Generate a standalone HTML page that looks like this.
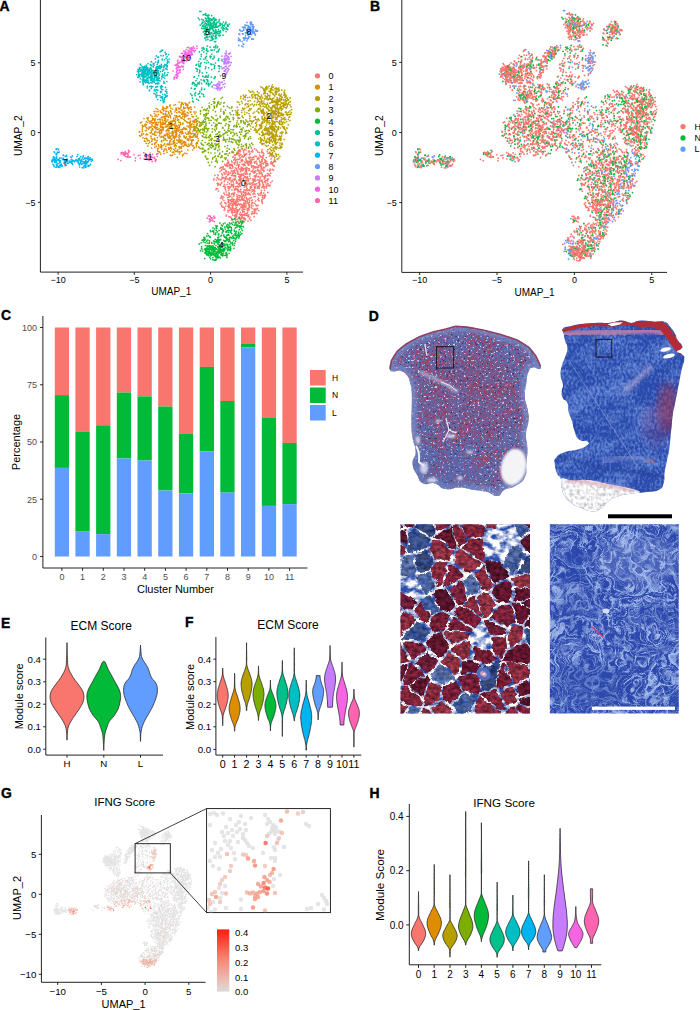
<!DOCTYPE html>
<html><head><meta charset="utf-8"><title>Figure</title>
<style>
html,body{margin:0;padding:0;background:#fff;}
body{width:700px;height:1010px;overflow:hidden;}
svg{display:block;font-family:"Liberation Sans",sans-serif;}
</style></head><body>
<svg width="700" height="1010" viewBox="0 0 700 1010">
<rect width="700" height="1010" fill="#fff"/>
<text transform="translate(-0.5 10.7) scale(0.93 1)" font-size="15" font-weight="bold" fill="#000" stroke="#000" stroke-width="0.4">A</text>
<path d="M40.4 0V272.1H303" fill="none" stroke="#222" stroke-width="1"/>
<line x1="37.8" y1="202.3" x2="40.4" y2="202.3" stroke="#222" stroke-width="1"/>
<text x="35.4" y="205.6" font-size="9" text-anchor="end" fill="#000" >−5</text>
<line x1="37.8" y1="132.6" x2="40.4" y2="132.6" stroke="#222" stroke-width="1"/>
<text x="35.4" y="135.8" font-size="9" text-anchor="end" fill="#000" >0</text>
<line x1="37.8" y1="62.8" x2="40.4" y2="62.8" stroke="#222" stroke-width="1"/>
<text x="35.4" y="66.1" font-size="9" text-anchor="end" fill="#000" >5</text>
<line x1="58.1" y1="272.1" x2="58.1" y2="274.7" stroke="#222" stroke-width="1"/>
<text x="58.1" y="282.9" font-size="9" text-anchor="middle" fill="#000" >−10</text>
<line x1="134.3" y1="272.1" x2="134.3" y2="274.7" stroke="#222" stroke-width="1"/>
<text x="134.3" y="282.9" font-size="9" text-anchor="middle" fill="#000" >−5</text>
<line x1="210.6" y1="272.1" x2="210.6" y2="274.7" stroke="#222" stroke-width="1"/>
<text x="210.6" y="282.9" font-size="9" text-anchor="middle" fill="#000" >0</text>
<line x1="286.9" y1="272.1" x2="286.9" y2="274.7" stroke="#222" stroke-width="1"/>
<text x="286.9" y="282.9" font-size="9" text-anchor="middle" fill="#000" >5</text>
<text x="171.2" y="295" font-size="10" text-anchor="middle" fill="#000" >UMAP_1</text>
<text transform="translate(21.5 135.7) rotate(-90)" font-size="10.2" text-anchor="middle" fill="#000" >UMAP_2</text>
<path d="M252.2 185.0h0M252.8 194.0h0M241.7 197.4h0M261.0 170.8h0M244.3 189.9h0M248.0 221.1h0M254.3 186.6h0M234.7 175.7h0M237.1 209.7h0M263.1 158.6h0M247.9 163.7h0M218.1 175.6h0M235.1 157.7h0M229.0 199.9h0M232.9 201.8h0M237.1 189.4h0M250.1 184.4h0M240.3 171.6h0M240.0 162.4h0M272.0 163.3h0M243.1 207.2h0M264.1 188.2h0M263.2 198.6h0M246.0 159.7h0M264.1 187.7h0M239.2 176.8h0M262.7 195.3h0M240.7 177.7h0M260.1 173.7h0M257.3 186.0h0M228.1 162.7h0M215.9 189.4h0M256.0 176.2h0M249.0 158.5h0M266.8 180.4h0M267.6 180.9h0M253.7 157.2h0M239.9 208.7h0M249.7 176.0h0M249.2 151.7h0M233.2 201.8h0M264.7 196.9h0M245.4 162.7h0M218.0 175.1h0M243.8 165.6h0M270.7 163.0h0M262.3 203.3h0M240.8 189.6h0M242.8 160.7h0M234.7 215.4h0M238.8 150.2h0M249.5 218.9h0M254.2 172.9h0M229.6 177.8h0M235.6 220.0h0M254.7 187.9h0M224.9 209.8h0M225.1 202.9h0M244.2 214.4h0M249.6 207.0h0M229.4 188.8h0M250.0 153.5h0M243.6 152.1h0M242.1 167.9h0M265.6 182.3h0M254.0 209.4h0M257.5 208.3h0M222.6 198.8h0M247.0 214.6h0M233.3 204.9h0M249.2 206.2h0M234.8 192.8h0M237.4 182.9h0M243.6 192.5h0M250.8 163.9h0M240.4 180.2h0M245.3 154.9h0M265.1 194.7h0M242.3 205.1h0M248.6 164.2h0M251.6 187.4h0M252.8 179.1h0M249.9 190.2h0M240.4 178.4h0M258.5 176.4h0M252.1 208.6h0M236.3 181.0h0M252.3 159.0h0M232.9 166.5h0M229.0 202.7h0M237.5 162.0h0M247.4 212.8h0M267.3 151.1h0M237.2 162.2h0M241.2 218.2h0M230.7 177.8h0M227.8 160.2h0M238.6 190.7h0M235.2 189.6h0M239.3 218.5h0M232.6 206.0h0M236.4 214.7h0M236.2 159.8h0M235.1 216.7h0M222.8 178.4h0M249.8 162.5h0M231.4 175.5h0M243.8 218.4h0M272.3 169.3h0M244.8 195.5h0M234.9 202.0h0M246.7 180.3h0M251.1 205.2h0M224.0 210.0h0M251.0 187.3h0M238.4 165.6h0M254.3 176.5h0M235.4 173.5h0M248.5 163.9h0M230.1 204.0h0M232.5 165.2h0M263.7 193.0h0M250.9 220.3h0M248.3 216.7h0M243.7 200.3h0M248.3 168.5h0M249.0 170.5h0M223.3 186.3h0M238.8 199.1h0M230.3 167.4h0M214.9 175.3h0M238.9 155.1h0M243.6 191.4h0M234.6 189.1h0M250.3 157.4h0M249.5 158.4h0M252.4 150.2h0M235.3 189.2h0M224.4 180.9h0M254.3 209.7h0M238.7 203.9h0M223.2 166.9h0M236.0 202.8h0M237.2 219.5h0M240.5 176.5h0M259.4 187.8h0M233.7 208.4h0M263.8 153.8h0M234.0 212.3h0M226.8 165.7h0M241.1 214.3h0M218.8 184.0h0M244.5 149.3h0M256.6 183.5h0M236.8 210.3h0M236.2 183.0h0M240.3 212.3h0M261.1 166.9h0M269.1 153.5h0M223.5 177.6h0M238.8 217.3h0M235.1 162.6h0M246.6 213.8h0M221.5 179.0h0M244.3 211.8h0M257.4 158.7h0M231.5 218.5h0M232.7 185.2h0M231.6 161.1h0M256.9 205.8h0M274.0 165.9h0M217.3 183.6h0M256.2 161.1h0M220.2 171.3h0M257.6 187.8h0M252.1 182.8h0M242.8 211.5h0M232.0 197.1h0M251.9 183.4h0M238.2 186.9h0M263.0 152.7h0M241.8 175.7h0M221.5 202.4h0M255.3 196.5h0M249.1 183.5h0M262.1 159.2h0M232.2 207.1h0M259.5 155.0h0M244.5 176.7h0M240.3 219.4h0M250.3 194.8h0M243.4 194.9h0M226.1 203.7h0M221.9 167.7h0M233.4 170.9h0M272.2 181.1h0M243.7 168.5h0M261.5 167.1h0M255.7 180.6h0M268.7 174.1h0M243.3 205.4h0M244.7 155.5h0M247.6 212.0h0M231.4 212.1h0M239.4 164.9h0M248.4 165.2h0M242.2 170.7h0M261.8 161.4h0M262.1 176.2h0M248.9 207.5h0M258.6 198.2h0M234.5 179.9h0M265.9 162.0h0M263.9 171.6h0M241.9 214.3h0M267.4 173.7h0M225.7 179.5h0M245.7 170.2h0M260.2 155.9h0M235.9 215.1h0M251.6 203.3h0M263.5 167.3h0M235.2 218.9h0M254.7 181.1h0M223.8 207.1h0M246.8 193.9h0M234.9 219.0h0M258.0 199.8h0M217.7 183.0h0M236.4 204.8h0M244.6 214.9h0M249.9 183.2h0M236.7 199.3h0M242.4 159.5h0M252.8 213.5h0M270.7 182.5h0M256.3 167.0h0M245.8 195.6h0M242.2 175.1h0M237.1 183.1h0M243.7 206.5h0M238.2 150.9h0M248.3 192.8h0M236.6 223.8h0M246.2 162.8h0M230.3 187.1h0M259.3 182.3h0M233.9 159.9h0M262.3 160.9h0M235.7 186.5h0M254.3 176.2h0M231.2 203.1h0M262.2 180.6h0M268.1 184.8h0M228.0 206.2h0M233.0 219.6h0M254.7 163.1h0M238.9 195.3h0M255.6 166.9h0M247.0 201.2h0M239.3 183.3h0M262.8 156.9h0M245.4 201.8h0M273.8 155.9h0M232.5 201.1h0M243.8 150.4h0M240.2 186.3h0M246.4 197.9h0M244.8 162.1h0M266.4 187.9h0M236.5 209.5h0M249.4 168.8h0M233.7 186.1h0M232.4 212.9h0M247.5 176.9h0M254.1 216.7h0M254.0 184.8h0M258.5 165.5h0M238.2 210.6h0M243.7 195.7h0M232.8 203.9h0M244.9 209.4h0M259.0 171.8h0M237.9 159.6h0M256.9 163.0h0M266.2 157.5h0M246.4 171.4h0M240.7 200.1h0M255.4 210.6h0M235.5 216.5h0M239.5 214.2h0M257.0 173.8h0M237.4 200.2h0M249.3 189.6h0M260.0 165.8h0M234.4 210.2h0M251.1 160.9h0M248.1 161.7h0M238.5 222.4h0M261.7 187.5h0M242.7 155.9h0M229.9 179.4h0M228.7 162.0h0M252.9 202.7h0M245.9 150.0h0M235.9 212.4h0M251.7 162.7h0M220.9 167.4h0M219.1 179.4h0M241.3 214.7h0M274.4 166.1h0M238.1 172.8h0M253.0 194.1h0M265.2 177.7h0M245.5 174.2h0M240.5 215.1h0M226.1 191.9h0M247.4 163.0h0M265.1 160.3h0M254.0 159.0h0M261.3 192.3h0M265.8 166.1h0M246.5 185.7h0M235.6 155.1h0M237.3 201.6h0M245.6 168.1h0M228.4 190.5h0M246.1 205.2h0M255.2 170.9h0M246.7 153.9h0M235.2 204.2h0M242.3 199.8h0M262.1 149.6h0M247.1 188.5h0M221.9 196.1h0M240.8 180.8h0M223.0 166.8h0M238.4 189.6h0M242.8 198.5h0M235.9 154.7h0M221.5 205.2h0M243.4 179.2h0M236.7 204.2h0M240.3 215.1h0M244.0 219.1h0M236.9 188.9h0M237.0 199.9h0M269.8 186.0h0M249.5 202.2h0M236.6 207.5h0M239.7 177.3h0M255.5 177.5h0M237.0 214.0h0M255.1 186.8h0M240.8 189.4h0M239.3 191.5h0M241.9 218.3h0M217.7 188.8h0M225.8 178.7h0M230.3 208.1h0M240.1 174.9h0M225.8 171.1h0M231.3 164.7h0M257.6 167.0h0M254.4 213.6h0M241.1 178.6h0M263.7 185.2h0M235.5 208.5h0M238.4 218.4h0M238.6 187.1h0M241.3 168.3h0M247.8 203.1h0M251.3 171.4h0M223.5 196.9h0M221.2 183.3h0M238.5 184.3h0M235.4 157.5h0M240.6 155.0h0M249.2 204.8h0M239.7 217.0h0M243.1 208.8h0M261.4 165.9h0M242.1 209.9h0M267.3 175.8h0M232.2 211.7h0M245.2 218.8h0M258.7 210.5h0M242.5 206.1h0M265.1 195.6h0M256.7 209.4h0M267.8 192.4h0M220.5 184.9h0M228.9 192.8h0M241.6 169.5h0M225.4 165.7h0M248.5 161.5h0M250.4 160.1h0M228.8 195.5h0M229.7 165.6h0M241.0 178.9h0M224.4 174.1h0M254.7 203.3h0M233.9 202.9h0M253.0 205.8h0M244.4 209.4h0M240.3 204.0h0M253.9 184.3h0M249.0 210.0h0M228.4 188.5h0M236.6 170.1h0M222.4 207.1h0M239.2 218.5h0M272.0 156.8h0M232.6 210.5h0M237.0 198.4h0M260.4 162.4h0M271.1 154.3h0M258.5 167.4h0M255.7 201.0h0M225.8 170.5h0M242.2 164.4h0M258.9 180.0h0M240.3 175.4h0M258.7 159.0h0M238.6 153.2h0M261.6 172.8h0M228.1 212.1h0M232.6 167.9h0M261.8 159.7h0M225.9 206.1h0M236.9 183.0h0M238.0 199.6h0M259.1 195.1h0M231.0 217.4h0M225.1 187.4h0M251.4 207.2h0M265.3 182.2h0M251.6 166.4h0M266.7 185.9h0M259.0 170.3h0M228.3 171.9h0M231.0 210.0h0M234.7 202.9h0M261.7 163.3h0M233.3 156.9h0M235.5 219.6h0M254.9 179.1h0M228.7 186.6h0M232.3 207.9h0M264.0 170.6h0M239.0 153.4h0M233.8 194.8h0M244.6 203.8h0M254.2 190.3h0M252.0 189.7h0M231.9 210.3h0M229.4 193.4h0M260.9 195.1h0M241.9 220.4h0M235.5 160.9h0M238.2 167.6h0M257.3 188.1h0M228.0 210.4h0M235.9 201.6h0M244.6 197.4h0M261.4 190.4h0M227.9 162.0h0M255.0 186.8h0M241.9 157.0h0M243.9 175.3h0M234.1 163.2h0M249.5 161.5h0M229.7 216.8h0M240.2 221.8h0M260.0 178.8h0M226.4 215.0h0M231.7 194.4h0M248.4 180.3h0M249.5 169.6h0M269.5 171.2h0M248.1 199.0h0M237.2 163.1h0M240.0 169.1h0M229.0 216.7h0M227.7 197.5h0M261.3 193.4h0M227.4 166.4h0M254.7 166.8h0M240.4 171.7h0M223.9 200.4h0M275.6 161.6h0M234.5 190.4h0M255.1 156.1h0M243.5 204.2h0M257.0 164.3h0M221.5 196.2h0M234.0 212.5h0M252.5 159.5h0M249.4 158.6h0M241.4 184.3h0M241.6 194.5h0M263.5 155.5h0M216.3 180.0h0M267.9 165.0h0M266.1 184.0h0M245.9 203.3h0M241.9 185.3h0M217.9 178.3h0M236.6 168.7h0M265.5 196.1h0M270.0 169.0h0M257.5 151.3h0M240.9 182.7h0M265.8 163.4h0M243.0 174.3h0M251.6 165.5h0M247.2 210.2h0M218.9 184.2h0M242.8 215.2h0M248.8 209.9h0M233.9 196.0h0M231.8 212.7h0M239.2 169.2h0M273.2 162.5h0M245.9 189.9h0M271.0 158.9h0M246.3 153.6h0M245.9 206.8h0M238.5 180.2h0M232.1 208.4h0M243.4 214.8h0M247.2 173.9h0M244.1 217.6h0M238.7 166.7h0M232.0 199.0h0M239.3 159.1h0M229.5 210.1h0M249.0 157.3h0M243.3 200.3h0M221.7 197.6h0M244.5 164.6h0M261.0 165.0h0M259.3 184.8h0M270.9 163.8h0M233.1 199.2h0M224.8 169.2h0M267.7 178.9h0M234.8 158.6h0M227.0 195.0h0M242.1 197.6h0M262.4 197.2h0M232.6 174.9h0M245.9 182.2h0M228.4 201.6h0M219.9 171.5h0M227.4 165.2h0M240.9 154.4h0M262.8 168.6h0M228.7 174.6h0M246.4 160.8h0M224.9 202.6h0M264.4 198.1h0M239.7 183.3h0M259.4 173.6h0M252.3 200.0h0M254.6 148.9h0M261.0 173.2h0M261.9 152.7h0M246.4 215.3h0M243.3 150.6h0M259.7 152.5h0M263.7 176.6h0M260.0 161.8h0M274.5 159.8h0M227.7 186.8h0M242.9 168.4h0M237.3 205.4h0M237.1 186.1h0M242.2 207.7h0M236.6 182.4h0M224.5 184.4h0M250.5 178.3h0M229.0 203.0h0M258.5 186.3h0M221.7 182.4h0M260.2 177.2h0M245.3 165.4h0M242.4 220.8h0M226.8 194.4h0M233.4 208.9h0M240.0 149.7h0M229.1 197.1h0M223.8 186.2h0M247.5 200.7h0M229.0 194.5h0M236.0 217.4h0M237.4 189.4h0M259.0 200.8h0M269.8 153.4h0M245.7 169.0h0M245.8 206.5h0M223.1 169.1h0M235.7 176.6h0M243.4 156.8h0M227.8 182.3h0M262.0 181.5h0M246.7 189.1h0M257.8 199.6h0M249.4 193.8h0M246.3 168.1h0M261.8 156.9h0M245.8 192.2h0M273.5 166.0h0M230.4 187.3h0M246.7 172.7h0M225.4 177.6h0M269.1 186.0h0M232.7 157.1h0M264.3 179.1h0M242.3 148.6h0M221.8 173.8h0M267.9 175.6h0M252.1 157.3h0M241.4 178.9h0M239.4 195.5h0M233.4 181.9h0M237.6 199.6h0M237.3 170.6h0M255.0 209.9h0M231.0 209.4h0M231.5 199.7h0M257.5 159.0h0M237.2 152.3h0M220.7 179.8h0M264.6 176.3h0M255.3 168.0h0M250.6 188.2h0M260.5 156.9h0M247.6 184.4h0M227.8 202.1h0M262.9 155.6h0M257.0 170.8h0M271.4 161.6h0M228.8 163.5h0M233.6 184.0h0M237.9 197.0h0M231.0 168.4h0M246.9 199.1h0M254.8 184.1h0M228.6 204.8h0M248.7 203.9h0M252.7 170.5h0M246.4 148.0h0M230.5 200.2h0M240.7 192.1h0M240.0 158.1h0M274.7 160.3h0M252.7 159.7h0M267.5 169.8h0M231.9 189.8h0M220.4 203.6h0M262.8 186.7h0M246.0 183.9h0M238.3 164.5h0M245.5 173.5h0M261.8 151.4h0M237.8 171.0h0M254.2 213.1h0M259.6 171.9h0M252.8 151.8h0M249.0 208.8h0M267.1 163.5h0M250.2 198.2h0M235.5 204.1h0M236.0 200.1h0M256.4 149.9h0M243.9 221.9h0M224.4 186.5h0M238.1 164.8h0M245.6 180.2h0M249.1 165.1h0M239.6 185.2h0M253.9 196.6h0M224.8 164.3h0M248.9 214.9h0M240.3 157.8h0M266.8 165.7h0M237.5 204.0h0M246.9 170.1h0M236.5 215.4h0M255.1 208.9h0M249.3 174.1h0M248.8 179.1h0M264.6 167.7h0M267.8 183.4h0M231.1 180.6h0M266.7 161.5h0M244.9 215.3h0M239.2 209.7h0M233.5 185.3h0M240.8 215.3h0M248.2 194.1h0M249.5 200.8h0M232.0 205.4h0M232.3 173.4h0M270.5 170.1h0M250.0 217.0h0M245.0 192.6h0M244.8 183.3h0M227.1 184.5h0M262.6 182.9h0M232.8 215.1h0M247.0 190.3h0M238.0 201.7h0M251.7 159.4h0M252.3 211.8h0M252.9 191.2h0M230.1 172.7h0M241.9 216.7h0M224.2 181.5h0M217.9 185.4h0M248.7 161.4h0M245.2 200.6h0M248.8 204.7h0M247.7 178.8h0M241.1 204.2h0M239.4 204.8h0M260.0 164.3h0M244.6 193.1h0M273.4 170.1h0M249.4 190.3h0M239.6 191.5h0M231.1 201.4h0M233.8 176.0h0M246.8 201.7h0M241.0 207.1h0M263.3 163.8h0M233.6 173.1h0M253.0 180.9h0M246.0 171.8h0M247.2 208.4h0M245.5 194.4h0M261.7 163.7h0M246.7 198.7h0M273.8 161.7h0M249.4 154.7h0M236.9 194.3h0M245.9 158.1h0M228.8 206.3h0M231.2 186.1h0M253.4 180.6h0M235.7 175.9h0M254.8 191.2h0M241.8 156.8h0M246.9 167.7h0M222.1 177.1h0M233.1 204.2h0M263.4 185.5h0M241.5 174.2h0M238.5 165.2h0M251.6 167.2h0M257.9 152.3h0M255.5 161.7h0M244.3 206.9h0M250.2 173.9h0M232.0 193.5h0M240.3 151.6h0M229.1 165.7h0M246.4 146.9h0M236.7 216.2h0M267.8 163.9h0M239.6 178.8h0M248.0 162.2h0M253.3 168.9h0M247.5 161.2h0M234.9 178.4h0M234.5 155.2h0M252.8 166.0h0M264.0 198.1h0M265.6 160.5h0M239.0 174.4h0M264.1 186.6h0M246.2 162.6h0M241.3 170.5h0M225.6 189.8h0M233.9 199.9h0M241.2 167.1h0M229.7 183.8h0M261.1 180.7h0M255.1 180.6h0M231.0 201.4h0M266.1 165.1h0M231.7 164.3h0M223.9 200.3h0M257.1 167.8h0M220.5 198.1h0M244.0 154.2h0M246.8 183.4h0M227.1 195.2h0M257.8 193.6h0M230.5 165.2h0M251.6 200.6h0M260.9 169.0h0M243.3 178.1h0M226.2 171.5h0M255.5 187.9h0M255.1 172.4h0M231.4 170.8h0M251.6 214.1h0M258.3 167.3h0M236.5 165.3h0M237.3 159.3h0M244.2 205.4h0M250.3 186.9h0M237.0 211.9h0M222.4 174.6h0M224.7 208.2h0M235.4 188.4h0M264.8 181.4h0M221.8 206.2h0M232.5 180.7h0M234.7 163.9h0M237.3 213.0h0M248.4 164.7h0M254.5 171.7h0M247.6 178.1h0M243.8 199.4h0M227.5 178.5h0M261.7 200.8h0M269.6 175.1h0M262.0 180.3h0M230.1 196.1h0M259.6 185.9h0M237.5 171.2h0M269.6 156.1h0M262.1 174.4h0M232.4 205.3h0M231.5 185.8h0M226.5 164.7h0M230.1 204.0h0M253.1 172.4h0M235.6 214.8h0M218.4 191.0h0M264.7 159.7h0M253.5 166.8h0M238.7 176.5h0M250.2 163.2h0M235.2 211.6h0M266.4 187.0h0M237.6 172.5h0M244.2 206.9h0M241.4 193.1h0M228.5 207.8h0M254.5 167.5h0M224.9 178.7h0M229.8 187.3h0M242.3 205.9h0M242.3 217.4h0M234.9 210.5h0M227.9 199.5h0M270.0 185.1h0M256.4 156.3h0M231.5 165.6h0M237.9 211.5h0M270.6 173.2h0M243.9 177.8h0M221.7 170.2h0M237.6 174.0h0M239.6 200.1h0M247.7 215.8h0M242.9 191.9h0M229.4 206.9h0M263.1 170.1h0M241.5 199.1h0M248.4 151.9h0M253.3 165.8h0M255.8 184.7h0M253.7 179.1h0M262.3 175.3h0M235.6 216.7h0M243.7 211.0h0M232.2 171.6h0M248.6 204.8h0M265.5 176.3h0M234.6 170.2h0M251.1 192.0h0M247.5 161.8h0M242.4 196.3h0M238.6 151.7h0M263.6 195.5h0M256.1 175.4h0M234.6 203.9h0M226.1 176.5h0M251.5 213.6h0M235.9 160.1h0M234.0 194.7h0M229.5 183.8h0M237.0 196.2h0M229.6 164.4h0M256.9 173.8h0M251.5 186.3h0M248.1 181.6h0M262.6 156.7h0M217.1 177.6h0M233.2 179.2h0M237.6 153.7h0M232.1 162.1h0M225.1 186.7h0M233.4 201.4h0M228.1 173.0h0M246.1 177.9h0M226.3 176.7h0M251.4 147.9h0M254.2 211.5h0M259.7 183.5h0M264.8 162.1h0M233.4 176.0h0M234.3 203.7h0M240.3 180.9h0M214.1 178.8h0M213.6 180.0h0M228.5 206.6h0M234.9 172.2h0M244.1 173.0h0M274.3 160.9h0M263.4 198.6h0M259.6 181.4h0M226.2 215.9h0M249.0 199.1h0M240.5 178.5h0M230.1 173.5h0M260.3 193.3h0M241.2 160.2h0M240.8 196.1h0M261.9 199.6h0M254.1 189.3h0M265.8 180.5h0M233.3 187.5h0M244.3 187.2h0M263.0 184.7h0M251.1 162.2h0M228.3 179.4h0M264.3 178.5h0M263.0 182.6h0M240.0 150.8h0M262.1 201.4h0M258.2 177.0h0M226.0 171.8h0M252.0 203.4h0M265.9 186.3h0M244.0 202.8h0M256.6 213.4h0M235.6 205.7h0M258.8 194.8h0M268.5 179.0h0M255.0 212.7h0M220.0 168.4h0M266.4 165.4h0M245.8 176.9h0M242.1 185.4h0M229.3 179.8h0M235.2 167.8h0M258.1 205.3h0M222.4 174.9h0M233.3 186.4h0M271.1 155.1h0M243.5 181.1h0M259.1 188.6h0M231.1 181.9h0M220.1 184.8h0M272.4 163.2h0M245.1 168.3h0M240.1 200.7h0M245.6 213.5h0M245.1 154.3h0M238.2 192.0h0M233.5 200.4h0M239.5 197.3h0M237.0 204.9h0M234.3 193.0h0M239.3 180.4h0M241.6 193.5h0M258.4 157.7h0M259.5 160.9h0M254.0 192.8h0M234.2 199.5h0M248.4 203.0h0M247.6 208.5h0M261.6 168.0h0M223.9 193.2h0M255.0 194.0h0M228.7 200.5h0M246.6 187.1h0M242.0 156.9h0M229.8 204.9h0M245.5 220.0h0M233.0 193.3h0M241.7 161.4h0M259.8 181.2h0M226.0 173.7h0M227.0 163.3h0M248.0 190.6h0M270.2 175.8h0M239.5 156.1h0M244.8 207.1h0M272.8 164.7h0M253.4 182.5h0M231.5 184.3h0M265.5 175.4h0M242.6 212.3h0M224.0 172.4h0M257.7 169.9h0M234.0 170.8h0M223.5 169.1h0M235.5 179.2h0M257.5 179.9h0M235.8 214.5h0M251.5 197.6h0M254.2 162.2h0M267.8 153.0h0M258.0 176.7h0M240.8 191.3h0M249.0 150.9h0M225.2 188.5h0M264.1 162.5h0M224.8 194.5h0M252.7 190.3h0M262.2 202.5h0M229.6 167.8h0M255.8 204.8h0M258.5 182.6h0M259.9 184.8h0M243.6 164.1h0M255.3 175.7h0M243.5 169.9h0M262.6 169.9h0M244.5 155.8h0M231.7 219.9h0M237.6 190.5h0M251.3 151.7h0M257.9 186.6h0M245.7 186.1h0M257.2 159.0h0M216.6 188.7h0M241.2 206.3h0M245.5 171.0h0M264.4 190.3h0M259.0 158.4h0M253.1 171.8h0M227.7 174.9h0" stroke="#F8766D" stroke-width="1.7" stroke-linecap="round" fill="none"/>
<path d="M178.9 135.6h0M197.8 130.4h0M167.6 107.1h0M196.5 136.8h0M184.2 136.6h0M180.7 123.8h0M165.3 138.8h0M194.4 135.1h0M155.4 128.4h0M176.8 112.6h0M172.5 124.3h0M196.4 132.3h0M159.9 133.9h0M193.9 120.7h0M153.6 118.9h0M170.2 115.4h0M175.0 132.6h0M156.4 129.2h0M178.2 131.0h0M178.8 147.1h0M161.4 133.1h0M173.7 152.1h0M186.5 105.0h0M172.3 121.0h0M198.6 146.9h0M174.6 137.2h0M165.4 118.1h0M153.0 129.4h0M172.8 133.9h0M172.5 125.5h0M173.0 144.0h0M155.1 139.8h0M177.0 128.2h0M166.8 130.7h0M162.3 122.6h0M149.4 121.3h0M144.8 138.6h0M154.8 138.7h0M195.4 130.4h0M147.2 140.8h0M165.3 122.8h0M180.1 132.2h0M179.7 115.7h0M185.9 105.2h0M166.6 106.7h0M183.6 107.2h0M156.0 135.1h0M183.3 142.0h0M167.1 144.6h0M140.6 136.1h0M174.5 142.5h0M176.5 131.8h0M166.9 115.2h0M176.3 136.0h0M189.8 131.2h0M176.8 133.7h0M155.9 127.6h0M179.8 151.6h0M193.1 126.7h0M187.4 107.3h0M174.3 128.7h0M165.2 120.2h0M194.1 121.2h0M172.7 124.7h0M157.2 125.5h0M151.0 136.8h0M157.8 124.6h0M165.2 108.5h0M193.2 145.8h0M161.6 131.8h0M151.4 132.1h0M162.5 127.5h0M166.9 114.9h0M191.3 124.5h0M180.0 148.1h0M191.0 107.1h0M156.1 108.6h0M173.1 143.6h0M174.5 138.8h0M147.6 140.2h0M171.7 113.7h0M150.6 115.0h0M156.1 124.4h0M189.2 145.3h0M185.6 142.4h0M163.7 110.4h0M185.4 128.4h0M194.8 107.1h0M190.8 124.7h0M177.2 126.2h0M175.3 144.1h0M199.9 124.9h0M174.7 142.6h0M154.1 111.3h0M191.3 133.9h0M166.2 130.9h0M186.4 136.9h0M151.5 138.7h0M178.8 141.4h0M170.1 104.9h0M147.6 122.5h0M182.8 124.1h0M161.8 112.7h0M162.2 117.2h0M144.9 141.2h0M170.4 121.4h0M170.5 136.7h0M168.2 144.3h0M197.2 136.9h0M157.5 148.7h0M164.4 135.0h0M154.8 122.1h0M167.9 126.0h0M189.4 136.5h0M155.9 115.2h0M153.9 126.7h0M161.5 130.4h0M161.9 149.1h0M185.0 103.0h0M179.5 127.5h0M177.5 128.6h0M188.2 113.0h0M181.0 117.7h0M148.1 117.7h0M165.9 110.9h0M170.9 111.3h0M167.9 136.6h0M173.9 105.3h0M174.1 120.6h0M180.4 122.3h0M175.4 137.1h0M157.3 132.5h0M183.4 143.0h0M190.8 111.9h0M174.6 125.5h0M166.7 108.3h0M168.7 147.6h0M139.6 135.7h0M176.6 131.0h0M197.0 135.8h0M165.0 119.2h0M172.5 152.4h0M196.0 112.1h0M190.5 112.5h0M194.0 124.6h0M171.8 132.0h0M163.1 122.0h0M155.8 142.7h0M200.7 132.8h0M163.7 145.0h0M184.9 128.7h0M155.0 120.4h0M155.2 124.8h0M190.3 107.3h0M158.8 145.9h0M168.5 130.1h0M187.8 122.8h0M177.5 120.0h0M183.7 146.2h0M162.2 127.2h0M184.0 129.0h0M159.9 152.3h0M196.2 143.7h0M194.8 129.6h0M190.2 132.9h0M173.5 120.4h0M191.1 136.9h0M164.3 123.6h0M189.3 136.6h0M154.9 126.7h0M164.6 120.3h0M157.3 137.6h0M188.4 118.9h0M140.5 122.9h0M182.7 103.2h0M151.9 124.5h0M185.6 143.6h0M154.1 122.6h0M168.9 124.6h0M190.9 143.9h0M155.0 116.2h0M146.3 138.2h0M184.6 144.8h0M170.9 122.6h0M181.8 140.7h0M145.9 124.4h0M174.9 145.1h0M165.3 135.8h0M193.4 140.2h0M183.9 136.1h0M170.3 148.1h0M174.5 120.7h0M167.4 125.9h0M170.1 140.8h0M157.2 116.5h0M186.7 104.9h0M168.1 111.6h0M182.1 118.4h0M183.0 123.0h0M139.2 131.8h0M168.3 117.3h0M172.6 155.0h0M166.1 111.4h0M160.8 137.0h0M146.6 134.0h0M165.8 126.3h0M187.3 146.5h0M162.4 122.3h0M168.8 122.4h0M175.8 126.2h0M189.4 108.2h0M187.6 106.0h0M190.9 140.2h0M192.5 121.4h0M161.2 146.2h0M169.6 135.4h0M172.8 131.6h0M159.5 135.8h0M151.7 141.2h0M196.2 146.9h0M176.1 129.0h0M151.5 130.5h0M179.7 116.3h0M166.8 121.3h0M199.7 125.7h0M191.9 133.3h0M190.0 135.9h0M167.6 143.9h0M178.9 122.2h0M193.3 133.5h0M170.5 150.9h0M176.9 151.1h0M166.0 121.4h0M181.4 143.6h0M173.7 142.3h0M175.3 119.1h0M183.5 128.3h0M168.6 131.8h0M172.7 128.1h0M159.6 133.0h0M163.2 128.7h0M167.2 129.7h0M144.0 118.5h0M168.8 112.5h0M165.7 124.0h0M172.4 121.7h0M184.7 120.3h0M161.6 140.7h0M163.3 113.6h0M169.3 143.7h0M165.7 116.0h0M188.6 140.3h0M178.8 137.5h0M160.1 147.3h0M175.5 148.0h0M184.4 136.0h0M181.1 110.1h0M186.9 153.6h0M169.9 138.2h0M178.6 119.9h0M187.5 139.7h0M181.0 146.8h0M161.0 144.5h0M168.9 149.2h0M187.1 107.7h0M144.9 126.0h0M160.7 129.6h0M175.9 133.0h0M162.5 120.2h0M189.0 146.3h0M189.1 102.8h0M169.7 126.7h0M169.5 143.0h0M148.3 120.3h0M151.6 148.0h0M194.6 126.9h0M152.4 122.9h0M191.6 144.4h0M179.1 146.6h0M159.7 132.1h0M175.5 104.5h0M179.4 139.0h0M193.6 136.7h0M149.2 127.2h0M164.4 149.1h0M187.8 150.0h0M182.8 143.0h0M146.0 134.8h0M176.5 115.7h0M147.6 134.6h0M155.0 147.5h0M173.3 141.4h0M185.9 104.7h0M165.5 134.7h0M164.8 143.8h0M149.9 123.3h0M189.0 133.2h0M174.7 150.5h0M184.4 143.0h0M147.0 118.1h0M155.1 143.0h0M182.5 155.1h0M188.6 127.0h0M169.3 122.3h0M175.3 127.9h0M189.8 123.8h0M174.1 136.2h0M167.5 124.8h0M178.3 116.5h0M159.1 151.7h0M172.8 134.9h0M152.3 120.2h0M182.8 116.3h0M169.0 130.3h0M161.8 136.4h0M177.2 116.6h0M199.9 122.5h0M154.7 132.9h0M145.4 130.5h0M184.2 136.9h0M175.6 109.9h0M191.0 124.3h0M186.0 103.5h0M153.3 123.1h0M180.8 142.1h0M176.0 108.1h0M188.4 108.2h0M159.8 119.1h0M168.8 113.2h0M169.8 106.2h0M182.1 110.0h0M194.1 111.9h0M169.0 148.8h0M192.6 145.8h0M171.9 135.7h0M194.4 122.3h0M152.2 116.7h0M156.5 141.9h0M160.7 123.7h0M177.8 149.8h0M162.7 108.9h0M189.2 122.8h0M158.2 148.4h0M187.2 112.4h0M181.8 114.1h0M188.4 134.2h0M163.7 124.1h0M185.4 132.9h0M162.5 126.8h0M165.4 139.7h0M168.0 128.8h0M183.0 129.0h0M166.5 150.1h0M160.6 127.1h0M174.9 123.9h0M190.1 127.2h0M144.7 126.0h0M169.9 142.0h0M196.8 131.2h0M169.1 123.3h0M143.5 133.8h0M158.5 114.6h0M142.5 128.0h0M180.2 140.1h0M189.0 139.0h0M186.1 115.9h0M161.5 147.4h0M156.5 124.2h0M174.0 124.4h0M194.6 128.0h0M170.0 133.2h0M158.1 111.7h0M171.6 148.9h0M158.4 144.5h0M167.2 135.2h0M180.8 117.7h0M196.6 145.2h0M163.6 108.0h0M177.3 157.4h0M191.2 109.3h0M179.1 102.1h0M186.6 145.4h0M191.8 143.0h0M179.1 129.9h0M175.5 121.4h0M195.3 135.0h0M185.8 144.8h0M162.3 124.4h0M176.9 143.3h0M196.2 126.4h0M141.8 134.9h0M178.9 128.0h0M173.2 137.5h0M184.4 141.6h0M152.5 129.4h0M191.7 127.1h0M176.3 125.9h0M161.6 127.3h0M174.8 115.6h0M186.0 129.5h0M159.0 128.5h0M174.6 154.0h0M167.0 140.6h0M184.5 117.4h0M160.2 121.3h0M165.2 123.4h0M181.3 104.4h0M154.4 119.8h0M182.4 112.9h0M170.5 117.7h0M180.7 131.7h0M194.9 113.8h0M188.1 139.9h0M193.4 135.6h0M188.7 134.0h0M192.2 123.8h0M160.3 126.6h0M176.7 116.3h0M197.6 120.8h0M192.2 116.6h0M185.4 121.0h0M178.9 125.2h0M170.7 140.8h0M193.2 136.7h0M182.2 112.1h0M183.9 127.7h0M190.3 121.0h0M146.4 124.7h0M187.9 115.3h0M184.4 108.0h0M156.1 115.2h0M147.6 118.9h0M157.6 150.3h0M175.7 148.4h0M162.3 109.4h0M146.1 127.3h0M160.6 126.1h0M166.1 130.9h0M172.1 133.7h0M171.3 139.2h0M187.1 126.1h0M164.2 150.1h0M154.9 147.4h0M180.0 136.4h0M167.1 152.2h0M178.2 127.8h0M192.5 137.2h0M168.3 138.1h0M180.1 152.4h0M179.8 108.6h0M186.7 134.3h0M168.9 124.2h0M157.3 127.5h0M176.2 135.0h0M187.2 104.5h0M163.5 123.4h0M176.8 129.8h0M155.3 118.8h0M187.7 105.8h0M183.2 146.3h0M163.6 123.8h0M142.3 125.4h0M146.4 130.4h0M177.2 129.1h0M183.1 114.4h0M180.6 140.9h0M176.8 139.9h0M179.4 154.0h0M156.7 122.3h0M169.5 144.9h0M178.8 140.2h0M165.5 122.1h0M163.5 136.3h0M173.4 142.4h0M181.8 132.5h0M159.0 128.5h0M193.7 121.9h0M141.7 134.1h0M164.8 116.6h0M175.7 134.8h0M179.9 136.4h0M175.2 126.6h0M159.1 132.3h0M189.2 125.5h0M157.9 129.6h0M159.2 119.5h0M142.3 129.7h0M162.3 119.4h0M147.9 146.1h0M188.7 122.7h0M152.6 139.4h0M172.6 135.7h0M148.6 129.1h0M185.7 138.3h0M195.6 119.9h0M176.7 110.2h0M173.3 133.0h0M168.2 116.6h0M175.9 151.6h0M192.6 150.0h0M198.1 138.6h0M152.7 118.7h0M174.1 140.7h0M173.1 152.0h0M179.2 141.6h0M157.9 151.5h0M179.4 126.6h0M190.2 129.4h0M161.8 127.1h0M183.9 128.4h0M181.1 105.9h0M164.9 108.6h0M183.8 119.3h0M172.6 152.4h0M160.1 130.5h0M186.8 121.9h0M168.7 123.4h0M153.8 134.2h0M150.4 133.1h0M154.5 143.6h0M196.9 124.6h0M154.7 140.0h0M181.0 129.7h0M198.0 132.9h0M191.8 141.5h0M162.1 145.9h0M156.4 146.2h0M190.2 137.1h0M179.1 127.3h0M181.2 133.8h0M144.4 141.0h0M152.3 133.9h0M193.9 148.5h0M192.3 140.2h0M184.6 111.2h0M187.3 139.5h0M165.7 146.3h0M161.6 137.1h0M171.9 139.0h0M177.5 119.0h0M155.8 131.3h0M170.8 108.0h0M152.2 120.2h0M152.3 130.0h0M147.0 138.8h0M164.4 116.6h0M179.8 132.5h0M165.3 124.0h0M177.3 129.6h0M154.8 135.0h0M187.9 138.8h0M142.5 127.1h0M157.2 140.5h0M183.0 133.2h0M162.9 108.7h0M143.2 126.2h0M151.1 121.2h0M165.5 113.3h0M151.0 122.2h0M194.0 121.5h0M159.3 131.1h0M168.6 113.5h0M178.5 142.2h0M184.1 113.2h0M191.1 144.2h0M160.3 122.2h0M165.9 149.1h0M183.3 113.3h0M183.8 111.3h0M199.1 121.9h0M163.2 129.9h0M176.3 145.9h0M167.0 133.1h0M181.9 140.3h0M160.9 154.2h0M169.3 124.3h0M179.7 148.4h0M171.2 144.2h0M170.3 116.7h0M154.5 138.4h0M181.3 146.9h0M147.0 128.2h0M154.8 144.4h0M187.4 115.7h0M154.4 113.5h0M191.0 144.8h0M150.9 127.0h0M188.1 131.8h0M157.6 119.6h0M175.9 117.2h0M183.2 104.4h0M183.2 129.0h0M192.4 140.1h0M182.7 124.1h0M182.4 129.3h0M169.8 141.8h0M146.2 143.3h0M179.5 108.9h0M165.5 119.1h0M190.1 122.4h0M161.3 117.6h0M141.7 122.0h0M163.6 151.3h0M174.4 146.2h0M158.5 122.6h0M164.0 153.6h0M196.9 142.4h0M181.5 148.0h0M189.6 102.3h0M161.0 124.8h0M180.3 142.7h0M165.2 114.6h0M163.4 127.4h0M139.7 132.1h0M157.8 109.3h0M173.7 118.1h0M194.2 147.4h0M154.5 127.2h0M193.4 116.8h0M166.8 126.8h0M192.9 131.0h0M164.2 138.4h0M179.3 134.9h0M187.6 104.4h0M173.5 118.5h0M151.0 127.2h0M146.3 121.6h0M160.4 129.8h0M148.0 118.6h0M191.7 114.5h0M183.8 108.7h0M152.3 128.5h0M181.2 147.0h0M194.8 134.0h0M161.3 145.2h0M161.1 124.1h0M196.1 122.1h0M175.1 144.1h0M176.4 125.3h0M170.8 147.2h0M173.2 152.5h0M145.3 124.2h0M182.4 131.4h0M163.6 140.3h0M182.0 144.7h0M150.9 115.3h0M183.5 154.4h0M190.1 118.7h0M173.0 133.4h0M191.3 109.4h0M180.9 107.5h0M160.2 119.6h0M182.9 133.4h0M150.9 136.1h0M178.2 151.9h0M170.8 112.0h0M201.3 125.1h0M178.3 108.1h0M175.0 130.5h0M174.6 138.6h0M155.9 123.2h0M197.4 128.1h0M145.0 125.0h0M188.5 109.8h0M183.4 141.6h0M142.9 137.8h0M181.6 102.6h0M172.8 125.1h0M177.0 116.9h0M182.4 155.8h0M186.7 104.6h0M176.6 136.6h0M184.7 114.9h0M163.3 116.7h0M174.1 121.1h0M164.5 118.0h0M170.7 122.9h0M178.6 111.8h0M190.3 111.7h0M176.4 108.9h0M166.9 115.8h0M172.3 128.8h0M142.4 131.7h0M194.2 120.2h0M173.0 131.2h0M197.4 123.5h0M165.6 139.0h0M188.3 133.5h0M186.5 129.2h0M162.8 129.4h0M160.1 110.8h0M161.0 129.4h0M150.2 132.8h0M184.6 116.6h0M160.7 112.2h0M180.5 124.7h0M185.3 137.8h0M188.4 144.2h0M167.9 119.8h0M174.1 140.8h0M185.3 113.9h0M196.4 122.3h0M168.5 128.3h0M157.9 111.6h0M156.1 111.6h0M149.8 142.3h0M165.3 127.0h0M168.1 125.6h0M163.5 137.4h0M149.7 128.0h0M188.8 132.9h0M190.1 127.9h0M152.2 125.9h0M185.1 108.2h0M177.5 120.2h0M191.4 124.6h0M166.7 115.6h0M175.1 131.5h0M173.8 149.3h0M162.6 109.5h0M181.7 151.2h0M198.3 140.7h0M179.2 111.5h0M169.5 127.1h0M154.9 131.9h0M170.5 110.5h0M154.6 120.4h0M180.2 112.6h0M175.5 123.0h0M148.4 143.6h0M163.3 114.1h0M169.4 115.1h0M185.0 153.2h0M178.2 140.4h0M195.1 128.8h0M172.1 155.3h0M167.1 133.4h0M175.0 111.8h0M152.6 139.6h0M162.8 106.8h0M172.6 109.0h0M171.7 121.4h0M149.0 140.5h0M185.7 114.3h0M190.1 137.7h0M166.2 116.1h0M179.3 108.9h0M169.5 124.5h0M152.1 144.2h0M160.7 126.8h0M161.5 141.7h0M190.8 125.5h0M163.5 110.9h0M170.9 155.4h0M155.4 125.3h0M169.4 137.3h0M170.3 155.3h0M168.5 134.4h0M157.0 140.3h0M171.6 123.6h0" stroke="#DE8C00" stroke-width="1.7" stroke-linecap="round" fill="none"/>
<path d="M252.0 91.7h0M281.8 108.5h0M268.3 142.0h0M272.3 126.0h0M283.4 106.8h0M286.6 121.5h0M265.9 141.1h0M236.0 114.5h0M262.9 113.1h0M289.9 120.6h0M278.6 127.3h0M282.9 132.1h0M266.5 133.7h0M271.4 88.3h0M247.7 104.3h0M264.0 112.2h0M276.2 132.7h0M241.7 112.5h0M291.3 112.5h0M287.6 98.0h0M278.2 148.0h0M282.6 108.5h0M272.2 132.8h0M274.1 141.1h0M279.7 98.2h0M277.8 89.6h0M266.5 98.8h0M248.7 106.6h0M276.2 114.7h0M281.8 132.0h0M272.0 101.5h0M266.0 87.2h0M244.2 96.6h0M251.5 123.7h0M259.8 98.7h0M291.0 106.9h0M264.0 143.7h0M273.2 117.2h0M281.0 102.5h0M268.3 135.0h0M273.1 126.5h0M265.2 95.9h0M279.3 138.9h0M271.8 120.3h0M261.5 95.1h0M260.2 105.7h0M285.7 107.6h0M273.7 134.5h0M264.6 138.6h0M259.1 108.3h0M271.7 109.2h0M279.8 145.3h0M242.3 103.0h0M277.0 104.4h0M266.5 129.1h0M264.8 113.2h0M260.1 128.4h0M266.6 96.5h0M259.6 96.6h0M276.4 156.2h0M282.3 144.6h0M269.1 140.1h0M268.4 99.1h0M279.4 136.2h0M253.8 120.5h0M274.8 157.7h0M273.2 136.5h0M243.4 95.2h0M265.1 130.5h0M275.0 101.0h0M283.9 92.2h0M269.9 134.0h0M272.5 154.9h0M275.4 110.6h0M274.4 130.6h0M283.6 114.7h0M267.5 133.1h0M261.5 143.6h0M261.2 102.3h0M290.2 97.9h0M257.1 119.8h0M267.8 132.1h0M282.1 122.6h0M256.6 125.3h0M273.9 105.5h0M272.4 141.9h0M268.2 133.8h0M257.3 98.2h0M275.1 111.9h0M250.5 104.9h0M274.4 112.5h0M280.1 139.8h0M264.7 89.1h0M264.3 113.2h0M247.7 97.5h0M241.9 110.5h0M271.2 124.0h0M271.1 129.1h0M261.8 103.8h0M274.6 112.3h0M278.6 158.5h0M256.8 111.0h0M282.1 113.9h0M264.8 89.7h0M276.1 135.3h0M275.2 113.0h0M273.6 134.2h0M255.5 98.3h0M278.3 154.7h0M266.7 112.2h0M237.1 111.7h0M267.4 115.8h0M282.2 124.4h0M269.2 123.8h0M262.2 118.5h0M284.2 104.3h0M252.4 121.9h0M263.6 111.8h0M273.5 121.3h0M273.9 94.8h0M273.3 130.0h0M267.6 120.1h0M275.0 121.8h0M274.7 113.6h0M281.7 90.2h0M258.8 104.6h0M242.6 108.2h0M277.4 104.2h0M244.8 108.3h0M254.6 101.4h0M268.2 95.2h0M280.5 105.1h0M271.8 133.6h0M250.1 110.0h0M280.0 143.0h0M240.6 98.3h0M260.4 97.3h0M259.3 134.1h0M275.9 138.3h0M286.6 112.6h0M269.9 110.7h0M266.8 130.7h0M261.0 102.0h0M264.1 129.8h0M278.6 126.5h0M284.0 102.3h0M276.3 99.6h0M266.9 108.3h0M270.9 118.0h0M259.1 120.3h0M270.5 127.2h0M269.7 134.9h0M280.0 107.9h0M271.0 133.1h0M281.3 98.8h0M269.8 96.8h0M287.5 114.2h0M281.1 124.6h0M269.8 143.1h0M255.2 94.5h0M273.6 145.0h0M261.0 110.6h0M272.5 152.6h0M271.9 136.5h0M273.6 114.1h0M266.2 119.9h0M271.7 112.5h0M269.8 141.7h0M278.2 100.0h0M263.9 101.0h0M279.9 113.1h0M273.1 117.8h0M262.8 134.4h0M266.0 134.0h0M275.7 114.9h0M259.0 92.9h0M268.9 91.1h0M256.5 104.7h0M279.9 156.3h0M275.7 140.4h0M252.2 104.1h0M283.6 128.1h0M286.2 132.7h0M266.6 104.9h0M273.6 128.3h0M273.0 148.4h0M275.5 136.7h0M249.4 121.0h0M281.5 135.9h0M255.1 95.2h0M273.2 101.7h0M273.3 106.3h0M261.2 125.0h0M273.6 135.9h0M273.0 136.7h0M264.4 122.2h0M275.6 136.2h0M267.9 109.0h0M267.6 96.2h0M277.3 91.8h0M278.3 104.5h0M244.8 114.3h0M239.3 114.6h0M276.2 90.9h0M276.7 126.9h0M239.6 104.5h0M243.2 98.9h0M263.4 111.2h0M261.6 112.8h0M271.5 112.5h0M259.0 113.0h0M272.0 108.3h0M277.6 99.4h0M265.7 120.8h0M273.8 136.3h0M263.7 140.7h0M280.0 104.5h0M281.5 113.0h0M275.2 91.2h0M246.0 103.6h0M271.9 136.9h0M262.0 135.6h0M272.3 84.8h0M286.8 133.0h0M281.2 114.5h0M285.3 105.1h0M267.7 122.1h0M237.4 101.8h0M262.1 116.7h0M249.7 97.3h0M276.1 147.0h0M250.3 92.2h0M256.0 129.5h0M286.1 111.9h0M272.4 127.8h0M275.1 148.4h0M272.9 136.8h0M281.7 108.7h0M277.1 108.1h0M269.8 103.2h0M245.0 122.5h0M279.0 123.0h0M268.9 129.3h0M275.7 142.2h0M256.0 132.1h0M264.1 119.4h0M265.2 134.2h0M276.5 131.8h0M269.1 134.5h0M266.6 121.1h0M268.7 109.5h0M264.9 91.5h0M257.9 130.6h0M281.1 138.3h0M276.0 92.4h0M269.2 134.3h0M267.8 99.8h0M255.0 128.6h0M255.6 119.3h0M248.6 110.7h0M286.3 114.5h0M281.3 110.5h0M271.0 137.0h0M262.6 119.5h0M283.5 99.6h0M276.3 154.7h0M255.7 123.2h0M273.5 134.8h0M251.7 95.8h0M267.2 130.1h0M252.9 94.5h0M280.8 108.7h0M275.7 134.7h0M267.5 99.0h0M280.4 128.0h0M258.1 109.2h0M263.1 109.0h0M278.3 139.9h0M284.5 92.9h0M282.0 143.0h0M277.2 121.6h0M271.5 113.6h0M285.9 96.2h0M271.0 90.2h0M278.7 110.0h0M272.4 107.0h0M275.5 119.4h0M277.2 97.5h0M270.3 98.8h0M279.0 108.9h0M250.8 129.0h0M269.6 139.9h0M254.1 117.0h0M284.8 117.5h0M258.3 118.9h0M251.2 108.6h0M272.4 153.4h0M273.1 112.0h0M282.2 97.4h0M266.6 128.1h0M261.4 110.4h0M269.0 117.7h0M283.6 104.2h0M269.5 131.6h0M270.1 128.2h0M286.9 107.1h0M257.4 98.7h0M291.8 109.5h0M238.4 114.5h0M260.4 97.8h0M276.5 94.3h0M273.6 101.1h0M281.2 121.2h0M273.6 156.1h0M287.5 115.3h0M260.3 125.3h0M245.1 104.8h0M268.9 122.3h0M275.5 146.6h0M257.8 94.8h0M278.4 112.2h0M283.2 122.1h0M263.1 133.2h0M263.4 109.4h0M269.8 95.3h0M261.1 111.6h0M260.9 138.5h0M277.1 99.9h0M266.8 146.3h0M285.4 101.0h0M281.3 94.3h0M253.6 106.0h0M278.2 102.3h0M277.3 101.6h0M289.7 116.5h0M270.4 88.6h0M270.7 137.6h0M277.5 89.0h0M276.6 117.6h0M248.0 103.8h0M290.7 114.2h0M266.8 89.2h0M263.6 89.0h0M271.5 140.7h0M285.3 99.8h0M260.1 142.5h0M278.3 139.9h0M235.4 110.6h0M272.7 123.3h0M238.9 102.5h0M281.1 139.7h0M279.5 120.9h0M277.2 105.8h0M281.7 99.8h0M279.2 89.8h0M279.7 121.3h0M256.0 126.6h0M261.1 128.5h0M262.3 139.7h0M278.8 91.1h0M263.8 115.3h0M275.5 109.2h0M262.7 98.0h0M284.7 97.2h0M286.2 98.2h0M275.4 138.5h0M273.4 150.2h0M269.7 139.7h0M273.9 138.1h0M285.9 112.5h0M277.9 109.4h0M267.8 128.3h0M264.4 118.7h0M254.5 112.1h0M277.7 103.4h0M274.6 161.2h0M264.3 92.1h0M283.3 105.1h0M267.4 119.5h0M273.4 110.6h0M270.8 107.9h0M262.1 118.1h0M256.2 122.5h0M272.6 129.7h0M267.1 118.1h0M241.5 101.3h0M273.5 87.0h0M269.8 148.7h0M272.5 99.0h0M237.3 120.8h0M269.4 120.5h0M268.4 145.5h0M285.7 130.1h0M254.4 130.2h0M276.6 88.0h0M284.5 128.4h0M272.9 102.6h0M258.3 112.1h0M274.4 147.5h0M277.3 129.4h0M285.6 119.4h0M276.3 104.0h0M273.8 150.5h0M239.7 118.1h0M284.1 107.0h0M259.8 103.8h0M271.1 102.6h0M277.7 115.9h0M282.7 115.1h0M266.7 115.4h0M244.1 97.0h0M269.3 137.8h0M257.2 102.4h0M265.7 87.9h0M287.3 105.9h0M261.0 86.9h0M252.5 97.9h0M261.9 126.4h0M275.5 153.6h0M268.6 110.8h0M274.1 129.9h0M271.1 150.1h0M268.7 131.6h0M276.1 102.3h0M260.9 139.9h0M272.4 135.5h0M260.3 109.0h0M272.6 105.8h0M246.9 107.0h0M281.8 147.1h0M271.9 127.6h0M265.7 133.4h0M257.4 91.7h0M265.4 118.1h0M281.1 146.4h0M265.6 142.1h0M271.4 128.8h0M276.7 111.3h0M271.9 134.8h0M261.4 128.1h0M265.2 91.7h0M270.8 90.2h0M271.0 112.9h0M272.4 122.3h0M252.8 91.3h0M278.4 115.2h0M272.6 134.2h0M274.7 111.7h0M274.3 151.4h0M270.2 154.0h0M280.6 140.5h0M262.1 139.8h0M272.3 100.2h0M271.9 115.8h0M268.8 99.6h0M268.8 116.8h0M272.3 130.3h0M282.3 103.0h0M279.0 99.8h0M272.0 111.9h0M279.3 138.1h0M276.4 103.4h0M254.7 95.7h0M263.2 106.2h0M281.9 109.2h0M275.3 92.9h0M267.6 104.2h0M243.7 109.7h0M281.2 106.7h0M271.6 150.7h0M276.2 143.2h0M244.6 112.0h0M275.0 129.5h0M275.3 126.4h0M255.4 95.5h0M285.9 103.4h0M275.1 122.5h0M264.5 137.1h0M269.7 143.0h0M273.6 130.7h0M253.0 97.1h0M266.6 86.4h0M280.5 115.4h0M274.7 112.5h0M268.6 130.3h0M249.6 108.9h0M264.7 128.9h0M274.8 88.8h0M276.6 134.3h0M267.3 93.7h0M265.6 127.8h0M279.4 116.4h0M249.2 124.8h0M283.0 115.8h0M283.1 103.6h0M283.8 118.9h0M275.6 108.1h0M272.6 145.0h0M271.7 116.4h0M280.0 148.2h0M271.2 153.9h0M284.8 122.7h0M285.8 133.2h0M272.2 126.8h0M249.8 118.6h0M281.4 147.4h0M284.0 118.2h0M275.4 108.5h0M272.1 121.3h0M258.8 138.8h0M265.9 130.0h0M271.5 109.9h0M274.9 131.7h0M279.0 95.2h0M273.4 105.4h0M277.2 159.3h0M280.0 107.2h0M276.1 131.8h0M254.1 92.8h0M274.8 95.9h0M261.9 101.2h0M259.4 129.3h0M281.4 117.5h0M243.0 108.4h0M273.1 121.2h0M281.4 115.0h0M278.5 112.9h0M260.9 98.9h0M277.2 107.5h0M263.8 135.3h0M270.0 152.2h0M268.0 113.6h0M280.2 147.7h0M280.8 136.5h0M259.4 124.8h0M281.6 103.4h0M265.0 104.2h0M245.3 99.8h0M259.7 101.9h0M261.5 100.6h0M275.5 141.9h0M256.8 94.5h0M270.8 108.6h0M264.0 120.3h0M283.8 100.1h0M261.5 124.2h0M276.1 102.1h0M278.6 158.0h0M264.4 107.0h0M276.7 104.4h0M280.7 138.0h0M290.0 104.9h0M266.5 125.0h0M281.4 96.8h0M287.7 99.6h0M288.3 119.5h0M262.9 110.0h0M282.7 105.8h0M276.6 117.5h0M264.0 103.5h0M271.7 139.5h0M262.2 111.6h0M282.3 118.8h0M272.4 87.4h0M279.6 124.2h0M283.2 127.1h0M285.6 100.9h0M261.8 96.5h0M267.7 131.3h0M256.1 130.3h0M255.4 97.3h0M264.7 91.5h0M258.8 112.5h0M277.6 109.4h0M270.9 99.0h0M259.8 125.7h0M274.2 140.3h0M284.7 94.0h0M275.1 113.7h0M274.7 142.8h0M277.0 118.9h0M276.8 131.4h0M264.2 120.0h0M257.4 132.6h0M275.2 107.0h0M271.4 126.1h0M270.3 102.9h0M275.1 102.6h0M263.0 103.8h0M279.5 95.6h0M278.9 101.7h0M237.2 107.1h0M277.4 136.2h0M264.0 114.2h0M275.0 117.1h0M284.1 139.4h0M268.0 87.8h0M275.5 125.0h0M288.2 124.9h0M285.6 112.2h0M248.1 101.2h0M269.1 98.5h0M271.7 86.5h0M268.6 130.6h0M266.5 142.7h0M273.0 113.2h0M281.2 113.8h0M276.8 147.1h0M251.9 94.8h0M266.8 123.1h0M238.0 114.8h0M249.0 90.7h0M267.0 141.9h0M274.6 107.1h0M277.4 100.0h0M272.0 125.4h0M280.7 148.0h0M284.3 126.8h0M263.8 103.3h0M260.5 137.6h0M272.1 107.7h0M287.0 128.3h0M275.0 104.9h0M260.7 140.4h0M290.2 101.7h0M280.4 99.9h0M275.0 106.7h0M280.4 95.8h0M262.8 123.1h0M275.9 144.3h0M258.7 129.3h0M275.7 139.5h0M278.6 115.6h0M261.2 141.6h0M288.2 103.9h0M281.4 119.6h0M257.1 132.2h0M253.1 121.2h0M271.9 117.7h0M281.8 108.6h0M270.0 122.5h0M265.6 106.7h0M265.8 98.1h0M240.6 120.8h0M271.1 147.1h0M278.9 122.4h0M269.7 133.1h0M237.9 110.1h0M283.7 105.8h0M269.3 91.3h0M253.1 113.3h0M264.6 98.9h0M273.8 115.1h0M266.0 90.0h0M267.4 103.1h0M271.0 99.2h0M264.8 90.2h0M268.0 134.6h0M272.1 116.4h0M286.3 101.8h0M282.8 123.9h0M250.6 126.0h0M278.2 112.6h0M248.5 105.9h0M274.7 122.1h0M264.1 134.6h0M278.8 101.3h0M261.6 112.1h0M279.9 101.2h0M273.0 90.1h0M271.7 132.1h0M275.8 93.9h0M274.7 128.7h0M275.3 135.9h0M269.8 126.5h0M267.9 116.3h0M258.3 101.2h0M271.8 101.4h0M276.3 148.9h0M256.6 124.8h0M276.3 88.8h0M278.7 88.1h0M245.8 119.9h0M281.6 144.2h0M273.8 140.3h0M270.2 91.4h0M263.0 132.9h0M276.8 130.6h0M259.6 134.5h0M272.8 124.4h0M287.0 100.6h0M252.0 121.4h0M247.6 124.5h0M267.4 97.2h0M250.1 100.7h0M262.5 144.5h0M269.8 117.4h0M276.0 139.9h0M276.2 101.9h0M262.9 143.5h0M245.4 97.5h0M267.5 104.1h0M245.2 104.9h0M270.0 132.6h0M288.6 112.2h0M272.3 99.7h0M271.0 155.0h0M249.9 116.6h0M278.5 100.5h0M288.6 100.1h0M281.9 133.5h0M280.8 138.5h0M246.9 112.8h0M266.3 87.3h0M286.8 127.8h0M273.5 136.1h0M268.1 114.3h0M238.2 117.9h0M280.4 132.9h0M265.2 93.4h0M258.4 95.9h0M272.9 134.6h0M272.1 115.5h0M262.5 87.9h0M236.2 112.6h0M278.7 111.6h0M283.8 105.7h0M269.1 86.2h0M265.3 129.5h0M275.9 88.1h0M274.5 122.9h0M271.5 110.5h0M266.5 140.0h0M272.7 98.7h0M276.3 118.1h0M250.7 120.8h0M263.7 93.7h0M262.9 103.0h0M245.9 95.2h0M281.6 113.5h0M278.6 115.4h0M265.5 145.3h0M249.8 115.8h0M272.7 93.0h0M250.1 110.0h0M268.4 127.9h0M271.5 117.8h0M268.0 149.6h0M274.5 128.3h0M288.9 117.4h0M268.9 106.4h0M272.7 135.8h0M275.3 107.9h0M278.9 91.1h0M268.8 134.0h0M278.5 114.2h0M270.4 92.8h0M287.6 104.2h0M266.8 115.6h0M284.7 90.4h0M266.5 129.5h0M281.0 96.1h0M260.9 106.7h0M265.4 126.7h0M271.6 89.3h0M276.1 108.6h0M254.4 104.7h0M272.6 137.9h0M261.7 125.9h0M270.1 126.2h0M279.7 98.8h0M255.1 117.4h0M285.5 94.7h0M259.2 101.5h0M271.3 113.7h0M245.3 96.7h0M278.5 111.4h0M277.9 112.5h0M262.6 121.6h0M242.2 116.2h0M261.9 132.2h0M285.5 103.4h0M277.7 142.4h0M284.6 119.8h0M274.2 123.8h0M271.9 115.2h0M266.9 107.5h0M273.8 138.9h0M244.4 122.8h0M276.8 103.0h0M271.9 128.2h0M249.1 113.6h0M278.3 128.1h0M279.1 93.9h0M271.8 119.1h0M274.0 113.8h0M286.2 95.8h0M278.6 129.5h0M240.9 96.4h0M289.1 114.4h0M276.7 121.3h0M272.6 110.8h0M286.3 107.9h0M262.2 135.4h0M263.8 90.3h0M276.4 101.6h0M277.5 117.1h0M270.0 140.2h0M290.0 110.8h0M279.3 116.5h0M283.4 114.6h0M255.4 116.8h0M276.6 113.5h0M277.7 105.0h0M262.4 131.1h0M275.8 101.2h0M272.9 93.9h0M267.4 113.4h0M282.4 126.5h0M266.0 106.2h0M272.2 99.9h0M261.5 123.2h0M264.8 117.0h0M273.8 98.0h0M273.9 127.4h0M265.8 129.0h0M277.6 98.8h0M237.4 115.7h0M275.5 111.2h0M268.9 139.3h0M264.0 140.3h0M268.6 105.9h0M286.0 131.9h0M274.5 101.1h0M274.4 101.3h0M277.5 107.6h0M271.0 128.1h0M271.4 154.9h0M288.7 102.5h0M257.7 99.5h0M276.7 111.2h0M266.0 133.6h0M260.9 126.9h0M267.6 138.7h0M265.1 93.1h0M269.1 107.1h0M283.1 105.8h0M257.1 121.0h0M279.8 122.7h0M264.0 129.4h0M284.6 129.1h0M272.8 102.2h0M276.1 101.6h0M271.3 92.4h0M283.9 95.2h0M271.1 147.3h0M262.4 123.1h0M281.8 133.8h0M286.2 103.8h0M279.4 112.7h0" stroke="#B79F00" stroke-width="1.7" stroke-linecap="round" fill="none"/>
<path d="M208.3 118.2h0M203.0 133.0h0M209.0 105.9h0M216.1 115.4h0M216.0 134.4h0M206.5 132.0h0M248.4 130.5h0M224.3 102.6h0M217.7 103.2h0M251.7 143.2h0M243.3 136.1h0M220.1 116.0h0M214.4 106.9h0M208.6 136.8h0M246.5 130.7h0M202.1 135.8h0M233.1 117.7h0M245.7 134.4h0M234.6 133.7h0M233.8 126.7h0M202.6 132.5h0M214.8 102.1h0M241.2 146.8h0M198.3 128.9h0M197.3 143.2h0M216.5 105.5h0M214.3 149.3h0M215.1 119.8h0M207.2 144.6h0M203.8 134.3h0M228.5 124.5h0M248.1 124.7h0M200.4 113.8h0M228.1 155.3h0M198.1 118.2h0M206.8 132.0h0M214.7 98.5h0M225.6 132.9h0M213.5 146.4h0M206.7 158.9h0M229.1 125.4h0M215.1 149.2h0M220.9 135.7h0M218.7 156.0h0M200.7 129.6h0M226.8 151.2h0M208.7 110.8h0M216.0 126.3h0M227.6 135.0h0M197.4 134.5h0M209.0 143.2h0M209.2 140.3h0M248.8 138.1h0M218.0 136.0h0M236.0 141.9h0M223.2 134.8h0M233.7 139.6h0M232.4 110.8h0M225.8 141.8h0M212.2 145.5h0M238.6 145.3h0M246.2 143.9h0M229.5 153.2h0M219.6 154.1h0M203.9 115.8h0M196.1 127.2h0M206.6 110.5h0M218.4 103.0h0M221.0 98.5h0M246.6 145.3h0M215.4 111.7h0M202.8 129.9h0M205.5 114.8h0M239.0 144.8h0M201.1 143.1h0M242.1 148.9h0M202.6 149.0h0M206.7 114.4h0M226.1 157.9h0M210.5 134.9h0M200.5 111.6h0M236.5 124.8h0M234.7 150.2h0M218.7 146.7h0M217.3 144.6h0M231.3 108.0h0M223.3 120.0h0M234.3 125.6h0M253.1 127.2h0M223.6 113.0h0M245.0 122.9h0M206.1 134.8h0M237.5 113.5h0M232.0 152.5h0M208.8 148.7h0M241.5 131.9h0M227.8 116.7h0M214.3 108.1h0M218.7 132.1h0M208.7 128.7h0M245.5 144.6h0M224.0 112.7h0M241.4 120.8h0M231.1 132.3h0M216.8 120.8h0M215.1 166.7h0M223.0 134.8h0M226.7 153.8h0M223.2 140.1h0M201.0 148.6h0M236.6 126.9h0M203.1 129.5h0M208.2 143.6h0M196.0 127.9h0M243.2 127.8h0M229.2 107.8h0M204.1 137.4h0M209.3 103.0h0M214.4 129.3h0M199.2 130.3h0M204.7 118.9h0M217.7 144.3h0M226.3 116.4h0M228.7 130.9h0M247.9 122.0h0M229.4 131.1h0M235.9 126.3h0M225.0 140.3h0M211.2 140.2h0M240.2 140.8h0M212.5 158.9h0M221.1 102.6h0M210.7 144.9h0M236.4 133.4h0M218.3 123.1h0M208.8 118.6h0M214.8 136.7h0M211.9 143.8h0M205.7 150.8h0M209.5 107.9h0M204.7 126.4h0M230.9 114.5h0M217.7 150.7h0M211.7 162.0h0M216.7 119.8h0M217.4 133.8h0M205.8 124.8h0M219.5 123.2h0M232.8 129.8h0M206.1 125.7h0M196.9 125.2h0M239.2 142.5h0M226.2 132.1h0M213.4 101.5h0M214.3 99.2h0M211.8 125.3h0M250.3 136.5h0M238.5 140.4h0M211.7 138.5h0M230.5 121.5h0M225.5 159.3h0M202.8 149.1h0M224.4 139.6h0M242.2 129.9h0M219.1 145.9h0M241.0 122.7h0M215.0 153.0h0M252.9 144.5h0M244.5 138.4h0M231.6 138.5h0M205.8 110.3h0M229.5 139.5h0M229.0 141.4h0M241.7 129.1h0M246.7 121.2h0M248.4 148.2h0M214.1 106.2h0M249.3 123.9h0M202.9 152.6h0M221.2 157.3h0M205.8 136.8h0M230.9 133.2h0M245.7 135.9h0M232.8 136.0h0M245.1 124.0h0M196.5 116.1h0M200.3 122.9h0M223.0 134.3h0M241.5 144.3h0M227.4 106.4h0M215.1 126.4h0M242.9 117.4h0M224.9 154.2h0M237.3 135.4h0M215.3 130.8h0M224.3 119.0h0M234.1 148.9h0M243.6 146.0h0M245.1 136.8h0M206.9 137.5h0M199.6 131.6h0M231.7 142.0h0M195.6 136.8h0M204.5 131.7h0M216.4 128.8h0M201.5 143.9h0M219.7 134.9h0M195.8 119.4h0M224.2 112.7h0M237.7 112.8h0M213.2 146.7h0M211.0 120.4h0M202.5 152.0h0M209.6 165.4h0M211.5 147.8h0M204.2 151.4h0M205.5 121.6h0M229.3 118.9h0M227.2 132.3h0M215.5 156.1h0M236.8 122.8h0M193.9 130.4h0M238.4 118.4h0M242.9 146.2h0M209.2 137.8h0M204.4 128.4h0M248.8 147.2h0M250.8 138.5h0M222.5 151.7h0M220.3 117.4h0M247.2 126.4h0M232.0 106.9h0M236.9 154.1h0M206.2 137.9h0M213.0 110.0h0M223.9 114.1h0M243.3 121.0h0M211.6 116.8h0M227.2 150.9h0M206.7 113.3h0M204.3 109.4h0M200.5 110.6h0M208.3 162.4h0M229.9 112.9h0M228.9 126.3h0M222.4 97.3h0M247.9 132.8h0M215.6 145.4h0M193.8 129.0h0M224.8 120.6h0M215.4 126.3h0M244.7 135.7h0M194.7 130.3h0M206.3 115.4h0M223.6 106.3h0M203.4 120.6h0M224.5 130.3h0M219.4 154.2h0M210.9 139.4h0M229.3 121.7h0M204.6 150.0h0M239.6 132.2h0M208.3 113.1h0M202.9 148.2h0M202.3 129.1h0M211.5 104.5h0M240.2 138.9h0M207.9 158.8h0M216.4 145.6h0M222.7 161.4h0M238.7 124.1h0M194.2 127.1h0M225.3 125.4h0M212.4 131.9h0M236.4 142.7h0M208.0 149.5h0M225.2 153.9h0M202.9 124.0h0M231.0 129.6h0M205.1 142.5h0M208.4 152.3h0M225.5 110.1h0M223.1 128.0h0M202.3 140.5h0M223.6 137.1h0M217.3 162.4h0M226.2 123.6h0M239.5 140.7h0M201.9 124.2h0M206.6 128.4h0M233.1 132.3h0M233.5 114.8h0M219.9 104.2h0M237.3 126.3h0M205.7 114.2h0M232.8 142.4h0M193.8 129.9h0M227.1 148.1h0M222.0 156.9h0M215.6 161.2h0M234.0 148.8h0M207.2 129.2h0M229.5 138.0h0M216.3 158.9h0M204.3 130.6h0M217.8 102.3h0M234.3 134.8h0M227.8 117.8h0M205.5 117.2h0M212.9 157.7h0M195.1 134.0h0M219.3 141.6h0M203.6 145.3h0M231.7 138.8h0M239.8 126.7h0M202.1 107.4h0M217.4 104.6h0M219.8 153.1h0M202.2 144.7h0M225.7 118.1h0M220.8 111.1h0M243.6 121.7h0M227.1 139.4h0M244.3 122.9h0M204.0 114.5h0M212.6 146.4h0M205.9 157.1h0M225.6 132.4h0M240.7 134.4h0M213.4 118.4h0M209.3 123.0h0M210.2 147.1h0M221.0 123.4h0M202.4 152.1h0M196.3 121.4h0M235.8 141.1h0M246.2 133.4h0M207.4 108.7h0M204.3 127.1h0M226.2 119.6h0M216.8 106.8h0M206.4 137.4h0M198.3 130.5h0M216.0 125.2h0M222.5 128.0h0M209.5 107.1h0M216.6 127.8h0M236.7 153.4h0M227.9 130.1h0M222.7 127.4h0M212.3 138.6h0M218.8 132.5h0M205.8 128.2h0M217.2 125.1h0M228.7 128.2h0M205.8 128.4h0M223.8 139.5h0M218.6 101.7h0M245.2 131.2h0M216.9 144.0h0M202.9 121.8h0M214.7 103.0h0M237.3 144.1h0M214.6 157.0h0M223.6 103.0h0M229.7 138.0h0M216.0 124.2h0M229.4 153.2h0M223.8 138.7h0M206.1 123.4h0M218.7 143.9h0M210.7 136.3h0M223.7 111.7h0M202.9 152.1h0M225.0 146.4h0M248.3 139.3h0M217.2 139.8h0M213.8 122.8h0M233.4 129.6h0M206.3 109.6h0M233.1 139.2h0M224.5 158.0h0M233.6 118.1h0M205.3 156.0h0M219.1 136.8h0M199.8 130.5h0M218.6 135.6h0M216.9 160.9h0M225.5 140.0h0M204.3 128.8h0M212.2 117.3h0M215.0 143.7h0M249.6 144.3h0M233.3 119.6h0M233.4 152.4h0M212.3 128.8h0M214.3 140.7h0M213.9 103.5h0M204.1 122.2h0M209.5 106.5h0M207.8 130.6h0M200.5 125.9h0M215.7 147.8h0M229.2 149.2h0M250.4 146.0h0M201.9 122.6h0M211.8 142.9h0M234.7 139.8h0M237.4 140.2h0M199.6 147.9h0M238.6 141.2h0M227.7 145.5h0M216.8 144.5h0M199.4 126.2h0M220.8 157.4h0M224.2 133.8h0M238.1 147.5h0M232.1 151.4h0M231.2 141.7h0M218.6 147.4h0M209.0 120.3h0M207.1 117.9h0M239.5 137.2h0M213.1 145.3h0M249.4 131.2h0M220.9 109.0h0M196.5 119.3h0M219.8 132.0h0M209.6 135.3h0M209.2 145.4h0M217.8 118.6h0M217.9 156.4h0M220.7 136.5h0M203.6 110.0h0M221.8 155.6h0M202.7 136.4h0M219.5 149.6h0M205.7 119.6h0M240.8 129.3h0M210.9 153.0h0" stroke="#7CAE00" stroke-width="1.7" stroke-linecap="round" fill="none"/>
<path d="M221.7 253.4h0M205.4 245.5h0M243.4 226.7h0M229.4 241.5h0M226.9 235.2h0M213.0 253.3h0M236.2 225.1h0M222.9 253.9h0M221.1 229.2h0M225.2 229.1h0M206.0 252.4h0M222.9 250.3h0M212.1 254.8h0M230.8 248.6h0M240.1 234.8h0M228.3 234.6h0M219.0 230.6h0M208.8 249.0h0M240.0 235.1h0M207.0 254.8h0M226.0 252.8h0M230.4 247.3h0M224.5 244.4h0M215.5 260.1h0M207.9 254.0h0M208.2 254.2h0M216.2 252.3h0M206.5 248.2h0M217.0 241.6h0M230.8 248.8h0M207.8 240.0h0M241.5 226.3h0M226.6 237.1h0M209.8 236.6h0M202.0 249.0h0M238.5 232.2h0M211.5 254.8h0M217.9 244.1h0M236.3 222.1h0M216.2 248.5h0M227.2 254.8h0M220.2 247.3h0M215.3 254.6h0M213.0 230.5h0M211.3 247.7h0M226.8 248.1h0M225.6 237.8h0M216.8 255.8h0M213.5 240.9h0M226.3 252.5h0M227.9 224.3h0M222.8 255.8h0M224.9 249.7h0M210.0 253.9h0M219.9 223.1h0M233.9 248.3h0M215.1 247.8h0M235.4 227.9h0M209.9 245.7h0M214.8 228.8h0M219.0 241.7h0M227.4 244.6h0M220.7 228.7h0M240.0 227.4h0M210.8 231.7h0M216.3 227.3h0M229.0 249.7h0M228.3 239.4h0M221.5 235.3h0M224.8 227.2h0M218.7 249.6h0M222.1 228.9h0M219.2 244.8h0M241.4 228.7h0M241.2 222.5h0M218.5 251.2h0M214.6 247.8h0M206.7 252.8h0M208.6 251.8h0M214.2 260.2h0M224.7 236.7h0M218.1 240.1h0M224.2 236.5h0M235.9 233.3h0M220.1 239.5h0M222.2 232.9h0M227.3 244.8h0M223.9 249.5h0M213.6 230.8h0M212.9 251.9h0M212.5 231.1h0M235.4 222.3h0M230.4 237.4h0M240.5 232.0h0M213.4 251.0h0M211.4 253.7h0M216.2 248.6h0M204.0 239.1h0M227.4 246.1h0M235.2 235.5h0M215.3 247.5h0M213.7 247.2h0M223.4 230.6h0M224.5 241.5h0M226.6 253.1h0M201.5 248.3h0M220.6 248.6h0M238.9 233.5h0M206.9 250.2h0M229.1 253.3h0M228.0 247.8h0M210.2 237.4h0M211.7 242.7h0M209.8 251.9h0M223.2 255.5h0M217.3 254.4h0M211.5 250.3h0M215.9 259.0h0M207.3 251.7h0M208.7 251.4h0M216.3 259.6h0M229.9 244.6h0M237.0 235.4h0M225.5 240.9h0M235.3 223.6h0M222.6 229.1h0M220.4 246.4h0M207.1 243.1h0M216.8 240.5h0M219.3 240.2h0M213.1 253.7h0M227.7 244.9h0M218.2 255.0h0M242.4 230.4h0M224.4 248.6h0M239.3 229.7h0M220.1 245.7h0M227.0 238.1h0M227.1 245.5h0M220.1 251.7h0M209.3 246.9h0M230.9 230.9h0M231.5 228.9h0M232.4 224.5h0M229.0 239.8h0M217.5 241.0h0M234.3 245.4h0M218.4 234.1h0M234.0 235.2h0M216.2 253.5h0M207.4 255.0h0M241.5 224.2h0M220.9 250.2h0M215.2 255.7h0M204.0 237.3h0M208.7 246.1h0M201.6 246.6h0M210.3 255.6h0M222.7 231.1h0M214.1 255.5h0M213.1 254.5h0M219.3 252.5h0M208.0 248.9h0M220.9 235.9h0M224.7 244.0h0M219.0 248.8h0M226.9 257.4h0M206.7 236.2h0M227.2 226.9h0M220.8 239.8h0M205.1 242.6h0M212.6 247.2h0M223.7 253.0h0M226.5 253.7h0M218.2 256.8h0M217.2 231.9h0M230.0 227.0h0M234.4 230.2h0M217.4 251.5h0M228.5 246.9h0M204.9 237.8h0M217.1 257.8h0M226.8 244.1h0M218.9 237.0h0M208.5 235.6h0M222.9 251.3h0M216.2 230.3h0M238.5 233.6h0M209.3 247.7h0M230.0 223.9h0M208.8 252.7h0M218.7 242.6h0M223.4 231.6h0M211.3 249.8h0M227.8 250.6h0M225.1 244.8h0M234.4 238.1h0M207.0 249.7h0M229.6 249.9h0M233.4 222.0h0M233.3 237.0h0M225.7 255.3h0M217.8 246.7h0M216.7 228.3h0M215.7 233.2h0M218.5 250.9h0M230.1 241.5h0M226.6 226.4h0M209.2 251.3h0M229.6 230.6h0M207.3 249.8h0M221.0 249.9h0M219.9 244.6h0M227.1 230.8h0M207.5 246.9h0M237.5 235.8h0M220.4 257.8h0M237.0 237.2h0M213.5 254.1h0M241.7 226.4h0M225.1 237.2h0M212.7 249.6h0M228.9 225.7h0M219.2 253.1h0M204.3 240.5h0M223.3 250.8h0M211.9 243.2h0M221.0 254.4h0M231.2 227.6h0M236.7 235.5h0M218.1 239.0h0M213.9 234.0h0M216.1 256.9h0M242.0 233.6h0M213.1 249.6h0M228.9 227.5h0M229.6 239.3h0M220.6 250.4h0M242.5 222.9h0M213.1 252.8h0M199.2 243.9h0M222.4 225.9h0M209.7 257.3h0M234.7 238.7h0M230.8 237.6h0M216.0 245.5h0M216.5 249.1h0M216.2 242.2h0M205.5 251.3h0M201.1 242.8h0M214.2 253.6h0M238.9 237.9h0M207.3 246.4h0M237.0 227.0h0M215.3 241.6h0M232.1 238.4h0M211.9 249.4h0M236.4 231.3h0M221.9 244.4h0M227.4 227.5h0M231.6 230.3h0M224.6 241.2h0M235.1 233.5h0M228.7 232.5h0M221.3 245.8h0M219.4 246.4h0M237.3 235.8h0M222.0 249.5h0M205.8 248.7h0M235.7 241.1h0M231.8 223.2h0M237.0 235.8h0M225.0 223.0h0M232.7 219.4h0M215.9 225.9h0M221.3 255.2h0M239.3 218.0h0M220.2 249.8h0M210.7 255.8h0M218.1 237.6h0M229.5 222.8h0M228.4 230.4h0M224.1 250.9h0M239.8 225.8h0M232.2 243.2h0M227.9 239.6h0M209.3 251.4h0M228.5 241.6h0M221.5 247.2h0M222.7 255.1h0M213.7 250.3h0M214.0 243.0h0M229.5 240.3h0M219.7 245.2h0M217.7 256.4h0M220.1 250.0h0M208.3 246.1h0M235.9 233.3h0M230.4 246.5h0M235.8 235.7h0M218.9 234.1h0M237.1 225.2h0M229.8 227.2h0M220.5 250.5h0M224.1 236.2h0M218.0 251.5h0M205.4 253.2h0M207.4 233.7h0M236.0 227.4h0M229.0 235.3h0M214.1 249.2h0M210.5 247.9h0M241.5 226.0h0M229.9 247.6h0M218.3 252.4h0M218.3 250.2h0M223.6 243.8h0M211.1 252.2h0M212.9 245.6h0M223.3 248.7h0M243.6 221.4h0M213.4 246.5h0M228.2 228.8h0M233.8 240.6h0M209.4 242.6h0M221.8 242.7h0M216.7 253.9h0M223.0 250.2h0M235.6 234.0h0M211.2 246.2h0M228.4 232.3h0M227.6 240.0h0M215.4 254.2h0M220.9 227.5h0M212.2 249.4h0M207.2 245.8h0M217.3 226.1h0M223.6 245.6h0M237.9 225.1h0M225.9 241.4h0M232.3 236.1h0M230.8 232.3h0M228.2 235.1h0M224.8 255.3h0M217.0 239.8h0M210.4 255.0h0M206.6 251.1h0M219.7 257.1h0M235.7 234.2h0M231.8 233.6h0M207.7 248.8h0M222.1 255.4h0M221.4 225.0h0M215.6 234.6h0M238.3 226.3h0M209.5 240.9h0M228.5 248.0h0M204.6 249.3h0M213.0 248.0h0M238.7 235.7h0M239.2 223.3h0M205.0 252.7h0M215.7 249.7h0M231.8 238.1h0M203.3 241.8h0M210.0 249.4h0M223.4 223.9h0M208.8 249.5h0M215.3 256.6h0M233.8 238.2h0M215.7 251.8h0M237.8 235.1h0M236.0 232.2h0M209.0 243.4h0M226.6 239.3h0M218.4 235.0h0M220.4 251.3h0M210.5 258.8h0M219.0 246.8h0M226.6 240.1h0M218.5 257.7h0M240.5 221.2h0M204.9 239.8h0M218.6 253.1h0M229.5 237.6h0M212.9 257.6h0M223.5 250.5h0M219.5 248.2h0M220.7 239.4h0M210.6 246.6h0M213.8 250.9h0M222.6 253.7h0M215.2 239.4h0M224.8 245.8h0M214.8 241.5h0M202.1 240.2h0M232.8 243.8h0M205.7 250.4h0M226.8 255.7h0M221.3 250.9h0M213.0 228.1h0M240.6 226.3h0M222.6 229.5h0M213.6 248.2h0M232.4 242.3h0M214.5 250.2h0M239.8 226.9h0M234.8 243.1h0M225.8 232.0h0M219.2 242.3h0M226.4 232.1h0M208.4 255.6h0M203.5 239.6h0M220.5 249.1h0M232.4 244.9h0M230.8 227.3h0M223.7 234.9h0M234.7 218.7h0M221.1 252.7h0M212.7 259.6h0M226.2 231.3h0M219.2 250.7h0M206.6 241.2h0M236.1 238.2h0M239.2 236.4h0M208.1 254.1h0M226.9 225.0h0M217.6 243.0h0M211.1 253.0h0M225.2 247.7h0M204.5 249.4h0M234.5 231.3h0M235.9 238.9h0M218.1 249.7h0M202.6 251.0h0M209.6 247.1h0M234.4 225.2h0M221.2 252.6h0M219.7 252.3h0M221.0 229.1h0M209.6 253.3h0M242.5 221.3h0M221.1 246.2h0M218.5 247.7h0M223.6 240.3h0M219.4 247.9h0M238.0 221.4h0M204.8 258.5h0M232.5 244.8h0M216.3 252.4h0M214.5 251.6h0M217.5 252.5h0M226.1 253.8h0M219.9 246.4h0M200.5 250.7h0M241.4 233.8h0M205.4 249.1h0M222.6 251.2h0M217.7 237.5h0M217.6 252.2h0M215.5 256.9h0M230.5 250.7h0M214.5 243.9h0M210.3 230.6h0M213.7 232.3h0M224.2 251.0h0M206.5 254.7h0M227.4 249.8h0M205.2 239.7h0M230.7 243.0h0" stroke="#00BA38" stroke-width="1.7" stroke-linecap="round" fill="none"/>
<path d="M204.5 81.7h0M204.9 21.7h0M204.9 34.3h0M197.2 84.8h0M219.9 35.8h0M211.0 33.1h0M206.4 15.3h0M212.9 58.9h0M206.4 83.7h0M227.8 29.6h0M209.0 23.1h0M218.3 60.4h0M205.0 35.1h0M213.3 25.3h0M219.2 33.4h0M192.7 101.2h0M204.4 89.3h0M205.0 77.2h0M207.3 27.0h0M222.7 29.4h0M197.0 71.3h0M215.5 24.0h0M195.2 95.7h0M192.5 98.1h0M197.7 83.2h0M211.4 77.2h0M214.2 32.0h0M210.3 18.9h0M196.1 65.2h0M220.1 23.0h0M209.8 28.5h0M206.3 56.4h0M207.0 31.1h0M214.5 24.1h0M201.2 62.8h0M202.3 22.1h0M214.9 33.7h0M210.1 56.4h0M208.0 77.2h0M204.5 28.6h0M205.4 18.2h0M211.2 26.4h0M217.6 46.7h0M205.7 37.6h0M219.8 23.3h0M215.5 25.1h0M205.9 39.9h0M192.6 82.6h0M219.4 66.2h0M215.7 29.6h0M192.0 95.1h0M202.9 22.2h0M229.4 24.1h0M211.7 19.9h0M196.9 68.8h0M216.7 32.2h0M207.1 15.8h0M209.5 31.8h0M212.0 33.7h0M226.8 28.6h0M193.5 83.1h0M211.9 69.6h0M205.7 15.2h0M216.4 37.7h0M199.6 82.1h0M213.5 39.0h0M201.9 19.4h0M199.1 84.0h0M205.1 23.4h0M219.3 68.6h0M203.4 80.4h0M209.5 32.4h0M205.4 32.0h0M206.5 63.0h0M215.2 47.8h0M206.8 25.2h0M215.1 36.6h0M200.9 11.5h0M206.7 27.6h0M201.1 79.8h0M208.4 75.4h0M197.2 78.5h0M225.8 22.0h0M212.5 28.0h0M219.6 25.6h0M200.0 91.9h0M211.5 20.7h0M213.0 28.0h0M193.5 82.6h0M213.9 33.5h0M214.1 78.4h0M202.8 76.2h0M196.1 68.3h0M214.1 31.8h0M210.1 20.8h0M210.5 57.8h0M211.2 64.6h0M205.8 32.6h0M218.7 58.6h0M203.8 96.4h0M208.2 18.5h0M203.4 28.7h0M210.9 28.5h0M202.0 23.6h0M207.8 37.6h0M224.4 26.0h0M213.0 26.8h0M204.1 14.5h0M206.6 79.5h0M215.9 37.1h0M200.4 63.9h0M200.1 65.8h0M198.9 61.3h0M206.3 27.8h0M207.1 60.5h0M211.4 25.3h0M205.6 58.7h0M209.8 29.4h0M202.0 48.0h0M211.7 19.4h0M207.9 39.6h0M210.1 27.6h0M194.3 89.1h0M203.1 76.6h0M214.7 65.3h0M205.7 25.8h0M201.3 56.3h0M209.3 28.7h0M205.8 66.9h0M211.9 40.2h0M193.4 102.0h0M213.7 27.2h0M210.1 24.7h0M198.8 65.9h0M210.7 22.8h0M213.6 18.2h0M219.0 71.4h0M215.1 36.7h0M202.4 26.4h0M209.6 36.5h0M201.5 89.7h0M211.0 50.1h0M214.6 66.7h0M211.0 56.5h0M215.5 46.3h0M211.6 32.6h0M213.8 25.0h0M210.9 26.1h0M216.8 26.4h0M194.3 83.6h0M211.3 28.7h0M211.6 82.2h0M227.6 26.4h0M199.8 96.9h0M211.2 23.8h0M215.2 32.7h0M213.1 30.6h0M204.7 30.7h0M209.3 36.3h0M213.2 35.3h0M217.1 47.7h0M215.8 27.1h0M201.8 88.0h0M202.7 25.6h0M198.8 83.2h0M206.0 75.9h0M220.5 32.6h0M216.1 20.0h0M212.5 37.9h0M208.1 51.0h0M218.6 50.3h0M216.4 23.8h0M209.0 20.2h0M208.6 85.8h0M201.7 28.4h0M208.6 21.6h0M204.1 24.7h0M195.9 80.7h0M210.2 40.4h0M203.4 47.7h0M214.2 20.9h0M204.7 38.1h0M195.3 88.7h0M208.0 17.4h0M216.9 22.4h0M191.4 88.2h0M208.3 83.3h0M207.7 76.9h0M215.7 35.4h0M216.5 33.1h0M218.3 22.0h0M209.7 34.4h0M208.9 84.9h0M227.2 24.8h0M218.4 65.9h0M213.1 64.3h0M212.7 39.4h0M218.8 31.2h0M216.2 35.2h0M206.7 19.1h0M205.6 33.5h0M208.2 14.9h0M228.3 25.7h0M209.7 29.5h0M211.4 38.0h0M198.4 100.2h0M209.4 33.2h0M197.6 69.6h0M214.3 19.0h0M203.2 49.0h0M219.4 19.5h0M203.0 22.4h0M224.3 25.5h0M211.5 24.2h0M204.6 89.2h0M206.3 32.3h0M213.6 21.5h0M219.6 66.6h0M195.5 84.6h0M217.7 33.7h0M198.2 94.1h0M213.8 30.3h0M204.6 62.5h0M205.8 28.4h0M219.4 49.1h0M208.4 62.3h0M218.3 26.4h0M208.8 32.3h0M213.4 18.1h0M218.5 29.3h0M209.5 18.7h0M224.3 28.8h0M221.4 28.0h0M209.4 26.1h0M195.6 92.7h0M211.7 36.1h0M207.2 30.4h0M198.8 75.7h0M207.1 29.0h0M204.0 26.7h0M204.9 31.2h0M222.1 23.8h0M214.1 56.1h0M217.1 27.2h0M194.4 76.8h0M199.8 71.7h0M216.1 24.7h0M209.7 27.9h0M220.5 30.9h0M200.2 25.2h0M208.9 19.9h0M218.2 51.5h0M196.6 86.1h0M218.7 59.8h0M206.7 27.3h0M215.6 19.0h0M198.3 18.1h0M212.3 19.8h0M214.4 41.6h0M218.4 26.2h0M209.2 21.0h0M205.3 68.6h0M213.1 26.2h0M206.9 35.7h0M215.5 38.6h0M222.1 60.8h0M223.4 22.0h0M210.1 47.2h0M219.0 21.1h0M207.2 24.5h0M222.3 26.7h0M193.9 77.2h0M199.2 73.0h0M213.4 30.9h0M190.6 93.8h0M210.9 63.9h0M212.0 25.1h0M207.7 21.9h0M207.8 80.7h0M214.4 41.5h0M213.7 47.1h0M203.2 14.8h0M207.9 22.1h0M213.9 24.0h0M209.6 20.3h0M214.5 32.4h0M206.7 48.5h0M219.9 25.1h0M207.8 81.6h0M201.7 83.4h0M223.0 35.2h0M209.4 18.9h0M206.5 53.7h0M205.2 26.8h0M199.7 70.2h0M225.0 24.2h0M214.9 20.3h0M216.1 33.0h0M208.6 17.3h0M214.1 57.7h0M209.5 31.5h0M199.3 93.5h0M205.6 13.7h0M202.7 22.6h0M209.9 30.0h0M209.9 34.4h0M216.4 19.9h0M207.9 20.8h0M207.5 79.9h0M196.6 99.2h0M228.1 25.4h0M215.6 31.0h0M211.7 15.7h0M205.2 31.3h0M212.2 25.2h0M210.1 22.9h0M202.3 72.8h0M210.4 56.0h0M204.5 33.9h0M210.8 25.2h0M214.7 27.6h0M210.2 83.7h0M208.5 24.7h0M210.1 34.4h0M207.6 51.6h0M199.5 19.7h0M210.7 24.9h0M216.1 30.6h0M215.5 27.1h0M215.0 77.6h0M201.2 54.4h0M209.0 32.7h0M214.7 27.2h0M215.5 63.0h0M203.9 59.3h0M207.1 28.8h0M208.2 84.6h0M202.1 50.5h0M216.9 51.9h0M199.9 91.4h0M206.8 49.7h0M215.9 38.2h0M207.4 27.3h0M205.2 26.5h0M209.1 26.0h0M223.4 30.5h0M213.2 18.9h0M200.2 58.8h0M191.9 95.6h0M203.4 20.2h0M226.0 31.6h0M205.5 57.4h0M203.4 94.6h0M199.7 66.7h0M215.1 36.6h0M212.2 50.1h0M210.8 19.0h0M194.8 94.1h0M207.2 24.0h0M220.4 23.9h0M211.8 54.3h0M205.9 23.7h0M212.3 86.4h0M206.6 30.0h0M214.3 68.4h0M208.5 30.9h0M222.9 25.5h0M206.3 36.8h0M226.1 27.5h0M213.9 17.6h0M220.3 25.4h0M206.3 76.8h0M208.1 24.3h0M206.8 21.5h0M217.6 31.7h0M208.6 67.8h0M207.1 37.4h0M226.1 29.2h0M226.0 22.9h0M198.4 64.0h0M196.5 64.6h0M220.0 31.6h0M214.7 22.4h0M201.8 93.7h0M215.2 76.6h0M204.2 49.1h0M204.1 80.0h0M212.5 23.0h0M215.2 26.0h0M213.9 22.5h0M206.2 50.5h0M212.6 29.1h0M206.7 72.5h0M211.3 37.1h0M203.9 52.1h0M212.9 35.9h0M208.9 15.4h0M220.1 35.2h0M211.3 27.5h0M215.9 45.4h0M201.6 23.8h0M222.1 24.6h0M207.4 46.1h0M213.1 18.9h0M214.3 49.8h0M215.7 41.6h0M213.3 30.9h0M223.3 27.9h0M206.0 20.2h0M203.3 31.9h0M212.2 26.8h0M199.9 11.4h0M200.2 66.5h0M194.9 85.6h0M192.3 83.9h0M199.4 51.9h0M217.7 32.0h0M206.2 37.3h0M206.4 83.0h0M218.6 35.5h0" stroke="#00C08B" stroke-width="1.7" stroke-linecap="round" fill="none"/>
<path d="M155.4 77.6h0M152.6 70.8h0M136.7 74.7h0M156.3 80.3h0M161.4 64.3h0M154.2 79.9h0M147.2 75.2h0M165.4 97.2h0M160.6 100.3h0M144.9 76.4h0M138.5 72.9h0M157.8 72.3h0M162.3 59.0h0M141.5 75.1h0M163.9 101.9h0M166.2 64.8h0M156.1 74.1h0M140.9 70.9h0M152.3 73.1h0M143.8 71.5h0M151.1 86.0h0M143.2 76.0h0M157.6 86.7h0M164.5 59.8h0M157.3 64.5h0M149.1 83.4h0M157.7 99.5h0M167.1 67.0h0M154.3 90.7h0M139.3 74.6h0M149.3 73.9h0M143.8 74.4h0M169.1 59.1h0M157.0 77.5h0M150.1 76.9h0M142.6 82.1h0M158.6 57.2h0M155.4 94.0h0M166.7 91.9h0M167.3 65.7h0M152.0 75.6h0M140.1 81.8h0M168.1 61.4h0M156.4 55.9h0M144.8 68.6h0M160.2 67.7h0M148.2 75.3h0M145.6 66.6h0M159.3 78.2h0M151.6 70.0h0M164.9 72.8h0M153.4 79.0h0M168.0 72.5h0M160.5 71.6h0M153.3 66.9h0M143.4 83.9h0M151.0 75.4h0M145.5 66.3h0M154.2 80.1h0M161.8 76.7h0M166.5 89.5h0M163.2 69.9h0M146.2 75.9h0M137.9 69.5h0M146.6 69.5h0M154.3 72.5h0M148.7 77.2h0M162.4 96.9h0M145.4 71.4h0M147.4 87.8h0M144.9 80.2h0M165.3 65.1h0M167.4 95.5h0M148.0 73.6h0M151.2 77.9h0M156.1 67.7h0M155.4 58.9h0M147.4 80.5h0M143.8 77.1h0M146.7 80.0h0M155.0 71.7h0M151.3 68.9h0M165.4 91.1h0M161.3 50.4h0M156.2 67.9h0M148.1 78.1h0M142.8 74.9h0M160.8 86.4h0M151.2 70.0h0M143.4 79.1h0M144.5 73.9h0M150.4 77.9h0M153.2 81.3h0M163.4 101.3h0M161.3 86.9h0M158.8 66.3h0M158.6 73.7h0M151.3 75.0h0M155.8 87.2h0M165.8 95.9h0M144.8 71.6h0M167.1 56.6h0M151.7 75.7h0M161.0 88.2h0M145.2 82.0h0M147.6 72.3h0M162.7 50.1h0M160.5 97.5h0M159.2 80.3h0M157.0 72.0h0M165.4 95.0h0M157.9 61.9h0M147.9 67.8h0M158.0 79.4h0M153.5 81.6h0M155.9 80.0h0M149.0 71.6h0M158.9 83.4h0M138.9 74.7h0M146.2 80.1h0M156.8 92.8h0M165.8 68.4h0M167.2 66.4h0M155.6 83.8h0M151.7 73.1h0M138.5 72.3h0M140.4 64.2h0M140.4 74.4h0M142.8 71.7h0M166.3 53.9h0M151.0 65.2h0M155.7 76.1h0M156.0 68.4h0M157.0 86.6h0M163.6 100.3h0M142.3 67.1h0M144.6 66.5h0M144.7 79.9h0M154.0 65.2h0M149.9 86.6h0M149.3 70.6h0M151.7 82.5h0M160.1 51.8h0M148.5 81.1h0M145.2 68.1h0M144.7 66.4h0M140.6 67.8h0M144.6 69.9h0M145.3 70.0h0M147.2 82.7h0M152.0 82.9h0M144.3 71.0h0M163.8 69.9h0M157.8 80.8h0M142.1 66.8h0M151.4 73.0h0M161.5 50.9h0M143.4 69.1h0M139.5 67.7h0M150.8 68.5h0M138.7 70.8h0M152.5 73.2h0M151.4 80.2h0M162.8 89.5h0M141.7 76.1h0M157.4 78.5h0M160.6 91.6h0M146.2 74.4h0M158.5 60.4h0M154.7 77.1h0M166.2 69.0h0M142.2 70.6h0M161.0 67.2h0M139.4 69.5h0M138.7 76.4h0M146.8 80.6h0M150.1 72.3h0M140.3 74.6h0M144.5 80.1h0M160.0 80.9h0M157.6 57.3h0M157.8 67.0h0M146.4 74.2h0M139.2 68.9h0M156.3 95.4h0M161.6 85.7h0M148.0 77.5h0M146.6 66.9h0M148.2 73.3h0M165.3 95.3h0M151.3 61.6h0M139.4 71.5h0M158.9 68.3h0M147.5 75.6h0M153.1 63.9h0M143.1 80.9h0M149.6 74.0h0M145.4 68.8h0M143.1 84.7h0M162.9 75.5h0M150.6 75.1h0M142.6 74.7h0M163.8 66.7h0M149.3 69.2h0M165.0 75.8h0M150.8 72.6h0M164.3 66.4h0M150.8 82.5h0M158.0 82.9h0M143.1 69.0h0M163.7 67.4h0M166.7 65.8h0M150.8 64.6h0M147.8 70.2h0M156.7 76.6h0M158.1 71.5h0M153.0 70.4h0M164.5 99.3h0M157.5 83.8h0M155.7 62.1h0M143.5 70.9h0M151.3 70.8h0M164.4 74.0h0M152.3 81.2h0M151.6 76.8h0M161.3 96.8h0M164.9 94.3h0M161.6 78.8h0M163.3 55.7h0M162.4 86.6h0M152.1 74.9h0M158.3 62.1h0M147.2 70.8h0M144.5 71.0h0M147.8 69.5h0M166.9 96.4h0M139.6 74.8h0M167.3 62.2h0M150.4 67.6h0M159.8 65.7h0M148.1 63.5h0M147.4 75.3h0M151.3 75.4h0M161.5 51.1h0M141.1 65.3h0M157.8 77.7h0M162.3 75.0h0M154.7 75.1h0M159.9 95.6h0M162.6 74.0h0M164.5 78.1h0M161.4 67.4h0M143.1 77.9h0M160.6 92.6h0M144.8 77.6h0M156.5 97.3h0M160.5 86.7h0M151.7 74.5h0M145.1 76.7h0M150.2 64.6h0M149.5 90.7h0M165.6 87.4h0M158.3 66.7h0M154.0 81.5h0M163.0 100.1h0M146.2 75.1h0M137.9 77.2h0M146.3 68.5h0M157.1 68.7h0M156.1 95.9h0M138.7 75.4h0M143.3 67.8h0M155.6 71.8h0M142.2 73.7h0M163.1 77.2h0M148.8 82.9h0M157.8 95.4h0M157.4 67.0h0M138.4 77.3h0M151.6 62.0h0M146.9 70.7h0M158.4 83.0h0M161.0 55.7h0M156.7 68.0h0M144.6 70.8h0M143.4 73.5h0M146.4 73.0h0M157.0 78.8h0M155.8 69.2h0M168.6 54.6h0M162.5 71.2h0M152.0 75.3h0M163.7 69.5h0M152.0 79.8h0M144.0 81.3h0M154.5 76.2h0M150.8 80.3h0M160.4 65.9h0M144.0 72.4h0M143.8 72.2h0M149.6 70.9h0M167.2 74.7h0M159.4 75.0h0M156.8 83.3h0M163.3 102.6h0M150.2 72.6h0M144.2 74.6h0M154.8 89.3h0M146.6 65.1h0M155.7 91.1h0M162.3 59.8h0M137.5 71.5h0M150.6 67.9h0M153.8 72.7h0M146.8 68.2h0M153.9 78.2h0M161.7 66.0h0M139.8 75.0h0M142.8 67.0h0M162.5 98.8h0M140.7 70.6h0M150.7 78.4h0M163.6 66.0h0M146.7 78.1h0M161.6 67.5h0M153.5 63.5h0M141.9 72.8h0M146.8 74.5h0M143.3 84.2h0M152.9 86.6h0M142.9 68.8h0M148.3 73.0h0M166.9 93.3h0M147.9 79.0h0M151.0 76.5h0M147.5 79.0h0M143.8 79.5h0M151.8 65.8h0M149.4 90.1h0M145.0 67.2h0M151.2 80.1h0M155.7 72.8h0M169.0 62.0h0M161.6 91.6h0M154.0 63.3h0M166.0 58.2h0M144.0 66.9h0M164.4 101.5h0M164.3 98.0h0M162.7 94.3h0M156.4 80.1h0M150.6 76.7h0M157.2 69.9h0M149.7 69.0h0M162.5 98.8h0M158.5 70.5h0M150.9 72.2h0M144.0 73.7h0M165.2 52.4h0M163.8 83.1h0M148.5 72.2h0M148.8 83.1h0M142.5 76.4h0M142.1 79.8h0M152.0 73.0h0M146.4 74.4h0M145.4 67.2h0M166.8 81.6h0M151.8 76.3h0M165.7 54.4h0M152.1 78.2h0M147.5 70.8h0M167.2 69.3h0M140.8 69.8h0M154.9 76.1h0M143.0 83.1h0M144.4 74.1h0M154.3 82.3h0M145.4 71.2h0M158.8 73.2h0M163.9 81.3h0M146.0 81.7h0M140.3 78.7h0M158.7 76.1h0M141.9 69.4h0M164.8 83.1h0M145.5 82.6h0M150.8 68.1h0M151.5 71.1h0M156.6 89.6h0M159.8 67.5h0M145.3 81.7h0M150.4 78.7h0M157.7 90.2h0M161.4 89.4h0M145.0 71.3h0M164.9 64.3h0M157.8 63.1h0M143.0 77.3h0M144.0 66.8h0M154.0 93.4h0M150.3 78.0h0M147.8 82.2h0M153.4 81.6h0M156.6 66.7h0M154.1 75.5h0M139.6 76.7h0M145.5 67.9h0M143.8 75.6h0M167.3 59.8h0M157.6 68.3h0M152.4 76.8h0M155.7 71.7h0M154.1 78.8h0M151.3 88.4h0M159.2 75.3h0M143.1 72.7h0M145.1 73.2h0M144.0 68.1h0M147.3 86.2h0M162.1 97.7h0M167.3 63.5h0M141.9 73.5h0M151.6 86.8h0M160.1 68.8h0M141.4 71.0h0M166.7 75.4h0M148.8 70.9h0M155.5 71.9h0M149.4 77.4h0" stroke="#00BFC4" stroke-width="1.7" stroke-linecap="round" fill="none"/>
<path d="M85.7 158.0h0M77.8 154.7h0M71.3 159.7h0M53.8 165.3h0M52.9 159.2h0M54.2 160.0h0M52.2 161.8h0M64.3 162.0h0M55.9 167.2h0M55.2 159.6h0M59.6 161.1h0M57.3 152.2h0M71.0 162.1h0M76.6 160.8h0M55.1 162.2h0M87.9 156.8h0M68.5 163.2h0M88.0 166.2h0M86.1 161.3h0M59.9 162.2h0M90.8 159.3h0M76.7 160.4h0M81.0 164.0h0M83.9 166.3h0M61.2 165.3h0M57.9 148.9h0M57.9 163.7h0M56.3 149.5h0M81.3 164.3h0M54.1 157.1h0M56.7 166.7h0M66.0 160.8h0M67.6 163.2h0M81.2 160.4h0M85.5 158.3h0M88.5 165.9h0M66.6 156.2h0M82.4 158.0h0M85.7 160.3h0M70.6 157.0h0M81.5 159.5h0M52.0 160.4h0M64.6 160.3h0M71.7 163.3h0M90.4 164.2h0M58.5 160.3h0M79.8 160.1h0M83.9 167.8h0M85.6 164.9h0M77.6 160.4h0M83.6 162.4h0M56.3 157.7h0M74.6 161.8h0M63.3 159.6h0M63.3 158.1h0M58.9 159.6h0M56.7 166.3h0M79.2 164.9h0M83.9 159.3h0M66.1 160.8h0M73.6 160.8h0M54.3 159.5h0M71.5 157.5h0M87.3 158.8h0M55.8 160.4h0M54.1 165.6h0M81.0 161.4h0M77.0 156.5h0M60.4 162.5h0M85.4 165.0h0M65.1 160.6h0M88.4 156.6h0M92.5 160.2h0M56.0 157.7h0M54.4 159.6h0M67.2 162.7h0M84.2 165.9h0M82.3 167.7h0M61.5 164.2h0M72.0 161.4h0M56.2 162.0h0M59.5 165.4h0M85.1 164.1h0M85.0 162.7h0M54.9 161.9h0M65.3 156.4h0M56.9 160.0h0M54.6 152.4h0M72.1 163.5h0M84.5 162.0h0M80.5 162.5h0M60.4 160.8h0M78.4 158.8h0M67.3 161.0h0M58.7 166.3h0M57.1 165.3h0M59.9 167.5h0M67.1 159.2h0M86.1 157.8h0M69.8 162.0h0M91.4 161.3h0M58.7 149.8h0M72.4 155.9h0M72.6 164.4h0M78.3 161.4h0M66.6 155.4h0M79.6 167.0h0M56.9 153.7h0M61.4 166.1h0M69.4 161.3h0M85.1 162.1h0M90.1 157.6h0M56.4 162.4h0M54.2 151.8h0M72.6 160.0h0M59.7 158.2h0M57.9 159.3h0M55.0 161.2h0M52.0 161.7h0M69.9 161.1h0M84.5 165.6h0M61.4 158.0h0M87.8 162.1h0M92.0 159.1h0M58.3 167.3h0M87.3 161.7h0M83.0 157.1h0M88.1 165.3h0M84.8 163.6h0M86.6 162.6h0M56.2 164.3h0M72.4 163.4h0M79.7 158.2h0M83.7 163.5h0M84.7 158.2h0M56.7 156.8h0M63.0 155.3h0M56.5 158.5h0M59.1 152.2h0M72.9 160.6h0M63.6 155.1h0M75.3 160.3h0M56.2 148.9h0M53.2 156.8h0M85.9 166.2h0M62.6 159.4h0M57.6 159.7h0M82.2 163.8h0M65.1 165.7h0M56.6 160.6h0M79.5 163.7h0M78.8 159.4h0M78.3 163.2h0M81.4 161.7h0M54.6 162.1h0M78.0 162.1h0M80.6 161.2h0M76.0 159.5h0M58.7 159.8h0M52.9 164.0h0M62.4 165.8h0M80.7 156.6h0M84.3 162.5h0M64.4 162.3h0M89.7 165.6h0M88.5 160.9h0M66.2 165.2h0M86.0 162.6h0M85.7 167.2h0M85.2 163.4h0M55.0 160.8h0M60.6 164.9h0M52.9 161.1h0M82.9 161.6h0M87.9 158.2h0M55.9 162.0h0M52.6 159.8h0M78.3 158.9h0M64.0 163.3h0M59.9 165.7h0M66.7 159.8h0M83.3 155.9h0M86.8 163.7h0M54.1 166.6h0M67.7 160.4h0M81.9 159.8h0M56.4 154.8h0M56.9 166.2h0M89.3 158.9h0M88.5 159.8h0M59.5 162.7h0M69.8 162.2h0M86.0 162.2h0M54.2 158.3h0M55.9 154.1h0M77.8 160.3h0M56.1 160.9h0M84.7 162.0h0M90.0 159.8h0M57.7 152.5h0" stroke="#00B4F0" stroke-width="1.7" stroke-linecap="round" fill="none"/>
<path d="M251.7 34.6h0M239.7 34.4h0M249.9 27.5h0M248.5 26.4h0M250.5 30.8h0M250.4 23.7h0M247.5 25.5h0M254.9 33.3h0M257.5 30.9h0M243.7 44.1h0M251.3 30.0h0M248.6 38.4h0M242.2 41.5h0M242.3 31.2h0M252.7 32.7h0M250.3 22.0h0M247.4 32.7h0M252.9 32.1h0M239.9 29.5h0M253.4 32.9h0M252.7 32.4h0M246.0 25.1h0M246.9 40.8h0M248.4 34.0h0M245.6 35.4h0M245.4 32.9h0M250.7 24.2h0M255.5 29.9h0M253.9 26.9h0M248.1 27.4h0M247.2 32.1h0M244.8 27.2h0M248.8 27.4h0M249.3 26.6h0M250.8 29.8h0M253.4 33.1h0M256.1 31.1h0M248.0 28.8h0M247.5 30.8h0M250.8 27.2h0M250.5 28.1h0M248.2 31.2h0M248.6 27.1h0M240.2 40.0h0M243.9 40.0h0M250.3 34.2h0M252.5 32.8h0M250.0 30.3h0M252.6 29.7h0M250.9 25.0h0M252.8 28.9h0M251.7 39.2h0M252.4 29.8h0M248.2 34.1h0M253.3 39.2h0M241.9 45.9h0M251.6 22.4h0M250.2 33.4h0M240.8 31.0h0M255.1 34.7h0M243.2 33.9h0M238.4 40.3h0M248.5 33.3h0M248.7 36.7h0M250.5 31.8h0M238.5 38.1h0M248.4 32.9h0M247.8 27.8h0M243.5 37.6h0M248.5 33.2h0M257.3 31.3h0M247.0 22.4h0M246.5 32.1h0M243.6 30.2h0M247.5 32.3h0M245.5 27.9h0M255.9 31.1h0M247.5 39.1h0M252.9 30.4h0M250.7 28.1h0M245.4 37.4h0M247.7 29.6h0M243.9 29.1h0M244.4 40.0h0M245.7 37.5h0M246.6 32.8h0M250.2 22.4h0M255.5 35.1h0M253.3 27.8h0M242.5 27.1h0M248.3 25.8h0M251.3 23.7h0M243.3 27.5h0M248.7 33.2h0M250.9 22.8h0M253.1 24.8h0M252.5 24.5h0M250.6 32.0h0M243.8 38.4h0M249.7 29.0h0M251.8 30.4h0M246.0 38.5h0M250.0 28.9h0M240.3 40.8h0M245.0 25.1h0M252.2 38.6h0M239.9 40.7h0M256.6 30.6h0M246.4 29.8h0M248.3 31.7h0M252.6 26.2h0M252.9 27.4h0M251.4 31.5h0M256.0 30.7h0M245.2 27.3h0M245.1 38.1h0M246.8 30.9h0M251.7 30.9h0M249.6 28.3h0M253.1 32.3h0M253.3 27.6h0M238.8 45.4h0M246.7 29.6h0M252.7 31.1h0M253.4 29.1h0M254.1 31.7h0M243.1 43.6h0M244.1 27.2h0M243.0 46.7h0M239.7 30.2h0M250.0 36.8h0M248.8 27.5h0M250.1 27.9h0M254.2 32.8h0M239.1 39.1h0M248.0 34.9h0M238.9 33.8h0M246.0 25.4h0M242.5 33.8h0M247.4 38.3h0" stroke="#619CFF" stroke-width="1.7" stroke-linecap="round" fill="none"/>
<path d="M226.5 59.7h0M225.4 62.9h0M221.0 82.4h0M224.1 80.6h0M220.5 75.8h0M224.5 62.3h0M228.0 56.7h0M224.8 56.2h0M221.8 88.0h0M231.1 56.4h0M218.9 87.7h0M229.0 57.7h0M224.4 75.6h0M219.2 88.1h0M226.4 66.6h0M229.7 53.7h0M221.5 60.3h0M225.8 60.3h0M228.9 66.2h0M221.3 66.7h0M225.0 83.5h0M212.2 87.0h0M230.1 62.5h0M216.0 85.3h0M226.4 73.9h0M228.2 63.4h0M229.1 59.3h0M224.6 87.0h0M223.7 61.7h0M216.6 84.8h0M224.2 70.7h0M229.1 62.4h0M226.0 54.8h0M219.4 83.4h0M228.4 59.7h0M218.6 87.1h0M226.8 55.7h0M217.5 83.4h0M225.8 62.7h0M225.4 70.9h0M220.9 88.8h0M225.9 69.4h0M223.5 84.5h0M219.6 83.3h0M220.5 88.2h0M229.4 62.2h0M224.8 63.8h0M226.1 58.4h0M225.2 61.5h0M225.3 66.7h0M221.8 59.3h0M223.6 68.1h0M218.6 84.6h0M225.8 69.5h0M227.1 68.6h0M221.9 56.2h0M224.5 74.3h0M221.8 82.1h0M228.1 70.7h0M231.3 62.6h0M223.0 84.4h0M228.8 69.2h0M224.8 58.2h0M219.9 90.1h0M225.0 59.8h0M226.6 53.2h0M226.7 63.8h0M227.8 61.4h0M230.3 53.1h0M216.3 88.4h0M227.1 72.2h0M217.8 89.1h0M229.0 61.8h0M222.2 82.1h0M218.9 81.6h0M219.4 83.9h0M222.1 68.7h0M217.4 87.6h0M227.8 68.2h0M216.6 85.8h0M222.1 87.3h0M224.2 68.0h0M213.7 84.8h0M226.1 66.2h0M227.1 56.3h0M226.3 73.3h0M225.2 53.4h0M219.2 85.7h0M223.0 68.0h0M223.6 59.0h0M226.2 51.1h0M223.9 63.8h0M216.9 86.2h0M227.1 61.9h0M217.7 89.8h0M219.2 83.7h0M230.2 65.1h0M224.7 60.4h0M218.6 87.6h0M215.1 85.1h0M229.3 53.4h0M224.4 71.2h0M217.2 84.5h0M226.8 58.4h0M220.0 85.0h0M217.8 87.2h0M214.4 88.0h0M225.0 60.9h0M228.8 54.3h0M228.2 57.7h0" stroke="#C77CFF" stroke-width="1.7" stroke-linecap="round" fill="none"/>
<path d="M177.3 67.8h0M181.0 62.1h0M176.1 65.0h0M184.7 60.4h0M177.9 75.9h0M174.7 76.9h0M186.8 55.0h0M188.9 53.3h0M177.0 77.4h0M182.1 58.5h0M176.5 72.2h0M193.4 46.6h0M180.3 56.4h0M176.6 69.0h0M191.9 53.1h0M177.4 74.0h0M187.8 58.5h0M181.4 53.4h0M191.2 47.8h0M186.5 61.1h0M188.3 57.0h0M182.5 59.0h0M191.9 50.3h0M177.9 70.0h0M185.2 56.4h0M185.4 52.2h0M179.8 67.0h0M185.2 54.3h0M187.5 55.9h0M183.5 59.6h0M186.6 57.2h0M187.3 57.9h0M193.4 50.3h0M176.3 77.5h0M189.0 51.1h0M181.7 57.4h0M189.7 55.1h0M181.9 61.1h0M190.9 55.1h0M177.2 77.9h0M181.8 66.1h0M178.4 65.7h0M185.2 56.9h0M187.7 57.1h0M194.5 48.1h0M176.7 75.2h0M189.3 52.1h0M176.5 68.8h0M185.3 52.6h0M194.2 51.6h0M185.7 53.4h0M189.0 53.2h0M190.1 48.7h0M187.9 58.8h0M177.9 73.7h0M190.2 54.6h0M180.2 56.6h0M187.9 54.6h0M180.0 70.7h0M180.9 56.8h0M179.3 70.3h0M175.9 65.2h0M191.2 52.2h0M191.4 52.8h0M184.8 53.0h0M191.9 50.0h0M195.3 50.3h0M189.9 49.1h0M189.5 54.6h0M174.3 78.1h0M178.1 60.1h0M180.0 72.5h0M184.1 60.2h0M186.0 54.7h0M175.1 65.3h0M178.6 66.3h0M183.5 66.4h0M177.3 65.7h0M196.9 46.1h0M174.1 77.6h0M187.3 55.6h0M183.9 62.1h0M188.6 54.6h0M183.4 60.5h0M174.2 79.1h0M191.8 52.3h0M188.7 53.2h0M192.7 48.4h0M178.6 73.0h0M178.5 63.0h0M173.0 71.0h0M183.8 63.6h0M186.7 55.1h0M188.6 54.7h0M175.8 64.9h0M185.3 53.4h0M183.5 69.3h0M188.6 47.4h0M179.0 67.7h0M185.4 56.8h0M188.2 50.8h0M178.1 67.3h0M188.6 59.5h0M184.0 56.2h0M189.9 51.2h0M191.5 49.9h0M186.5 52.6h0M180.6 67.2h0M190.3 57.3h0M188.5 57.3h0M176.8 72.8h0M191.4 53.8h0M191.0 52.4h0M188.3 50.4h0M179.5 63.0h0M187.5 53.2h0M176.8 74.6h0M176.8 78.1h0M182.6 53.3h0M185.4 51.2h0M190.7 55.5h0M190.1 57.1h0M180.3 69.6h0M176.9 77.2h0M186.4 49.5h0M177.5 61.2h0M188.1 53.6h0M187.3 58.8h0M185.9 57.9h0M191.7 55.0h0M188.0 58.4h0M180.3 57.2h0M197.0 48.3h0M176.6 65.7h0M182.8 66.9h0M187.4 57.5h0M190.6 58.2h0M191.2 49.1h0M192.5 54.3h0M185.7 52.3h0M177.1 64.2h0M188.3 56.5h0M176.5 64.4h0M184.2 54.2h0M179.5 56.6h0M187.9 53.7h0M184.7 60.6h0M184.9 51.3h0M177.0 70.9h0M188.9 55.1h0M176.3 68.4h0M191.5 51.4h0M188.1 50.7h0M187.3 54.6h0M179.7 70.8h0M182.6 61.7h0M178.0 62.5h0M195.0 50.7h0M180.0 62.0h0M182.7 57.2h0M182.9 62.9h0M191.8 47.8h0M181.4 60.0h0M176.5 67.8h0M187.8 55.7h0M192.7 48.3h0M183.5 51.0h0M187.3 47.5h0M175.5 75.0h0M178.1 63.5h0" stroke="#F564E3" stroke-width="1.7" stroke-linecap="round" fill="none"/>
<path d="M155.4 161.3h0M128.2 155.1h0M123.4 152.9h0M157.2 156.3h0M151.6 157.2h0M147.4 159.4h0M124.4 155.4h0M125.6 154.2h0M151.1 156.4h0M146.2 156.2h0M135.3 160.6h0M126.8 156.9h0M151.1 159.7h0M210.5 220.2h0M150.1 153.0h0M123.1 154.4h0M134.1 154.8h0M146.5 154.4h0M211.7 218.2h0M128.7 152.2h0M125.2 151.6h0M135.5 158.1h0M127.9 155.8h0M210.0 216.2h0M128.2 157.3h0M210.4 220.5h0M212.2 219.9h0M210.5 221.0h0M158.0 153.7h0M147.5 155.4h0M214.0 216.2h0M209.2 219.0h0M145.6 153.7h0M214.6 217.3h0M151.2 157.0h0M128.5 150.3h0M214.8 218.0h0M124.5 153.6h0M138.3 155.6h0M145.5 155.8h0M122.2 152.4h0M149.2 160.3h0M126.4 153.2h0M118.0 159.4h0M209.4 218.9h0M150.3 158.1h0M212.0 217.9h0M150.6 158.4h0M125.7 153.1h0M120.8 160.6h0M129.5 151.3h0M127.6 153.4h0M124.1 155.1h0M127.8 153.9h0M121.1 154.0h0M147.8 158.4h0M125.0 153.0h0M152.5 154.3h0M214.4 221.6h0M213.9 218.0h0M125.3 156.3h0M130.4 156.9h0M213.0 220.8h0M152.2 161.6h0M124.9 154.4h0M124.9 153.4h0M140.2 158.0h0M210.2 216.0h0M154.4 157.3h0M125.6 153.6h0M210.4 219.9h0M129.5 157.0h0M144.7 156.2h0M149.2 157.8h0M210.8 217.7h0M209.4 221.7h0M207.2 218.2h0M156.3 159.8h0M143.8 152.7h0M121.2 152.7h0M154.9 158.6h0M210.9 220.3h0M144.1 158.8h0M121.8 152.7h0M147.9 155.9h0M145.9 154.6h0M149.5 156.3h0M152.9 157.7h0M140.0 155.1h0M126.8 153.4h0M124.2 153.1h0M148.1 159.4h0M155.4 160.3h0M124.8 152.8h0M148.1 155.0h0M156.6 154.2h0M208.4 215.9h0" stroke="#FF64B0" stroke-width="1.7" stroke-linecap="round" fill="none"/>
<text x="243.5" y="186" font-size="8.6" text-anchor="middle" fill="#000" >0</text>
<text x="171" y="129" font-size="8.6" text-anchor="middle" fill="#000" >1</text>
<text x="269" y="119" font-size="8.6" text-anchor="middle" fill="#000" >2</text>
<text x="217.5" y="141.5" font-size="8.6" text-anchor="middle" fill="#000" >3</text>
<text x="221.5" y="248" font-size="8.6" text-anchor="middle" fill="#000" >4</text>
<text x="207.5" y="35" font-size="8.6" text-anchor="middle" fill="#000" >5</text>
<text x="155.5" y="76" font-size="8.6" text-anchor="middle" fill="#000" >6</text>
<text x="65.5" y="164.5" font-size="8.6" text-anchor="middle" fill="#000" >7</text>
<text x="248.8" y="34.5" font-size="8.6" text-anchor="middle" fill="#000" >8</text>
<text x="224" y="79" font-size="8.6" text-anchor="middle" fill="#000" >9</text>
<text x="186" y="60.5" font-size="8.6" text-anchor="middle" fill="#000" >10</text>
<text x="148" y="160" font-size="8.6" text-anchor="middle" fill="#000" >11</text>
<circle cx="317.5" cy="75.8" r="2.6" fill="#F8766D"/>
<text x="328.6" y="79.1" font-size="9" text-anchor="start" fill="#000" >0</text>
<circle cx="317.5" cy="87.1" r="2.6" fill="#DE8C00"/>
<text x="328.6" y="90.4" font-size="9" text-anchor="start" fill="#000" >1</text>
<circle cx="317.5" cy="98.5" r="2.6" fill="#B79F00"/>
<text x="328.6" y="101.8" font-size="9" text-anchor="start" fill="#000" >2</text>
<circle cx="317.5" cy="109.8" r="2.6" fill="#7CAE00"/>
<text x="328.6" y="113.1" font-size="9" text-anchor="start" fill="#000" >3</text>
<circle cx="317.5" cy="121.2" r="2.6" fill="#00BA38"/>
<text x="328.6" y="124.5" font-size="9" text-anchor="start" fill="#000" >4</text>
<circle cx="317.5" cy="132.5" r="2.6" fill="#00C08B"/>
<text x="328.6" y="135.8" font-size="9" text-anchor="start" fill="#000" >5</text>
<circle cx="317.5" cy="143.8" r="2.6" fill="#00BFC4"/>
<text x="328.6" y="147.1" font-size="9" text-anchor="start" fill="#000" >6</text>
<circle cx="317.5" cy="155.2" r="2.6" fill="#00B4F0"/>
<text x="328.6" y="158.5" font-size="9" text-anchor="start" fill="#000" >7</text>
<circle cx="317.5" cy="166.5" r="2.6" fill="#619CFF"/>
<text x="328.6" y="169.8" font-size="9" text-anchor="start" fill="#000" >8</text>
<circle cx="317.5" cy="177.9" r="2.6" fill="#C77CFF"/>
<text x="328.6" y="181.2" font-size="9" text-anchor="start" fill="#000" >9</text>
<circle cx="317.5" cy="189.2" r="2.6" fill="#F564E3"/>
<text x="328.6" y="192.5" font-size="9" text-anchor="start" fill="#000" >10</text>
<circle cx="317.5" cy="200.5" r="2.6" fill="#FF64B0"/>
<text x="328.6" y="203.8" font-size="9" text-anchor="start" fill="#000" >11</text>
<text transform="translate(370 10.7) scale(0.93 1)" font-size="15" font-weight="bold" fill="#000" stroke="#000" stroke-width="0.4">B</text>
<path d="M401.8 0V272.4H667" fill="none" stroke="#222" stroke-width="1"/>
<line x1="399.2" y1="202.6" x2="401.8" y2="202.6" stroke="#222" stroke-width="1"/>
<text x="396.8" y="205.9" font-size="9" text-anchor="end" fill="#000" >−5</text>
<line x1="399.2" y1="132.5" x2="401.8" y2="132.5" stroke="#222" stroke-width="1"/>
<text x="396.8" y="135.7" font-size="9" text-anchor="end" fill="#000" >0</text>
<line x1="399.2" y1="62.4" x2="401.8" y2="62.4" stroke="#222" stroke-width="1"/>
<text x="396.8" y="65.6" font-size="9" text-anchor="end" fill="#000" >5</text>
<line x1="419.7" y1="272.4" x2="419.7" y2="275" stroke="#222" stroke-width="1"/>
<text x="419.7" y="283.2" font-size="9" text-anchor="middle" fill="#000" >−10</text>
<line x1="497" y1="272.4" x2="497" y2="275" stroke="#222" stroke-width="1"/>
<text x="497" y="283.2" font-size="9" text-anchor="middle" fill="#000" >−5</text>
<line x1="574.4" y1="272.4" x2="574.4" y2="275" stroke="#222" stroke-width="1"/>
<text x="574.4" y="283.2" font-size="9" text-anchor="middle" fill="#000" >0</text>
<line x1="651.8" y1="272.4" x2="651.8" y2="275" stroke="#222" stroke-width="1"/>
<text x="651.8" y="283.2" font-size="9" text-anchor="middle" fill="#000" >5</text>
<text x="534.5" y="295.5" font-size="10" text-anchor="middle" fill="#000" >UMAP_1</text>
<text transform="translate(382.9 135.7) rotate(-90)" font-size="10.2" text-anchor="middle" fill="#000" >UMAP_2</text>
<path d="M572.4 67.3h0M596.3 243.8h0M568.0 109.1h0M597.2 117.5h0M579.4 145.3h0M598.1 148.7h0M596.9 142.3h0M588.5 73.8h0M575.3 23.5h0M597.3 179.4h0M589.5 241.4h0M630.1 176.5h0M554.7 47.2h0M559.5 80.3h0M614.4 217.4h0M573.4 253.9h0M556.9 101.7h0M548.0 117.2h0M426.3 160.4h0M594.2 173.6h0M628.5 198.4h0M582.6 132.0h0M547.0 107.0h0M628.3 153.8h0M588.1 236.7h0M604.9 192.3h0M618.1 105.8h0M571.3 247.4h0M563.3 147.9h0M594.3 167.5h0M514.0 159.8h0M587.6 106.1h0M562.9 130.2h0M638.2 166.1h0M572.2 152.3h0M596.9 244.3h0M626.9 203.6h0M418.5 166.3h0M627.2 195.6h0M618.5 209.8h0M598.9 158.7h0M606.7 221.2h0M611.9 24.8h0M569.1 249.6h0M625.4 195.4h0M447.2 163.5h0M633.3 174.2h0M602.8 222.9h0M591.1 148.1h0M517.0 64.7h0M428.3 155.5h0M513.6 114.8h0M601.3 183.3h0M580.5 85.4h0M619.2 203.6h0M527.4 92.0h0M628.2 185.4h0M578.2 98.9h0M568.2 250.0h0M579.5 41.0h0M592.2 70.2h0M626.1 168.1h0M630.4 166.2h0M509.1 74.0h0M564.7 243.4h0M560.5 45.5h0M627.8 198.8h0M599.4 236.0h0M574.0 83.3h0M546.5 91.9h0M438.4 160.8h0M510.7 158.4h0M616.7 200.3h0M585.0 82.0h0M585.9 196.4h0M426.8 165.8h0M417.8 148.9h0M610.9 187.3h0M589.2 52.8h0M638.1 170.2h0M571.5 21.2h0M635.7 158.9h0M518.4 161.3h0M513.7 67.6h0M631.7 163.6h0M579.9 32.3h0M639.3 159.8h0M593.4 180.0h0M606.1 185.5h0M584.0 115.8h0M597.8 173.2h0M627.1 170.1h0M615.1 27.4h0M568.2 131.6h0M540.5 77.5h0M601.7 113.3h0M603.7 140.6h0M630.8 157.6h0M629.2 167.8h0M570.9 23.8h0M537.1 149.3h0M568.8 243.1h0M590.8 27.9h0" stroke="#619CFF" stroke-width="1.8" stroke-linecap="round" fill="none"/>
<path d="M552.8 92.0h0M574.6 18.3h0M529.3 130.8h0M514.2 75.0h0M534.9 113.5h0M647.5 105.5h0M601.4 163.2h0M594.4 187.3h0M568.4 126.3h0M537.4 140.6h0M443.8 159.9h0M602.4 210.9h0M563.0 126.0h0M600.9 216.5h0M581.0 47.2h0M606.6 206.2h0M619.5 187.0h0M579.8 226.3h0M550.9 107.1h0M612.5 100.9h0M515.2 128.4h0M655.6 114.0h0M620.0 161.8h0M417.7 161.0h0M600.6 215.1h0M607.6 178.2h0M615.3 24.3h0M624.7 155.9h0M573.3 135.2h0M640.0 92.6h0M554.3 94.3h0M535.1 138.9h0M637.1 141.9h0M636.2 113.4h0M645.8 95.8h0M596.6 110.6h0M640.2 146.6h0M626.2 163.4h0M604.5 181.1h0M640.9 101.6h0M431.6 162.1h0M613.3 210.4h0M642.3 109.2h0M528.7 119.0h0M550.8 146.5h0M625.0 156.9h0M521.5 122.5h0M651.0 111.7h0M422.8 165.3h0M488.2 154.3h0M531.8 67.5h0M529.9 108.1h0M641.3 117.3h0M533.8 67.5h0M636.7 163.4h0M561.7 138.5h0M633.8 134.4h0M590.5 164.8h0M628.0 111.0h0M569.1 68.1h0M588.8 120.4h0M531.3 60.9h0M572.1 118.1h0M529.7 106.5h0M549.4 129.3h0M648.8 118.1h0M632.5 192.6h0M574.1 18.2h0M630.4 163.5h0M627.6 132.8h0M590.6 254.3h0M623.6 195.4h0M510.8 146.1h0M579.8 189.6h0M528.6 139.7h0M613.6 174.3h0M629.8 177.8h0M540.6 129.5h0M601.2 198.6h0M553.6 127.1h0M555.8 83.5h0M605.3 122.5h0M637.6 136.7h0M628.3 93.4h0M571.5 81.2h0M635.8 150.1h0M643.5 111.4h0M593.6 138.0h0M606.1 110.2h0M624.2 101.6h0M524.1 95.6h0M588.4 139.6h0M443.0 164.1h0M526.3 69.5h0M584.2 24.7h0M509.3 130.3h0M632.3 138.6h0M552.8 51.5h0M528.5 65.0h0M598.4 199.8h0M600.9 236.0h0M593.0 193.1h0M647.6 123.8h0M610.6 153.6h0M598.1 200.2h0M599.6 204.4h0M583.2 240.7h0M611.2 199.4h0M612.5 33.4h0M502.6 74.6h0M536.3 143.5h0M573.1 219.3h0M636.6 128.1h0M522.1 128.4h0M587.9 200.6h0M608.1 218.8h0M646.0 146.3h0M619.9 211.0h0M595.6 218.9h0M611.1 172.8h0M632.1 103.8h0M576.4 27.3h0M506.6 71.8h0M557.7 126.9h0M605.8 144.2h0M593.7 164.4h0M615.7 151.7h0M646.6 131.9h0M626.0 100.3h0M598.8 150.2h0M620.0 34.5h0M596.1 205.7h0M636.7 101.2h0M520.4 66.6h0M649.0 139.3h0M653.2 119.3h0M584.5 198.4h0M601.1 183.1h0M447.5 158.4h0M573.0 122.9h0M614.9 30.1h0M520.3 132.4h0M546.3 133.3h0M611.2 112.5h0M637.0 125.8h0M597.4 187.7h0M549.2 138.2h0M508.1 69.6h0M575.8 33.1h0M570.1 109.3h0M424.2 159.5h0M607.8 121.6h0M592.1 206.5h0M577.0 18.1h0M529.0 126.2h0M608.6 122.8h0M646.8 142.9h0M566.5 129.7h0M522.2 74.9h0M580.7 120.6h0M632.0 113.2h0M638.7 113.6h0M537.3 120.9h0M424.7 155.3h0M608.5 205.7h0M614.5 174.0h0M626.7 117.9h0M584.7 240.4h0M530.0 115.6h0M516.9 77.8h0M601.6 183.1h0M515.2 116.5h0M617.8 165.9h0M568.6 30.5h0M425.3 155.1h0" stroke="#00BA38" stroke-width="1.8" stroke-linecap="round" fill="none"/>
<path d="M517.9 75.7h0M636.4 116.2h0M533.3 140.8h0M642.5 142.3h0M546.6 146.2h0M512.3 77.0h0M561.9 128.8h0M640.0 135.8h0M576.8 26.1h0M601.0 122.6h0M570.9 28.3h0M512.2 73.5h0M617.4 181.0h0M571.7 76.8h0M523.8 129.5h0M606.3 234.1h0M636.9 181.3h0M627.1 121.5h0M609.3 192.9h0M627.2 97.7h0M634.7 122.4h0M420.4 166.4h0M633.6 117.5h0M535.3 133.6h0M523.3 98.8h0M621.9 132.5h0M553.4 91.1h0M637.0 130.2h0M584.3 258.4h0M584.0 30.9h0M577.1 146.7h0M528.9 146.3h0M609.1 183.5h0M580.6 228.8h0M516.4 63.0h0M617.3 31.5h0M609.4 168.4h0M507.8 125.9h0M649.3 92.6h0M619.2 184.3h0M531.2 72.0h0M614.3 116.4h0M589.8 178.8h0M551.6 50.3h0M598.5 238.6h0M513.9 122.0h0M605.0 30.3h0M531.4 76.2h0M588.7 237.2h0M421.5 165.8h0M614.7 33.5h0M612.9 25.7h0M522.3 92.7h0M612.3 121.8h0M639.2 100.8h0M630.5 129.9h0M597.6 114.6h0M416.6 160.8h0M616.6 37.9h0M631.2 128.0h0M594.2 204.3h0M530.5 61.7h0M625.9 193.7h0M565.5 93.4h0M612.4 199.3h0M626.7 202.8h0M526.2 76.8h0M584.4 185.1h0M513.5 74.6h0M640.1 110.4h0M558.9 134.9h0M546.9 59.1h0M633.8 186.2h0M614.2 162.5h0M582.9 234.6h0M514.4 138.6h0M549.2 52.9h0M634.5 186.2h0M611.0 180.5h0M587.5 244.4h0M525.5 86.2h0M576.4 146.3h0M533.2 99.4h0M578.3 106.6h0M644.1 116.3h0M536.6 95.8h0M609.2 215.6h0M575.4 31.9h0M600.8 204.5h0M565.8 135.7h0M571.1 252.3h0M637.3 129.6h0M547.3 91.5h0M489.4 157.0h0M615.3 220.7h0M581.1 84.1h0M544.8 52.9h0M632.1 98.7h0M602.2 199.9h0M584.8 167.5h0M523.9 136.9h0M644.8 104.3h0M577.1 30.2h0M576.7 258.2h0M566.7 21.7h0M579.3 62.5h0M532.7 124.3h0M526.3 129.8h0M627.4 134.4h0M563.5 122.4h0M570.5 20.8h0M602.7 184.4h0M641.9 159.3h0M596.9 135.9h0M534.8 96.7h0M567.0 31.2h0M533.9 122.7h0M613.4 90.3h0M413.7 161.8h0M592.6 208.2h0M536.6 132.9h0M602.9 236.2h0M507.7 68.2h0M414.4 159.3h0M616.1 95.5h0M617.5 31.6h0M599.4 224.0h0M634.2 131.5h0M578.4 252.2h0M576.9 250.2h0M626.5 152.7h0M570.1 83.3h0M552.0 140.3h0M515.6 118.6h0M642.2 99.7h0M598.2 212.8h0M639.3 112.1h0M592.6 206.9h0M600.2 232.7h0M633.9 90.9h0M577.7 218.4h0M640.2 138.4h0M606.1 220.8h0M552.5 133.1h0M641.1 156.2h0M589.2 248.3h0M540.1 139.9h0M555.4 51.7h0M538.6 118.9h0M513.3 133.0h0M578.0 78.0h0M613.2 179.3h0M636.6 136.5h0M642.6 89.3h0M609.1 114.1h0M447.7 167.3h0M538.0 84.6h0M514.4 72.6h0M569.3 117.0h0M560.2 85.7h0M607.1 215.6h0M523.8 126.7h0M586.0 157.0h0M623.9 188.0h0M592.4 188.7h0M625.4 126.8h0M543.4 61.5h0M555.4 133.2h0M518.2 124.7h0M617.3 94.2h0M444.4 158.0h0M606.4 168.0h0M526.4 113.9h0M617.7 27.1h0M622.9 95.6h0M592.9 68.7h0M533.5 116.5h0M557.5 148.5h0M508.0 67.7h0M632.7 185.0h0M524.4 96.5h0M600.7 124.7h0M503.3 122.7h0M528.5 117.9h0M637.7 113.0h0M543.0 70.3h0M599.7 220.0h0M621.5 170.9h0M599.0 172.3h0M542.0 72.6h0M533.1 141.9h0M645.8 102.2h0M526.0 75.1h0M578.9 77.2h0M605.1 191.5h0M645.3 115.2h0M594.6 121.3h0M619.1 101.1h0M621.5 164.4h0M549.4 104.4h0M583.9 171.6h0M583.4 123.0h0M539.2 151.6h0M631.1 124.8h0M564.4 132.7h0M588.8 169.3h0M538.8 148.0h0M611.8 161.2h0M520.3 116.3h0M519.5 124.1h0M510.3 155.5h0M575.0 64.1h0M567.2 240.1h0M538.2 123.7h0M575.3 19.9h0M589.1 186.9h0M596.8 168.0h0M628.7 119.2h0M600.1 212.7h0M529.2 57.7h0M612.8 203.3h0M632.4 179.0h0M582.3 65.4h0M547.4 55.6h0M594.1 242.0h0M435.4 160.8h0M560.5 68.4h0M636.6 115.0h0M571.6 254.6h0M583.1 251.3h0M510.4 78.6h0M429.1 161.1h0M585.0 229.7h0M642.0 105.5h0M590.0 31.0h0M523.8 112.0h0M646.1 94.0h0M643.4 127.1h0M628.7 188.4h0M601.0 210.7h0M519.6 66.2h0M528.5 77.8h0M543.6 56.0h0M593.4 118.7h0M530.0 126.7h0M535.3 155.3h0M590.5 59.1h0M526.6 137.4h0M566.5 152.1h0M583.5 154.1h0M587.2 256.1h0M503.6 69.4h0M637.5 124.3h0M612.8 105.7h0M636.0 113.5h0M636.1 88.0h0M609.2 209.7h0M607.3 46.1h0M544.1 131.6h0M636.4 131.9h0M577.8 103.2h0M560.1 115.9h0M601.3 111.5h0M516.6 118.7h0M578.5 98.2h0M627.0 87.6h0M589.8 232.5h0M550.8 57.4h0M539.6 125.8h0M518.0 120.2h0M575.2 24.6h0M584.9 108.8h0M601.5 135.4h0M599.0 219.4h0M517.5 127.1h0M592.8 162.1h0M633.6 106.1h0M528.4 122.6h0M598.6 190.6h0M595.9 213.0h0M573.3 107.7h0M607.9 200.6h0M543.3 70.2h0M525.9 129.3h0M551.3 97.2h0M640.4 136.1h0M640.5 93.6h0M637.9 117.0h0M600.8 168.8h0M548.7 85.3h0M454.6 160.2h0M645.0 147.7h0M513.7 64.1h0M514.0 85.6h0M514.7 74.1h0M547.5 59.7h0M547.3 127.5h0M527.5 73.5h0M609.4 154.3h0M444.8 161.6h0M599.1 210.8h0M634.2 139.9h0M504.7 69.0h0M581.7 118.5h0M644.4 124.0h0M532.5 57.2h0M556.7 136.6h0M508.2 81.3h0M569.2 251.9h0M618.1 157.2h0M619.5 187.0h0M524.8 65.5h0M559.4 119.2h0M583.5 248.8h0M519.5 129.1h0M612.9 32.5h0M586.9 24.8h0M520.4 64.0h0M521.4 61.6h0M619.9 97.0h0M548.7 113.7h0M588.7 59.9h0M446.9 162.8h0M545.4 102.7h0M616.3 183.6h0M515.2 120.0h0M528.2 75.4h0M533.6 121.3h0M570.4 47.9h0M526.6 110.7h0M582.7 184.2h0M584.1 247.9h0M636.2 110.2h0M507.7 77.2h0M446.4 165.7h0M638.0 129.8h0M574.5 24.2h0M581.6 257.0h0M590.2 171.6h0M539.4 128.9h0M574.6 232.2h0M538.2 145.0h0M513.7 72.1h0M636.3 109.0h0M554.1 93.4h0M417.5 154.1h0M548.1 120.1h0M553.6 127.8h0M551.3 54.1h0M628.4 103.0h0M584.1 250.3h0M508.2 124.0h0M625.6 180.9h0M554.3 124.5h0M530.1 115.0h0M548.9 120.9h0M567.5 96.1h0M524.4 102.2h0M612.7 217.1h0M569.4 119.4h0M581.9 175.2h0M557.6 124.4h0M510.1 70.3h0M503.2 63.7h0M531.3 111.4h0M532.7 144.8h0M637.0 84.4h0M635.4 107.7h0M603.2 153.4h0M523.3 67.2h0M578.2 18.2h0M538.8 122.9h0M441.7 160.2h0M633.0 134.9h0M581.8 156.4h0M577.2 17.4h0M583.9 245.2h0M586.8 178.5h0M648.1 104.9h0M518.5 98.2h0M641.0 99.3h0M638.5 97.7h0M540.1 110.0h0M603.4 218.9h0M604.5 157.9h0M589.7 238.3h0M590.1 26.8h0M514.7 82.1h0M553.6 122.3h0M620.1 123.0h0M541.5 130.9h0M643.6 122.2h0M623.9 173.7h0M639.0 151.4h0M514.6 157.2h0M522.4 131.0h0M614.9 178.5h0M623.5 158.5h0M618.2 120.3h0M637.3 110.6h0M578.7 218.4h0M636.4 112.3h0M533.5 77.5h0M629.6 103.9h0M601.8 172.7h0M523.5 65.4h0M600.7 170.2h0M585.7 254.0h0M549.4 57.4h0M567.9 151.4h0M640.8 147.0h0M539.7 108.6h0M644.6 122.5h0M516.9 62.8h0M609.1 207.4h0M606.7 230.9h0M616.0 167.3h0M611.0 189.3h0M621.8 30.6h0M550.8 54.0h0M552.1 46.9h0M605.3 204.5h0M507.5 66.0h0M483.3 160.7h0M503.4 67.3h0M601.5 236.3h0M647.5 114.9h0M611.7 163.0h0M568.6 238.4h0M552.1 126.8h0M601.2 237.7h0M629.4 89.3h0M551.8 107.9h0M620.8 156.4h0M578.1 260.8h0M579.2 130.7h0M547.3 128.3h0M589.8 62.2h0M555.2 54.4h0M570.4 110.3h0M518.4 77.2h0M513.9 75.0h0M531.5 117.1h0M443.2 160.5h0M637.3 137.9h0M631.5 88.9h0M614.8 160.1h0M504.5 75.7h0M487.5 153.4h0M483.7 152.7h0M580.8 51.3h0M612.8 130.4h0M517.6 120.2h0M539.2 86.5h0M578.6 242.0h0M551.2 56.5h0M569.2 121.4h0M558.6 128.6h0M614.5 163.3h0M633.3 105.6h0M633.3 131.5h0M512.6 68.5h0M582.0 238.1h0M520.9 71.9h0M626.3 159.7h0M579.7 26.4h0M592.2 155.3h0M570.6 137.4h0M541.5 151.9h0M539.6 145.9h0M612.4 162.3h0M636.4 139.5h0M576.7 58.3h0M548.8 137.8h0M603.9 33.7h0M518.0 116.0h0M650.5 119.2h0M543.6 56.7h0M507.9 124.8h0M552.7 145.3h0M599.9 141.1h0M613.8 154.7h0M542.6 141.5h0M587.4 21.3h0M604.5 171.8h0M601.5 144.0h0M518.3 118.6h0M634.7 152.2h0M532.3 58.6h0M546.1 102.9h0M609.4 37.5h0M530.8 92.0h0M617.5 206.1h0M581.7 102.0h0M541.3 75.5h0M576.7 246.2h0M532.4 74.2h0M596.8 210.9h0M609.0 155.5h0M512.4 90.3h0M597.6 209.3h0M553.6 137.6h0M535.9 155.0h0M600.2 200.4h0M594.9 232.8h0M597.4 205.2h0M632.0 96.9h0M596.1 152.5h0M511.3 143.5h0M604.8 155.1h0M516.9 126.5h0M640.9 101.9h0M536.1 134.8h0M611.6 126.3h0M582.3 234.5h0M554.5 106.8h0M647.9 103.3h0M572.8 19.5h0M636.2 112.3h0M619.7 175.8h0M442.6 156.7h0M576.9 18.1h0M586.9 254.5h0M550.2 134.2h0M521.3 148.3h0M601.5 126.2h0M556.0 97.8h0M638.3 100.8h0M587.1 127.8h0M561.2 69.1h0M538.8 104.2h0M590.6 239.8h0M636.9 126.6h0M583.2 68.2h0M540.5 116.4h0M604.2 40.1h0M536.7 118.3h0M624.5 161.8h0M583.1 32.7h0M535.9 97.3h0M427.8 160.8h0M551.3 138.7h0M537.8 137.2h0M559.2 92.3h0M637.1 106.8h0M578.2 129.2h0M598.5 210.6h0M605.3 178.8h0M553.3 91.5h0M559.9 121.2h0M593.7 178.0h0M567.7 114.3h0M638.9 123.6h0M576.8 248.6h0M612.9 110.5h0M643.0 104.2h0M545.0 56.8h0M510.5 134.5h0M602.9 204.2h0M596.6 201.4h0M421.5 162.3h0M601.5 120.6h0M538.9 134.7h0M544.3 56.2h0M641.0 103.8h0M606.8 206.4h0M557.5 130.3h0M611.8 201.0h0M587.8 139.4h0M601.4 162.3h0M540.9 120.0h0M543.6 140.0h0M574.5 22.0h0M612.9 26.4h0M567.1 80.0h0M417.4 160.5h0M571.0 29.8h0M524.7 78.4h0M546.6 104.1h0M636.8 107.5h0M607.8 37.0h0M510.9 77.0h0M624.8 125.2h0M551.2 58.0h0M596.0 210.7h0M534.5 92.2h0M655.0 110.6h0M519.7 67.5h0M503.7 70.5h0M525.2 145.9h0M623.9 129.2h0M551.5 92.1h0M506.8 118.3h0M503.1 78.3h0M548.4 50.8h0M555.1 144.3h0M533.0 141.8h0M572.6 148.7h0M580.4 249.7h0M569.5 36.9h0M516.3 78.6h0M628.6 140.2h0M617.1 30.4h0M572.6 253.3h0M628.5 171.8h0M589.0 23.5h0M629.7 95.6h0M541.4 59.6h0M588.9 178.8h0M604.4 39.4h0M567.6 115.6h0M591.8 117.6h0M581.2 162.5h0M607.8 170.0h0M532.0 112.9h0M589.0 146.4h0M574.2 255.6h0M506.6 71.1h0M643.3 114.0h0" stroke="#F8766D" stroke-width="1.8" stroke-linecap="round" fill="none"/>
<path d="M447.6 165.0h0M608.3 154.2h0M587.7 61.2h0M570.3 251.7h0M564.5 10.7h0M598.9 219.1h0M614.5 109.8h0M531.8 67.1h0M604.6 171.8h0M548.8 50.6h0M568.3 62.0h0M599.2 234.0h0M610.6 168.2h0M567.3 109.8h0M613.2 207.9h0M634.8 175.9h0M619.4 194.2h0M606.4 148.9h0M589.2 153.9h0M567.3 145.2h0M578.9 143.6h0M634.2 175.2h0M629.4 181.6h0M532.2 148.8h0M576.1 86.6h0M579.0 84.7h0M555.0 49.3h0M513.2 77.6h0M620.4 30.4h0M609.8 171.1h0M616.4 203.7h0M591.1 68.1h0M591.1 61.4h0M634.3 156.1h0M565.8 240.7h0M587.4 29.8h0M565.2 247.1h0M600.6 133.3h0M572.3 16.6h0M571.2 255.6h0M591.5 106.2h0M616.8 29.1h0M421.4 158.2h0M595.2 55.8h0M621.5 167.9h0M549.8 136.8h0M559.6 91.4h0M560.1 64.1h0M525.0 99.8h0M581.3 133.7h0M586.9 166.9h0M578.7 101.8h0M624.9 97.5h0M608.4 26.5h0M415.4 165.4h0M582.6 243.1h0M591.6 25.7h0M637.9 162.6h0M515.9 86.2h0M602.5 226.7h0M561.8 93.7h0M613.5 205.2h0M593.6 238.1h0M552.5 50.5h0M605.4 146.8h0M620.0 188.1h0M572.9 25.3h0M610.0 170.4h0M613.1 204.2h0M580.3 37.1h0M635.7 154.3h0M433.3 157.6h0M589.5 109.9h0M513.7 100.4h0M551.8 49.8h0M628.9 178.7h0M596.1 193.8h0M572.9 145.4h0M616.0 203.7h0M594.1 62.0h0M446.5 162.1h0" stroke="#619CFF" stroke-width="1.8" stroke-linecap="round" fill="none"/>
<path d="M421.3 161.1h0M590.8 151.2h0M532.5 143.7h0M618.8 104.4h0M532.5 87.4h0M521.4 144.4h0M506.4 133.7h0M565.7 47.4h0M587.6 137.0h0M546.9 65.9h0M607.6 215.2h0M450.0 158.3h0M527.0 70.8h0M639.4 106.8h0M605.3 214.6h0M569.5 27.7h0M610.7 198.1h0M608.2 177.9h0M535.7 121.6h0M583.9 223.5h0M602.7 234.1h0M611.2 40.2h0M622.5 176.8h0M575.1 28.0h0M556.6 126.6h0M519.0 68.0h0M606.4 185.6h0M646.2 147.4h0M528.5 138.8h0M588.4 249.1h0M602.7 37.5h0M587.1 169.2h0M588.3 118.8h0M648.0 127.0h0M582.5 49.7h0M620.7 122.4h0M588.9 154.3h0M527.3 150.1h0M647.2 126.3h0M594.0 227.4h0M571.6 20.1h0M582.5 147.4h0M592.4 172.1h0M598.0 248.9h0M543.3 148.1h0M561.3 82.8h0M543.4 136.4h0M613.8 190.6h0M580.0 257.5h0M636.1 140.6h0M567.8 79.6h0M586.2 26.0h0M445.7 163.6h0M586.2 233.4h0M628.6 143.7h0M628.0 185.7h0M637.1 122.2h0M565.3 83.0h0M529.3 73.3h0M605.7 101.0h0M440.2 158.9h0M515.2 80.8h0M613.7 189.8h0M577.0 63.8h0M414.4 161.1h0M626.3 156.9h0M570.2 53.1h0M566.4 75.8h0M610.4 205.5h0M448.1 161.4h0M520.1 77.1h0M519.6 154.2h0M625.5 110.4h0M605.2 96.1h0M590.7 153.8h0M527.7 77.7h0M585.4 196.4h0M509.5 69.1h0M577.9 243.5h0M645.6 138.4h0M623.7 101.3h0M510.5 140.2h0M618.7 176.4h0M641.5 104.1h0M616.2 29.7h0M604.0 226.2h0M641.5 121.1h0M635.7 155.0h0M600.8 224.2h0M593.9 248.2h0M610.9 145.3h0M640.9 90.6h0M570.6 250.8h0M623.3 104.3h0M642.0 107.2h0M609.5 104.6h0M646.2 96.5h0M505.8 76.9h0M531.9 55.0h0M639.9 112.8h0M585.7 170.3h0M521.5 70.0h0M553.7 54.1h0M551.4 115.1h0M602.1 109.9h0M576.9 231.0h0M605.4 218.6h0M578.1 20.2h0M643.5 109.8h0M417.9 154.9h0M605.9 197.7h0M484.3 152.7h0M641.9 121.4h0M542.2 135.5h0M530.2 87.1h0M620.0 119.2h0M591.7 187.0h0M557.0 86.9h0M539.0 148.4h0M543.6 89.7h0M618.3 26.2h0M636.6 127.4h0M585.9 245.0h0M536.4 152.1h0M537.9 154.1h0M572.1 246.7h0M566.2 251.6h0M589.8 21.3h0M418.9 152.2h0M625.5 101.7h0M595.7 230.8h0M604.6 180.4h0M614.2 26.8h0M558.0 76.4h0M568.5 118.8h0M621.2 209.7h0M547.8 143.0h0M573.9 26.9h0M630.0 126.6h0M629.0 106.7h0M574.7 27.8h0M631.3 115.2h0M614.2 118.4h0M605.6 170.6h0M615.8 147.9h0M604.1 209.0h0M550.2 54.5h0M557.1 82.7h0M613.3 170.7h0M629.2 138.5h0M548.8 128.3h0M572.8 32.0h0M632.3 121.9h0M528.3 108.3h0M639.7 104.6h0M518.7 61.6h0M611.6 31.4h0M603.5 183.5h0M579.4 156.1h0M511.0 117.5h0M612.9 164.0h0M599.4 204.5h0M641.5 147.1h0M611.2 167.8h0M501.3 71.9h0M560.6 135.7h0M558.0 97.0h0M646.6 108.4h0M609.5 26.6h0M637.2 98.7h0M447.4 165.0h0M621.3 110.8h0M604.0 126.6h0M536.7 93.1h0M579.0 126.3h0M556.1 145.8h0M521.0 96.0h0M507.0 74.2h0M562.4 65.5h0M594.9 227.7h0M440.2 163.2h0M569.5 128.1h0M577.4 231.3h0M604.2 235.6h0M648.4 99.3h0M524.4 145.2h0M578.0 179.0h0M572.0 143.6h0M611.5 174.0h0M519.7 76.2h0M589.2 61.0h0M640.2 119.2h0M604.3 227.8h0M509.0 74.7h0M582.3 102.7h0M607.4 207.6h0M525.6 98.5h0" stroke="#00BA38" stroke-width="1.8" stroke-linecap="round" fill="none"/>
<path d="M514.3 79.8h0M528.0 63.8h0M532.7 143.0h0M612.7 33.4h0M605.7 131.8h0M550.3 100.0h0M614.9 104.7h0M537.3 59.9h0M621.4 174.0h0M602.8 141.2h0M642.0 97.2h0M598.3 148.9h0M576.0 117.1h0M603.9 117.9h0M575.0 140.1h0M577.8 23.3h0M520.3 69.5h0M620.5 176.3h0M534.0 111.8h0M513.8 82.1h0M504.5 121.9h0M639.2 122.7h0M520.6 86.4h0M617.2 166.1h0M517.9 158.6h0M595.1 209.7h0M591.1 195.3h0M580.4 127.7h0M517.3 90.3h0M540.3 143.3h0M569.6 110.1h0M613.0 161.4h0M570.5 26.8h0M506.3 83.5h0M603.1 238.4h0M520.8 62.6h0M599.3 162.7h0M515.2 133.8h0M592.5 232.8h0M610.1 195.8h0M525.8 94.0h0M451.8 165.7h0M584.0 250.6h0M524.6 147.4h0M519.5 141.8h0M533.7 110.3h0M512.1 83.0h0M578.9 248.4h0M628.8 119.8h0M626.4 151.5h0M641.6 131.3h0M649.7 117.3h0M524.8 91.5h0M610.2 203.6h0M610.2 158.1h0M528.6 113.1h0M566.7 132.9h0M604.5 40.1h0M550.1 104.4h0M574.8 55.9h0M577.5 250.9h0M597.0 202.1h0M576.3 131.8h0M514.2 74.6h0M587.9 113.9h0M514.1 121.1h0M546.6 128.9h0M599.1 202.3h0M604.7 178.7h0M646.3 112.7h0M579.3 126.2h0M582.6 59.3h0M553.8 111.5h0M647.2 118.7h0M577.6 24.3h0M562.9 72.5h0M546.2 66.4h0M555.8 95.5h0M630.6 133.9h0M585.5 205.5h0M591.8 197.8h0M580.2 253.0h0M578.5 157.0h0M508.3 66.7h0M624.5 179.0h0M644.0 138.0h0M508.7 154.6h0M565.1 143.9h0M587.6 102.7h0M598.4 245.9h0M649.2 126.7h0M615.0 125.9h0M558.2 127.9h0M651.8 106.8h0M631.1 98.5h0M509.3 154.5h0M573.7 29.3h0M534.7 89.4h0M600.6 205.1h0M573.6 252.5h0M548.8 132.8h0M439.4 160.5h0M529.2 81.5h0M632.3 119.9h0M448.6 162.6h0M541.2 73.2h0M602.8 153.2h0M580.7 85.8h0M646.1 110.2h0M600.0 233.7h0M586.9 251.8h0M575.5 81.9h0M585.5 202.7h0M598.6 155.2h0M519.4 55.3h0M588.7 244.5h0M547.2 111.1h0M517.4 113.3h0M570.0 31.6h0M608.0 168.7h0M501.2 76.8h0M584.1 22.2h0M572.6 31.6h0M554.5 144.8h0M559.8 90.9h0M631.1 128.9h0M540.6 67.3h0M607.6 205.8h0M529.8 65.3h0M526.8 140.3h0M574.5 136.2h0M616.1 38.6h0M654.7 116.3h0M523.7 100.0h0M512.3 89.8h0M550.3 121.8h0M532.6 104.0h0M606.6 205.4h0M631.5 122.9h0M551.5 57.9h0M571.0 247.0h0M513.0 76.4h0M520.1 68.2h0M518.6 83.4h0M572.1 112.9h0M606.2 157.0h0M596.2 162.2h0M578.5 248.4h0M603.0 150.2h0M632.4 164.0h0M627.1 144.5h0M626.8 118.4h0M551.3 55.1h0M601.6 140.1h0M573.3 106.2h0M557.7 51.0h0M425.0 159.7h0M574.8 32.4h0M535.0 93.3h0M434.4 160.1h0M509.5 79.6h0M546.5 114.2h0M512.8 123.1h0M548.4 102.7h0M602.5 164.5h0M590.9 165.8h0M626.5 135.5h0M631.0 165.5h0M593.0 250.3h0M578.5 26.5h0M523.1 100.1h0M637.2 152.6h0M606.4 164.5h0M579.1 239.9h0M643.1 115.0h0M501.0 155.6h0M641.4 117.5h0M522.5 74.6h0M521.0 79.0h0M605.3 179.1h0M626.3 103.5h0M607.5 150.6h0M637.7 136.6h0M595.6 186.0h0M578.5 26.9h0M603.6 230.2h0M639.4 113.4h0M580.6 31.6h0M593.4 153.2h0M609.4 104.5h0M527.3 138.3h0M556.2 150.0h0M629.3 88.7h0M605.1 182.9h0M536.7 142.4h0M569.8 134.8h0M537.4 140.7h0M514.4 132.0h0M605.0 189.6h0M487.9 156.3h0M653.5 112.0h0M591.9 160.3h0M582.5 87.3h0M525.7 109.3h0M588.4 25.3h0M626.3 161.4h0M577.5 232.7h0M526.5 101.0h0M583.5 149.6h0M608.3 173.1h0M638.3 134.1h0M447.9 166.3h0M593.5 131.0h0M522.0 83.0h0M605.5 168.4h0M543.6 69.2h0M592.2 229.3h0M511.9 71.1h0M576.3 158.9h0M537.8 120.5h0M617.2 28.2h0M554.3 125.4h0M505.7 71.2h0M536.3 131.1h0M642.2 107.3h0M611.9 178.2h0M520.7 99.2h0M534.2 155.4h0M637.3 105.6h0M608.3 219.5h0M551.8 56.4h0M608.7 39.4h0M608.7 209.8h0M626.4 132.1h0M568.4 37.5h0M648.8 94.9h0M521.0 153.7h0M431.7 161.1h0M488.3 153.1h0M508.3 68.4h0M597.4 202.1h0M587.3 186.5h0M507.6 125.8h0M595.8 164.4h0M611.9 30.2h0M644.5 98.5h0M509.8 128.1h0M509.7 74.1h0M639.8 122.3h0M623.3 138.7h0M518.4 125.1h0M635.5 108.4h0M607.0 155.9h0M539.7 125.2h0M506.3 73.0h0M538.9 109.6h0M616.7 212.1h0M549.6 115.7h0M612.6 168.6h0M591.1 231.3h0M522.3 77.8h0M567.8 122.1h0M594.5 237.9h0M558.4 129.5h0M600.0 236.2h0M574.4 247.1h0M594.2 204.3h0M554.8 124.4h0M438.6 160.5h0M594.0 245.2h0M626.9 175.5h0M599.9 186.7h0M596.7 206.3h0M626.0 128.0h0M530.4 59.3h0M614.8 145.9h0M587.3 27.2h0M615.9 123.6h0M563.8 58.3h0M486.0 152.9h0M603.6 195.7h0M557.0 49.7h0M611.8 177.0h0M551.6 53.0h0M583.3 248.5h0M609.1 162.1h0M576.0 220.3h0M540.9 60.7h0M629.4 89.9h0M576.0 255.4h0M523.9 86.0h0M577.2 118.2h0M566.3 149.0h0M582.9 231.0h0M574.1 231.0h0M637.6 93.6h0M589.3 66.2h0M638.2 86.6h0M579.9 126.2h0M595.4 107.7h0M545.4 144.6h0M490.8 155.1h0M569.2 56.8h0M643.2 112.0h0M528.5 90.8h0M597.4 186.6h0M539.6 135.9h0M522.8 118.9h0M517.7 76.7h0M541.8 92.9h0M534.0 147.2h0M592.0 210.8h0M625.4 169.1h0M614.7 187.1h0M579.4 161.3h0M590.1 28.5h0M570.8 117.7h0M643.0 148.0h0M623.0 165.6h0M577.9 105.9h0M574.3 57.3h0M526.9 123.9h0M581.5 252.8h0M505.1 66.6h0M602.6 114.3h0M544.8 59.4h0M574.5 144.9h0M510.5 118.7h0M557.9 122.1h0M577.7 29.6h0M525.7 73.5h0M639.4 111.5h0M510.0 140.8h0M614.6 21.6h0M513.0 71.8h0M601.8 153.7h0M638.2 105.2h0M648.5 104.0h0M527.1 94.6h0M607.4 209.1h0M525.4 122.5h0M626.7 116.6h0M575.5 19.2h0M540.6 65.2h0M613.0 37.7h0M531.5 63.8h0M556.9 46.0h0M556.2 82.2h0M645.6 136.4h0M648.9 102.0h0M539.8 85.9h0M557.2 136.7h0M561.0 128.0h0M593.0 141.3h0M592.3 25.0h0M581.6 189.0h0M580.4 32.4h0M542.7 85.1h0M567.7 237.8h0M616.4 121.3h0M557.9 83.2h0M510.3 80.1h0M554.5 143.9h0M550.8 55.1h0M615.0 188.4h0M586.5 151.7h0M570.1 76.3h0M595.8 220.3h0M509.1 156.3h0M603.7 197.6h0M581.0 258.5h0M614.0 144.3h0M613.8 201.1h0M570.9 36.8h0M516.8 134.1h0M627.0 197.5h0M633.5 90.8h0M632.0 119.3h0M540.3 128.1h0M575.7 243.7h0M583.7 131.8h0M648.3 114.4h0M540.1 112.4h0M525.6 126.7h0M610.5 162.7h0M560.1 136.8h0M590.1 176.7h0M580.2 227.7h0M601.7 204.3h0M640.2 108.9h0M502.3 67.3h0M521.3 66.2h0M526.8 123.6h0M571.1 250.4h0M486.7 155.2h0M431.1 161.3h0M531.7 134.3h0M553.8 107.0h0M580.1 230.7h0M542.4 98.4h0M502.0 68.5h0M599.3 211.9h0M614.7 21.2h0M491.4 152.3h0M608.7 122.6h0M613.4 165.1h0M545.2 102.5h0M588.2 112.5h0M529.7 150.1h0M582.1 255.6h0M552.2 122.5h0M573.9 24.0h0M547.9 107.8h0M526.6 79.8h0M644.8 107.7h0M607.2 146.2h0M591.6 240.5h0M592.8 206.7h0M570.4 253.4h0M609.6 96.4h0M582.6 253.7h0M448.0 162.3h0M590.6 226.9h0M506.3 78.7h0M522.7 132.9h0M576.1 138.5h0M539.2 132.9h0M503.1 74.2h0M542.9 56.1h0M576.8 253.9h0M527.0 101.7h0M600.1 114.3h0M526.8 145.0h0M558.3 134.0h0M600.7 165.4h0M586.5 229.9h0M585.2 255.8h0M490.4 154.0h0M585.1 102.3h0M584.4 249.7h0M602.4 150.9h0M569.3 32.9h0M443.4 159.6h0M593.9 205.3h0M515.1 161.7h0M547.6 136.9h0M594.9 133.1h0M514.4 130.4h0M501.4 75.0h0M588.4 75.2h0M523.1 68.4h0M606.7 223.3h0M563.0 93.1h0M638.2 121.2h0M575.3 104.3h0M500.2 71.1h0M634.5 141.6h0M524.9 76.3h0M533.0 80.6h0M578.6 136.7h0M525.3 117.0h0M594.6 165.3h0M527.9 94.9h0M562.0 63.5h0M613.4 199.4h0M543.7 55.9h0M544.5 109.9h0M578.2 49.2h0M521.8 72.8h0M592.0 240.1h0M593.1 203.0h0M509.1 121.5h0M604.8 120.6h0M629.9 129.4h0M425.0 158.1h0M507.8 76.0h0M585.9 167.8h0M631.2 96.2h0M554.8 109.1h0M576.9 255.1h0M572.1 75.0h0M569.7 253.0h0M545.3 140.2h0M516.6 96.8h0M518.4 128.3h0M573.1 248.3h0M639.5 95.6h0M570.1 137.4h0M519.5 97.0h0M633.5 133.9h0M546.1 56.6h0M507.6 71.2h0M524.2 124.0h0M535.8 108.7h0M550.7 112.2h0M543.4 100.3h0M591.3 150.9h0M587.9 63.3h0M600.5 181.1h0M582.9 249.4h0M592.6 247.4h0M630.2 142.1h0M559.1 91.0h0M597.5 171.0h0M597.7 117.9h0M624.6 142.5h0M603.5 218.9h0M523.8 100.9h0M628.6 114.0h0M505.4 81.7h0M506.9 158.8h0M442.9 161.5h0M581.1 139.7h0M567.1 19.4h0M640.5 142.2h0M618.8 176.7h0M580.2 159.0h0M587.6 58.4h0M524.7 140.6h0M563.3 125.5h0M621.7 159.0h0M600.9 153.4h0M553.3 123.6h0M590.0 206.4h0M636.2 109.6h0M575.0 23.1h0M547.6 98.6h0M563.4 71.2h0M617.8 32.2h0M531.8 54.1h0M537.9 125.4h0M573.7 33.7h0M519.1 115.0h0M534.7 89.0h0M570.6 49.1h0M559.7 143.6h0M599.3 157.8h0M546.8 141.5h0M546.3 62.4h0M652.5 104.0h0M579.1 25.3h0M638.3 128.1h0M517.2 79.7h0M568.7 76.8h0M552.0 109.6h0M577.9 216.6h0M517.5 75.8h0M622.4 152.3h0M588.3 28.1h0M638.7 127.3h0M571.2 234.2h0M581.8 178.4h0M579.0 36.0h0M422.0 160.9h0M596.1 197.3h0M517.3 81.9h0M595.2 132.2h0M644.5 121.2h0M557.0 135.5h0M521.2 111.5h0M607.8 221.9h0M586.7 161.5h0M582.6 84.2h0M616.4 91.4h0M637.1 127.7h0M604.5 219.8h0M508.8 124.3h0M586.6 229.5h0M583.6 245.8h0M507.4 70.5h0M549.2 114.1h0M575.8 24.4h0M586.1 177.3h0M535.1 99.6h0M602.8 191.0h0M593.1 61.2h0M535.3 92.9h0M511.1 72.9h0M634.6 140.1h0M563.8 66.0h0M519.0 135.0h0M570.9 15.0h0M526.8 65.5h0M531.7 128.2h0M579.2 242.1h0M618.5 217.1h0M595.1 201.6h0M537.0 142.3h0M590.2 119.4h0M561.7 98.1h0M617.0 25.5h0M622.0 151.3h0M415.6 166.7h0M637.7 148.4h0M542.7 134.8h0M610.4 178.1h0M602.0 235.6h0M608.1 165.6h0M646.5 89.9h0M530.0 121.1h0M619.9 116.6h0M646.8 133.4h0M613.1 36.1h0M594.4 208.4h0M601.1 200.2h0M521.2 71.0h0M570.3 241.7h0M586.8 256.4h0M634.7 128.0h0M570.5 24.5h0M585.3 246.4h0M599.7 234.5h0M503.0 158.0h0M634.3 139.6h0M526.6 68.3h0M584.5 251.0h0M640.6 87.7h0M517.5 143.6h0" stroke="#F8766D" stroke-width="1.8" stroke-linecap="round" fill="none"/>
<path d="M620.2 184.9h0M591.4 165.2h0M598.4 204.0h0M572.7 244.0h0M552.7 125.4h0M586.9 67.6h0M447.0 164.2h0M637.5 164.8h0M416.2 162.2h0M574.3 248.5h0M508.4 155.8h0M611.8 213.2h0M626.6 180.4h0M586.1 68.3h0M615.1 29.1h0M600.2 217.8h0M589.3 125.3h0M588.7 86.6h0M566.6 148.2h0M568.0 241.1h0M544.4 61.6h0M627.9 163.8h0M581.7 86.8h0M539.8 71.8h0M593.0 57.1h0M629.7 160.4h0M505.9 84.3h0M540.2 76.8h0M565.1 248.8h0M617.5 171.9h0M616.0 214.5h0M587.6 112.7h0M623.2 159.0h0M604.2 28.8h0M573.5 28.7h0M632.4 153.0h0M639.7 100.8h0M632.2 181.0h0M582.3 235.4h0M572.2 61.8h0M566.4 136.3h0M572.4 252.3h0M582.5 86.7h0M610.9 214.2h0M622.0 188.1h0M570.8 243.6h0M638.7 165.9h0M538.8 64.1h0M623.9 185.0h0M591.1 71.7h0M588.4 186.7h0M596.6 245.4h0M592.3 62.9h0M583.8 246.9h0M590.4 66.1h0M588.2 67.5h0M593.3 121.6h0M626.3 201.1h0M566.3 132.4h0M618.5 193.0h0M587.5 84.1h0M627.4 156.9h0M611.9 161.9h0M598.9 215.8h0M590.1 57.9h0M589.9 69.0h0M593.6 184.0h0M571.9 254.8h0M601.5 170.8h0M575.5 18.7h0M631.9 175.9h0M589.8 59.7h0M540.0 116.1h0M634.2 171.4h0M578.3 87.6h0M617.1 190.6h0M504.7 72.3h0M627.3 168.7h0M597.8 139.6h0M613.8 202.5h0M504.7 73.1h0M619.5 209.3h0M554.2 86.6h0M629.3 162.2h0M537.3 136.1h0M607.9 29.5h0M572.6 19.1h0M606.2 217.1h0M546.9 50.4h0M575.3 147.8h0M596.9 129.7h0M613.5 206.6h0M626.7 174.5h0M570.7 255.4h0M519.8 82.9h0M612.6 139.2h0M585.9 55.7h0M519.1 111.4h0M415.7 151.8h0M556.3 47.7h0M418.5 153.7h0M620.3 205.1h0M628.7 162.6h0M564.2 125.7h0M568.3 150.0h0M585.8 81.7h0M599.7 179.4h0M630.7 165.2h0M448.1 157.8h0M627.6 170.3h0M581.0 26.5h0M577.5 84.4h0M612.0 212.3h0M509.1 79.7h0M590.8 57.9h0M445.9 166.4h0M584.7 110.8h0M589.4 62.4h0M592.3 57.2h0" stroke="#619CFF" stroke-width="1.8" stroke-linecap="round" fill="none"/>
<path d="M598.5 134.7h0M588.3 24.8h0M608.1 37.7h0M552.1 54.2h0M555.7 116.4h0M597.4 119.4h0M518.9 127.5h0M593.8 165.7h0M568.3 88.8h0M633.8 85.8h0M553.6 48.1h0M630.8 119.8h0M553.7 132.8h0M625.7 102.1h0M483.6 154.0h0M545.7 131.3h0M533.7 117.5h0M532.0 60.4h0M643.3 111.2h0M539.1 126.1h0M551.3 58.3h0M596.7 245.4h0M560.0 122.1h0M587.3 249.3h0M527.4 123.5h0M651.2 114.3h0M610.0 169.1h0M511.7 82.5h0M597.5 201.7h0M645.5 137.9h0M440.3 158.9h0M616.9 97.6h0M630.1 196.3h0M603.3 38.5h0M510.7 69.0h0M551.0 52.7h0M618.7 211.9h0M650.8 112.3h0M450.4 156.6h0M519.1 95.6h0M590.4 176.8h0M576.0 49.5h0M638.9 141.0h0M567.1 47.1h0M631.2 86.1h0M622.6 205.6h0M644.3 120.8h0M530.2 93.3h0M510.3 159.4h0M615.5 192.3h0M563.5 124.7h0M574.7 220.7h0M607.7 195.1h0M646.4 135.8h0M585.8 243.2h0M612.8 152.0h0M592.5 124.3h0M640.0 126.2h0M600.8 182.6h0M620.5 129.4h0M540.5 129.0h0M591.2 246.1h0M428.9 162.8h0M577.6 122.6h0M533.9 140.8h0M518.7 90.8h0M538.9 59.8h0M624.1 172.0h0M513.9 71.8h0M602.7 232.7h0M569.7 157.2h0M638.1 110.4h0M628.9 179.2h0M624.2 183.7h0M514.5 70.7h0M640.4 139.4h0M508.3 67.5h0M503.2 74.0h0M565.1 89.4h0M597.5 152.5h0M526.0 108.5h0M571.1 45.5h0M585.4 247.7h0M584.1 246.2h0M636.1 128.7h0M506.4 70.5h0M535.9 128.0h0M540.2 133.6h0M643.7 101.4h0M541.7 116.3h0M610.3 24.4h0M515.5 139.4h0M419.3 152.6h0M572.8 143.2h0M624.3 103.5h0M533.1 138.1h0M523.5 129.7h0M434.7 160.6h0M573.3 31.2h0M581.2 183.8h0M502.9 81.4h0M588.8 164.3h0M623.0 167.5h0M553.8 56.8h0M505.8 137.7h0M613.2 147.2h0M595.3 141.7h0M633.2 110.6h0M609.8 174.3h0M581.4 253.0h0M607.7 156.8h0M627.1 119.3h0M644.5 97.9h0M612.9 32.6h0M582.8 237.5h0M617.8 38.6h0M601.6 101.5h0M623.2 129.2h0M613.9 169.7h0M643.9 93.6h0M606.2 45.3h0M532.8 135.3h0M514.8 75.9h0M491.1 150.3h0M580.8 161.0h0M599.6 228.4h0M608.0 211.4h0M558.5 50.2h0M562.4 82.8h0M632.2 103.9h0M644.8 106.9h0M632.3 131.2h0M588.4 181.0h0M570.6 131.9h0M581.0 177.8h0M585.5 179.2h0M548.4 153.3h0M523.0 80.5h0M640.8 102.0h0M579.4 23.3h0M567.7 26.0h0M577.8 16.8h0M625.4 106.5h0M439.9 162.2h0M580.4 105.3h0M599.7 160.9h0M612.4 190.8h0M612.0 179.0h0M555.0 87.3h0M524.8 89.3h0M485.7 154.4h0M643.7 90.7h0M605.8 193.7h0M606.4 197.9h0M599.7 217.0h0M550.0 60.6h0M607.7 94.9h0M572.0 17.7h0M520.6 119.4h0M644.2 112.5h0M573.2 32.5h0M624.9 97.0h0M580.3 145.6h0M433.4 163.3h0M578.1 140.6h0M549.6 87.5h0M598.1 212.7h0M581.6 238.0h0M603.1 234.0h0M631.7 117.9h0M612.0 124.4h0M531.3 125.4h0M514.6 76.4h0M639.9 106.8h0M616.1 34.0h0M433.9 163.6h0M621.0 104.4h0M606.6 30.5h0M563.4 130.4h0M588.5 242.1h0M595.2 182.0h0M513.4 77.4h0M543.1 101.2h0M570.9 23.2h0M601.8 199.9h0M441.6 158.3h0M588.8 246.3h0M532.2 61.5h0M522.4 93.9h0M537.9 138.5h0M583.5 24.9h0M636.0 126.0h0M541.2 69.6h0M593.6 139.5h0M558.4 85.2h0M550.5 107.5h0M619.9 98.0h0M606.0 112.2h0M594.8 177.9h0M428.8 159.2h0M574.3 221.4h0M590.8 256.3h0M580.5 188.9h0M578.8 19.6h0M540.5 95.2h0M579.8 246.0h0M553.6 118.6h0M572.6 14.7h0" stroke="#00BA38" stroke-width="1.8" stroke-linecap="round" fill="none"/>
<path d="M619.8 168.1h0M643.4 129.4h0M502.5 132.0h0M641.2 103.1h0M603.8 137.1h0M528.1 108.3h0M582.2 25.7h0M596.7 175.1h0M547.2 83.9h0M564.0 63.4h0M588.8 194.7h0M645.7 108.4h0M546.8 143.0h0M569.4 14.4h0M522.8 65.2h0M554.0 99.0h0M542.7 108.7h0M559.7 67.9h0M527.6 99.0h0M505.0 73.3h0M595.8 161.2h0M612.0 97.2h0M446.3 162.6h0M613.2 26.7h0M568.2 81.3h0M419.5 148.9h0M570.4 114.2h0M556.3 100.9h0M602.4 117.7h0M623.5 92.6h0M525.9 70.6h0M528.9 67.9h0M513.9 115.1h0M415.8 159.6h0M632.5 165.1h0M636.7 125.3h0M604.2 149.7h0M648.7 105.4h0M514.2 77.4h0M545.9 52.7h0M600.0 154.8h0M634.5 95.0h0M606.0 226.8h0M596.8 157.1h0M526.9 95.6h0M590.2 50.5h0M570.4 236.7h0M573.6 27.8h0M608.5 96.3h0M630.2 160.6h0M545.5 118.2h0M607.8 146.0h0M586.6 231.6h0M589.8 171.2h0M579.1 32.0h0M450.5 160.9h0M576.9 27.3h0M528.6 81.8h0M504.2 70.5h0M426.8 160.7h0M572.5 110.6h0M509.7 67.7h0M629.7 195.8h0M570.6 35.1h0M554.1 57.6h0M604.6 204.3h0M568.2 27.9h0M639.6 131.5h0M583.8 35.2h0M635.7 98.9h0M646.6 108.4h0M527.5 82.1h0M505.0 70.2h0M583.5 66.1h0M540.4 77.0h0M585.9 250.1h0M602.7 140.3h0M609.8 220.4h0M605.6 179.1h0M573.4 165.5h0M638.5 150.5h0M636.5 117.5h0M520.9 129.5h0M562.5 60.8h0M569.3 12.9h0M551.0 55.4h0M641.5 130.5h0M605.7 226.5h0M508.3 70.7h0M569.5 31.9h0M545.9 155.1h0M415.6 165.7h0M638.9 140.2h0M580.2 88.1h0M480.5 159.4h0M616.0 21.6h0M578.3 244.5h0M551.9 144.2h0M632.8 94.9h0M654.0 114.2h0M624.1 186.1h0M646.5 113.3h0M618.3 196.9h0M635.9 154.0h0M505.3 126.9h0M490.8 157.4h0M612.5 124.6h0M613.2 26.8h0M617.2 213.9h0M520.8 77.3h0M526.5 55.2h0M608.6 187.5h0M591.9 28.9h0M640.9 101.3h0M535.7 59.7h0M600.5 231.7h0M603.8 104.2h0M452.2 157.6h0M644.2 136.2h0M592.8 130.8h0M608.2 39.4h0M631.3 186.1h0M633.0 127.7h0M613.7 194.0h0M604.4 222.2h0M593.8 138.0h0M578.9 166.8h0M592.5 201.9h0M601.2 214.4h0M607.4 43.0h0M587.0 134.2h0M541.9 111.6h0M577.1 24.5h0M590.0 171.9h0M637.0 99.4h0M522.4 97.9h0M609.8 194.6h0M595.2 180.8h0M622.2 99.2h0M575.8 218.3h0M638.3 113.9h0M587.6 240.8h0M452.0 159.8h0M572.8 105.6h0M566.8 129.4h0M550.6 126.0h0M418.2 166.8h0M610.5 162.9h0M522.6 135.8h0M526.5 127.3h0M549.3 144.7h0M425.7 163.4h0M528.3 114.4h0M538.2 130.4h0M635.8 129.0h0M530.5 63.0h0M607.6 26.8h0M612.0 104.0h0M530.3 65.9h0M639.9 90.9h0M638.2 134.7h0M530.4 135.1h0M544.6 104.1h0M542.4 127.2h0M639.7 116.9h0M572.8 120.1h0M642.3 88.6h0M627.6 184.9h0M600.1 126.2h0M619.3 191.5h0M574.7 153.0h0M512.1 127.1h0M601.9 112.6h0M532.0 112.3h0M600.1 239.4h0M586.5 254.3h0M637.4 98.4h0M516.3 122.9h0M606.4 210.2h0M611.4 201.5h0M642.5 103.1h0M637.1 135.4h0M548.2 59.9h0M609.4 136.7h0M417.8 164.4h0M524.3 146.2h0M648.6 118.7h0M571.8 16.6h0M553.6 90.7h0M595.1 210.4h0M556.3 47.8h0M601.2 196.5h0M420.3 149.8h0M580.0 24.0h0M634.3 134.8h0M527.6 101.3h0M625.4 98.6h0M601.8 190.8h0M630.1 145.2h0M524.6 137.0h0M635.6 128.0h0M584.4 251.0h0M619.1 95.4h0M531.5 67.2h0M612.7 25.1h0M606.8 221.7h0M591.5 246.6h0M579.8 259.6h0M602.2 221.8h0M541.5 63.0h0M640.9 132.6h0M559.6 127.7h0M573.9 147.1h0M416.5 161.9h0M629.3 91.2h0M573.4 247.6h0M590.0 173.8h0M521.9 145.9h0M570.5 72.1h0M546.7 142.0h0M588.1 251.5h0M638.7 105.3h0M602.6 39.7h0M586.1 229.4h0M621.4 206.1h0M645.2 99.6h0M618.3 184.5h0M509.2 68.0h0M544.4 117.6h0M643.0 112.4h0M532.6 122.1h0M596.9 185.4h0M631.9 93.4h0M512.6 127.9h0M543.9 124.5h0M513.4 78.3h0M608.6 212.1h0M599.4 167.9h0M573.0 137.7h0M560.8 78.1h0M533.7 76.0h0M523.0 152.3h0M611.4 188.7h0M607.6 136.0h0M543.4 152.4h0M555.4 49.8h0M609.7 202.1h0M526.5 102.3h0M548.8 51.6h0M514.2 79.7h0M574.3 220.6h0M590.0 253.4h0M647.1 144.5h0M574.8 49.5h0M548.1 144.8h0M617.5 24.1h0M572.8 22.4h0M518.4 58.3h0M594.0 112.7h0M640.2 153.7h0M640.4 140.3h0M542.3 85.5h0M551.7 133.4h0M530.4 74.2h0M586.7 255.7h0M602.3 164.9h0M622.2 94.4h0M520.9 80.4h0M414.4 164.1h0M615.7 23.0h0M612.7 31.0h0M525.5 122.2h0M522.2 79.9h0M532.1 149.2h0M609.0 135.6h0M558.8 88.3h0M641.1 101.4h0M580.1 249.1h0M581.6 150.7h0M631.6 141.8h0M537.1 105.1h0M587.9 200.6h0M600.2 203.1h0M649.6 122.6h0M554.0 112.2h0M558.8 97.6h0M634.5 148.7h0M598.8 203.2h0M597.9 241.1h0M554.0 97.6h0M653.1 124.8h0M608.9 193.4h0M625.5 165.1h0M587.4 224.3h0M593.8 184.0h0M610.3 159.8h0M539.0 87.6h0M520.7 56.8h0M582.1 257.4h0M571.5 130.5h0M633.4 116.6h0M590.8 244.6h0M616.8 150.2h0M513.1 64.1h0M601.9 171.1h0M561.2 120.6h0M532.1 124.5h0M589.8 141.7h0M607.3 108.2h0M610.5 133.3h0M614.5 109.8h0M600.1 141.9h0M614.8 22.9h0M638.3 145.0h0M615.1 23.4h0M449.3 158.8h0M595.5 212.4h0M610.0 135.8h0M526.8 69.0h0M418.5 160.0h0M577.3 146.4h0M527.0 96.2h0M566.5 21.5h0M560.9 143.2h0M571.6 39.0h0M542.2 122.0h0M617.4 144.5h0M596.5 205.6h0M635.1 88.2h0M519.8 122.1h0M531.1 125.9h0M416.0 159.7h0M589.0 223.5h0M579.4 260.7h0M629.1 98.6h0M617.2 179.3h0M565.3 23.1h0M576.3 231.5h0M633.7 106.9h0M570.4 159.0h0M605.8 169.6h0M517.0 78.4h0M639.5 88.5h0M580.7 241.0h0M590.9 235.7h0M569.1 17.5h0M630.7 184.2h0M566.3 24.9h0M600.8 126.8h0M594.9 249.1h0M543.9 66.8h0M635.4 137.5h0M551.2 100.7h0M523.4 126.5h0M618.7 186.8h0M529.9 75.0h0M616.0 166.5h0M577.3 254.7h0M528.5 96.9h0M520.1 140.2h0M644.1 116.2h0M568.7 34.5h0M630.3 120.7h0M530.3 66.6h0M599.7 206.0h0M606.4 40.9h0M511.1 74.9h0M554.7 109.1h0M582.3 191.2h0M629.7 92.7h0M541.9 62.5h0M616.5 157.4h0M542.7 88.8h0M602.2 201.9h0M513.1 153.0h0M609.8 144.6h0M515.9 70.0h0M583.9 104.0h0M509.0 75.5h0M587.5 251.1h0M547.6 113.0h0M512.3 121.2h0M569.8 123.3h0M550.1 56.7h0M581.9 252.1h0M565.5 87.6h0M515.3 120.0h0M646.2 114.8h0M552.6 97.8h0M510.8 78.6h0M614.0 108.7h0M573.3 30.8h0M646.2 117.3h0M581.2 226.6h0M602.8 145.3h0M434.2 163.5h0M542.8 139.0h0M584.0 252.3h0M532.2 79.6h0M546.0 61.1h0M613.3 158.6h0M584.9 98.2h0M605.0 200.3h0M630.6 133.5h0M604.5 175.5h0M502.1 74.2h0M509.9 138.8h0M569.7 19.4h0M624.7 177.3h0M542.7 126.5h0M544.1 123.6h0M535.5 128.7h0M594.1 224.3h0M614.7 195.1h0M579.2 255.2h0M558.6 94.1h0M583.0 179.5h0M502.8 155.1h0M595.4 164.8h0M524.5 89.1h0M583.8 153.1h0M606.0 156.8h0M615.5 161.0h0M575.2 254.3h0M629.0 122.1h0M511.7 70.5h0M608.5 207.3h0M583.7 134.8h0M563.2 81.7h0M509.1 143.2h0M517.4 157.4h0M445.3 156.0h0M641.5 102.8h0M503.9 64.8h0M598.1 194.9h0M609.7 97.2h0M611.1 194.1h0M571.8 149.5h0M615.0 31.3h0M602.7 180.3h0M584.2 171.4h0M622.8 111.9h0M627.1 156.7h0M615.6 29.3h0M626.2 163.7h0M628.5 120.1h0M571.2 108.4h0M511.7 76.8h0M642.6 112.3h0M606.6 217.8h0M569.0 25.8h0M515.0 77.8h0M576.8 221.2h0M450.1 166.2h0M572.9 219.4h0M559.7 64.7h0M572.3 30.2h0M569.4 150.8h0M610.2 150.0h0M447.7 160.4h0M621.0 124.6h0M503.4 136.0h0M608.8 215.3h0M583.1 242.9h0M417.5 162.1h0M590.9 258.0h0M531.9 123.2h0M573.9 46.6h0M641.4 126.7h0M644.0 89.4h0M568.2 33.2h0M529.3 130.8h0M610.0 134.3h0M598.7 180.0h0M613.8 131.1h0M518.0 71.2h0M629.0 137.0h0M573.3 106.8h0M595.4 62.1h0M582.5 34.9h0M554.6 92.3h0M520.2 156.4h0M588.8 255.9h0M507.1 70.5h0M532.9 83.7h0M635.6 163.9h0M558.4 93.8h0M542.1 140.2h0M579.6 34.7h0M585.7 206.5h0M623.5 112.8h0M517.1 111.1h0M596.2 151.4h0M552.7 122.7h0M607.6 120.8h0M649.5 119.6h0M585.7 155.6h0M569.0 156.0h0M570.9 60.0h0M419.5 159.4h0M603.9 217.4h0M589.4 165.8h0M443.3 161.7h0M634.9 91.1h0M587.7 253.6h0M530.3 68.8h0M615.8 197.9h0M575.7 39.6h0M570.4 18.3h0M597.8 208.7h0M627.7 133.1h0M524.9 112.5h0M626.1 167.2h0M594.5 247.1h0M565.7 22.9h0M583.0 145.9h0M592.0 224.7h0M575.3 250.9h0M591.2 195.4h0M584.6 179.9h0M589.2 188.7h0M605.5 215.1h0M518.7 71.3h0M626.5 100.9h0M637.8 121.0h0M536.0 131.5h0M564.7 148.6h0M630.4 97.8h0M637.8 126.4h0M604.1 227.3h0M597.4 157.0h0M525.8 108.7h0M579.3 45.7h0M512.2 68.7h0M596.4 173.5h0M522.9 67.1h0M582.0 250.3h0M581.9 135.9h0M588.5 245.0h0M628.0 198.9h0M599.5 222.7h0M609.9 34.7h0M518.9 79.6h0M580.1 242.8h0M651.1 132.6h0M613.8 161.5h0M595.9 223.6h0M555.8 140.1h0M581.2 255.0h0M631.3 112.0h0M444.3 167.8h0M628.4 115.1h0M618.5 31.1h0M646.2 119.4h0M647.9 105.5h0M429.4 160.4h0M619.5 210.2h0M446.8 163.7h0M605.5 222.9h0M613.5 151.7h0M507.5 66.0h0M520.4 78.1h0M538.5 126.5h0M567.1 28.0h0M539.8 68.3h0M619.6 172.5h0M565.6 124.1h0M595.8 141.9h0M573.0 251.9h0" stroke="#F8766D" stroke-width="1.8" stroke-linecap="round" fill="none"/>
<path d="M580.4 84.4h0M574.6 24.4h0M512.5 70.4h0M613.9 158.5h0M450.1 165.4h0M627.7 108.8h0M625.6 173.3h0M623.6 188.8h0M563.3 69.7h0M619.5 213.0h0M559.0 130.3h0M635.2 170.2h0M570.7 250.3h0M585.1 253.1h0M583.1 245.3h0M615.5 205.5h0M590.2 123.5h0M579.8 44.8h0M586.1 60.3h0M515.0 72.5h0M550.2 54.5h0M612.7 148.1h0M593.4 52.9h0M590.2 132.0h0M592.4 59.2h0M517.5 138.4h0M584.5 87.8h0M612.4 221.5h0M566.2 152.0h0M596.0 190.0h0M604.5 140.8h0M631.0 187.2h0M635.8 155.2h0M578.7 229.2h0M420.5 159.7h0M608.2 222.3h0M573.1 252.0h0M607.8 164.2h0M525.4 59.3h0M588.2 70.2h0M617.4 96.8h0M587.5 177.7h0M529.9 81.2h0M567.8 24.0h0M575.5 138.5h0M499.4 74.2h0M573.8 22.2h0M578.1 107.9h0M616.1 143.2h0M525.2 97.4h0M617.2 194.2h0M522.2 119.4h0M630.2 182.5h0M630.4 180.7h0M454.1 159.2h0M616.0 200.8h0M585.0 229.5h0M426.1 162.4h0M604.4 138.8h0M578.3 31.8h0M564.2 251.3h0M567.7 239.6h0M541.7 100.6h0M434.3 156.0h0M446.7 162.1h0M515.3 76.4h0M568.6 240.4h0M529.4 68.5h0M555.4 52.5h0M586.1 81.7h0M589.0 83.1h0M537.4 91.8h0M635.4 163.1h0M567.1 120.4h0M524.6 141.6h0M614.0 176.2h0M517.0 93.0h0M634.5 153.4h0M573.3 241.4h0M524.5 63.8h0M618.7 210.0h0M574.7 25.4h0M587.8 138.6h0M631.4 165.7h0M631.3 161.5h0M514.9 75.2h0M567.1 94.2h0M604.2 150.8h0M621.1 183.7h0M571.1 26.2h0M516.3 66.4h0M581.4 83.0h0M617.8 28.4h0M413.5 160.4h0M583.9 168.5h0M588.1 133.7h0M418.1 158.6h0M588.3 102.3h0M586.1 23.1h0M427.0 156.4h0M540.4 70.4h0M639.0 161.0h0M554.0 93.6h0" stroke="#619CFF" stroke-width="1.8" stroke-linecap="round" fill="none"/>
<path d="M645.9 138.2h0M541.6 127.6h0M616.0 165.6h0M602.0 211.8h0M629.4 116.8h0M614.8 27.4h0M559.8 126.2h0M510.4 75.2h0M614.5 100.4h0M549.4 104.9h0M564.9 53.9h0M514.7 141.1h0M643.4 115.4h0M416.6 162.2h0M600.0 201.8h0M574.7 139.3h0M423.1 158.1h0M600.5 222.5h0M598.6 225.7h0M588.8 227.7h0M569.2 114.6h0M640.8 139.9h0M414.7 156.9h0M514.2 88.0h0M600.1 215.5h0M551.9 118.7h0M519.5 146.2h0M554.8 133.8h0M602.1 159.6h0M513.9 76.1h0M639.2 147.4h0M509.8 117.9h0M418.3 166.4h0M591.9 202.3h0M608.6 190.1h0M581.3 104.4h0M626.8 180.8h0M415.6 157.2h0M530.8 106.9h0M578.5 21.6h0M589.1 203.2h0M542.7 86.9h0M597.3 204.5h0M641.0 143.2h0M605.0 181.0h0M626.1 143.6h0M602.9 176.7h0M568.9 30.6h0M548.7 52.0h0M636.8 121.1h0M575.1 248.3h0M573.4 28.8h0M528.4 64.6h0M650.5 100.7h0M632.4 99.5h0M627.6 152.7h0M424.1 165.9h0M579.3 257.5h0M452.9 159.4h0M581.6 102.9h0M581.1 232.4h0M533.3 65.2h0M599.6 216.9h0M601.3 225.6h0M561.4 130.3h0M507.5 156.2h0M617.7 26.9h0M417.5 157.7h0M635.4 89.8h0M643.5 90.7h0M556.5 84.4h0M611.8 38.5h0M566.6 121.6h0M507.7 141.2h0M640.6 144.3h0M593.1 197.4h0M552.0 59.0h0M633.8 140.1h0M542.1 137.4h0M438.8 156.5h0M621.8 186.3h0M608.8 155.8h0M637.9 101.4h0M619.0 111.9h0M573.9 20.0h0M579.3 26.4h0M510.8 155.9h0M632.5 175.8h0M617.1 32.1h0M508.3 65.8h0M518.1 139.7h0M568.0 130.5h0M624.1 155.1h0M588.9 210.1h0M606.5 208.0h0M630.6 89.7h0M580.8 21.7h0M562.3 146.9h0M558.8 91.2h0M641.2 94.0h0M543.8 122.1h0M569.4 25.1h0M625.0 137.6h0M612.6 193.0h0M530.7 124.7h0M646.0 106.5h0M624.9 162.4h0M638.6 138.0h0M511.5 129.0h0M423.0 166.2h0M621.4 163.1h0M570.5 113.1h0M637.7 89.7h0M520.8 66.5h0M617.7 169.0h0M608.5 207.2h0M564.0 113.6h0M608.8 149.3h0M626.8 111.3h0M633.5 139.3h0M643.1 139.8h0M622.4 130.5h0M628.9 91.8h0M612.4 161.8h0M546.2 143.0h0M642.4 104.8h0M600.4 112.4h0M626.8 160.9h0M594.6 251.3h0M603.0 199.3h0M572.5 128.5h0M646.0 121.1h0M575.5 14.9h0M586.4 97.0h0M543.7 142.6h0M650.5 111.9h0M621.9 98.4h0M510.3 74.9h0M549.4 97.0h0M579.5 30.3h0M587.0 134.7h0M636.5 101.1h0M643.5 87.8h0M538.8 96.9h0M615.5 162.2h0M626.9 131.0h0M519.1 108.4h0M612.8 32.2h0M522.5 99.3h0M550.0 52.0h0M525.6 98.5h0M642.1 129.3h0M631.1 133.6h0M578.1 67.9h0M639.9 111.6h0M640.9 135.2h0M603.6 205.1h0M625.4 138.4h0M540.4 95.8h0M554.9 53.3h0M576.4 247.8h0M510.9 118.4h0M513.9 136.0h0M643.0 99.7h0M634.9 102.6h0M646.0 114.3h0M504.6 134.8h0M565.6 122.5h0M532.4 97.4h0M506.8 71.9h0M561.7 118.0h0M651.9 100.3h0M563.1 51.3h0M417.9 149.5h0M607.6 200.6h0M652.4 114.0h0M630.4 128.9h0M549.0 143.6h0M619.5 156.1h0M590.6 237.6h0M607.2 117.2h0M603.0 44.8h0M637.0 99.9h0M645.2 132.8h0M439.7 154.8h0M643.6 101.0h0M578.0 31.1h0M542.0 119.7h0M533.4 115.2h0M577.3 241.4h0M610.2 190.1h0M426.0 162.0h0M584.0 240.0h0M534.1 91.3h0M570.2 62.5h0M601.3 186.3h0M493.1 157.0h0M530.8 71.5h0M554.4 140.2h0M517.1 122.5h0M548.2 60.0h0M580.7 144.5h0M601.1 189.2h0M625.6 167.0h0M643.4 126.4h0M595.8 138.7h0M540.1 129.7h0M624.0 160.9h0M603.5 191.8h0M574.2 55.5h0" stroke="#00BA38" stroke-width="1.8" stroke-linecap="round" fill="none"/>
<path d="M555.5 94.8h0M606.8 107.9h0M508.0 72.8h0M513.1 132.7h0M560.1 119.1h0M524.7 127.2h0M641.1 118.0h0M610.2 182.4h0M613.6 123.7h0M578.2 222.1h0M578.3 23.4h0M643.7 122.8h0M580.6 25.6h0M614.4 27.2h0M551.0 105.8h0M547.4 61.6h0M601.6 200.5h0M540.1 72.3h0M546.2 124.0h0M618.6 173.0h0M597.9 186.3h0M599.9 176.7h0M517.4 119.7h0M549.4 54.2h0M618.5 92.5h0M522.2 151.7h0M528.8 123.9h0M610.7 147.9h0M530.2 133.0h0M617.0 29.0h0M612.2 132.7h0M554.4 94.4h0M600.7 209.9h0M582.4 251.5h0M575.3 255.4h0M591.1 139.4h0M600.3 225.6h0M631.0 188.1h0M596.4 236.6h0M523.1 130.4h0M617.3 191.4h0M518.8 68.7h0M634.9 154.0h0M510.7 81.8h0M530.1 96.1h0M614.1 97.0h0M593.0 200.2h0M543.6 112.4h0M651.1 95.5h0M595.9 234.1h0M623.1 198.5h0M579.8 37.6h0M538.3 111.5h0M523.3 121.2h0M616.5 208.9h0M592.4 239.9h0M618.5 159.1h0M486.8 153.2h0M514.2 70.4h0M528.4 123.8h0M544.8 89.0h0M593.1 194.7h0M651.5 112.4h0M535.6 120.9h0M590.1 158.0h0M608.8 164.7h0M605.7 226.8h0M515.3 129.9h0M548.8 56.3h0M627.6 158.6h0M530.3 144.6h0M636.1 161.6h0M581.1 124.9h0M624.1 181.5h0M602.6 118.2h0M640.4 134.6h0M542.5 99.9h0M604.7 232.5h0M525.3 92.2h0M530.6 95.2h0M605.0 189.9h0M433.1 159.8h0M572.6 249.5h0M581.6 183.2h0M633.3 109.3h0M539.5 88.7h0M647.0 124.2h0M596.5 213.3h0M595.0 114.3h0M609.3 122.3h0M579.3 24.4h0M593.4 189.0h0M518.8 131.2h0M610.1 119.8h0M620.5 30.4h0M603.8 185.4h0M511.0 155.0h0M587.1 167.0h0M553.8 96.5h0M633.0 145.5h0M547.6 87.5h0M591.0 238.6h0M603.9 177.5h0M525.3 127.1h0M530.3 133.3h0M584.5 32.0h0M512.5 73.6h0M528.5 94.7h0M548.0 116.4h0M431.6 162.2h0M531.9 94.7h0M506.7 152.7h0M553.2 54.6h0M545.5 109.7h0M573.8 250.0h0M506.0 77.5h0M616.6 185.2h0M567.8 13.7h0M522.9 94.2h0M598.9 193.0h0M600.9 199.5h0M625.9 110.1h0M573.8 254.5h0M530.3 152.2h0M539.6 67.9h0M635.7 147.3h0M580.5 254.5h0M568.6 33.6h0M558.5 113.6h0M572.4 85.4h0M605.1 129.2h0M618.7 32.1h0M609.7 162.7h0M506.8 80.9h0M612.0 28.9h0M546.9 68.8h0M556.1 90.4h0M649.5 93.7h0M527.2 153.7h0M653.1 103.6h0M575.5 162.1h0M505.7 68.4h0M619.3 32.6h0M596.9 204.2h0M636.4 86.2h0M561.6 132.8h0M642.1 91.5h0M637.1 163.2h0M598.8 133.6h0M649.5 129.0h0M637.3 134.1h0M630.5 186.5h0M655.2 101.5h0M615.1 164.0h0M512.4 156.3h0M595.9 238.6h0M590.0 242.0h0M616.7 159.0h0M592.9 228.0h0M526.7 107.8h0M546.2 116.1h0M510.5 122.3h0M541.4 66.8h0M543.1 108.4h0M487.6 153.0h0M642.1 101.4h0M513.7 79.9h0M639.4 142.7h0M539.8 67.4h0M603.6 165.0h0M583.6 82.9h0M604.8 221.7h0M584.5 249.2h0M546.0 124.0h0M614.3 190.4h0M539.9 130.9h0M541.3 62.0h0M618.9 167.6h0M635.4 182.7h0M627.2 183.1h0M575.0 246.8h0M573.4 35.8h0M513.9 64.7h0M626.7 159.3h0M642.4 98.5h0M614.3 29.6h0M602.1 197.3h0M529.7 61.8h0M548.1 114.6h0M601.4 213.3h0M603.1 195.6h0M519.6 89.2h0M603.4 176.9h0M591.2 24.1h0M577.7 21.7h0M591.5 250.4h0M613.0 106.4h0M654.9 104.6h0M606.0 129.0h0M556.4 92.0h0M532.7 127.0h0M571.5 37.0h0M510.2 87.5h0M638.5 161.7h0M595.5 175.7h0M568.9 22.7h0M536.8 57.2h0M537.7 146.1h0M584.0 34.5h0M630.6 105.9h0M593.2 107.5h0M572.7 84.5h0M593.5 223.2h0M533.0 98.8h0M598.2 170.9h0M644.6 145.2h0M595.8 194.6h0M585.7 182.6h0M568.0 127.0h0M548.0 111.0h0M555.2 114.3h0M545.2 65.7h0M589.1 187.6h0M644.9 139.7h0M642.2 104.0h0M632.8 114.1h0M588.0 112.5h0M534.4 144.2h0M600.8 207.8h0M598.0 203.2h0M597.2 220.0h0M650.4 94.4h0M539.1 64.4h0M645.3 104.8h0M519.3 79.9h0M607.7 179.4h0M601.2 205.2h0M627.5 109.7h0M598.8 164.0h0M536.9 152.1h0M612.2 203.4h0M557.7 147.4h0M596.2 199.3h0M511.2 72.6h0M604.7 178.5h0M566.0 25.7h0M571.6 80.3h0M420.7 152.2h0M528.7 134.6h0M607.8 152.1h0M627.4 186.9h0M590.2 254.4h0M560.4 131.1h0M590.0 22.1h0M577.4 248.8h0M534.0 107.7h0M593.5 207.2h0M419.5 163.8h0M574.7 63.4h0M611.8 32.0h0M625.2 140.4h0M492.1 157.0h0M514.1 157.1h0M640.2 111.0h0M604.4 186.5h0M578.5 217.7h0M644.7 112.9h0M606.6 159.6h0M571.5 240.5h0M507.4 79.7h0M550.1 145.3h0M551.4 53.2h0M641.4 111.1h0M519.3 67.5h0M593.6 210.4h0M643.0 102.1h0M636.8 115.3h0M487.5 154.4h0M619.4 179.3h0M580.9 240.3h0M592.7 205.1h0M622.6 109.0h0M610.1 206.8h0M579.1 76.2h0M418.3 156.8h0M602.3 147.5h0M640.7 138.3h0M506.8 67.7h0M632.6 149.6h0M606.6 200.0h0M623.6 120.1h0M628.1 88.6h0M502.0 131.7h0M520.6 67.8h0M560.8 84.4h0M562.8 244.4h0M603.8 200.4h0M644.7 156.4h0M521.6 114.4h0M593.1 240.4h0M546.9 128.2h0M601.7 171.3h0M514.7 72.6h0M617.1 159.8h0M584.9 227.9h0M560.8 136.8h0M575.5 35.5h0M578.1 31.3h0M616.3 94.5h0M534.5 139.1h0M537.8 87.6h0M597.4 237.5h0M525.8 70.8h0M647.0 97.1h0M613.9 219.2h0M524.1 129.3h0M452.4 164.2h0M498.0 160.7h0M538.3 144.1h0M552.9 54.1h0M589.8 179.7h0M597.5 176.2h0M523.7 92.3h0M524.7 91.3h0M569.8 125.5h0M614.3 28.2h0M622.3 199.8h0M588.0 172.5h0M524.6 50.5h0M566.4 149.1h0M515.0 82.5h0M602.4 192.3h0M640.1 107.7h0M520.8 124.5h0M526.9 66.2h0M547.8 141.5h0M623.5 171.9h0M623.8 182.4h0M553.7 129.3h0M566.8 76.2h0M571.7 249.5h0M577.2 101.2h0M622.4 186.8h0M618.6 190.5h0M593.5 242.0h0M610.7 160.8h0M587.9 250.1h0M534.1 111.1h0M632.1 115.6h0M569.7 39.2h0M526.1 99.8h0M509.2 124.5h0M634.4 103.0h0M631.5 180.6h0M604.9 98.0h0M635.7 112.7h0M429.3 163.3h0M557.1 82.2h0M627.4 122.9h0M536.4 152.5h0M562.7 121.7h0M581.8 244.6h0M571.7 158.9h0M626.7 201.7h0M523.4 122.0h0M594.5 247.8h0M588.5 184.6h0M600.3 238.7h0M581.7 247.3h0M623.0 186.5h0M607.2 192.1h0M542.9 108.7h0M514.6 75.2h0M634.9 98.5h0M517.8 138.6h0M538.6 144.1h0M515.9 157.8h0M509.2 72.6h0M608.8 138.3h0M638.5 140.2h0M584.9 88.4h0M532.7 96.5h0M579.1 248.1h0M613.4 209.1h0M572.0 14.1h0M647.0 122.4h0M625.5 86.6h0M636.1 155.0h0M531.0 98.2h0M566.0 72.4h0M514.3 61.1h0M609.9 213.8h0M633.5 122.1h0M601.5 159.4h0M569.5 66.4h0M498.2 158.2h0M611.6 210.5h0M599.7 215.2h0M650.7 133.1h0M537.5 99.5h0M617.8 182.7h0M524.7 85.3h0M607.0 160.8h0M582.2 122.9h0M597.1 193.6h0M542.6 69.9h0M608.0 43.5h0M606.8 33.1h0M646.1 98.5h0M543.3 72.0h0M544.0 140.8h0M524.0 124.7h0M628.6 129.2h0M539.9 136.5h0M611.0 199.0h0M514.6 86.4h0M506.6 74.0h0M557.7 120.0h0M607.7 227.2h0M614.0 28.3h0M602.2 114.6h0M608.2 203.1h0M635.8 147.0h0M625.8 124.9h0M584.4 23.2h0M651.5 121.4h0M525.0 149.1h0M519.7 100.3h0M511.4 71.7h0M590.0 54.3h0M538.0 76.5h0M558.5 98.2h0M598.0 196.3h0M569.6 249.3h0M599.4 189.8h0M582.5 101.5h0M611.2 30.2h0M539.4 64.5h0M629.0 118.5h0M630.3 87.6h0M530.8 82.7h0M600.4 159.8h0M619.9 29.3h0M593.6 240.8h0M583.1 253.7h0M610.3 103.3h0M616.1 159.5h0M527.9 82.7h0M576.4 37.3h0M419.2 159.8h0M549.9 49.0h0M606.5 170.8h0M611.2 170.3h0M496.8 154.8h0M650.6 107.4h0M635.1 127.0h0M639.5 128.6h0M596.2 208.7h0M597.2 132.2h0M531.7 130.0h0M524.0 154.2h0M611.4 21.7h0M626.4 126.3h0M551.1 89.3h0M603.1 33.2h0M582.8 184.3h0M607.1 198.8h0M568.9 240.2h0M640.7 92.1h0M525.6 120.0h0M527.6 135.0h0M517.2 72.0h0M526.6 64.4h0M518.8 142.6h0M544.1 142.0h0M518.0 99.6h0M623.6 108.1h0M428.4 156.2h0M535.9 152.4h0M646.4 144.2h0M583.0 20.3h0M582.6 146.6h0M577.5 26.4h0M526.7 151.3h0M523.2 51.3h0M597.9 176.1h0M632.6 116.1h0M622.3 193.8h0M630.0 117.9h0M557.6 121.3h0M529.1 149.1h0M416.6 161.3h0M559.7 127.1h0M536.5 141.4h0M543.9 88.0h0M592.8 163.6h0M571.8 50.4h0M628.9 113.0h0M599.5 188.6h0M611.9 184.6h0M617.3 26.7h0M551.0 139.6h0M504.9 79.4h0M579.2 257.2h0M601.6 189.7h0M589.0 60.4h0M624.1 96.3h0M644.1 138.9h0M445.9 159.4h0M527.8 120.2h0M564.0 122.8h0M601.2 227.5h0M542.2 127.9h0M552.3 132.8h0M507.4 70.3h0M615.8 207.5h0M592.1 24.7h0M588.7 208.6h0M628.6 186.8h0M598.1 159.9h0M549.1 84.7h0M510.1 82.3h0M589.5 139.9h0M548.6 55.9h0M561.0 134.4h0M518.6 71.3h0M542.4 129.8h0M547.2 63.1h0M593.1 253.9h0M608.1 199.7h0M545.8 112.7h0M618.9 130.1h0M540.2 84.7h0M516.0 129.3h0M613.6 124.7h0M524.1 55.1h0M606.6 102.8h0M606.4 116.0h0M547.3 103.1h0M570.9 144.5h0M584.9 123.2h0M583.4 65.7h0M627.5 143.5h0M582.2 250.8h0M583.3 48.5h0M593.4 193.6h0M637.4 92.6h0M562.7 83.6h0M526.4 113.4h0M557.3 128.9h0M626.1 111.9h0M560.5 91.1h0M644.8 142.9h0M506.9 66.3h0M586.9 250.9h0M580.3 19.1h0M587.3 251.4h0M546.4 133.1h0M556.3 98.6h0M611.1 202.0h0M544.7 146.9h0M518.8 75.7h0M507.7 138.6h0M514.1 69.5h0M544.2 117.5h0M530.3 83.6h0M492.2 151.3h0M641.7 118.7h0M576.7 252.5h0M514.3 68.4h0M604.4 175.0h0M575.7 69.1h0M588.4 174.2h0M572.5 246.6h0M644.3 95.3h0M540.6 157.5h0M490.2 153.4h0M610.8 130.6h0M619.6 94.9h0M587.4 232.0h0M538.6 127.7h0M629.3 113.0h0M570.0 115.2h0" stroke="#F8766D" stroke-width="1.8" stroke-linecap="round" fill="none"/>
<path d="M620.2 201.3h0M578.6 64.8h0M591.8 245.5h0M591.8 67.8h0M581.7 88.7h0M567.0 242.3h0M532.8 84.7h0M576.5 38.7h0M597.9 238.7h0M546.1 90.9h0M527.5 116.4h0M520.4 127.3h0M634.6 169.1h0M583.9 89.7h0M580.8 143.9h0M512.8 86.2h0M591.0 163.4h0M567.6 58.7h0M549.1 51.8h0M651.7 127.6h0M586.0 23.9h0M582.3 25.5h0M629.7 194.9h0M623.4 180.1h0M511.7 82.7h0M583.3 83.6h0M609.7 32.2h0M634.7 185.3h0M585.8 87.7h0M525.8 49.6h0M589.7 132.3h0M596.1 106.6h0M590.1 204.0h0M432.3 157.0h0M581.5 31.0h0M602.3 173.0h0M630.1 175.6h0M589.0 59.3h0M593.8 53.2h0M577.5 247.8h0M629.2 176.5h0M588.9 55.6h0M518.5 71.5h0M610.7 215.6h0M588.8 57.7h0M578.9 153.0h0M632.1 170.0h0M570.9 218.6h0M447.7 158.0h0M628.5 170.7h0M588.5 61.8h0M573.2 243.1h0M557.3 129.8h0M636.7 156.9h0M585.8 58.8h0M624.7 173.8h0M596.3 238.9h0M573.5 257.9h0M539.5 134.9h0M626.4 96.2h0M592.0 56.2h0M524.4 86.5h0M626.1 173.0h0M579.9 125.1h0M583.3 83.0h0M628.9 190.5h0M618.6 213.5h0M566.1 152.1h0M621.9 180.0h0M639.1 166.2h0M613.1 210.2h0M590.4 73.4h0M608.4 218.0h0M421.1 162.8h0M628.0 167.4h0M614.3 36.1h0M585.4 59.8h0M539.6 87.4h0" stroke="#619CFF" stroke-width="1.8" stroke-linecap="round" fill="none"/>
<path d="M518.8 72.3h0M576.1 128.7h0M608.0 109.5h0M579.9 124.0h0M523.6 94.1h0M612.5 194.4h0M520.3 140.5h0M621.6 132.1h0M530.0 130.5h0M582.0 175.7h0M606.0 161.5h0M543.1 151.6h0M585.8 173.9h0M632.1 133.0h0M532.6 137.2h0M558.8 95.4h0M645.5 140.5h0M528.5 126.9h0M607.1 211.8h0M563.1 18.9h0M574.2 220.3h0M539.8 115.5h0M651.9 128.2h0M646.6 108.2h0M548.7 56.3h0M572.2 24.0h0M617.9 166.9h0M550.3 153.6h0M582.1 51.0h0M636.9 99.6h0M559.8 146.9h0M616.1 162.8h0M595.7 200.0h0M629.8 91.3h0M580.0 19.3h0M443.2 164.4h0M642.7 109.2h0M592.2 212.4h0M561.9 17.4h0M558.4 106.9h0M551.3 150.0h0M541.0 95.7h0M610.3 184.1h0M598.7 170.3h0M641.8 107.9h0M616.6 103.9h0M529.4 115.9h0M622.8 167.4h0M574.9 253.6h0M502.3 135.7h0M563.5 91.0h0M530.6 125.8h0M420.1 160.4h0M603.7 156.2h0M621.8 97.9h0M505.3 75.9h0M599.8 220.4h0M558.2 126.8h0M566.6 123.8h0M637.1 87.1h0M524.9 96.4h0M529.9 115.4h0M614.5 198.5h0M572.2 256.2h0M536.2 99.5h0M541.6 107.9h0M578.9 35.9h0M607.8 181.3h0M544.5 105.6h0M569.5 128.3h0M592.6 242.1h0M642.5 115.7h0M600.0 214.9h0M571.4 249.4h0M523.7 91.3h0M506.1 126.1h0M569.9 49.9h0M550.0 104.8h0M639.9 113.5h0M556.9 140.1h0M415.7 160.0h0M630.3 133.3h0M534.1 122.4h0M453.5 161.3h0M417.7 162.1h0M527.2 73.3h0M607.5 127.6h0M592.4 179.6h0M586.3 175.1h0M551.3 122.6h0M545.2 113.9h0M639.1 112.3h0M654.8 120.5h0M613.7 158.7h0M553.7 137.0h0M616.1 30.3h0M570.4 128.3h0M646.6 147.1h0M556.1 53.7h0M624.5 165.9h0M544.9 102.3h0M548.3 128.6h0M607.5 33.2h0M538.8 121.2h0M559.2 119.7h0M604.3 235.3h0M650.2 104.8h0M640.2 136.6h0M644.8 148.2h0M619.6 94.2h0M573.1 28.0h0M555.6 87.8h0M560.2 145.1h0M579.5 28.9h0M585.0 255.0h0M528.0 143.8h0M606.2 214.7h0M537.4 77.2h0M648.3 106.5h0M512.1 160.4h0M605.1 154.5h0M587.8 186.4h0M650.8 95.9h0M634.4 117.2h0M628.4 90.0h0M528.2 119.0h0M581.4 241.6h0M513.9 136.7h0M602.9 151.7h0M570.4 79.1h0M640.3 107.8h0M615.8 30.8h0M652.5 97.7h0M599.6 157.5h0M542.1 147.1h0M521.7 56.7h0M642.4 99.1h0M637.2 155.0h0M636.5 119.0h0M604.7 176.6h0M584.9 250.7h0M531.4 116.4h0M592.4 235.0h0M505.1 129.6h0M553.8 99.2h0M614.3 153.5h0M523.6 97.2h0M626.5 199.9h0M591.4 228.0h0M515.5 139.6h0M611.1 28.9h0M440.7 159.4h0M611.9 208.8h0M621.9 91.4h0M536.5 137.4h0M526.4 101.6h0M531.4 93.5h0M618.8 213.9h0M626.8 139.6h0M577.9 55.6h0M533.5 148.0h0M597.9 195.1h0M578.1 149.3h0M521.9 94.7h0M447.1 162.1h0M583.4 154.2h0M592.8 174.8h0M552.5 146.3h0M622.8 100.9h0M645.2 95.5h0M585.7 197.8h0M444.9 157.1h0M650.6 130.0h0M627.4 155.6h0M630.6 86.8h0M575.2 37.3h0M545.5 57.9h0M548.2 52.5h0M567.9 48.6h0M514.1 156.5h0M609.6 154.9h0M610.8 185.9h0M587.5 246.1h0M570.2 255.3h0M575.8 143.8h0M536.2 100.9h0M650.9 131.8h0M591.4 166.5h0M570.9 129.0h0M598.9 243.6h0M598.4 125.5h0M623.0 176.6h0M636.2 117.6h0M520.8 109.0h0M574.5 256.4h0M600.1 160.2h0M628.5 100.7h0M577.5 180.2h0M628.3 176.7h0M582.5 135.5h0M510.7 69.7h0M613.8 168.9h0M595.1 129.5h0M591.3 245.4h0M526.9 95.5h0M525.9 106.6h0M593.2 165.8h0M517.8 134.9h0M521.7 75.7h0M488.2 153.7h0M538.8 91.1h0M596.3 171.7h0M539.5 85.4h0M557.0 116.6h0" stroke="#00BA38" stroke-width="1.8" stroke-linecap="round" fill="none"/>
<path d="M535.9 135.6h0M632.7 87.4h0M516.2 80.9h0M573.5 33.8h0M634.5 110.5h0M523.7 123.6h0M586.1 87.0h0M517.8 89.0h0M559.1 84.2h0M564.7 143.1h0M547.2 146.2h0M537.2 124.2h0M572.3 20.9h0M636.6 108.0h0M551.6 131.7h0M615.9 187.6h0M601.7 236.3h0M582.5 28.6h0M573.2 18.0h0M633.8 98.2h0M592.4 230.9h0M554.9 87.9h0M602.6 189.8h0M599.8 155.1h0M580.1 254.1h0M526.6 136.3h0M543.1 115.5h0M649.1 104.0h0M590.7 240.6h0M546.4 128.9h0M487.1 153.6h0M517.7 140.0h0M540.9 128.5h0M577.7 251.5h0M598.1 235.6h0M525.5 96.6h0M517.9 126.6h0M594.3 64.6h0M603.5 114.4h0M639.1 130.5h0M574.8 120.2h0M647.9 115.6h0M541.3 91.1h0M634.1 120.4h0M634.5 96.5h0M633.9 137.8h0M614.5 32.7h0M517.7 74.7h0M591.9 162.0h0M525.9 89.2h0M607.8 204.5h0M555.0 124.5h0M569.7 75.5h0M500.7 69.0h0M614.9 31.1h0M572.5 252.0h0M533.5 155.4h0M536.3 67.3h0M604.6 215.5h0M526.3 128.6h0M524.1 66.7h0M526.6 97.8h0M620.6 130.2h0M643.1 139.8h0M628.0 109.2h0M573.8 216.5h0M569.6 136.7h0M535.2 135.6h0M601.4 219.9h0M540.7 73.5h0M580.3 128.7h0M519.4 159.8h0M607.3 174.5h0M534.0 85.4h0M603.0 217.7h0M621.3 94.2h0M629.7 134.1h0M638.5 136.3h0M521.0 82.5h0M590.3 216.3h0M628.3 140.7h0M553.3 131.1h0M598.2 163.3h0M509.3 73.9h0M619.1 148.9h0M590.2 231.8h0M610.0 36.8h0M511.4 80.7h0M653.6 102.2h0M509.2 138.2h0M592.6 248.6h0M593.5 23.4h0M609.9 180.3h0M616.5 183.0h0M582.1 240.7h0M543.1 66.5h0M615.9 186.5h0M547.6 53.7h0M517.9 131.8h0M551.1 104.2h0M609.1 108.1h0M555.2 126.9h0M545.8 155.8h0M508.5 66.1h0M421.1 165.5h0M535.0 131.9h0M589.0 140.2h0M601.7 162.1h0M649.0 106.7h0M569.9 137.8h0M542.5 146.5h0M553.7 56.6h0M506.0 75.6h0M577.2 251.6h0M569.9 36.7h0M618.1 179.3h0M522.1 128.3h0M615.2 138.4h0M552.5 52.7h0M535.8 125.3h0M506.9 73.3h0M552.0 56.8h0M565.6 249.6h0M588.5 130.2h0M647.5 108.3h0M591.9 116.5h0M574.0 237.9h0M586.4 226.4h0M484.7 152.4h0M593.0 203.3h0M628.1 111.6h0M547.2 108.4h0M635.3 173.3h0M603.4 236.9h0M615.4 187.5h0M606.2 218.7h0M510.8 67.4h0M518.9 123.1h0M576.4 28.4h0M542.0 65.9h0M643.3 100.2h0M593.1 217.1h0M557.2 121.7h0M603.5 223.7h0M539.8 63.9h0M506.9 66.5h0M577.2 30.2h0M502.2 69.0h0M523.2 110.6h0M597.0 166.6h0M531.1 119.7h0M537.5 78.7h0M610.3 37.8h0M597.3 199.5h0M545.2 140.6h0M635.7 137.0h0M536.3 143.9h0M579.6 252.4h0M524.6 50.3h0M422.0 162.6h0M601.1 194.6h0M622.1 170.0h0M552.6 102.6h0M632.6 134.5h0M636.8 116.2h0M527.5 149.1h0M590.1 192.2h0M520.5 83.4h0M584.8 236.3h0M560.2 98.9h0M577.9 57.1h0M632.5 108.8h0M569.5 124.6h0M542.3 67.2h0M545.9 58.5h0M520.9 61.4h0M603.4 169.3h0M421.5 167.6h0M592.4 190.7h0M416.2 152.4h0M590.3 253.1h0M596.3 212.0h0M554.5 51.9h0M518.4 93.7h0M582.6 156.1h0M584.3 247.0h0M547.3 136.0h0M559.6 111.9h0M571.8 254.7h0M608.8 176.8h0M526.9 69.5h0M507.8 70.8h0M575.1 250.4h0M637.6 134.5h0M595.3 186.3h0M509.4 64.6h0M540.8 119.8h0M614.2 183.4h0M566.0 129.0h0M595.0 231.3h0M596.3 207.4h0M560.6 47.8h0M528.2 95.1h0M623.8 134.0h0M592.1 162.8h0M604.3 201.0h0M513.8 126.9h0M632.2 95.9h0M577.4 17.5h0M540.1 77.7h0M563.8 65.3h0M576.8 228.6h0M582.7 132.4h0M531.8 113.3h0M524.1 144.4h0M590.9 225.4h0M574.0 216.4h0M537.4 120.5h0M566.0 21.4h0M637.6 102.3h0M569.1 246.1h0M565.4 27.7h0M601.4 106.9h0M611.3 214.9h0M627.5 112.9h0M545.6 111.9h0M532.1 124.1h0M630.5 162.0h0M615.9 213.9h0M639.7 129.3h0M519.2 67.2h0M552.2 52.6h0M631.5 108.1h0M524.5 133.1h0M583.8 22.6h0M578.5 102.8h0M414.1 159.8h0M524.4 117.4h0M543.1 116.1h0M506.0 80.5h0M576.6 260.3h0M546.8 60.0h0M602.1 225.5h0M629.3 197.1h0M624.2 152.5h0M574.0 39.8h0M581.8 185.6h0M599.9 234.7h0M529.4 53.4h0M590.4 215.4h0M637.9 136.4h0M518.1 142.9h0M636.5 120.1h0M520.0 78.4h0M617.1 31.8h0M544.5 147.0h0M575.7 250.0h0M525.4 109.2h0M514.6 69.5h0M607.2 168.5h0M591.8 251.2h0M525.4 74.5h0M514.9 124.3h0M521.4 82.6h0M573.1 102.7h0M609.1 195.7h0M627.4 102.7h0M582.9 71.0h0M584.3 117.2h0M588.2 181.7h0M580.3 23.1h0M633.0 98.8h0M551.6 50.1h0M589.2 229.6h0M512.7 142.3h0M508.4 153.7h0M596.6 242.8h0M606.5 129.7h0M507.2 140.9h0M611.1 153.9h0M612.2 163.7h0M532.0 122.2h0M557.4 120.5h0M621.8 188.3h0M515.3 72.6h0M609.4 123.9h0M577.0 145.3h0M593.9 187.5h0M579.0 35.9h0M645.9 124.4h0M588.5 158.0h0M558.3 130.1h0M551.7 95.4h0M502.3 76.3h0M595.3 203.4h0M536.9 65.1h0M450.5 159.9h0M643.3 115.2h0M635.7 89.9h0M531.1 103.0h0M608.9 197.7h0M582.8 30.5h0M519.1 73.7h0M653.5 99.8h0M603.9 29.5h0M506.7 79.1h0M648.7 91.9h0M598.8 189.3h0M552.7 93.5h0M542.1 141.3h0M617.5 127.1h0M606.9 212.6h0M646.7 133.7h0M581.6 31.3h0M560.0 132.2h0M511.0 159.5h0M588.2 251.6h0M616.9 159.6h0M517.2 79.5h0M578.0 254.1h0M608.1 150.4h0M540.9 118.8h0M530.7 82.6h0M542.9 62.5h0M624.4 185.0h0M528.8 139.0h0M594.3 52.6h0M646.4 103.2h0M530.8 143.9h0M591.2 255.4h0M530.2 140.5h0M515.4 154.3h0M520.0 86.2h0M579.9 29.9h0M553.5 135.8h0M537.8 142.5h0M601.3 152.3h0M595.6 165.7h0M611.2 106.7h0M623.0 182.8h0M612.6 30.5h0M578.3 41.0h0M597.5 129.4h0M527.6 59.3h0M603.5 218.4h0M532.5 124.1h0M601.5 205.7h0M548.6 53.8h0M530.9 78.5h0M508.8 81.3h0M570.7 30.4h0M549.1 142.3h0M505.7 74.4h0M649.5 90.0h0M545.2 132.4h0M587.3 119.8h0M527.9 116.4h0M640.9 114.5h0M540.6 126.0h0M609.8 173.6h0M628.7 187.9h0M651.2 107.6h0M656.2 112.2h0M587.8 207.5h0M602.4 187.1h0M524.9 103.2h0M575.5 218.6h0M542.3 125.1h0M598.9 175.9h0M608.2 28.5h0M448.8 163.8h0M513.2 158.2h0M639.5 112.3h0M638.3 135.8h0M571.8 23.6h0M565.9 144.6h0M527.5 65.9h0M620.7 167.1h0M573.2 222.2h0M439.7 160.3h0M636.3 150.7h0M603.5 180.6h0M605.6 184.5h0M623.5 170.4h0M533.2 133.2h0M624.8 193.6h0M524.4 49.9h0M527.7 117.8h0M628.3 135.3h0M490.5 155.8h0M619.6 171.0h0M579.5 250.3h0M591.2 184.7h0M583.6 257.7h0M518.4 160.3h0M616.9 32.2h0M541.1 149.8h0M580.9 242.1h0M621.9 158.8h0M599.8 176.1h0M641.0 88.4h0M541.8 142.2h0M570.2 82.6h0M606.1 175.9h0M521.8 65.8h0M619.4 128.5h0M631.2 104.7h0M550.9 115.5h0M532.0 90.6h0M586.4 207.4h0M626.6 149.6h0M545.1 151.2h0M629.9 182.4h0M639.4 121.9h0M544.5 133.7h0M625.6 111.4h0M617.3 29.7h0M647.8 132.0h0M632.1 173.9h0M596.5 224.9h0M531.1 73.1h0M560.5 142.3h0M644.7 100.9h0M620.9 149.9h0M604.7 215.5h0M547.6 136.5h0M440.2 161.5h0M624.3 98.5h0M586.0 256.0h0M442.4 162.6h0M605.7 199.4h0M619.0 171.8h0M624.6 128.2h0M539.6 77.1h0M614.6 136.4h0M525.6 70.7h0M575.6 125.1h0M532.6 114.9h0M595.1 168.5h0M550.2 104.6h0M597.7 184.2h0M515.6 70.4h0M573.0 20.2h0M640.3 161.6h0M582.2 253.0h0M512.2 70.1h0M507.6 79.5h0M530.0 114.7h0M608.9 111.7h0M504.9 66.3h0M570.3 131.9h0M602.9 166.8h0M555.4 49.5h0M542.9 100.2h0M589.9 69.0h0M603.2 174.6h0M625.7 141.5h0M565.0 124.9h0M580.1 180.2h0M631.1 142.6h0M589.7 117.9h0M584.8 135.6h0M513.7 68.0h0M577.4 38.3h0M578.8 175.5h0M568.4 30.1h0M603.1 155.1h0M536.3 70.6h0M557.5 76.8h0M594.0 179.6h0M502.4 74.4h0M593.7 217.2h0M523.6 71.1h0M593.0 226.1h0M529.0 95.5h0M610.3 24.7h0M643.1 154.7h0M643.0 127.9h0M526.7 123.2h0M558.9 49.7h0M628.6 103.2h0M624.8 108.7h0M636.6 115.6h0M620.5 175.5h0M630.5 141.1h0M608.0 206.8h0M528.7 87.0h0M542.7 154.0h0M618.5 185.0h0M638.3 130.6h0M593.6 167.9h0M579.0 119.6h0M563.8 24.5h0M625.6 128.4h0M604.2 162.4h0M510.5 71.8h0M570.1 14.6h0M505.9 72.3h0M623.9 124.7h0M576.1 249.9h0M560.6 70.9h0M593.7 239.9h0M561.0 123.4h0M584.4 203.9h0M516.5 81.2h0M437.8 159.6h0M624.5 164.4h0M577.6 46.5h0M584.7 157.4h0M527.0 82.8h0M554.2 55.0h0M555.8 123.6h0M588.1 237.0h0M555.2 96.1h0M603.2 144.8h0M591.3 132.2h0M538.3 132.5h0M619.1 188.1h0M631.4 130.6h0M517.0 81.1h0M505.4 74.3h0M573.6 246.3h0M626.9 123.0h0M603.4 210.0h0M565.5 18.7h0M556.5 130.9h0M532.3 123.1h0M650.3 100.7h0M652.6 99.3h0M570.1 36.2h0M626.3 187.8h0M518.9 115.0h0M632.8 133.7h0M595.1 217.8h0M605.6 229.2h0M577.0 253.4h0M573.4 19.6h0M519.1 124.2h0M524.0 87.8h0M645.5 148.0h0M610.0 168.2h0M516.4 81.2h0M525.4 58.5h0M631.4 115.4h0M633.7 153.5h0M552.4 138.9h0M524.6 95.2h0M593.2 125.3h0M587.2 140.1h0M432.8 162.1h0M613.0 32.5h0M535.7 152.4h0M586.4 174.7h0M617.2 91.0h0M594.2 172.8h0M597.5 222.4h0M579.7 36.4h0M509.8 70.2h0M569.0 26.1h0M596.9 219.8h0M613.7 25.9h0M562.1 99.9h0M599.8 241.7h0M598.8 204.2h0M574.1 256.2h0M636.8 132.7h0M611.7 37.6h0M506.6 75.2h0M582.4 258.3h0M548.5 107.9h0M568.1 128.3h0M504.6 134.0h0M584.1 185.0h0M522.0 67.8h0M609.4 219.2h0M553.4 48.5h0M539.2 117.0h0M585.1 246.8h0M634.4 143.1h0M506.1 67.4h0M502.2 71.1h0M552.2 133.9h0M563.3 66.2h0M568.1 88.9h0M538.1 115.4h0M504.3 74.7h0M553.4 50.7h0M597.6 200.7h0M605.6 234.2h0M513.2 72.1h0M487.7 151.6h0M586.4 127.9h0M604.2 169.2h0M614.0 207.4h0M546.9 154.4h0M582.6 143.9h0M588.6 241.7h0M611.4 190.5h0M648.5 114.5h0M523.7 126.0h0M582.9 247.3h0M529.9 91.5h0M607.9 192.8h0M563.5 96.6h0" stroke="#F8766D" stroke-width="1.8" stroke-linecap="round" fill="none"/>
<path d="M591.1 55.7h0M606.6 148.6h0M593.0 126.2h0M578.2 40.9h0M530.2 56.0h0M582.8 87.3h0M588.8 63.3h0M588.1 80.2h0M526.7 100.0h0M592.9 53.8h0M555.3 99.1h0M560.5 124.5h0M569.6 23.0h0M638.5 155.9h0M579.8 84.9h0M584.0 84.7h0M573.6 237.1h0M607.9 191.7h0M617.3 203.0h0M527.0 80.9h0M422.2 165.0h0M607.9 196.0h0M599.6 208.9h0M593.6 250.4h0M619.7 196.7h0M612.7 165.2h0M589.4 70.4h0M507.3 73.7h0M594.9 238.1h0M622.0 208.7h0M448.0 162.7h0M593.5 61.7h0M608.1 175.4h0M585.4 235.8h0M530.7 69.1h0M507.7 79.8h0M572.0 162.5h0M528.4 51.9h0M585.3 66.2h0M587.6 67.6h0M604.2 158.2h0M568.7 253.3h0M568.5 259.2h0M444.1 163.8h0M602.9 123.9h0M514.7 65.3h0M609.3 122.7h0M451.3 159.0h0M623.5 201.1h0M590.1 65.7h0M591.9 60.8h0M568.3 249.9h0M522.9 133.8h0M581.3 87.3h0M627.5 182.8h0M583.1 83.3h0M628.0 155.6h0M576.8 109.8h0M566.9 14.0h0M591.3 227.4h0M544.8 143.5h0M610.5 143.9h0M605.8 224.6h0M595.7 138.4h0M637.0 169.4h0M592.7 128.1h0M570.0 27.1h0M593.1 58.8h0M418.7 165.4h0M617.4 194.4h0M563.3 131.5h0M588.4 70.7h0M618.6 162.3h0M573.1 247.4h0M586.9 84.1h0M576.0 24.5h0M625.9 190.6h0M617.8 32.5h0M583.0 136.8h0M590.7 52.6h0M550.9 57.0h0M413.5 161.8h0M428.4 159.8h0M555.3 47.2h0M583.1 85.4h0M590.9 55.1h0M446.7 158.2h0M631.4 146.2h0M550.7 58.3h0M632.4 183.6h0M569.5 250.9h0M563.5 10.6h0M581.6 89.4h0M621.0 213.8h0M604.9 226.8h0M593.0 65.7h0M590.6 253.6h0M593.1 235.8h0M651.7 132.9h0M582.8 81.2h0" stroke="#619CFF" stroke-width="1.8" stroke-linecap="round" fill="none"/>
<path d="M577.9 249.7h0M530.5 65.2h0M557.7 98.2h0M576.7 157.8h0M423.1 164.3h0M523.7 127.0h0M556.0 137.1h0M643.8 94.8h0M418.2 160.6h0M625.9 166.0h0M631.2 129.4h0M610.4 171.9h0M509.5 133.9h0M536.4 58.3h0M530.5 66.4h0M614.6 157.4h0M575.1 36.4h0M575.4 116.6h0M599.0 178.6h0M646.0 139.7h0M558.1 92.3h0M568.7 20.9h0M603.4 142.4h0M551.8 56.0h0M526.9 67.0h0M442.5 161.3h0M541.3 89.1h0M639.4 160.4h0M597.5 182.1h0M584.4 30.2h0M610.7 171.5h0M417.9 157.8h0M587.0 250.7h0M605.0 196.4h0M433.8 161.5h0M427.8 160.9h0M610.8 31.5h0M528.5 135.7h0M587.9 193.4h0M520.7 97.9h0M579.0 149.2h0M590.8 248.6h0M633.2 130.2h0M641.3 131.7h0M619.1 181.2h0M611.0 121.1h0M616.8 121.7h0M600.1 233.8h0M645.2 127.9h0M553.7 86.9h0M595.3 228.1h0M613.3 215.3h0M617.6 121.1h0M625.8 192.5h0M524.6 130.3h0M620.0 167.0h0M446.2 166.0h0M573.5 27.2h0M539.9 68.5h0M569.1 253.8h0M520.9 111.4h0M639.8 148.4h0M624.3 181.4h0M601.6 115.5h0M557.7 111.7h0M612.1 27.1h0M609.5 200.9h0M587.2 134.7h0M610.0 186.3h0M581.6 144.3h0M565.7 107.2h0M612.9 161.6h0M612.5 181.8h0M531.2 128.6h0M522.1 132.2h0M638.4 134.4h0M552.1 54.0h0M420.3 159.8h0M529.0 110.7h0M546.8 113.1h0M549.9 129.1h0M587.7 111.4h0M450.0 156.9h0M562.5 75.3h0M582.6 58.0h0M515.0 144.2h0M639.3 161.2h0M642.3 116.9h0M579.9 134.3h0M628.2 193.2h0M637.4 123.1h0M538.7 137.0h0M621.7 102.1h0M615.1 120.6h0M572.0 84.2h0M539.2 64.7h0M538.4 64.8h0M574.2 220.9h0M650.3 103.2h0M519.4 95.1h0M621.4 173.9h0M612.9 164.3h0M515.4 122.8h0M536.2 98.4h0M609.7 36.8h0M612.3 28.1h0M626.7 135.3h0M639.5 157.7h0M602.6 218.8h0M566.3 21.9h0M640.9 108.3h0M595.6 184.5h0M572.5 118.5h0M635.6 133.0h0M608.4 96.7h0M612.7 164.8h0M643.4 158.6h0M589.8 170.6h0M640.2 141.8h0M533.7 136.7h0M428.0 165.3h0M537.9 142.6h0M646.6 99.6h0M517.9 147.3h0M554.7 48.5h0M567.8 137.4h0M591.5 245.2h0M507.8 66.7h0M566.9 48.5h0M417.5 167.3h0M517.1 75.0h0M510.4 70.3h0M441.1 165.0h0M637.5 102.0h0M615.3 22.1h0M641.0 148.9h0M621.6 119.6h0M576.0 26.1h0M536.0 124.9h0M539.3 86.7h0M594.5 187.6h0M582.4 251.7h0M511.2 120.1h0M505.3 127.9h0M488.9 153.2h0M592.1 248.3h0M587.7 235.4h0M557.9 88.8h0M513.5 76.3h0M614.1 115.6h0M628.6 134.5h0M570.4 29.3h0M601.2 212.3h0M520.8 95.1h0M537.8 138.8h0M555.1 50.8h0M602.4 167.7h0M535.0 90.4h0M602.7 165.3h0M643.8 99.5h0M638.4 156.1h0M506.0 68.5h0M642.2 136.1h0M603.1 102.3h0M617.5 113.1h0M580.6 119.6h0M577.5 20.8h0M505.2 125.2h0M584.7 136.4h0M573.2 18.2h0M641.3 134.2h0M636.0 92.0h0M609.1 26.5h0M597.9 126.5h0M610.2 207.2h0M613.1 138.0h0M628.1 195.7h0M603.9 183.5h0M604.9 177.9h0M568.0 128.6h0M643.4 158.1h0M605.5 167.2h0M641.1 154.7h0M600.6 142.6h0" stroke="#00BA38" stroke-width="1.8" stroke-linecap="round" fill="none"/>
<path d="M605.4 206.6h0M547.9 135.9h0M509.0 127.1h0M535.8 87.5h0M617.2 151.8h0M640.2 124.9h0M593.9 227.6h0M563.7 91.5h0M541.2 94.5h0M601.5 201.9h0M613.5 113.4h0M564.7 79.4h0M567.6 51.6h0M583.4 247.0h0M534.7 68.0h0M583.1 87.8h0M629.7 130.4h0M524.5 66.9h0M575.0 25.6h0M506.2 68.6h0M596.4 208.2h0M615.2 128.9h0M515.2 125.8h0M569.4 114.0h0M622.1 167.1h0M550.8 139.5h0M610.1 192.4h0M585.3 225.4h0M532.9 126.6h0M619.2 163.1h0M590.8 194.7h0M636.6 136.8h0M636.6 134.7h0M528.4 120.1h0M631.5 107.3h0M524.9 136.3h0M533.4 68.0h0M603.7 214.6h0M515.2 100.4h0M540.4 63.7h0M524.7 67.0h0M597.6 185.5h0M573.2 25.4h0M530.0 93.0h0M564.9 55.7h0M638.8 129.8h0M629.8 93.0h0M595.2 201.7h0M509.3 73.8h0M620.0 177.7h0M573.1 35.6h0M583.3 253.1h0M604.5 151.6h0M616.4 189.9h0M634.6 132.5h0M579.5 235.1h0M534.8 123.4h0M528.9 53.9h0M554.9 52.2h0M582.6 250.2h0M542.5 101.9h0M539.8 131.7h0M527.4 97.7h0M501.7 74.2h0M512.1 157.9h0M616.9 23.8h0M592.8 186.8h0M587.4 231.1h0M544.4 129.5h0M584.7 229.2h0M534.9 121.3h0M617.5 172.5h0M533.0 106.0h0M579.3 254.8h0M598.6 230.7h0M547.4 128.9h0M601.2 210.1h0M533.3 104.6h0M522.9 95.3h0M637.4 135.7h0M649.3 128.3h0M572.2 216.3h0M521.7 73.2h0M615.2 26.5h0M534.5 93.9h0M585.1 157.3h0M626.2 112.5h0M605.0 215.7h0M511.9 140.4h0M586.6 199.0h0M594.9 249.4h0M416.7 159.6h0M641.5 110.9h0M635.9 123.8h0M606.1 157.0h0M580.1 249.2h0M634.4 126.4h0M514.9 74.9h0M603.8 132.1h0M650.8 103.1h0M624.7 105.4h0M640.5 114.7h0M651.2 101.5h0M614.6 91.9h0M622.0 159.0h0M528.4 95.0h0M516.1 63.4h0M636.7 111.6h0M508.9 134.7h0M503.4 70.2h0M518.0 147.5h0M531.9 147.6h0M589.4 177.8h0M581.5 243.5h0M615.7 171.5h0M579.3 111.5h0M634.5 133.9h0M583.4 18.8h0M579.6 233.7h0M580.0 115.2h0M569.2 31.3h0M449.8 162.1h0M589.5 159.4h0M487.0 155.4h0M579.1 256.3h0M633.2 130.5h0M528.0 72.4h0M618.5 116.8h0M594.2 196.3h0M581.6 33.0h0M593.7 231.0h0M632.4 132.0h0M591.9 182.5h0M652.5 115.1h0M596.9 215.5h0M630.9 87.0h0M586.7 127.2h0M587.5 169.2h0M632.6 113.3h0M583.2 141.6h0M620.4 132.0h0M631.9 151.1h0M622.6 177.2h0M655.1 97.6h0M576.7 35.2h0M593.3 149.2h0M575.5 243.2h0M528.0 94.0h0M639.2 128.2h0M518.9 86.8h0M619.8 95.2h0M522.7 132.0h0M604.6 212.7h0M564.4 129.5h0M553.1 102.0h0M510.2 85.8h0M507.5 69.5h0M533.7 151.0h0M613.8 120.8h0M577.3 247.0h0M538.8 74.6h0M543.4 132.1h0M575.1 26.8h0M543.1 148.4h0M613.2 205.0h0M635.6 117.8h0M519.8 92.5h0M594.6 200.4h0M536.8 120.3h0M634.4 143.0h0M558.0 135.0h0M552.4 54.5h0M500.7 76.8h0M622.5 200.0h0M613.4 157.3h0M578.5 66.3h0M537.6 77.7h0M554.4 54.5h0M567.5 134.2h0M529.3 97.7h0M551.7 112.8h0M598.8 239.2h0M613.3 150.9h0M558.7 134.0h0M590.4 232.6h0M528.3 123.3h0M631.8 130.0h0M592.9 195.8h0M449.4 161.8h0M505.8 82.7h0M558.0 47.5h0M556.9 86.3h0M555.4 143.0h0M609.5 131.1h0M610.1 177.1h0M623.3 195.1h0M489.4 153.4h0M530.0 69.9h0M514.5 148.0h0M599.5 110.4h0M603.8 178.9h0M556.9 133.4h0M621.1 125.2h0M576.9 25.5h0M646.7 109.0h0M583.0 242.2h0M598.9 139.8h0M589.1 245.3h0M581.5 46.1h0M600.7 215.7h0M606.7 26.4h0M592.8 232.9h0M641.7 104.2h0M579.0 47.2h0M418.0 162.5h0M605.7 193.3h0M614.0 27.6h0M556.7 145.8h0M501.4 70.4h0M653.8 117.3h0M501.5 76.0h0M624.3 125.6h0M622.9 157.7h0M612.5 26.7h0M579.6 147.8h0M574.3 134.8h0M554.5 124.2h0M540.0 74.8h0M583.6 252.9h0M528.6 121.9h0M526.5 116.5h0M614.5 184.6h0M648.0 121.9h0M552.4 52.8h0M585.3 251.5h0M554.7 51.6h0M520.5 148.7h0M640.2 108.2h0M559.7 121.9h0M578.7 33.0h0M646.9 113.7h0M546.4 122.9h0M633.2 179.2h0M513.5 67.5h0M601.2 235.9h0M585.3 27.3h0M515.5 129.3h0M523.5 86.4h0M525.4 119.2h0M655.9 106.6h0M536.0 124.5h0M618.5 189.5h0M648.6 105.5h0M606.5 175.2h0M436.4 161.9h0M586.9 34.6h0M573.0 140.3h0M611.2 183.6h0M621.6 120.9h0M560.5 125.0h0M641.4 87.7h0M575.6 142.8h0M610.7 29.1h0M547.2 119.2h0M638.1 150.2h0M601.1 154.1h0M643.8 108.7h0M541.8 88.7h0M643.3 112.7h0M437.2 160.4h0M571.1 26.6h0M608.4 214.8h0M592.0 129.9h0M593.1 61.9h0M577.0 34.7h0M529.9 90.9h0M640.9 131.7h0M551.9 134.1h0M612.8 180.5h0M564.9 62.3h0M609.6 165.5h0M569.3 58.2h0M588.9 202.9h0M508.3 71.0h0M580.7 106.6h0M576.1 19.0h0M573.3 31.7h0M621.0 29.9h0M576.0 145.5h0M626.6 139.8h0M605.8 174.3h0M600.3 183.2h0M526.2 74.2h0M507.3 73.4h0M580.1 34.5h0M582.2 59.9h0M628.7 129.7h0M582.0 239.5h0M626.6 176.4h0M641.3 113.3h0M540.2 151.1h0M517.7 132.8h0M633.4 99.3h0M591.7 145.5h0M520.3 125.3h0M531.1 136.5h0M519.4 79.7h0M571.3 79.5h0M574.3 259.4h0M523.2 147.3h0M632.9 141.9h0M561.9 140.7h0M592.2 235.6h0M633.9 134.2h0M561.9 130.4h0M605.2 207.4h0M595.5 170.9h0M517.8 122.0h0M630.2 106.4h0M487.3 152.9h0M556.1 121.2h0M570.5 26.5h0M571.4 76.5h0M603.5 159.1h0M541.7 65.2h0M570.8 28.1h0M584.3 251.9h0M627.7 105.9h0M520.3 137.5h0M534.9 148.9h0M601.3 189.6h0M554.7 136.9h0M624.1 134.4h0M605.4 160.3h0M538.4 131.4h0M629.3 159.8h0M576.9 29.9h0M615.6 108.4h0M557.9 88.6h0M634.4 133.0h0M559.2 136.8h0M540.2 92.2h0M549.5 103.3h0M605.9 194.8h0M589.1 237.7h0M617.1 170.7h0M611.6 208.7h0M515.4 72.8h0M529.2 111.2h0M648.7 99.8h0M601.2 236.3h0M575.2 76.8h0M622.0 30.3h0M505.2 131.6h0M605.6 120.6h0M544.2 107.3h0M595.6 229.3h0M507.9 76.3h0M572.3 236.1h0M588.9 250.2h0M509.6 77.6h0M590.3 72.9h0M531.4 144.3h0M542.9 127.4h0M583.8 24.4h0M520.6 150.3h0M641.9 99.6h0M629.3 128.8h0M523.0 100.0h0M630.2 127.6h0M620.5 126.5h0M524.7 131.7h0M599.5 173.6h0M582.2 21.3h0M602.8 187.3h0M545.3 60.6h0M626.0 123.0h0M532.2 130.2h0M636.3 88.9h0M620.1 180.7h0M609.8 27.2h0M434.4 164.5h0M612.4 103.6h0M508.0 81.7h0M584.5 75.4h0M651.1 103.5h0M516.8 72.3h0M540.0 65.3h0M623.3 112.3h0M544.4 146.8h0M531.5 61.8h0M525.7 127.3h0M570.2 248.8h0M513.3 67.1h0M570.0 55.9h0M631.2 120.9h0M581.3 252.1h0M611.0 32.1h0M640.5 100.9h0M620.4 30.1h0M524.9 127.0h0M599.4 219.3h0M501.3 72.5h0M600.1 227.8h0M597.2 139.2h0M611.9 31.6h0M573.9 33.8h0M632.4 128.2h0M580.1 260.2h0M613.0 205.1h0M591.9 199.8h0M514.6 61.5h0M639.1 101.0h0M545.8 129.1h0M556.8 88.7h0M549.6 88.9h0M635.6 98.7h0M529.3 64.3h0M622.8 118.7h0M625.5 139.9h0M612.3 34.2h0M602.6 165.7h0M542.5 111.2h0M415.8 158.4h0M592.8 200.8h0M517.8 144.4h0M577.0 254.3h0M587.5 197.2h0M506.7 76.7h0M638.6 138.8h0M554.6 144.2h0M530.2 78.3h0M619.5 34.0h0M529.3 82.3h0M550.6 104.3h0M419.9 167.4h0M626.0 124.1h0M555.3 141.5h0M599.4 189.4h0M637.1 153.4h0M576.3 22.2h0M552.9 107.9h0M629.0 198.4h0M531.5 138.0h0M566.6 152.7h0M603.8 191.7h0M557.7 121.1h0M521.0 151.5h0M526.8 110.2h0M564.2 110.3h0M576.1 86.1h0M554.3 111.7h0M620.7 161.1h0M528.9 115.8h0M549.4 91.3h0M576.5 250.2h0M523.3 119.4h0M638.0 106.1h0M598.5 193.3h0M586.7 28.7h0M515.0 74.5h0M648.5 128.0h0M533.3 96.8h0M513.5 158.5h0M652.2 105.7h0M441.4 163.8h0M617.8 180.7h0M511.0 63.0h0M551.2 105.5h0M629.5 91.1h0M577.8 32.8h0M570.9 246.4h0M445.8 167.9h0M540.3 116.7h0M536.9 117.9h0M626.6 181.7h0M559.8 98.2h0M550.7 47.0h0M565.7 49.9h0M632.0 102.9h0M625.6 170.9h0M574.9 252.7h0M561.8 96.7h0M588.0 210.4h0M593.6 153.2h0M590.7 63.3h0M548.7 52.9h0M531.9 87.3h0M591.6 134.9h0M536.1 133.9h0M598.6 231.8h0M535.7 124.1h0M639.8 121.6h0M526.3 121.8h0M566.0 140.4h0M610.7 146.9h0M445.6 162.4h0M626.2 125.7h0M627.6 103.5h0M635.1 92.4h0M568.8 142.4h0M518.9 99.9h0M544.8 148.0h0M509.7 80.2h0M635.8 102.4h0M633.6 129.2h0M647.2 102.8h0M540.1 74.2h0M651.1 97.9h0M574.6 218.1h0M441.5 167.1h0M585.2 183.5h0M619.5 180.8h0M511.0 77.7h0M572.4 136.7h0M580.1 252.9h0M638.2 136.0h0M634.7 126.1h0M543.3 136.4h0M586.6 251.8h0M579.5 18.2h0M543.2 132.4h0M619.1 166.9h0M508.3 130.4h0M592.2 173.1h0M608.9 204.1h0M589.6 132.8h0M594.8 243.5h0M596.6 165.3h0M628.6 111.9h0M585.0 250.4h0M572.0 82.9h0M623.2 210.8h0M513.6 78.0h0M606.6 196.6h0M521.6 59.9h0M520.7 89.9h0M619.5 117.2h0M585.1 253.2h0M506.1 83.8h0M450.6 166.0h0M637.8 111.8h0M590.3 116.2h0M637.3 145.0h0M540.9 86.5h0M638.5 114.9h0M552.8 136.5h0M607.5 98.6h0M601.8 174.1h0M430.3 163.3h0M589.7 255.9h0M636.5 133.5h0M646.0 113.6h0M591.5 178.6h0M582.4 248.3h0M551.6 139.8h0M633.9 123.6h0M639.7 106.5h0M631.1 140.0h0M578.3 250.8h0M571.3 51.0h0M580.7 256.4h0M530.4 129.6h0M604.9 134.3h0M638.7 94.4h0M639.8 102.4h0M555.4 95.3h0M609.3 24.3h0M539.3 107.8h0M525.4 124.3h0M508.3 82.2h0M578.0 256.1h0M510.1 74.8h0M537.6 128.6h0M571.6 21.3h0M536.8 100.4h0M564.2 111.4h0M589.6 190.0h0M536.2 133.3h0M596.6 180.9h0M509.4 66.4h0M584.7 239.9h0M538.0 150.5h0M555.9 140.1h0M637.8 117.6h0M613.5 183.7h0M510.9 73.2h0M609.6 99.5h0M649.6 96.8h0M612.1 216.2h0M581.2 144.6h0M552.9 136.4h0M572.5 250.1h0M626.1 94.8h0M577.7 234.5h0M656.8 109.3h0M591.7 175.1h0M575.6 53.7h0M529.2 121.3h0M573.9 55.8h0M529.6 89.1h0M610.2 94.9h0M579.4 37.9h0M520.0 71.6h0M514.0 127.0h0M599.2 217.1h0M650.2 99.5h0M531.8 131.7h0M553.8 120.9h0M515.0 79.4h0M541.6 140.3h0M505.6 66.5h0" stroke="#F8766D" stroke-width="1.8" stroke-linecap="round" fill="none"/>
<circle cx="683" cy="126.6" r="2.6" fill="#F8766D"/>
<text x="694.6" y="129.8" font-size="9" text-anchor="start" fill="#000" >H</text>
<circle cx="683" cy="137.9" r="2.6" fill="#00BA38"/>
<text x="694.6" y="141.1" font-size="9" text-anchor="start" fill="#000" >N</text>
<circle cx="683" cy="149.2" r="2.6" fill="#619CFF"/>
<text x="694.6" y="152.4" font-size="9" text-anchor="start" fill="#000" >L</text>
<text transform="translate(1 320.2) scale(0.93 1)" font-size="15" font-weight="bold" fill="#000" stroke="#000" stroke-width="0.4">C</text>
<path d="M42.9 316V568H307.5" fill="none" stroke="#222" stroke-width="1"/>
<line x1="40.1" y1="556.5" x2="42.9" y2="556.5" stroke="#222" stroke-width="1"/>
<text x="37.1" y="559.7" font-size="9" text-anchor="end" fill="#4D4D4D" >0</text>
<line x1="40.1" y1="499.2" x2="42.9" y2="499.2" stroke="#222" stroke-width="1"/>
<text x="37.1" y="502.5" font-size="9" text-anchor="end" fill="#4D4D4D" >25</text>
<line x1="40.1" y1="442" x2="42.9" y2="442" stroke="#222" stroke-width="1"/>
<text x="37.1" y="445.2" font-size="9" text-anchor="end" fill="#4D4D4D" >50</text>
<line x1="40.1" y1="384.8" x2="42.9" y2="384.8" stroke="#222" stroke-width="1"/>
<text x="37.1" y="388" font-size="9" text-anchor="end" fill="#4D4D4D" >75</text>
<line x1="40.1" y1="327.5" x2="42.9" y2="327.5" stroke="#222" stroke-width="1"/>
<text x="37.1" y="330.7" font-size="9" text-anchor="end" fill="#4D4D4D" >100</text>
<line x1="61.9" y1="568" x2="61.9" y2="570.8" stroke="#222" stroke-width="1"/>
<text x="61.9" y="580" font-size="9" text-anchor="middle" fill="#4D4D4D" >0</text>
<line x1="82.6" y1="568" x2="82.6" y2="570.8" stroke="#222" stroke-width="1"/>
<text x="82.6" y="580" font-size="9" text-anchor="middle" fill="#4D4D4D" >1</text>
<line x1="103.3" y1="568" x2="103.3" y2="570.8" stroke="#222" stroke-width="1"/>
<text x="103.3" y="580" font-size="9" text-anchor="middle" fill="#4D4D4D" >2</text>
<line x1="124" y1="568" x2="124" y2="570.8" stroke="#222" stroke-width="1"/>
<text x="124" y="580" font-size="9" text-anchor="middle" fill="#4D4D4D" >3</text>
<line x1="144.7" y1="568" x2="144.7" y2="570.8" stroke="#222" stroke-width="1"/>
<text x="144.7" y="580" font-size="9" text-anchor="middle" fill="#4D4D4D" >4</text>
<line x1="165.4" y1="568" x2="165.4" y2="570.8" stroke="#222" stroke-width="1"/>
<text x="165.4" y="580" font-size="9" text-anchor="middle" fill="#4D4D4D" >5</text>
<line x1="186.1" y1="568" x2="186.1" y2="570.8" stroke="#222" stroke-width="1"/>
<text x="186.1" y="580" font-size="9" text-anchor="middle" fill="#4D4D4D" >6</text>
<line x1="206.8" y1="568" x2="206.8" y2="570.8" stroke="#222" stroke-width="1"/>
<text x="206.8" y="580" font-size="9" text-anchor="middle" fill="#4D4D4D" >7</text>
<line x1="227.5" y1="568" x2="227.5" y2="570.8" stroke="#222" stroke-width="1"/>
<text x="227.5" y="580" font-size="9" text-anchor="middle" fill="#4D4D4D" >8</text>
<line x1="248.2" y1="568" x2="248.2" y2="570.8" stroke="#222" stroke-width="1"/>
<text x="248.2" y="580" font-size="9" text-anchor="middle" fill="#4D4D4D" >9</text>
<line x1="268.9" y1="568" x2="268.9" y2="570.8" stroke="#222" stroke-width="1"/>
<text x="268.9" y="580" font-size="9" text-anchor="middle" fill="#4D4D4D" >10</text>
<line x1="289.6" y1="568" x2="289.6" y2="570.8" stroke="#222" stroke-width="1"/>
<text x="289.6" y="580" font-size="9" text-anchor="middle" fill="#4D4D4D" >11</text>
<rect x="54.8" y="327.5" width="14.3" height="67.6" fill="#F8766D"/>
<rect x="54.8" y="395.1" width="14.3" height="72.8" fill="#00BA38"/>
<rect x="54.8" y="467.9" width="14.3" height="88.6" fill="#619CFF"/>
<rect x="75.4" y="327.5" width="14.3" height="104.4" fill="#F8766D"/>
<rect x="75.4" y="431.9" width="14.3" height="99.2" fill="#00BA38"/>
<rect x="75.4" y="531.1" width="14.3" height="25.4" fill="#619CFF"/>
<rect x="96.1" y="327.5" width="14.3" height="97.8" fill="#F8766D"/>
<rect x="96.1" y="425.3" width="14.3" height="108.8" fill="#00BA38"/>
<rect x="96.1" y="534.1" width="14.3" height="22.4" fill="#619CFF"/>
<rect x="116.8" y="327.5" width="14.3" height="65" fill="#F8766D"/>
<rect x="116.8" y="392.5" width="14.3" height="66" fill="#00BA38"/>
<rect x="116.8" y="458.5" width="14.3" height="98" fill="#619CFF"/>
<rect x="137.5" y="327.5" width="14.3" height="68.9" fill="#F8766D"/>
<rect x="137.5" y="396.4" width="14.3" height="64.1" fill="#00BA38"/>
<rect x="137.5" y="460.5" width="14.3" height="96" fill="#619CFF"/>
<rect x="158.2" y="327.5" width="14.3" height="79" fill="#F8766D"/>
<rect x="158.2" y="406.5" width="14.3" height="84" fill="#00BA38"/>
<rect x="158.2" y="490.5" width="14.3" height="66" fill="#619CFF"/>
<rect x="178.9" y="327.5" width="14.3" height="106" fill="#F8766D"/>
<rect x="178.9" y="433.5" width="14.3" height="60" fill="#00BA38"/>
<rect x="178.9" y="493.5" width="14.3" height="63" fill="#619CFF"/>
<rect x="199.7" y="327.5" width="14.3" height="39.4" fill="#F8766D"/>
<rect x="199.7" y="366.9" width="14.3" height="84.5" fill="#00BA38"/>
<rect x="199.7" y="451.4" width="14.3" height="105.1" fill="#619CFF"/>
<rect x="220.3" y="327.5" width="14.3" height="73.5" fill="#F8766D"/>
<rect x="220.3" y="401" width="14.3" height="91.6" fill="#00BA38"/>
<rect x="220.3" y="492.6" width="14.3" height="63.9" fill="#619CFF"/>
<rect x="241" y="327.5" width="14.3" height="16.5" fill="#F8766D"/>
<rect x="241" y="344" width="14.3" height="3.4" fill="#00BA38"/>
<rect x="241" y="347.4" width="14.3" height="209.1" fill="#619CFF"/>
<rect x="261.8" y="327.5" width="14.3" height="90.5" fill="#F8766D"/>
<rect x="261.8" y="418" width="14.3" height="87.9" fill="#00BA38"/>
<rect x="261.8" y="505.9" width="14.3" height="50.6" fill="#619CFF"/>
<rect x="282.4" y="327.5" width="14.3" height="115.4" fill="#F8766D"/>
<rect x="282.4" y="442.9" width="14.3" height="61.1" fill="#00BA38"/>
<rect x="282.4" y="504.1" width="14.3" height="52.4" fill="#619CFF"/>
<text transform="translate(20.3 442) rotate(-90)" font-size="11" text-anchor="middle" fill="#000" >Percentage</text>
<text x="175.5" y="592.6" font-size="11" text-anchor="middle" fill="#000" >Cluster Number</text>
<rect x="310" y="370" width="15.7" height="15.5" fill="#F8766D"/>
<text x="332" y="380.8" font-size="8.5" text-anchor="start" fill="#000" >H</text>
<rect x="310" y="387.5" width="15.7" height="15.5" fill="#00BA38"/>
<text x="332" y="398.3" font-size="8.5" text-anchor="start" fill="#000" >N</text>
<rect x="310" y="405" width="15.7" height="15.5" fill="#619CFF"/>
<text x="332" y="415.8" font-size="8.5" text-anchor="start" fill="#000" >L</text>
<text transform="translate(1 627.6) scale(0.93 1)" font-size="15" font-weight="bold" fill="#000" stroke="#000" stroke-width="0.4">E</text>
<path d="M45.8 637.5V755.1H163" fill="none" stroke="#222" stroke-width="1"/>
<line x1="43.2" y1="749.2" x2="45.8" y2="749.2" stroke="#222" stroke-width="1"/>
<text x="41" y="752.7" font-size="9.7" text-anchor="end" fill="#000" >0.0</text>
<line x1="43.2" y1="726.8" x2="45.8" y2="726.8" stroke="#222" stroke-width="1"/>
<text x="41" y="730.2" font-size="9.7" text-anchor="end" fill="#000" >0.1</text>
<line x1="43.2" y1="704.2" x2="45.8" y2="704.2" stroke="#222" stroke-width="1"/>
<text x="41" y="707.7" font-size="9.7" text-anchor="end" fill="#000" >0.2</text>
<line x1="43.2" y1="681.8" x2="45.8" y2="681.8" stroke="#222" stroke-width="1"/>
<text x="41" y="685.2" font-size="9.7" text-anchor="end" fill="#000" >0.3</text>
<line x1="43.2" y1="659.2" x2="45.8" y2="659.2" stroke="#222" stroke-width="1"/>
<text x="41" y="662.7" font-size="9.7" text-anchor="end" fill="#000" >0.4</text>
<line x1="67" y1="755.1" x2="67" y2="757.6" stroke="#222" stroke-width="1"/>
<text x="67" y="766.5" font-size="9.7" text-anchor="middle" fill="#000" >H</text>
<line x1="103.8" y1="755.1" x2="103.8" y2="757.6" stroke="#222" stroke-width="1"/>
<text x="103.8" y="766.5" font-size="9.7" text-anchor="middle" fill="#000" >N</text>
<line x1="140.5" y1="755.1" x2="140.5" y2="757.6" stroke="#222" stroke-width="1"/>
<text x="140.5" y="766.5" font-size="9.7" text-anchor="middle" fill="#000" >L</text>
<text x="101.3" y="629.7" font-size="12" text-anchor="middle" fill="#000" >ECM Score</text>
<text transform="translate(23.3 696.3) rotate(-90)" font-size="11" text-anchor="middle" fill="#000" >Module score</text>
<path d="M67.0 740.2L66.9 738.6L66.8 736.9L66.8 735.3L66.7 733.6L66.5 732.0L66.3 730.3L66.1 728.7L65.7 727.0L65.2 725.4L64.4 723.7L63.5 722.0L62.5 720.4L61.5 718.7L60.4 717.1L59.2 715.4L58.1 713.8L56.9 712.1L55.7 710.5L54.6 708.8L53.5 707.1L52.6 705.5L51.7 703.8L51.0 702.2L50.5 700.5L50.2 698.9L50.1 697.2L50.1 695.6L50.4 693.9L50.8 692.3L51.5 690.6L52.5 688.9L53.6 687.3L54.8 685.6L56.0 684.0L57.3 682.3L58.6 680.7L59.7 679.0L60.9 677.4L61.9 675.7L62.9 674.0L63.8 672.4L64.6 670.7L65.2 669.1L65.7 667.4L66.1 665.8L66.3 664.1L66.4 662.5L66.4 660.8L66.5 659.2L66.6 657.5L66.7 655.8L66.7 654.2L66.8 652.5L66.8 650.9L66.9 649.2L66.9 647.6L66.9 645.9L67.0 644.3L67.0 642.6L67.0 642.6L67.0 644.3L67.1 645.9L67.1 647.6L67.1 649.2L67.2 650.9L67.2 652.5L67.3 654.2L67.3 655.8L67.4 657.5L67.5 659.2L67.6 660.8L67.6 662.5L67.7 664.1L67.9 665.8L68.3 667.4L68.8 669.1L69.4 670.7L70.2 672.4L71.1 674.0L72.1 675.7L73.1 677.4L74.3 679.0L75.4 680.7L76.7 682.3L78.0 684.0L79.2 685.6L80.4 687.3L81.5 688.9L82.5 690.6L83.2 692.3L83.6 693.9L83.9 695.6L83.9 697.2L83.8 698.9L83.5 700.5L83.0 702.2L82.3 703.8L81.4 705.5L80.5 707.1L79.4 708.8L78.3 710.5L77.1 712.1L75.9 713.8L74.8 715.4L73.6 717.1L72.5 718.7L71.5 720.4L70.5 722.0L69.6 723.7L68.8 725.4L68.3 727.0L67.9 728.7L67.7 730.3L67.5 732.0L67.3 733.6L67.2 735.3L67.2 736.9L67.1 738.6L67.0 740.2Z" fill="#F8766D" stroke="#222" stroke-width="0.75" stroke-linejoin="round"/>
<path d="M103.8 750.4L103.7 748.9L103.6 747.3L103.6 745.8L103.5 744.3L103.4 742.8L103.3 741.3L103.2 739.8L103.1 738.3L102.9 736.7L102.8 735.2L102.5 733.7L102.2 732.2L101.8 730.7L101.2 729.2L100.7 727.7L100.2 726.2L99.7 724.6L99.1 723.1L98.3 721.6L97.2 720.1L95.8 718.6L94.5 717.1L93.3 715.6L92.3 714.0L91.3 712.5L90.5 711.0L89.7 709.5L89.1 708.0L88.6 706.5L88.2 705.0L87.8 703.4L87.5 701.9L87.2 700.4L87.0 698.9L86.9 697.4L86.9 695.9L87.0 694.4L87.3 692.8L87.7 691.3L88.3 689.8L88.9 688.3L89.7 686.8L90.5 685.3L91.4 683.8L92.3 682.2L93.1 680.7L93.9 679.2L94.7 677.7L95.5 676.2L96.3 674.7L97.2 673.2L98.1 671.6L99.0 670.1L99.7 668.6L100.3 667.1L100.9 665.6L101.5 664.1L102.1 662.6L103.8 661.0L103.8 661.0L105.4 662.6L106.0 664.1L106.6 665.6L107.2 667.1L107.8 668.6L108.5 670.1L109.4 671.6L110.3 673.2L111.2 674.7L112.0 676.2L112.8 677.7L113.6 679.2L114.4 680.7L115.2 682.2L116.1 683.8L117.0 685.3L117.8 686.8L118.6 688.3L119.2 689.8L119.8 691.3L120.2 692.8L120.5 694.4L120.6 695.9L120.6 697.4L120.5 698.9L120.3 700.4L120.0 701.9L119.7 703.4L119.3 705.0L118.9 706.5L118.4 708.0L117.8 709.5L117.0 711.0L116.2 712.5L115.2 714.0L114.2 715.6L113.0 717.1L111.7 718.6L110.3 720.1L109.2 721.6L108.4 723.1L107.8 724.6L107.3 726.2L106.8 727.7L106.3 729.2L105.7 730.7L105.3 732.2L105.0 733.7L104.7 735.2L104.6 736.7L104.4 738.3L104.3 739.8L104.2 741.3L104.1 742.8L104.0 744.3L103.9 745.8L103.9 747.3L103.8 748.9L103.8 750.4Z" fill="#00BA38" stroke="#222" stroke-width="0.75" stroke-linejoin="round"/>
<path d="M140.5 741.4L140.4 739.7L140.4 738.1L140.3 736.5L140.3 734.8L140.1 733.2L139.9 731.6L139.6 729.9L139.2 728.3L138.8 726.7L138.2 725.1L137.6 723.4L136.8 721.8L136.0 720.2L135.2 718.5L134.2 716.9L133.2 715.3L132.3 713.6L131.3 712.0L130.4 710.4L129.5 708.7L128.6 707.1L127.9 705.5L127.2 703.8L126.5 702.2L125.9 700.6L125.3 698.9L124.8 697.3L124.3 695.7L123.9 694.0L123.7 692.4L123.6 690.8L123.6 689.1L123.7 687.5L124.0 685.9L124.6 684.2L125.4 682.6L126.6 681.0L128.2 679.4L129.4 677.7L130.2 676.1L130.9 674.5L131.4 672.8L131.8 671.2L132.4 669.6L133.1 667.9L133.9 666.3L134.9 664.7L136.1 663.0L137.2 661.4L138.1 659.8L138.9 658.1L139.5 656.5L139.8 654.9L139.9 653.2L140.1 651.6L140.2 650.0L140.3 648.3L140.4 646.7L140.5 645.1L140.5 645.1L140.6 646.7L140.7 648.3L140.8 650.0L140.9 651.6L141.1 653.2L141.2 654.9L141.5 656.5L142.1 658.1L142.9 659.8L143.8 661.4L144.9 663.0L146.1 664.7L147.1 666.3L147.9 667.9L148.6 669.6L149.2 671.2L149.6 672.8L150.1 674.5L150.8 676.1L151.6 677.7L152.8 679.4L154.4 681.0L155.6 682.6L156.4 684.2L157.0 685.9L157.3 687.5L157.4 689.1L157.4 690.8L157.3 692.4L157.1 694.0L156.7 695.7L156.2 697.3L155.7 698.9L155.1 700.6L154.5 702.2L153.8 703.8L153.1 705.5L152.4 707.1L151.5 708.7L150.6 710.4L149.7 712.0L148.7 713.6L147.8 715.3L146.8 716.9L145.8 718.5L145.0 720.2L144.2 721.8L143.4 723.4L142.8 725.1L142.2 726.7L141.8 728.3L141.4 729.9L141.1 731.6L140.9 733.2L140.7 734.8L140.7 736.5L140.6 738.1L140.6 739.7L140.5 741.4Z" fill="#619CFF" stroke="#222" stroke-width="0.75" stroke-linejoin="round"/>
<text transform="translate(185 627.3) scale(0.93 1)" font-size="15" font-weight="bold" fill="#000" stroke="#000" stroke-width="0.4">F</text>
<path d="M215.9 637.1V755.1H361.3" fill="none" stroke="#222" stroke-width="1"/>
<line x1="213.4" y1="749.4" x2="215.9" y2="749.4" stroke="#222" stroke-width="1"/>
<text x="211.2" y="752.9" font-size="9.7" text-anchor="end" fill="#000" >0.0</text>
<line x1="213.4" y1="726.8" x2="215.9" y2="726.8" stroke="#222" stroke-width="1"/>
<text x="211.2" y="730.3" font-size="9.7" text-anchor="end" fill="#000" >0.1</text>
<line x1="213.4" y1="704.2" x2="215.9" y2="704.2" stroke="#222" stroke-width="1"/>
<text x="211.2" y="707.7" font-size="9.7" text-anchor="end" fill="#000" >0.2</text>
<line x1="213.4" y1="681.7" x2="215.9" y2="681.7" stroke="#222" stroke-width="1"/>
<text x="211.2" y="685.2" font-size="9.7" text-anchor="end" fill="#000" >0.3</text>
<line x1="213.4" y1="659.1" x2="215.9" y2="659.1" stroke="#222" stroke-width="1"/>
<text x="211.2" y="662.6" font-size="9.7" text-anchor="end" fill="#000" >0.4</text>
<line x1="222.7" y1="755.1" x2="222.7" y2="757.6" stroke="#222" stroke-width="1"/>
<text x="222.7" y="768" font-size="10.7" text-anchor="middle" fill="#000" >0</text>
<line x1="234.6" y1="755.1" x2="234.6" y2="757.6" stroke="#222" stroke-width="1"/>
<text x="234.6" y="768" font-size="10.7" text-anchor="middle" fill="#000" >1</text>
<line x1="246.6" y1="755.1" x2="246.6" y2="757.6" stroke="#222" stroke-width="1"/>
<text x="246.6" y="768" font-size="10.7" text-anchor="middle" fill="#000" >2</text>
<line x1="258.5" y1="755.1" x2="258.5" y2="757.6" stroke="#222" stroke-width="1"/>
<text x="258.5" y="768" font-size="10.7" text-anchor="middle" fill="#000" >3</text>
<line x1="270.4" y1="755.1" x2="270.4" y2="757.6" stroke="#222" stroke-width="1"/>
<text x="270.4" y="768" font-size="10.7" text-anchor="middle" fill="#000" >4</text>
<line x1="282.3" y1="755.1" x2="282.3" y2="757.6" stroke="#222" stroke-width="1"/>
<text x="282.3" y="768" font-size="10.7" text-anchor="middle" fill="#000" >5</text>
<line x1="294.3" y1="755.1" x2="294.3" y2="757.6" stroke="#222" stroke-width="1"/>
<text x="294.3" y="768" font-size="10.7" text-anchor="middle" fill="#000" >6</text>
<line x1="306.2" y1="755.1" x2="306.2" y2="757.6" stroke="#222" stroke-width="1"/>
<text x="306.2" y="768" font-size="10.7" text-anchor="middle" fill="#000" >7</text>
<line x1="318.1" y1="755.1" x2="318.1" y2="757.6" stroke="#222" stroke-width="1"/>
<text x="318.1" y="768" font-size="10.7" text-anchor="middle" fill="#000" >8</text>
<line x1="330.1" y1="755.1" x2="330.1" y2="757.6" stroke="#222" stroke-width="1"/>
<text x="330.1" y="768" font-size="10.7" text-anchor="middle" fill="#000" >9</text>
<line x1="342" y1="755.1" x2="342" y2="757.6" stroke="#222" stroke-width="1"/>
<text x="342" y="768" font-size="10.7" text-anchor="middle" fill="#000" >10</text>
<line x1="353.9" y1="755.1" x2="353.9" y2="757.6" stroke="#222" stroke-width="1"/>
<text x="353.9" y="768" font-size="10.7" text-anchor="middle" fill="#000" >11</text>
<text x="287.9" y="628.5" font-size="12" text-anchor="middle" fill="#000" >ECM Score</text>
<text transform="translate(193.6 697) rotate(-90)" font-size="11" text-anchor="middle" fill="#000" >Module score</text>
<path d="M222.7 725.7L222.7 724.7L222.6 723.7L222.6 722.8L222.6 721.8L222.6 720.8L222.5 719.8L222.5 718.9L222.4 717.9L222.4 716.9L222.3 715.9L222.2 715.0L221.9 714.0L221.6 713.0L221.3 712.0L220.9 711.1L220.5 710.1L220.2 709.1L219.8 708.1L219.5 707.1L219.2 706.2L218.9 705.2L218.6 704.2L218.4 703.2L218.1 702.3L217.9 701.3L217.7 700.3L217.5 699.3L217.4 698.4L217.3 697.4L217.2 696.4L217.2 695.4L217.2 694.5L217.3 693.5L217.4 692.5L217.6 691.5L217.8 690.6L218.0 689.6L218.2 688.6L218.5 687.6L218.8 686.7L219.1 685.7L219.4 684.7L219.7 683.7L220.0 682.8L220.3 681.8L220.6 680.8L221.0 679.8L221.3 678.8L221.6 677.9L221.9 676.9L222.1 675.9L222.3 674.9L222.4 674.0L222.5 673.0L222.5 672.0L222.6 671.0L222.6 670.1L222.7 669.1L222.7 668.1L222.7 668.1L222.7 669.1L222.8 670.1L222.8 671.0L222.9 672.0L222.9 673.0L223.0 674.0L223.1 674.9L223.3 675.9L223.5 676.9L223.8 677.9L224.1 678.8L224.4 679.8L224.8 680.8L225.1 681.8L225.4 682.8L225.7 683.7L226.0 684.7L226.3 685.7L226.6 686.7L226.9 687.6L227.2 688.6L227.4 689.6L227.6 690.6L227.8 691.5L228.0 692.5L228.1 693.5L228.2 694.5L228.2 695.4L228.2 696.4L228.1 697.4L228.0 698.4L227.9 699.3L227.7 700.3L227.5 701.3L227.3 702.3L227.0 703.2L226.8 704.2L226.5 705.2L226.2 706.2L225.9 707.1L225.6 708.1L225.2 709.1L224.9 710.1L224.5 711.1L224.1 712.0L223.8 713.0L223.5 714.0L223.2 715.0L223.1 715.9L223.0 716.9L223.0 717.9L222.9 718.9L222.9 719.8L222.8 720.8L222.8 721.8L222.8 722.8L222.8 723.7L222.7 724.7L222.7 725.7Z" fill="#F8766D" stroke="#222" stroke-width="0.75" stroke-linejoin="round"/>
<path d="M234.6 731.3L234.6 730.4L234.5 729.4L234.4 728.4L234.3 727.4L234.1 726.4L233.9 725.4L233.5 724.5L233.1 723.5L232.7 722.5L232.3 721.5L231.9 720.5L231.5 719.5L231.2 718.5L230.9 717.6L230.6 716.6L230.3 715.6L230.0 714.6L229.8 713.6L229.6 712.6L229.4 711.7L229.3 710.7L229.2 709.7L229.1 708.7L229.2 707.7L229.2 706.7L229.4 705.8L229.5 704.8L229.7 703.8L229.9 702.8L230.2 701.8L230.5 700.8L230.8 699.9L231.1 698.9L231.3 697.9L231.6 696.9L232.0 695.9L232.3 694.9L232.6 694.0L233.0 693.0L233.3 692.0L233.6 691.0L233.9 690.0L234.1 689.0L234.2 688.1L234.3 687.1L234.4 686.1L234.4 685.1L234.4 684.1L234.4 683.1L234.5 682.2L234.5 681.2L234.5 680.2L234.5 679.2L234.6 678.2L234.6 677.2L234.6 676.3L234.6 675.3L234.6 674.3L234.6 673.3L234.6 673.3L234.6 674.3L234.7 675.3L234.7 676.3L234.7 677.2L234.7 678.2L234.7 679.2L234.7 680.2L234.8 681.2L234.8 682.2L234.8 683.1L234.8 684.1L234.9 685.1L234.9 686.1L234.9 687.1L235.0 688.1L235.2 689.0L235.4 690.0L235.6 691.0L235.9 692.0L236.3 693.0L236.6 694.0L237.0 694.9L237.3 695.9L237.6 696.9L237.9 697.9L238.2 698.9L238.5 699.9L238.8 700.8L239.1 701.8L239.4 702.8L239.6 703.8L239.8 704.8L239.9 705.8L240.0 706.7L240.1 707.7L240.1 708.7L240.1 709.7L240.0 710.7L239.9 711.7L239.7 712.6L239.5 713.6L239.3 714.6L239.0 715.6L238.7 716.6L238.4 717.6L238.1 718.5L237.8 719.5L237.4 720.5L237.0 721.5L236.5 722.5L236.1 723.5L235.7 724.5L235.4 725.4L235.1 726.4L235.0 727.4L234.8 728.4L234.8 729.4L234.7 730.4L234.6 731.3Z" fill="#DE8C00" stroke="#222" stroke-width="0.75" stroke-linejoin="round"/>
<path d="M246.3 710.6L246.3 709.4L246.3 708.3L246.2 707.1L246.0 706.0L245.8 704.8L245.5 703.7L245.2 702.5L244.8 701.4L244.4 700.2L244.0 699.1L243.6 697.9L243.3 696.8L243.0 695.6L242.7 694.5L242.4 693.3L242.1 692.2L241.9 691.0L241.7 689.9L241.5 688.7L241.3 687.6L241.2 686.5L241.1 685.3L241.1 684.2L241.1 683.0L241.2 681.9L241.4 680.7L241.6 679.6L241.9 678.4L242.3 677.3L242.6 676.1L243.0 675.0L243.4 673.8L243.8 672.7L244.3 671.5L244.7 670.4L245.1 669.2L245.5 668.1L245.9 666.9L246.1 665.8L246.3 664.6L246.4 663.5L246.4 662.3L246.4 661.2L246.4 660.0L246.4 658.9L246.4 657.7L246.4 656.6L246.4 655.5L246.4 654.3L246.5 653.2L246.5 652.0L246.5 650.9L246.5 649.7L246.5 648.6L246.5 647.4L246.5 646.3L246.5 645.1L246.5 644.0L246.6 642.8L246.6 642.8L246.6 644.0L246.6 645.1L246.6 646.3L246.6 647.4L246.6 648.6L246.6 649.7L246.6 650.9L246.7 652.0L246.7 653.2L246.7 654.3L246.7 655.5L246.7 656.6L246.8 657.7L246.8 658.9L246.7 660.0L246.7 661.2L246.7 662.3L246.7 663.5L246.8 664.6L247.0 665.8L247.2 666.9L247.6 668.1L248.0 669.2L248.4 670.4L248.9 671.5L249.3 672.7L249.7 673.8L250.1 675.0L250.5 676.1L250.9 677.3L251.2 678.4L251.5 679.6L251.7 680.7L251.9 681.9L252.0 683.0L252.1 684.2L252.0 685.3L251.9 686.5L251.8 687.6L251.6 688.7L251.4 689.9L251.2 691.0L251.0 692.2L250.7 693.3L250.4 694.5L250.1 695.6L249.9 696.8L249.5 697.9L249.1 699.1L248.7 700.2L248.3 701.4L248.0 702.5L247.6 703.7L247.3 704.8L247.1 706.0L246.9 707.1L246.8 708.3L246.8 709.4L246.8 710.6Z" fill="#B79F00" stroke="#222" stroke-width="0.75" stroke-linejoin="round"/>
<path d="M258.5 720.5L258.4 719.6L258.4 718.6L258.3 717.7L258.2 716.8L258.1 715.9L257.9 714.9L257.7 714.0L257.5 713.1L257.2 712.2L256.9 711.2L256.6 710.3L256.2 709.4L255.9 708.5L255.6 707.5L255.3 706.6L255.0 705.7L254.8 704.8L254.5 703.8L254.3 702.9L254.1 702.0L253.9 701.0L253.7 700.1L253.5 699.2L253.4 698.3L253.2 697.3L253.1 696.4L253.0 695.5L253.0 694.6L253.0 693.6L253.1 692.7L253.1 691.8L253.3 690.9L253.4 689.9L253.6 689.0L253.9 688.1L254.1 687.2L254.4 686.2L254.7 685.3L255.0 684.4L255.3 683.5L255.6 682.5L256.0 681.6L256.3 680.7L256.6 679.7L257.0 678.8L257.3 677.9L257.6 677.0L257.8 676.0L258.0 675.1L258.1 674.2L258.2 673.3L258.3 672.3L258.3 671.4L258.4 670.5L258.4 669.6L258.4 668.6L258.4 667.7L258.5 666.8L258.5 665.9L258.5 665.9L258.5 666.8L258.5 667.7L258.6 668.6L258.6 669.6L258.6 670.5L258.7 671.4L258.7 672.3L258.8 673.3L258.8 674.2L259.0 675.1L259.1 676.0L259.4 677.0L259.7 677.9L260.0 678.8L260.3 679.7L260.7 680.7L261.0 681.6L261.4 682.5L261.7 683.5L261.9 684.4L262.2 685.3L262.5 686.2L262.8 687.2L263.1 688.1L263.4 689.0L263.6 689.9L263.7 690.9L263.8 691.8L263.9 692.7L264.0 693.6L264.0 694.6L263.9 695.5L263.9 696.4L263.7 697.3L263.6 698.3L263.5 699.2L263.3 700.1L263.1 701.0L262.9 702.0L262.7 702.9L262.4 703.8L262.2 704.8L262.0 705.7L261.7 706.6L261.4 707.5L261.1 708.5L260.8 709.4L260.4 710.3L260.1 711.2L259.8 712.2L259.5 713.1L259.2 714.0L259.0 714.9L258.9 715.9L258.8 716.8L258.7 717.7L258.6 718.6L258.5 719.6L258.5 720.5Z" fill="#7CAE00" stroke="#222" stroke-width="0.75" stroke-linejoin="round"/>
<path d="M270.4 730.9L270.4 730.0L270.3 729.2L270.3 728.3L270.3 727.4L270.2 726.6L270.1 725.7L270.0 724.9L269.9 724.0L269.7 723.1L269.4 722.3L269.1 721.4L268.8 720.6L268.4 719.7L268.0 718.8L267.7 718.0L267.4 717.1L267.1 716.2L266.8 715.4L266.6 714.5L266.3 713.7L266.1 712.8L265.8 711.9L265.6 711.1L265.5 710.2L265.3 709.4L265.2 708.5L265.0 707.6L265.0 706.8L264.9 705.9L264.9 705.1L265.0 704.2L265.1 703.3L265.2 702.5L265.4 701.6L265.6 700.7L265.9 699.9L266.2 699.0L266.5 698.2L266.8 697.3L267.1 696.4L267.4 695.6L267.8 694.7L268.1 693.9L268.5 693.0L268.8 692.1L269.2 691.3L269.5 690.4L269.7 689.6L269.9 688.7L270.1 687.8L270.1 687.0L270.2 686.1L270.2 685.2L270.3 684.4L270.3 683.5L270.3 682.7L270.4 681.8L270.4 680.9L270.4 680.1L270.4 680.1L270.4 680.9L270.5 681.8L270.5 682.7L270.5 683.5L270.6 684.4L270.6 685.2L270.6 686.1L270.7 687.0L270.8 687.8L270.9 688.7L271.1 689.6L271.4 690.4L271.7 691.3L272.0 692.1L272.4 693.0L272.7 693.9L273.1 694.7L273.4 695.6L273.7 696.4L274.0 697.3L274.3 698.2L274.6 699.0L274.9 699.9L275.2 700.7L275.4 701.6L275.6 702.5L275.7 703.3L275.8 704.2L275.9 705.1L275.9 705.9L275.9 706.8L275.8 707.6L275.7 708.5L275.5 709.4L275.4 710.2L275.2 711.1L275.0 711.9L274.8 712.8L274.5 713.7L274.3 714.5L274.0 715.4L273.8 716.2L273.5 717.1L273.1 718.0L272.8 718.8L272.4 719.7L272.1 720.6L271.8 721.4L271.4 722.3L271.2 723.1L271.0 724.0L270.8 724.9L270.7 725.7L270.7 726.6L270.6 727.4L270.5 728.3L270.5 729.2L270.5 730.0L270.4 730.9Z" fill="#00BA38" stroke="#222" stroke-width="0.75" stroke-linejoin="round"/>
<path d="M282.3 736.5L282.3 735.2L282.3 733.9L282.3 732.7L282.3 731.4L282.3 730.1L282.2 728.8L282.2 727.5L282.2 726.2L282.2 724.9L282.2 723.6L282.1 722.3L282.2 721.1L282.2 719.8L282.1 718.5L282.1 717.2L282.0 715.9L281.7 714.6L281.4 713.3L281.1 712.0L280.6 710.7L280.2 709.4L279.8 708.2L279.4 706.9L279.0 705.6L278.7 704.3L278.3 703.0L278.0 701.7L277.8 700.4L277.5 699.1L277.3 697.8L277.1 696.5L277.0 695.3L276.9 694.0L276.9 692.7L276.9 691.4L277.1 690.1L277.2 688.8L277.5 687.5L277.8 686.2L278.2 684.9L278.6 683.7L279.0 682.4L279.4 681.1L279.8 679.8L280.2 678.5L280.7 677.2L281.1 675.9L281.5 674.6L281.8 673.3L282.0 672.0L282.1 670.8L282.1 669.5L282.2 668.2L282.2 666.9L282.3 665.6L282.3 664.3L282.3 663.0L282.3 661.7L282.3 660.4L282.3 660.4L282.4 661.7L282.4 663.0L282.4 664.3L282.4 665.6L282.5 666.9L282.5 668.2L282.6 669.5L282.6 670.8L282.7 672.0L282.9 673.3L283.2 674.6L283.6 675.9L284.0 677.2L284.5 678.5L284.9 679.8L285.3 681.1L285.7 682.4L286.1 683.7L286.5 684.9L286.9 686.2L287.2 687.5L287.5 688.8L287.6 690.1L287.8 691.4L287.8 692.7L287.8 694.0L287.7 695.3L287.6 696.5L287.4 697.8L287.2 699.1L286.9 700.4L286.7 701.7L286.4 703.0L286.0 704.3L285.7 705.6L285.3 706.9L284.9 708.2L284.5 709.4L284.1 710.7L283.6 712.0L283.3 713.3L283.0 714.6L282.7 715.9L282.6 717.2L282.6 718.5L282.5 719.8L282.5 721.1L282.6 722.3L282.5 723.6L282.5 724.9L282.5 726.2L282.5 727.5L282.5 728.8L282.4 730.1L282.4 731.4L282.4 732.7L282.4 733.9L282.4 735.2L282.3 736.5Z" fill="#00C08B" stroke="#222" stroke-width="0.75" stroke-linejoin="round"/>
<path d="M294.0 720.7L294.0 719.5L293.9 718.3L293.7 717.0L293.4 715.8L293.0 714.5L292.6 713.3L292.2 712.1L291.8 710.8L291.4 709.6L291.0 708.4L290.7 707.1L290.4 705.9L290.1 704.7L289.8 703.4L289.5 702.2L289.3 700.9L289.1 699.7L289.0 698.5L288.8 697.2L288.8 696.0L288.8 694.8L288.9 693.5L289.0 692.3L289.2 691.1L289.5 689.8L289.8 688.6L290.2 687.3L290.5 686.1L290.9 684.9L291.3 683.6L291.6 682.4L292.1 681.2L292.5 679.9L292.9 678.7L293.3 677.5L293.6 676.2L293.8 675.0L294.0 673.7L294.1 672.5L294.1 671.3L294.1 670.0L294.1 668.8L294.1 667.6L294.1 666.3L294.1 665.1L294.1 663.9L294.1 662.6L294.2 661.4L294.2 660.2L294.2 658.9L294.2 657.7L294.2 656.4L294.2 655.2L294.2 654.0L294.2 652.7L294.2 651.5L294.3 650.3L294.3 649.0L294.3 647.8L294.3 647.8L294.3 649.0L294.3 650.3L294.3 651.5L294.3 652.7L294.3 654.0L294.3 655.2L294.4 656.4L294.4 657.7L294.4 658.9L294.4 660.2L294.4 661.4L294.4 662.6L294.4 663.9L294.5 665.1L294.5 666.3L294.5 667.6L294.4 668.8L294.4 670.0L294.4 671.3L294.5 672.5L294.6 673.7L294.7 675.0L295.0 676.2L295.3 677.5L295.7 678.7L296.1 679.9L296.5 681.2L296.9 682.4L297.3 683.6L297.7 684.9L298.0 686.1L298.4 687.3L298.7 688.6L299.1 689.8L299.3 691.1L299.5 692.3L299.7 693.5L299.8 694.8L299.8 696.0L299.7 697.2L299.6 698.5L299.4 699.7L299.3 700.9L299.0 702.2L298.8 703.4L298.5 704.7L298.2 705.9L297.9 707.1L297.5 708.4L297.2 709.6L296.8 710.8L296.3 712.1L295.9 713.3L295.5 714.5L295.2 715.8L294.9 717.0L294.6 718.3L294.5 719.5L294.6 720.7Z" fill="#00BFC4" stroke="#222" stroke-width="0.75" stroke-linejoin="round"/>
<path d="M305.9 750.1L305.9 748.9L306.0 747.7L305.9 746.5L305.8 745.3L305.7 744.1L305.5 743.0L305.2 741.8L305.0 740.6L304.7 739.4L304.3 738.2L304.0 737.0L303.7 735.8L303.3 734.7L303.0 733.5L302.8 732.3L302.5 731.1L302.3 729.9L302.1 728.7L301.8 727.5L301.6 726.3L301.4 725.2L301.3 724.0L301.1 722.8L301.0 721.6L300.9 720.4L300.8 719.2L300.7 718.0L300.7 716.9L300.8 715.7L300.8 714.5L301.0 713.3L301.1 712.1L301.3 710.9L301.6 709.7L301.8 708.6L302.1 707.4L302.4 706.2L302.7 705.0L303.0 703.8L303.3 702.6L303.7 701.4L304.0 700.2L304.4 699.1L304.7 697.9L305.0 696.7L305.3 695.5L305.6 694.3L305.7 693.1L305.9 691.9L305.9 690.8L306.0 689.6L306.0 688.4L306.1 687.2L306.1 686.0L306.1 684.8L306.1 683.6L306.2 682.5L306.2 681.3L306.2 680.1L306.2 680.1L306.2 681.3L306.3 682.5L306.3 683.6L306.3 684.8L306.3 686.0L306.4 687.2L306.4 688.4L306.4 689.6L306.5 690.8L306.6 691.9L306.7 693.1L306.9 694.3L307.1 695.5L307.4 696.7L307.7 697.9L308.1 699.1L308.4 700.2L308.8 701.4L309.1 702.6L309.4 703.8L309.7 705.0L310.0 706.2L310.3 707.4L310.6 708.6L310.9 709.7L311.1 710.9L311.3 712.1L311.5 713.3L311.6 714.5L311.7 715.7L311.7 716.9L311.7 718.0L311.6 719.2L311.6 720.4L311.4 721.6L311.3 722.8L311.2 724.0L311.0 725.2L310.8 726.3L310.6 727.5L310.4 728.7L310.1 729.9L309.9 731.1L309.6 732.3L309.4 733.5L309.1 734.7L308.8 735.8L308.4 737.0L308.1 738.2L307.8 739.4L307.5 740.6L307.2 741.8L306.9 743.0L306.7 744.1L306.6 745.3L306.5 746.5L306.5 747.7L306.5 748.9L306.5 750.1Z" fill="#00B4F0" stroke="#222" stroke-width="0.75" stroke-linejoin="round"/>
<path d="M318.1 720.0L318.1 719.3L318.1 718.5L318.0 717.8L318.0 717.0L318.0 716.3L317.9 715.5L317.9 714.8L317.8 714.0L317.7 713.3L317.6 712.5L317.4 711.8L317.2 711.0L317.0 710.2L316.8 709.5L316.5 708.7L316.2 708.0L316.0 707.2L315.7 706.5L315.4 705.7L315.2 705.0L315.0 704.2L314.7 703.5L314.5 702.7L314.4 702.0L314.2 701.2L314.0 700.4L313.8 699.7L313.6 698.9L313.5 698.2L313.3 697.4L313.2 696.7L313.0 695.9L312.9 695.2L312.8 694.4L312.7 693.7L312.7 692.9L312.6 692.2L312.6 691.4L312.7 690.6L312.8 689.9L312.9 689.1L313.0 688.4L313.2 687.6L313.4 686.9L313.7 686.1L314.0 685.4L314.4 684.6L314.6 683.9L314.9 683.1L315.1 682.3L315.3 681.6L315.5 680.8L315.7 680.1L315.8 679.3L316.0 678.6L316.1 677.8L316.2 677.1L316.2 676.3L316.2 675.6L320.1 675.6L320.1 676.3L320.1 677.1L320.2 677.8L320.3 678.6L320.4 679.3L320.6 680.1L320.8 680.8L321.0 681.6L321.2 682.3L321.4 683.1L321.6 683.9L321.9 684.6L322.2 685.4L322.5 686.1L322.8 686.9L323.1 687.6L323.3 688.4L323.4 689.1L323.5 689.9L323.6 690.6L323.6 691.4L323.6 692.2L323.6 692.9L323.5 693.7L323.4 694.4L323.3 695.2L323.2 695.9L323.1 696.7L323.0 697.4L322.8 698.2L322.7 698.9L322.5 699.7L322.3 700.4L322.1 701.2L321.9 702.0L321.7 702.7L321.5 703.5L321.3 704.2L321.1 705.0L320.8 705.7L320.6 706.5L320.3 707.2L320.0 708.0L319.8 708.7L319.5 709.5L319.3 710.2L319.1 711.0L318.9 711.8L318.7 712.5L318.6 713.3L318.5 714.0L318.4 714.8L318.4 715.5L318.3 716.3L318.3 717.0L318.2 717.8L318.2 718.5L318.2 719.3L318.1 720.0Z" fill="#619CFF" stroke="#222" stroke-width="0.75" stroke-linejoin="round"/>
<path d="M327.6 707.2L327.6 706.1L327.6 705.1L327.5 704.0L327.5 703.0L327.5 702.0L327.4 700.9L327.3 699.9L327.2 698.8L327.1 697.8L327.0 696.7L326.9 695.7L326.8 694.6L326.6 693.6L326.5 692.5L326.3 691.5L326.1 690.5L325.9 689.4L325.7 688.4L325.5 687.3L325.3 686.3L325.1 685.2L325.0 684.2L324.9 683.1L324.7 682.1L324.6 681.1L324.6 680.0L324.6 679.0L324.6 677.9L324.7 676.9L324.8 675.8L324.9 674.8L325.1 673.7L325.4 672.7L325.7 671.7L326.0 670.6L326.3 669.6L326.7 668.5L327.0 667.5L327.3 666.4L327.7 665.4L328.1 664.3L328.5 663.3L328.8 662.2L329.2 661.2L329.4 660.2L329.6 659.1L329.7 658.1L329.8 657.0L329.8 656.0L329.9 654.9L329.9 653.9L329.9 652.8L330.0 651.8L330.0 650.8L330.0 649.7L330.0 648.7L330.0 647.6L330.0 646.6L330.1 645.5L330.1 645.5L330.1 646.6L330.1 647.6L330.1 648.7L330.1 649.7L330.2 650.8L330.2 651.8L330.2 652.8L330.2 653.9L330.3 654.9L330.3 656.0L330.3 657.0L330.4 658.1L330.5 659.1L330.7 660.2L331.0 661.2L331.3 662.2L331.7 663.3L332.0 664.3L332.4 665.4L332.8 666.4L333.2 667.5L333.5 668.5L333.8 669.6L334.1 670.6L334.5 671.7L334.8 672.7L335.0 673.7L335.2 674.8L335.4 675.8L335.5 676.9L335.5 677.9L335.6 679.0L335.6 680.0L335.5 681.1L335.4 682.1L335.3 683.1L335.2 684.2L335.0 685.2L334.9 686.3L334.7 687.3L334.5 688.4L334.3 689.4L334.1 690.5L333.9 691.5L333.7 692.5L333.5 693.6L333.4 694.6L333.3 695.7L333.1 696.7L333.0 697.8L332.9 698.8L332.8 699.9L332.8 700.9L332.7 702.0L332.6 703.0L332.6 704.0L332.6 705.1L332.5 706.1L332.5 707.2Z" fill="#C77CFF" stroke="#222" stroke-width="0.75" stroke-linejoin="round"/>
<path d="M340.1 725.0L340.1 723.9L340.1 722.9L340.0 721.8L339.9 720.8L339.8 719.7L339.7 718.6L339.6 717.6L339.4 716.5L339.2 715.4L339.1 714.4L338.9 713.3L338.7 712.2L338.5 711.2L338.3 710.1L338.1 709.1L337.9 708.0L337.7 706.9L337.5 705.9L337.3 704.8L337.1 703.7L336.9 702.7L336.8 701.6L336.7 700.5L336.6 699.5L336.5 698.4L336.5 697.4L336.5 696.3L336.6 695.2L336.7 694.2L336.8 693.1L337.0 692.0L337.2 691.0L337.4 689.9L337.7 688.8L338.0 687.8L338.3 686.7L338.6 685.6L338.9 684.6L339.2 683.5L339.5 682.5L339.9 681.4L340.2 680.3L340.5 679.3L340.9 678.2L341.1 677.1L341.4 676.1L341.5 675.0L341.7 673.9L341.7 672.9L341.8 671.8L341.8 670.8L341.8 669.7L341.9 668.6L341.9 667.6L341.9 666.5L341.9 665.4L342.0 664.4L342.0 663.3L342.0 662.2L342.0 662.2L342.0 663.3L342.0 664.4L342.1 665.4L342.1 666.5L342.1 667.6L342.1 668.6L342.2 669.7L342.2 670.8L342.2 671.8L342.3 672.9L342.3 673.9L342.5 675.0L342.6 676.1L342.9 677.1L343.1 678.2L343.5 679.3L343.8 680.3L344.1 681.4L344.5 682.5L344.8 683.5L345.1 684.6L345.4 685.6L345.7 686.7L346.0 687.8L346.3 688.8L346.6 689.9L346.8 691.0L347.0 692.0L347.2 693.1L347.3 694.2L347.4 695.2L347.5 696.3L347.5 697.4L347.5 698.4L347.4 699.5L347.3 700.5L347.2 701.6L347.1 702.7L346.9 703.7L346.7 704.8L346.5 705.9L346.3 706.9L346.1 708.0L345.9 709.1L345.7 710.1L345.5 711.2L345.3 712.2L345.1 713.3L344.9 714.4L344.8 715.4L344.6 716.5L344.4 717.6L344.3 718.6L344.2 719.7L344.1 720.8L344.0 721.8L343.9 722.9L343.9 723.9L343.9 725.0Z" fill="#F564E3" stroke="#222" stroke-width="0.75" stroke-linejoin="round"/>
<path d="M353.9 747.1L353.9 746.2L353.9 745.2L353.9 744.2L353.9 743.2L353.8 742.2L353.8 741.2L353.8 740.3L353.8 739.3L353.8 738.3L353.7 737.3L353.7 736.3L353.7 735.3L353.7 734.4L353.7 733.4L353.6 732.4L353.5 731.4L353.3 730.4L353.0 729.4L352.6 728.5L352.2 727.5L351.8 726.5L351.4 725.5L351.0 724.5L350.6 723.5L350.3 722.6L350.0 721.6L349.7 720.6L349.4 719.6L349.2 718.6L349.0 717.6L348.8 716.7L348.6 715.7L348.5 714.7L348.4 713.7L348.5 712.7L348.5 711.7L348.7 710.7L348.9 709.8L349.2 708.8L349.5 707.8L349.9 706.8L350.3 705.8L350.6 704.8L351.0 703.9L351.4 702.9L351.9 701.9L352.3 700.9L352.8 699.9L353.1 698.9L353.4 698.0L353.6 697.0L353.7 696.0L353.7 695.0L353.8 694.0L353.8 693.0L353.8 692.1L353.9 691.1L353.9 690.1L353.9 689.1L353.9 689.1L354.0 690.1L354.0 691.1L354.0 692.1L354.0 693.0L354.1 694.0L354.2 695.0L354.2 696.0L354.3 697.0L354.5 698.0L354.7 698.9L355.1 699.9L355.5 700.9L356.0 701.9L356.4 702.9L356.8 703.9L357.2 704.8L357.6 705.8L358.0 706.8L358.4 707.8L358.7 708.8L359.0 709.8L359.2 710.7L359.3 711.7L359.4 712.7L359.4 713.7L359.4 714.7L359.2 715.7L359.1 716.7L358.9 717.6L358.7 718.6L358.4 719.6L358.2 720.6L357.9 721.6L357.5 722.6L357.2 723.5L356.9 724.5L356.5 725.5L356.1 726.5L355.6 727.5L355.2 728.5L354.9 729.4L354.6 730.4L354.4 731.4L354.2 732.4L354.2 733.4L354.1 734.4L354.1 735.3L354.1 736.3L354.1 737.3L354.1 738.3L354.1 739.3L354.1 740.3L354.0 741.2L354.0 742.2L354.0 743.2L354.0 744.2L354.0 745.2L353.9 746.2L353.9 747.1Z" fill="#FF64B0" stroke="#222" stroke-width="0.75" stroke-linejoin="round"/>
<text transform="translate(369.5 798.4) scale(0.93 1)" font-size="15" font-weight="bold" fill="#000" stroke="#000" stroke-width="0.4">H</text>
<path d="M409.3 804V964.8H601.3" fill="none" stroke="#222" stroke-width="1"/>
<line x1="406.3" y1="924.9" x2="409.3" y2="924.9" stroke="#222" stroke-width="1"/>
<text x="403.7" y="928.5" font-size="10" text-anchor="end" fill="#000" >0.0</text>
<line x1="406.3" y1="870.7" x2="409.3" y2="870.7" stroke="#222" stroke-width="1"/>
<text x="403.7" y="874.3" font-size="10" text-anchor="end" fill="#000" >0.2</text>
<line x1="406.3" y1="816.4" x2="409.3" y2="816.4" stroke="#222" stroke-width="1"/>
<text x="403.7" y="820" font-size="10" text-anchor="end" fill="#000" >0.4</text>
<line x1="418.5" y1="964.8" x2="418.5" y2="967.8" stroke="#222" stroke-width="1"/>
<text x="418.5" y="977.5" font-size="10" text-anchor="middle" fill="#000" >0</text>
<line x1="434.2" y1="964.8" x2="434.2" y2="967.8" stroke="#222" stroke-width="1"/>
<text x="434.2" y="977.5" font-size="10" text-anchor="middle" fill="#000" >1</text>
<line x1="450" y1="964.8" x2="450" y2="967.8" stroke="#222" stroke-width="1"/>
<text x="450" y="977.5" font-size="10" text-anchor="middle" fill="#000" >2</text>
<line x1="465.7" y1="964.8" x2="465.7" y2="967.8" stroke="#222" stroke-width="1"/>
<text x="465.7" y="977.5" font-size="10" text-anchor="middle" fill="#000" >3</text>
<line x1="481.4" y1="964.8" x2="481.4" y2="967.8" stroke="#222" stroke-width="1"/>
<text x="481.4" y="977.5" font-size="10" text-anchor="middle" fill="#000" >4</text>
<line x1="497.1" y1="964.8" x2="497.1" y2="967.8" stroke="#222" stroke-width="1"/>
<text x="497.1" y="977.5" font-size="10" text-anchor="middle" fill="#000" >5</text>
<line x1="512.9" y1="964.8" x2="512.9" y2="967.8" stroke="#222" stroke-width="1"/>
<text x="512.9" y="977.5" font-size="10" text-anchor="middle" fill="#000" >6</text>
<line x1="528.6" y1="964.8" x2="528.6" y2="967.8" stroke="#222" stroke-width="1"/>
<text x="528.6" y="977.5" font-size="10" text-anchor="middle" fill="#000" >7</text>
<line x1="544.3" y1="964.8" x2="544.3" y2="967.8" stroke="#222" stroke-width="1"/>
<text x="544.3" y="977.5" font-size="10" text-anchor="middle" fill="#000" >8</text>
<line x1="560.1" y1="964.8" x2="560.1" y2="967.8" stroke="#222" stroke-width="1"/>
<text x="560.1" y="977.5" font-size="10" text-anchor="middle" fill="#000" >9</text>
<line x1="575.8" y1="964.8" x2="575.8" y2="967.8" stroke="#222" stroke-width="1"/>
<text x="575.8" y="977.5" font-size="10" text-anchor="middle" fill="#000" >10</text>
<line x1="591.5" y1="964.8" x2="591.5" y2="967.8" stroke="#222" stroke-width="1"/>
<text x="591.5" y="977.5" font-size="10" text-anchor="middle" fill="#000" >11</text>
<text x="504.1" y="807.2" font-size="11.7" text-anchor="middle" fill="#000" >IFNG Score</text>
<text transform="translate(384.2 885) rotate(-90)" font-size="11.7" text-anchor="middle" fill="#000" >Module Score</text>
<path d="M418.5 950.9L418.4 949.9L418.2 948.9L417.9 947.9L417.5 946.9L416.9 945.9L416.2 944.9L415.4 943.9L414.7 942.9L414.1 941.9L413.6 940.9L413.0 939.9L412.6 938.9L412.1 937.8L411.8 936.8L411.5 935.8L411.4 934.8L411.3 933.8L411.4 932.8L411.5 931.8L411.8 930.8L412.0 929.8L412.4 928.8L412.8 927.8L413.3 926.8L413.8 925.8L414.2 924.8L414.7 923.8L415.2 922.7L415.7 921.7L416.3 920.7L416.8 919.7L417.2 918.7L417.6 917.7L417.9 916.7L418.1 915.7L418.3 914.7L418.3 913.7L418.3 912.7L418.3 911.7L418.3 910.7L418.3 909.7L418.2 908.7L418.3 907.6L418.3 906.6L418.3 905.6L418.3 904.6L418.3 903.6L418.4 902.6L418.4 901.6L418.4 900.6L418.4 899.6L418.4 898.6L418.4 897.6L418.4 896.6L418.4 895.6L418.5 894.6L418.5 893.6L418.5 892.5L418.5 891.5L418.5 891.5L418.5 892.5L418.5 893.6L418.5 894.6L418.6 895.6L418.6 896.6L418.6 897.6L418.6 898.6L418.6 899.6L418.6 900.6L418.6 901.6L418.6 902.6L418.7 903.6L418.7 904.6L418.7 905.6L418.7 906.6L418.7 907.6L418.8 908.7L418.7 909.7L418.7 910.7L418.7 911.7L418.7 912.7L418.7 913.7L418.7 914.7L418.9 915.7L419.1 916.7L419.4 917.7L419.8 918.7L420.2 919.7L420.7 920.7L421.3 921.7L421.8 922.7L422.3 923.8L422.8 924.8L423.2 925.8L423.7 926.8L424.2 927.8L424.6 928.8L425.0 929.8L425.2 930.8L425.5 931.8L425.6 932.8L425.7 933.8L425.6 934.8L425.5 935.8L425.2 936.8L424.9 937.8L424.4 938.9L424.0 939.9L423.4 940.9L422.9 941.9L422.3 942.9L421.6 943.9L420.8 944.9L420.1 945.9L419.5 946.9L419.1 947.9L418.8 948.9L418.6 949.9L418.5 950.9Z" fill="#F8766D" stroke="#222" stroke-width="0.75" stroke-linejoin="round"/>
<path d="M434.2 945.2L434.1 943.9L433.9 942.5L433.6 941.1L433.2 939.8L432.6 938.4L431.8 937.0L431.1 935.7L430.4 934.3L429.7 932.9L429.2 931.5L428.6 930.2L428.1 928.8L427.7 927.4L427.4 926.1L427.2 924.7L427.0 923.3L427.1 922.0L427.3 920.6L427.6 919.2L428.1 917.8L428.7 916.5L429.4 915.1L430.0 913.7L430.6 912.4L431.3 911.0L432.0 909.6L432.7 908.3L433.3 906.9L433.8 905.5L434.1 904.1L434.2 902.8L434.2 901.4L434.2 900.0L434.2 898.7L434.2 897.3L434.2 895.9L434.1 894.6L434.0 893.2L434.0 891.8L434.0 890.4L434.0 889.1L434.0 887.7L434.1 886.3L434.1 885.0L434.1 883.6L434.1 882.2L434.1 880.9L434.1 879.5L434.1 878.1L434.1 876.8L434.1 875.4L434.2 874.0L434.2 872.6L434.2 871.3L434.2 869.9L434.2 868.5L434.2 867.2L434.2 865.8L434.2 864.4L434.2 864.4L434.2 865.8L434.3 867.2L434.3 868.5L434.3 869.9L434.3 871.3L434.3 872.6L434.3 874.0L434.3 875.4L434.3 876.8L434.3 878.1L434.3 879.5L434.4 880.9L434.4 882.2L434.4 883.6L434.4 885.0L434.4 886.3L434.4 887.7L434.4 889.1L434.5 890.4L434.5 891.8L434.5 893.2L434.4 894.6L434.3 895.9L434.2 897.3L434.2 898.7L434.2 900.0L434.2 901.4L434.2 902.8L434.4 904.1L434.7 905.5L435.1 906.9L435.7 908.3L436.4 909.6L437.1 911.0L437.8 912.4L438.5 913.7L439.1 915.1L439.8 916.5L440.4 917.8L440.8 919.2L441.2 920.6L441.4 922.0L441.4 923.3L441.3 924.7L441.0 926.1L440.7 927.4L440.3 928.8L439.8 930.2L439.3 931.5L438.7 932.9L438.1 934.3L437.4 935.7L436.6 937.0L435.9 938.4L435.3 939.8L434.8 941.1L434.5 942.5L434.4 943.9L434.2 945.2Z" fill="#DE8C00" stroke="#222" stroke-width="0.75" stroke-linejoin="round"/>
<path d="M450.0 957.2L449.9 955.8L449.8 954.4L449.7 953.0L449.7 951.6L449.6 950.2L449.2 948.8L448.4 947.4L447.4 946.0L446.3 944.6L445.4 943.2L444.7 941.8L443.9 940.4L443.4 939.0L443.0 937.6L442.8 936.2L442.8 934.8L443.1 933.4L443.6 932.0L444.2 930.6L445.0 929.2L445.7 927.8L446.4 926.4L447.2 925.0L448.0 923.6L448.8 922.2L449.4 920.8L449.8 919.4L450.0 918.0L450.0 916.6L450.0 915.3L450.0 913.9L450.0 912.5L450.0 911.1L450.0 909.7L449.9 908.3L449.8 906.9L449.7 905.5L449.7 904.1L449.7 902.7L449.8 901.3L449.8 899.9L449.8 898.5L449.8 897.1L449.8 895.7L449.8 894.3L449.8 892.9L449.9 891.5L449.9 890.1L449.9 888.7L449.9 887.3L449.9 885.9L449.9 884.5L449.9 883.1L449.9 881.7L449.9 880.3L449.9 878.9L449.9 877.5L449.9 876.1L450.0 874.7L450.0 874.7L450.0 876.1L450.0 877.5L450.0 878.9L450.0 880.3L450.0 881.7L450.0 883.1L450.0 884.5L450.0 885.9L450.0 887.3L450.1 888.7L450.1 890.1L450.1 891.5L450.1 892.9L450.1 894.3L450.1 895.7L450.1 897.1L450.1 898.5L450.1 899.9L450.2 901.3L450.2 902.7L450.2 904.1L450.2 905.5L450.2 906.9L450.1 908.3L450.0 909.7L450.0 911.1L450.0 912.5L450.0 913.9L450.0 915.3L450.0 916.6L450.0 918.0L450.1 919.4L450.5 920.8L451.1 922.2L451.9 923.6L452.7 925.0L453.5 926.4L454.2 927.8L455.0 929.2L455.7 930.6L456.3 932.0L456.8 933.4L457.1 934.8L457.2 936.2L456.9 937.6L456.6 939.0L456.0 940.4L455.3 941.8L454.5 943.2L453.6 944.6L452.5 946.0L451.5 947.4L450.7 948.8L450.4 950.2L450.3 951.6L450.2 953.0L450.1 954.4L450.0 955.8L450.0 957.2Z" fill="#B79F00" stroke="#222" stroke-width="0.75" stroke-linejoin="round"/>
<path d="M465.7 945.2L465.3 943.0L464.3 940.7L462.9 938.4L461.6 936.2L460.5 933.9L459.5 931.6L458.9 929.4L458.5 927.1L458.6 924.8L459.0 922.6L459.6 920.3L460.5 918.0L461.3 915.8L462.2 913.5L463.1 911.2L464.0 909.0L464.9 906.7L465.5 904.4L465.7 902.2L465.7 899.9L465.7 897.7L465.7 895.4L465.7 893.1L465.7 890.9L465.7 888.6L465.7 886.3L465.7 884.1L465.7 881.8L465.7 879.5L465.5 877.3L465.5 875.0L465.4 872.7L465.5 870.5L465.5 868.2L465.5 865.9L465.5 863.7L465.5 861.4L465.5 859.1L465.5 856.9L465.5 854.6L465.6 852.3L465.6 850.1L465.6 847.8L465.6 845.5L465.6 843.3L465.6 841.0L465.6 838.7L465.6 836.5L465.6 834.2L465.6 831.9L465.6 829.7L465.6 827.4L465.6 825.1L465.6 822.9L465.7 820.6L465.7 818.3L465.7 816.1L465.7 813.8L465.7 811.5L465.7 811.5L465.7 813.8L465.7 816.1L465.7 818.3L465.7 820.6L465.7 822.9L465.7 825.1L465.7 827.4L465.8 829.7L465.8 831.9L465.8 834.2L465.8 836.5L465.8 838.7L465.8 841.0L465.8 843.3L465.8 845.5L465.8 847.8L465.8 850.1L465.8 852.3L465.8 854.6L465.8 856.9L465.9 859.1L465.9 861.4L465.9 863.7L465.9 865.9L465.9 868.2L465.9 870.5L465.9 872.7L465.9 875.0L465.8 877.3L465.7 879.5L465.7 881.8L465.7 884.1L465.7 886.3L465.7 888.6L465.7 890.9L465.7 893.1L465.7 895.4L465.7 897.7L465.7 899.9L465.7 902.2L465.9 904.4L466.5 906.7L467.3 909.0L468.3 911.2L469.2 913.5L470.0 915.8L470.9 918.0L471.8 920.3L472.4 922.6L472.8 924.8L472.9 927.1L472.5 929.4L471.8 931.6L470.9 933.9L469.8 936.2L468.4 938.4L467.1 940.7L466.1 943.0L465.7 945.2Z" fill="#7CAE00" stroke="#222" stroke-width="0.75" stroke-linejoin="round"/>
<path d="M481.4 941.7L481.2 939.7L480.8 937.7L480.2 935.7L479.3 933.6L478.4 931.6L477.6 929.6L476.8 927.6L476.2 925.6L475.6 923.6L475.0 921.5L474.6 919.5L474.3 917.5L474.2 915.5L474.4 913.5L474.7 911.4L475.3 909.4L476.0 907.4L476.8 905.4L477.6 903.4L478.4 901.4L479.3 899.3L480.1 897.3L480.8 895.3L481.3 893.3L481.4 891.3L481.4 889.2L481.4 887.2L481.4 885.2L481.4 883.2L481.4 881.2L481.4 879.2L481.4 877.1L481.4 875.1L481.2 873.1L481.2 871.1L481.2 869.1L481.2 867.1L481.2 865.0L481.2 863.0L481.2 861.0L481.3 859.0L481.3 857.0L481.3 854.9L481.3 852.9L481.3 850.9L481.3 848.9L481.3 846.9L481.3 844.9L481.3 842.8L481.3 840.8L481.4 838.8L481.4 836.8L481.4 834.8L481.4 832.7L481.4 830.7L481.4 828.7L481.4 826.7L481.4 824.7L481.4 822.7L481.4 822.7L481.4 824.7L481.4 826.7L481.4 828.7L481.5 830.7L481.5 832.7L481.5 834.8L481.5 836.8L481.5 838.8L481.5 840.8L481.5 842.8L481.5 844.9L481.5 846.9L481.5 848.9L481.5 850.9L481.5 852.9L481.6 854.9L481.6 857.0L481.6 859.0L481.6 861.0L481.6 863.0L481.6 865.0L481.6 867.1L481.7 869.1L481.7 871.1L481.6 873.1L481.5 875.1L481.4 877.1L481.4 879.2L481.4 881.2L481.4 883.2L481.4 885.2L481.4 887.2L481.4 889.2L481.4 891.3L481.5 893.3L482.1 895.3L482.7 897.3L483.6 899.3L484.4 901.4L485.2 903.4L486.0 905.4L486.8 907.4L487.5 909.4L488.1 911.4L488.4 913.5L488.6 915.5L488.5 917.5L488.2 919.5L487.8 921.5L487.3 923.6L486.7 925.6L486.0 927.6L485.3 929.6L484.4 931.6L483.5 933.6L482.7 935.7L482.1 937.7L481.6 939.7L481.4 941.7Z" fill="#00BA38" stroke="#222" stroke-width="0.75" stroke-linejoin="round"/>
<path d="M497.1 957.4L497.0 956.2L496.9 954.9L496.6 953.6L496.1 952.3L495.4 951.1L494.4 949.8L493.5 948.5L492.7 947.2L492.0 945.9L491.3 944.7L490.7 943.4L490.3 942.1L490.1 940.8L489.9 939.6L490.0 938.3L490.3 937.0L490.6 935.7L491.0 934.4L491.6 933.2L492.2 931.9L492.8 930.6L493.3 929.3L493.9 928.1L494.6 926.8L495.2 925.5L495.8 924.2L496.3 922.9L496.7 921.7L497.0 920.4L497.1 919.1L497.1 917.8L497.1 916.6L497.1 915.3L497.1 914.0L497.1 912.7L497.0 911.4L496.9 910.2L496.9 908.9L496.9 907.6L496.9 906.3L496.9 905.1L497.0 903.8L497.0 902.5L497.0 901.2L497.0 899.9L497.0 898.7L497.0 897.4L497.0 896.1L497.1 894.8L497.1 893.6L497.1 892.3L497.1 891.0L497.1 889.7L497.1 888.4L497.1 887.2L497.1 885.9L497.1 884.6L497.1 883.3L497.1 882.1L497.1 882.1L497.2 883.3L497.2 884.6L497.2 885.9L497.2 887.2L497.2 888.4L497.2 889.7L497.2 891.0L497.2 892.3L497.2 893.6L497.2 894.8L497.3 896.1L497.3 897.4L497.3 898.7L497.3 899.9L497.3 901.2L497.3 902.5L497.3 903.8L497.4 905.1L497.4 906.3L497.4 907.6L497.4 908.9L497.4 910.2L497.3 911.4L497.2 912.7L497.1 914.0L497.1 915.3L497.1 916.6L497.1 917.8L497.1 919.1L497.3 920.4L497.6 921.7L498.0 922.9L498.5 924.2L499.1 925.5L499.7 926.8L500.4 928.1L501.0 929.3L501.5 930.6L502.1 931.9L502.7 933.2L503.3 934.4L503.7 935.7L504.0 937.0L504.3 938.3L504.4 939.6L504.2 940.8L504.0 942.1L503.6 943.4L503.0 944.7L502.3 945.9L501.6 947.2L500.8 948.5L499.9 949.8L498.9 951.1L498.2 952.3L497.7 953.6L497.4 954.9L497.3 956.2L497.1 957.4Z" fill="#00C08B" stroke="#222" stroke-width="0.75" stroke-linejoin="round"/>
<path d="M512.9 950.9L512.8 950.0L512.7 949.0L512.6 948.1L512.4 947.1L512.2 946.2L511.8 945.3L511.2 944.3L510.6 943.4L509.9 942.4L509.2 941.5L508.6 940.5L508.1 939.6L507.6 938.6L507.2 937.7L506.8 936.7L506.4 935.8L506.1 934.8L505.9 933.9L505.7 932.9L505.7 932.0L505.7 931.1L505.9 930.1L506.1 929.2L506.4 928.2L506.7 927.3L507.1 926.3L507.6 925.4L508.0 924.4L508.5 923.5L508.9 922.5L509.4 921.6L509.9 920.6L510.4 919.7L510.9 918.7L511.4 917.8L511.8 916.8L512.2 915.9L512.4 915.0L512.6 914.0L512.6 913.1L512.7 912.1L512.7 911.2L512.6 910.2L512.6 909.3L512.6 908.3L512.7 907.4L512.7 906.4L512.7 905.5L512.7 904.5L512.8 903.6L512.8 902.6L512.8 901.7L512.8 900.7L512.8 899.8L512.8 898.9L512.8 897.9L512.8 897.0L512.9 896.0L512.9 895.1L512.9 895.1L512.9 896.0L512.9 897.0L512.9 897.9L512.9 898.9L513.0 899.8L513.0 900.7L513.0 901.7L513.0 902.6L513.0 903.6L513.0 904.5L513.0 905.5L513.1 906.4L513.1 907.4L513.1 908.3L513.1 909.3L513.1 910.2L513.1 911.2L513.1 912.1L513.1 913.1L513.2 914.0L513.4 915.0L513.6 915.9L513.9 916.8L514.4 917.8L514.8 918.7L515.3 919.7L515.9 920.6L516.4 921.6L516.8 922.5L517.3 923.5L517.7 924.4L518.2 925.4L518.6 926.3L519.0 927.3L519.4 928.2L519.6 929.2L519.9 930.1L520.0 931.1L520.1 932.0L520.0 932.9L519.9 933.9L519.6 934.8L519.4 935.8L519.0 936.7L518.6 937.7L518.1 938.6L517.6 939.6L517.1 940.5L516.5 941.5L515.9 942.4L515.2 943.4L514.6 944.3L514.0 945.3L513.6 946.2L513.3 947.1L513.2 948.1L513.0 949.0L513.0 950.0L512.9 950.9Z" fill="#00BFC4" stroke="#222" stroke-width="0.75" stroke-linejoin="round"/>
<path d="M528.6 949.9L528.5 948.3L528.3 946.8L528.1 945.3L527.4 943.8L526.4 942.3L525.2 940.8L524.2 939.3L523.4 937.8L522.6 936.3L522.0 934.8L521.6 933.3L521.4 931.8L521.5 930.3L521.8 928.7L522.2 927.2L522.7 925.7L523.4 924.2L524.1 922.7L524.8 921.2L525.5 919.7L526.3 918.2L527.0 916.7L527.6 915.2L528.2 913.7L528.5 912.2L528.6 910.7L528.6 909.1L528.6 907.6L528.6 906.1L528.6 904.6L528.6 903.1L528.6 901.6L528.6 900.1L528.4 898.6L528.4 897.1L528.4 895.6L528.4 894.1L528.4 892.6L528.4 891.1L528.4 889.5L528.4 888.0L528.5 886.5L528.5 885.0L528.5 883.5L528.5 882.0L528.5 880.5L528.5 879.0L528.5 877.5L528.5 876.0L528.5 874.5L528.5 873.0L528.5 871.5L528.6 869.9L528.6 868.4L528.6 866.9L528.6 865.4L528.6 863.9L528.6 862.4L528.6 860.9L528.6 860.9L528.6 862.4L528.6 863.9L528.6 865.4L528.6 866.9L528.7 868.4L528.7 869.9L528.7 871.5L528.7 873.0L528.7 874.5L528.7 876.0L528.7 877.5L528.7 879.0L528.7 880.5L528.7 882.0L528.7 883.5L528.8 885.0L528.8 886.5L528.8 888.0L528.8 889.5L528.8 891.1L528.8 892.6L528.8 894.1L528.9 895.6L528.8 897.1L528.8 898.6L528.7 900.1L528.6 901.6L528.6 903.1L528.6 904.6L528.6 906.1L528.6 907.6L528.6 909.1L528.6 910.7L528.7 912.2L529.1 913.7L529.6 915.2L530.2 916.7L531.0 918.2L531.7 919.7L532.4 921.2L533.1 922.7L533.8 924.2L534.5 925.7L535.0 927.2L535.4 928.7L535.7 930.3L535.8 931.8L535.6 933.3L535.2 934.8L534.6 936.3L533.8 937.8L533.0 939.3L532.0 940.8L530.8 942.3L529.8 943.8L529.2 945.3L528.9 946.8L528.7 948.3L528.6 949.9Z" fill="#00B4F0" stroke="#222" stroke-width="0.75" stroke-linejoin="round"/>
<path d="M542.9 952.0L542.9 950.7L542.6 949.4L541.9 948.1L541.0 946.8L540.2 945.5L539.5 944.2L538.7 942.8L538.1 941.5L537.6 940.2L537.3 938.9L537.1 937.6L537.2 936.3L537.4 935.0L537.6 933.7L538.0 932.4L538.4 931.1L538.8 929.7L539.3 928.4L539.9 927.1L540.3 925.8L540.8 924.5L541.4 923.2L542.0 921.9L542.5 920.6L543.0 919.3L543.4 918.0L543.8 916.6L544.0 915.3L544.2 914.0L544.3 912.7L544.3 911.4L544.3 910.1L544.3 908.8L544.3 907.5L544.2 906.2L544.1 904.9L544.1 903.5L544.1 902.2L544.1 900.9L544.1 899.6L544.1 898.3L544.2 897.0L544.2 895.7L544.2 894.4L544.2 893.1L544.2 891.8L544.2 890.4L544.2 889.1L544.2 887.8L544.3 886.5L544.3 885.2L544.3 883.9L544.3 882.6L544.3 881.3L544.3 880.0L544.3 878.7L544.3 877.3L544.3 876.0L544.3 874.7L544.3 874.7L544.4 876.0L544.4 877.3L544.4 878.7L544.4 880.0L544.4 881.3L544.4 882.6L544.4 883.9L544.4 885.2L544.4 886.5L544.4 887.8L544.4 889.1L544.5 890.4L544.5 891.8L544.5 893.1L544.5 894.4L544.5 895.7L544.5 897.0L544.5 898.3L544.6 899.6L544.6 900.9L544.6 902.2L544.6 903.5L544.6 904.9L544.5 906.2L544.4 907.5L544.4 908.8L544.3 910.1L544.3 911.4L544.4 912.7L544.5 914.0L544.6 915.3L544.9 916.6L545.2 918.0L545.7 919.3L546.2 920.6L546.7 921.9L547.3 923.2L547.8 924.5L548.3 925.8L548.8 927.1L549.3 928.4L549.8 929.7L550.3 931.1L550.7 932.4L551.0 933.7L551.3 935.0L551.5 936.3L551.6 937.6L551.4 938.9L551.1 940.2L550.6 941.5L550.0 942.8L549.2 944.2L548.5 945.5L547.6 946.8L546.8 948.1L546.1 949.4L545.8 950.7L545.8 952.0Z" fill="#619CFF" stroke="#222" stroke-width="0.75" stroke-linejoin="round"/>
<path d="M557.9 950.9L557.2 948.9L556.5 946.8L555.9 944.7L555.3 942.6L554.8 940.5L554.3 938.5L553.9 936.4L553.6 934.3L553.3 932.2L553.1 930.2L552.9 928.1L552.9 926.0L552.9 923.9L552.9 921.8L553.0 919.8L553.1 917.7L553.2 915.6L553.4 913.5L553.6 911.5L553.9 909.4L554.1 907.3L554.4 905.2L554.7 903.1L554.9 901.1L555.2 899.0L555.5 896.9L555.8 894.8L556.1 892.8L556.3 890.7L556.6 888.6L556.9 886.5L557.1 884.4L557.4 882.4L557.6 880.3L557.9 878.2L558.1 876.1L558.3 874.1L558.5 872.0L558.7 869.9L558.9 867.8L559.0 865.8L559.1 863.7L559.3 861.6L559.4 859.5L559.5 857.4L559.5 855.4L559.6 853.3L559.7 851.2L559.7 849.1L559.7 847.1L559.8 845.0L559.8 842.9L559.8 840.8L559.8 838.7L559.9 836.7L559.9 834.6L560.0 832.5L560.0 830.4L560.1 828.4L560.1 828.4L560.1 830.4L560.2 832.5L560.2 834.6L560.3 836.7L560.3 838.7L560.3 840.8L560.3 842.9L560.4 845.0L560.4 847.1L560.4 849.1L560.5 851.2L560.5 853.3L560.6 855.4L560.7 857.4L560.8 859.5L560.9 861.6L561.0 863.7L561.1 865.8L561.3 867.8L561.4 869.9L561.6 872.0L561.8 874.1L562.1 876.1L562.3 878.2L562.5 880.3L562.8 882.4L563.0 884.4L563.3 886.5L563.5 888.6L563.8 890.7L564.1 892.8L564.4 894.8L564.6 896.9L564.9 899.0L565.2 901.1L565.5 903.1L565.7 905.2L566.0 907.3L566.3 909.4L566.5 911.5L566.7 913.5L566.9 915.6L567.0 917.7L567.2 919.8L567.3 921.8L567.3 923.9L567.3 926.0L567.2 928.1L567.1 930.2L566.9 932.2L566.6 934.3L566.2 936.4L565.8 938.5L565.4 940.5L564.8 942.6L564.2 944.7L563.6 946.8L562.9 948.9L562.2 950.9Z" fill="#C77CFF" stroke="#222" stroke-width="0.75" stroke-linejoin="round"/>
<path d="M574.9 947.7L574.5 947.0L574.0 946.3L573.6 945.6L573.2 944.9L572.7 944.2L572.3 943.5L571.9 942.8L571.5 942.1L571.1 941.4L570.7 940.7L570.4 940.0L570.0 939.3L569.7 938.6L569.5 937.9L569.2 937.2L569.0 936.5L568.8 935.8L568.7 935.1L568.6 934.4L568.6 933.7L568.7 933.0L568.9 932.3L569.2 931.6L569.4 930.9L569.7 930.2L570.1 929.5L570.5 928.8L571.0 928.1L571.5 927.4L571.9 926.7L572.3 926.0L572.7 925.3L573.1 924.6L573.5 923.9L573.8 923.2L574.1 922.5L574.3 921.8L574.5 921.1L574.7 920.4L574.8 919.7L574.9 919.0L575.0 918.3L575.1 917.6L575.2 916.9L575.3 916.2L575.4 915.5L575.4 914.8L575.5 914.1L575.5 913.4L575.6 912.7L575.6 912.0L575.6 911.3L575.7 910.7L575.7 910.0L575.7 909.3L575.7 908.6L575.7 907.9L575.8 907.2L575.8 906.5L575.8 906.5L575.8 907.2L575.9 907.9L575.9 908.6L575.9 909.3L575.9 910.0L575.9 910.7L576.0 911.3L576.0 912.0L576.0 912.7L576.1 913.4L576.1 914.1L576.2 914.8L576.2 915.5L576.3 916.2L576.4 916.9L576.5 917.6L576.6 918.3L576.7 919.0L576.8 919.7L576.9 920.4L577.1 921.1L577.3 921.8L577.5 922.5L577.8 923.2L578.1 923.9L578.5 924.6L578.9 925.3L579.3 926.0L579.7 926.7L580.1 927.4L580.6 928.1L581.1 928.8L581.5 929.5L581.9 930.2L582.2 930.9L582.4 931.6L582.7 932.3L582.9 933.0L583.0 933.7L583.0 934.4L582.9 935.1L582.8 935.8L582.6 936.5L582.4 937.2L582.1 937.9L581.9 938.6L581.6 939.3L581.2 940.0L580.9 940.7L580.5 941.4L580.1 942.1L579.7 942.8L579.3 943.5L578.9 944.2L578.4 944.9L578.0 945.6L577.6 946.3L577.1 947.0L576.7 947.7Z" fill="#F564E3" stroke="#222" stroke-width="0.75" stroke-linejoin="round"/>
<path d="M590.4 943.3L590.4 942.4L590.4 941.5L590.5 940.6L590.4 939.6L590.3 938.7L590.0 937.8L589.7 936.9L589.3 936.0L588.8 935.0L588.3 934.1L587.8 933.2L587.4 932.3L587.0 931.3L586.7 930.4L586.3 929.5L586.0 928.6L585.6 927.6L585.3 926.7L585.1 925.8L584.8 924.9L584.7 923.9L584.5 923.0L584.4 922.1L584.3 921.2L584.4 920.2L584.5 919.3L584.6 918.4L584.8 917.5L585.0 916.5L585.3 915.6L585.6 914.7L586.0 913.8L586.4 912.9L586.8 911.9L587.2 911.0L587.5 910.1L587.9 909.2L588.3 908.2L588.7 907.3L589.1 906.4L589.5 905.5L589.8 904.5L590.1 903.6L590.3 902.7L590.5 901.8L590.5 900.8L590.5 899.9L590.5 899.0L590.5 898.1L590.4 897.1L590.4 896.2L590.4 895.3L590.4 894.4L590.4 893.4L590.4 892.5L590.4 891.6L590.4 890.7L590.4 889.8L590.4 888.8L592.6 888.8L592.6 889.8L592.6 890.7L592.6 891.6L592.6 892.5L592.6 893.4L592.6 894.4L592.6 895.3L592.6 896.2L592.6 897.1L592.6 898.1L592.6 899.0L592.5 899.9L592.5 900.8L592.6 901.8L592.7 902.7L593.0 903.6L593.3 904.5L593.6 905.5L594.0 906.4L594.4 907.3L594.8 908.2L595.2 909.2L595.5 910.1L595.9 911.0L596.3 911.9L596.7 912.9L597.0 913.8L597.4 914.7L597.8 915.6L598.0 916.5L598.3 917.5L598.5 918.4L598.6 919.3L598.7 920.2L598.7 921.2L598.7 922.1L598.6 923.0L598.4 923.9L598.2 924.9L598.0 925.8L597.7 926.7L597.4 927.6L597.1 928.6L596.7 929.5L596.4 930.4L596.0 931.3L595.6 932.3L595.2 933.2L594.7 934.1L594.3 935.0L593.8 936.0L593.4 936.9L593.0 937.8L592.8 938.7L592.6 939.6L592.6 940.6L592.6 941.5L592.6 942.4L592.6 943.3Z" fill="#FF64B0" stroke="#222" stroke-width="0.75" stroke-linejoin="round"/>
<text transform="translate(368.8 320.6) scale(0.93 1)" font-size="15" font-weight="bold" fill="#000" stroke="#000" stroke-width="0.4">D</text>
<defs>
<filter id="fTL" x="0" y="0" width="1" height="1" color-interpolation-filters="sRGB">
<feTurbulence type="fractalNoise" baseFrequency="0.45" numOctaves="3" seed="4"/>
<feColorMatrix type="matrix" values="1 0 0 0 0  0 1 0 0 0  0 0 1 0 0  0 0 0 0 1" result="n"/>
<feTurbulence type="fractalNoise" baseFrequency="0.06" numOctaves="2" seed="9"/>
<feColorMatrix type="matrix" values="1 0 0 0 0  0 1 0 0 0  0 0 1 0 0  0 0 0 0 1" result="lo"/>
<feComposite in="n" in2="lo" operator="arithmetic" k1="0" k2="5.5" k3="2.2" k4="-3.85" result="nz"/>
<feComposite in="nz" in2="SourceGraphic" operator="arithmetic" k1="0" k2="1" k3="1" k4="0" result="tt"/>
<feColorMatrix in="tt" type="matrix" values="1 0 0 0 0  1 0 0 0 0  1 0 0 0 0  0 0 0 0 1" result="t"/>
<feColorMatrix in="t" type="matrix" values="0.275 0 0 0 0.314  -0.180 0 0 0 0.455  -0.345 0 0 0 0.753  0 0 0 0 1" result="base"/>
<feColorMatrix in="n" type="matrix" values="0 0 0 0 0.84  0 0 0 0 0.87  0 0 0 0 0.96  0 6 0 0 -3.75" result="sp"/>
<feColorMatrix in="n" type="matrix" values="0 0 0 0 0.16  0 0 0 0 0.20  0 0 0 0 0.45  0 0 6 0 -3.8" result="dk"/>
<feMerge><feMergeNode in="base"/><feMergeNode in="dk"/><feMergeNode in="sp"/></feMerge>
</filter>
<filter id="fTR" x="0" y="0" width="1" height="1" color-interpolation-filters="sRGB">
<feTurbulence type="fractalNoise" baseFrequency="0.42 0.3" numOctaves="2" seed="12"/>
<feColorMatrix type="matrix" values="1 0 0 0 0  0 1 0 0 0  0 0 1 0 0  0 0 0 0 1" result="n"/>
<feTurbulence type="fractalNoise" baseFrequency="0.03 0.05" numOctaves="3" seed="2"/>
<feColorMatrix type="matrix" values="1 0 0 0 0  0 1 0 0 0  0 0 1 0 0  0 0 0 0 1" result="lo"/>
<feComposite in="n" in2="lo" operator="arithmetic" k1="0" k2="2.0" k3="1.6" k4="-1.45" result="mx"/>
<feColorMatrix in="mx" type="matrix" values="1 0 0 0 0  1 0 0 0 0  1 0 0 0 0  0 0 0 0 1" result="t"/>
<feColorMatrix in="t" type="matrix" values="0.243 0 0 0 0.165  0.251 0 0 0 0.290  0.165 0 0 0 0.675  0 0 0 0 1"/>
</filter>
<filter id="fFat" x="0" y="0" width="1" height="1" color-interpolation-filters="sRGB">
<feTurbulence type="fractalNoise" baseFrequency="0.3" numOctaves="2" seed="3"/>
<feColorMatrix type="matrix" values="1 0 0 0 0  0 1 0 0 0  0 0 1 0 0  0 0 0 0 1" result="n"/>
<feColorMatrix in="n" type="matrix" values="0.6 0 0 0 0.64  0.6 0 0 0 0.64  0.6 0 0 0 0.65  0 0 0 0 1"/>
</filter>
<filter id="fCL" x="0" y="0" width="1" height="1" color-interpolation-filters="sRGB">
<feTurbulence type="fractalNoise" baseFrequency="0.042 0.036" numOctaves="3" seed="21"/>
<feColorMatrix type="matrix" values="1 0 0 0 0  0 1 0 0 0  0 0 1 0 0  0 0 0 0 1" result="n"/>
<feTurbulence type="fractalNoise" baseFrequency="0.16 0.2" numOctaves="3" seed="5"/>
<feColorMatrix type="matrix" values="1 0 0 0 0  0 1 0 0 0  0 0 1 0 0  0 0 0 0 1" result="hi"/>
<feColorMatrix in="hi" type="matrix" values="2.2 0 0 0 -0.6  2.2 0 0 0 -0.6  2.2 0 0 0 -0.6  0 0 0 0 1" result="tt"/>
<feColorMatrix in="tt" type="matrix" values="0.275 0 0 0 0.345  0.118 0 0 0 0.086  0.078 0 0 0 0.180  0 0 0 0 1" result="base"/>
<feColorMatrix in="hi" type="matrix" values="0 2.4 0 0 -0.7  0 2.4 0 0 -0.7  0 2.4 0 0 -0.7  0 0 0 0 1" result="tb"/>
<feColorMatrix in="tb" type="matrix" values="0.361 0 0 0 0.102  0.392 0 0 0 0.196  0.275 0 0 0 0.573  0 0 0 0 1" result="bluetex"/>
<feColorMatrix in="n" type="matrix" values="0 0 0 0 1  0 0 0 0 1  0 0 0 0 1  1 0 0 0 0"/>
<feComponentTransfer result="mLow"><feFuncA type="table" tableValues="1 1 1 1 1 1 1 1 1 1 1 1 1 1 1 1 1 1 1 1 1 1 0.8 0.4 0.1 0 0 0 0 0 0 0 0 0 0 0 0 0 0 0 0 0 0 0 0 0 0 0 0 0 0 0 0 0 0 0 0 0 0 0 0"/></feComponentTransfer>
<feComposite in="bluetex" in2="mLow" operator="in" result="blue1"/>
<feColorMatrix in="n" type="matrix" values="0 0 0 0 1  0 0 0 0 1  0 0 0 0 1  0 1 0 0 0"/>
<feComponentTransfer result="mBand"><feFuncA type="table" tableValues="0 0 0 0 0 0 0 0 0 0 0 0 0 0 0 0 0 0 0 0 0 0 0 0 0 0 0 0.3 0.8 1 1 1 0.8 0.3 0 0 0 0 0 0 0 0 0 0 0 0 0 0 0 0 0 0 0 0 0 0 0 0 0 0 0"/></feComponentTransfer>
<feComposite in="bluetex" in2="mBand" operator="in" result="blue2"/>
<feColorMatrix in="n" type="matrix" values="0 0 0 0 1  0 0 0 0 1  0 0 0 0 1  0 1 0 0 0"/>
<feComponentTransfer result="white"><feFuncA type="table" tableValues="0 0 0 0 0 0 0 0 0 0 0 0 0 0 0 0 0 0 0 0 0 0 0 0 0 0 0 0 0 0.55 1 0.55 0 0 0 0 0 0 0 0 0 0 0 0 0 0 0 0 0 0 0 0 0 0 0 0 0 0 0 0 0"/></feComponentTransfer>
<feColorMatrix in="n" type="matrix" values="0 0 0 0 1  0 0 0 0 1  0 0 0 0 1  0 0 1 0 0"/>
<feComponentTransfer result="white2"><feFuncA type="table" tableValues="0 0 0 0 0 0 0 0 0 0 0 0 0 0 0 0 0 0 0 0 0 0 0 0 0 0 0 0 0 0.25 0.9 0.25 0 0 0 0 0 0 0 0 0 0 0 0 0 0 0 0 0 0 0 0 0 0 0 0 0 0 0 0 0"/></feComponentTransfer>
<feMerge><feMergeNode in="base"/><feMergeNode in="blue1"/><feMergeNode in="blue2"/><feMergeNode in="white"/><feMergeNode in="white2"/></feMerge>
</filter>
<filter id="fCR" x="-0.4" y="-0.3" width="1.8" height="1.6" color-interpolation-filters="sRGB">
<feTurbulence type="fractalNoise" baseFrequency="0.05 0.2" numOctaves="3" seed="8"/>
<feColorMatrix type="matrix" values="1 0 0 0 0  0 1 0 0 0  0 0 1 0 0  0 0 0 0 1" result="n"/>
<feTurbulence type="fractalNoise" baseFrequency="0.03" numOctaves="3" seed="31"/>
<feColorMatrix type="matrix" values="1 0 0 0 0  0 1 0 0 0  0 0 1 0 0  0 0 0 0 1" result="fld"/>
<feDisplacementMap in="n" in2="fld" scale="90" xChannelSelector="R" yChannelSelector="G" result="w"/>
<feColorMatrix type="matrix" values="1 0 0 0 0  0 1 0 0 0  0 0 1 0 0  0 0 0 0 1" in="w" result="w1"/>
<feTurbulence type="fractalNoise" baseFrequency="0.2 0.05" numOctaves="3" seed="18"/>
<feColorMatrix type="matrix" values="1 0 0 0 0  0 1 0 0 0  0 0 1 0 0  0 0 0 0 1" result="n2"/>
<feDisplacementMap in="n2" in2="fld" scale="90" xChannelSelector="B" yChannelSelector="R" result="v"/>
<feColorMatrix type="matrix" values="1 0 0 0 0  0 1 0 0 0  0 0 1 0 0  0 0 0 0 1" in="v" result="v1"/>
<feBlend in="w1" in2="v1" mode="lighten" result="mx"/>
<feColorMatrix in="mx" type="matrix" values="3.4 0 0 0 -1.6  3.4 0 0 0 -1.6  3.4 0 0 0 -1.6  0 0 0 0 1" result="t0"/>
<feGaussianBlur in="t0" stdDeviation="0.45" result="t"/>
<feColorMatrix in="t" type="matrix" values="0.455 0 0 0 0.173  0.439 0 0 0 0.282  0.243 0 0 0 0.675  0 0 0 0 1"/>
</filter>
<filter id="fBG" x="0" y="0" width="1" height="1" color-interpolation-filters="sRGB">
<feTurbulence type="fractalNoise" baseFrequency="0.11 0.16" numOctaves="3" seed="14"/>
<feColorMatrix type="matrix" values="1 0 0 0 0  0 1 0 0 0  0 0 1 0 0  0 0 0 0 1" result="n"/>
<feColorMatrix in="n" type="matrix" values="3.2 0 0 0 -0.95  3.2 0 0 0 -0.95  3.2 0 0 0 -0.95  0 0 0 0 1" result="t"/>
<feColorMatrix in="t" type="matrix" values="0.827 0 0 0 0.173  0.694 0 0 0 0.306  0.325 0 0 0 0.675  0 0 0 0 1"/>
</filter>
<filter id="fCell" x="-0.05" y="-0.05" width="1.1" height="1.1" color-interpolation-filters="sRGB">
<feTurbulence type="fractalNoise" baseFrequency="0.13" numOctaves="3" seed="7"/>
<feColorMatrix type="matrix" values="1 0 0 0 0  0 1 0 0 0  0 0 1 0 0  0 0 0 0 1" result="d"/>
<feDisplacementMap in="SourceGraphic" in2="d" scale="6" xChannelSelector="R" yChannelSelector="G" result="disp"/>
<feTurbulence type="fractalNoise" baseFrequency="0.22 0.3" numOctaves="3" seed="3"/>
<feColorMatrix type="matrix" values="1 0 0 0 0  0 1 0 0 0  0 0 1 0 0  0 0 0 0 1" result="tx"/>
<feColorMatrix in="tx" type="matrix" values="1.6 0 0 0 -0.3  1.6 0 0 0 -0.3  1.6 0 0 0 -0.3  0 0 0 0 1" result="tx2"/>
<feComposite in="disp" in2="tx2" operator="arithmetic" k1="0.75" k2="0.5" k3="0" k4="0" result="shaded"/>
<feComposite in="shaded" in2="disp" operator="in"/>
</filter>
<filter id="blur2"><feGaussianBlur stdDeviation="2"/></filter><filter id="blur4"><feGaussianBlur stdDeviation="4"/></filter><filter id="blur1"><feGaussianBlur stdDeviation="0.8"/></filter>
<clipPath id="cTL"><path d="M390.0 369.4C389.4 366.5 389.5 365.4 391.4 360.6C393.3 355.8 393.3 355.8 397.1 351.4C401.0 347.1 400.0 348.1 405.7 344.3C411.4 340.5 411.3 340.4 418.6 337.1C425.8 333.9 425.6 334.1 432.9 332.0C440.1 329.9 439.6 330.7 445.7 329.1C451.8 327.6 450.0 326.8 455.7 326.3C461.4 325.8 459.9 326.2 467.1 327.1C474.4 328.1 474.1 328.1 482.9 330.0C491.6 331.9 490.9 331.6 500.0 334.3C509.1 337.0 509.5 336.6 517.1 340.0C524.8 343.4 523.6 343.0 528.6 347.1C533.5 351.3 532.5 350.6 535.7 355.7C538.9 360.8 539.7 362.7 540.6 366.3C541.4 369.9 540.8 368.8 538.9 369.1C536.9 369.4 535.9 366.8 533.1 367.4C530.4 368.0 530.4 367.3 528.6 371.4C526.7 375.5 527.3 376.0 526.3 382.9C525.3 389.7 524.6 390.3 524.9 397.1C525.2 404.0 526.4 402.5 527.4 408.6C528.4 414.7 529.0 413.1 528.6 420.0C528.2 426.9 526.3 426.7 526.0 434.3C525.7 441.9 527.4 441.0 527.4 448.6C527.5 456.2 527.0 455.2 526.3 462.9C525.6 470.5 527.7 471.0 524.9 477.1C522.0 483.2 521.2 482.3 515.7 485.7C510.2 489.1 509.1 487.3 504.3 490.0C499.5 492.7 502.3 495.5 497.7 496.0C493.1 496.5 493.4 493.6 487.1 492.0C480.9 490.4 481.5 491.2 474.3 490.0C467.0 488.8 467.6 487.7 460.0 487.4C452.4 487.2 452.4 490.2 445.7 489.1C439.0 488.1 440.8 485.0 434.9 483.4C428.9 481.9 428.2 485.7 423.4 483.4C418.7 481.1 420.0 480.2 417.1 474.9C414.2 469.5 413.0 469.5 412.6 463.4C412.2 457.3 415.7 458.9 415.7 452.0C415.7 445.1 413.7 445.3 412.6 437.7C411.4 430.1 411.7 431.0 411.4 423.4C411.2 415.8 411.6 417.5 411.7 409.1C411.8 400.8 412.1 398.9 411.7 392.0C411.3 385.1 411.5 387.8 410.3 383.4C409.1 379.0 409.7 378.8 407.1 375.4C404.6 372.1 404.2 371.9 400.6 370.9C397.0 369.8 396.5 371.8 393.7 371.4C390.9 371.0 390.6 372.3 390.0 369.4Z"/></clipPath>
<clipPath id="cTR"><path d="M562.9 328.6C564.4 326.4 564.8 327.5 569.7 326.3C574.6 325.1 574.4 324.9 581.1 324.0C587.8 323.1 587.5 323.2 594.9 322.9C602.2 322.6 603.1 323.2 608.6 322.9C614.1 322.6 611.8 322.3 615.4 321.7C619.1 321.1 618.0 320.3 622.3 320.6C626.6 320.9 626.6 322.9 631.4 322.9C636.3 322.9 634.5 320.9 640.6 320.6C646.7 320.3 647.9 321.4 654.3 321.7C660.7 322.0 660.2 320.2 664.6 321.7C669.0 323.2 667.9 324.1 670.7 327.4C673.6 330.8 673.5 330.9 675.3 334.3C677.1 337.6 675.8 337.0 677.6 340.0C679.4 343.0 681.3 343.3 682.2 345.7C683.0 348.2 682.1 347.6 680.8 349.1C679.5 350.7 676.6 350.1 677.1 351.7C677.7 353.2 681.0 352.7 682.9 354.9C684.7 357.1 684.5 356.2 684.2 359.9C684.0 363.5 683.2 363.2 681.9 368.6C680.7 373.9 680.9 373.9 679.7 380.0C678.4 386.1 678.6 385.3 677.4 391.4C676.2 397.5 676.3 396.8 675.1 402.9C673.9 409.0 673.7 408.2 672.8 414.3C671.9 420.4 672.3 419.6 671.7 425.7C671.0 431.8 671.1 431.0 670.5 437.1C669.9 443.2 670.3 442.5 669.4 448.6C668.5 454.7 668.3 453.9 667.1 460.0C665.9 466.1 665.7 465.3 664.8 471.4C663.9 477.5 665.2 478.0 663.7 482.9C662.1 487.7 663.4 487.3 659.1 489.7C654.8 492.2 653.6 491.1 647.4 492.0C641.3 492.9 641.5 492.5 636.0 493.1C630.5 493.8 631.7 493.4 626.9 494.3C622.0 495.2 622.6 494.7 617.7 496.6C612.8 498.4 612.8 498.1 608.6 501.1C604.3 504.2 606.0 505.3 601.7 508.0C597.4 510.7 598.1 511.4 592.6 511.4C587.1 511.4 586.6 510.1 581.1 508.0C575.7 505.9 576.3 506.5 572.0 503.4C567.7 500.4 567.9 500.8 565.1 496.6C562.4 492.3 562.9 492.3 561.7 487.4C560.5 482.6 561.8 481.9 560.6 478.3C559.4 474.6 558.7 477.4 557.1 473.7C555.6 470.1 555.2 468.8 554.9 464.6C554.6 460.3 553.3 461.1 556.0 457.7C558.7 454.4 559.7 454.1 565.1 452.0C570.6 449.9 571.1 451.2 576.6 449.7C582.1 448.2 582.7 448.4 585.7 446.3C588.8 444.2 589.8 443.5 588.0 441.7C586.2 439.9 582.5 442.5 578.9 439.4C575.2 436.4 576.1 435.2 574.3 430.3C572.5 425.4 573.5 426.0 572.0 421.1C570.5 416.3 569.8 416.9 568.6 412.0C567.4 407.1 569.0 406.5 567.4 402.9C565.9 399.2 564.4 401.3 562.9 398.3C561.3 395.2 561.7 395.1 561.7 391.4C561.7 387.8 563.2 388.8 562.9 384.6C562.6 380.3 560.9 380.3 560.6 375.4C560.3 370.6 560.5 371.2 561.7 366.3C562.9 361.4 563.6 362.0 565.1 357.1C566.7 352.3 567.4 352.3 567.4 348.0C567.4 343.7 566.1 344.8 565.1 341.1C564.2 337.5 564.4 337.6 563.8 334.3C563.2 330.9 561.3 330.7 562.9 328.6Z"/></clipPath>
<clipPath id="cCL"><rect x="400.5" y="524.2" width="129.5" height="189.4"/></clipPath>
<clipPath id="cCR"><rect x="549.8" y="524.2" width="129" height="189.4"/></clipPath>
</defs>
<g clip-path="url(#cTL)">
<g filter="url(#fTL)"><rect x="386" y="322" width="160" height="180" fill="#3C3C3C"/><ellipse cx="468" cy="398" rx="50" ry="46" fill="#545454" filter="url(#blur4)"/><ellipse cx="476" cy="372" rx="30" ry="18" fill="#646464" filter="url(#blur4)"/><ellipse cx="438" cy="474" rx="40" ry="18" fill="#4A4A4A" filter="url(#blur4)"/><ellipse cx="425" cy="350" rx="28" ry="9" fill="#4C4C4C" filter="url(#blur4)" transform="rotate(-20 425 350)"/></g>
<path d="M390.0 369.4C389.4 366.5 389.5 365.4 391.4 360.6C393.3 355.8 393.3 355.8 397.1 351.4C401.0 347.1 400.0 348.1 405.7 344.3C411.4 340.5 411.3 340.4 418.6 337.1C425.8 333.9 425.6 334.1 432.9 332.0C440.1 329.9 439.6 330.7 445.7 329.1C451.8 327.6 450.0 326.8 455.7 326.3C461.4 325.8 459.9 326.2 467.1 327.1C474.4 328.1 474.1 328.1 482.9 330.0C491.6 331.9 490.9 331.6 500.0 334.3C509.1 337.0 509.5 336.6 517.1 340.0C524.8 343.4 523.6 343.0 528.6 347.1C533.5 351.3 532.5 350.6 535.7 355.7C538.9 360.8 539.7 362.7 540.6 366.3C541.4 369.9 540.8 368.8 538.9 369.1C536.9 369.4 535.9 366.8 533.1 367.4C530.4 368.0 530.4 367.3 528.6 371.4C526.7 375.5 527.3 376.0 526.3 382.9C525.3 389.7 524.6 390.3 524.9 397.1C525.2 404.0 526.4 402.5 527.4 408.6C528.4 414.7 529.0 413.1 528.6 420.0C528.2 426.9 526.3 426.7 526.0 434.3C525.7 441.9 527.4 441.0 527.4 448.6C527.5 456.2 527.0 455.2 526.3 462.9C525.6 470.5 527.7 471.0 524.9 477.1C522.0 483.2 521.2 482.3 515.7 485.7C510.2 489.1 509.1 487.3 504.3 490.0C499.5 492.7 502.3 495.5 497.7 496.0C493.1 496.5 493.4 493.6 487.1 492.0C480.9 490.4 481.5 491.2 474.3 490.0C467.0 488.8 467.6 487.7 460.0 487.4C452.4 487.2 452.4 490.2 445.7 489.1C439.0 488.1 440.8 485.0 434.9 483.4C428.9 481.9 428.2 485.7 423.4 483.4C418.7 481.1 420.0 480.2 417.1 474.9C414.2 469.5 413.0 469.5 412.6 463.4C412.2 457.3 415.7 458.9 415.7 452.0C415.7 445.1 413.7 445.3 412.6 437.7C411.4 430.1 411.7 431.0 411.4 423.4C411.2 415.8 411.6 417.5 411.7 409.1C411.8 400.8 412.1 398.9 411.7 392.0C411.3 385.1 411.5 387.8 410.3 383.4C409.1 379.0 409.7 378.8 407.1 375.4C404.6 372.1 404.2 371.9 400.6 370.9C397.0 369.8 396.5 371.8 393.7 371.4C390.9 371.0 390.6 372.3 390.0 369.4Z" fill="none" stroke="#7C98D4" stroke-width="10" opacity="0.6" filter="url(#blur2)"/>
<ellipse cx="470" cy="400" rx="44" ry="40" fill="#8A3E62" opacity="0.08" filter="url(#blur4)"/>
<ellipse cx="440" cy="470" rx="40" ry="22" fill="#4C6DB8" opacity="0.30" filter="url(#blur4)"/>
<path d="M420 372 Q440 380 458 392" fill="none" stroke="#C8D2EC" stroke-width="4" opacity="0.55" filter="url(#blur1)"/>
<path d="M441 382 Q450 384 457 391" fill="none" stroke="#fff" stroke-width="1" opacity="0.8"/>
<path d="M446 418 L449 430 L456 433 M449 430 L443 442" fill="none" stroke="#fff" stroke-width="1.1" opacity="0.85"/>
<path d="M416 446 Q420 452 419 462 L424 466" fill="none" stroke="#fff" stroke-width="2" opacity="0.9"/>
<path d="M425 345 L427 356" fill="none" stroke="#E8ECF8" stroke-width="1.2"/>
<g fill="#E6EAF6" opacity="0.8" filter="url(#blur1)"><ellipse cx="424" cy="468" rx="4" ry="6"/><ellipse cx="432" cy="480" rx="5" ry="2.5"/><ellipse cx="451" cy="436" rx="5" ry="2"/><ellipse cx="438" cy="421" rx="3" ry="1.5"/><ellipse cx="470" cy="452" rx="4" ry="1.5"/><ellipse cx="460" cy="478" rx="3" ry="2"/><ellipse cx="418" cy="440" rx="2" ry="4"/></g>
<ellipse cx="513.5" cy="467" rx="12.5" ry="18.5" fill="#F4F4F6" transform="rotate(12 513.5 467)" filter="url(#blur1)"/>
</g>
<path d="M390.0 369.4L391.4 360.6L397.1 351.4L405.7 344.3L418.6 337.1L432.9 332.0L445.7 329.1L455.7 326.3L467.1 327.1L482.9 330.0L500.0 334.3L517.1 340.0L528.6 347.1L535.7 355.7L540.6 366.3" fill="none" stroke="#8C3E5E" stroke-width="1.6" stroke-linejoin="round" opacity="0.95"/>
<rect x="436.4" y="346.7" width="17.3" height="21.3" fill="none" stroke="#111" stroke-width="0.9"/>
<g clip-path="url(#cTR)">
<rect x="552" y="318" width="136" height="200" filter="url(#fTR)"/>
<ellipse cx="668" cy="408" rx="10" ry="25" fill="#A02F48" opacity="0.55" filter="url(#blur4)"/>
<ellipse cx="656" cy="425" rx="14" ry="22" fill="#7C3A78" opacity="0.28" filter="url(#blur4)"/>
<path d="M624 392 L652 366" stroke="#C7B4D8" stroke-width="5" opacity="0.6" filter="url(#blur2)"/>
<path d="M603 462 Q630 452 652 462" stroke="#8FA0D8" stroke-width="6" opacity="0.5" filter="url(#blur2)" fill="none"/>
<path d="M556 455 Q600 470 662 476" stroke="#27408F" stroke-width="2" opacity="0.6" fill="none" filter="url(#blur1)"/>
<path d="M570 362 L640 470" stroke="#A9B9E6" stroke-width="0.8" opacity="0.6"/>
<path d="M648 459 l0 5 m3 -5 l0 5 m3 -5 l0 5" stroke="#B04A5A" stroke-width="1" opacity="0.7"/>
<clipPath id="cFat"><path d="M560.1 478.7C563.6 476.8 566.8 480.2 574.3 480.6C581.7 480.9 578.9 479.1 588.0 480.1C597.1 481.1 597.0 481.9 608.6 484.2C620.2 486.5 623.5 486.4 631.4 488.8C639.4 491.2 641.9 491.2 638.3 493.4C634.6 495.6 625.6 494.8 617.7 497.0C609.8 499.2 612.8 498.6 608.6 501.6C604.3 504.6 606.0 505.7 601.7 508.5C597.4 511.2 598.1 511.9 592.6 511.9C587.1 511.9 586.6 510.6 581.1 508.5C575.7 506.3 576.4 506.9 572.0 503.9C567.6 500.8 567.6 501.3 564.7 497.0C561.8 492.8 562.5 492.8 561.3 487.9C560.0 483.0 556.6 480.7 560.1 478.7Z"/></clipPath>
<g clip-path="url(#cFat)"><rect x="555" y="475" width="90" height="42" filter="url(#fFat)"/></g>
<path d="M566 481 Q590 481 634 491" stroke="#D9A0B4" stroke-width="3" opacity="0.75" fill="none" filter="url(#blur1)"/>
<path d="M564 334.5 Q585 332 606 332 T642 331 T664 334" stroke="#BE7FA4" stroke-width="5.6" fill="none" opacity="0.9" filter="url(#blur1)"/>
<polygon points="561.6,329.4 570.0,326.4 580.0,324.0 592.0,323.0 604.0,322.6 612.0,321.2 622.0,320.4 632.0,320.0 640.0,321.6 648.0,320.4 660.0,321.6 666.0,323.6 672.0,332.0 677.6,340.0 683.2,348.4 681.6,355.2 675.6,351.0 669.6,342.4 664.0,334.4 660.0,329.4 648.0,326.4 640.0,327.2 634.0,325.2 624.0,325.2 616.0,326.4 606.0,326.6 596.0,326.0 584.0,327.2 572.0,329.8 562.4,332.4" fill="#B22C38"/>
<polygon points="607.6,324.2 614.0,322.6 622.8,322.2 620.0,324.6 612.0,326.2" fill="#fff"/>
<ellipse cx="665.5" cy="349.5" rx="5.5" ry="2" fill="#fff" transform="rotate(-12 665.5 349.5)"/>
<ellipse cx="669" cy="356" rx="6" ry="2.1" fill="#fff" transform="rotate(-14 669 356)"/>
</g>
<rect x="596" y="339.3" width="15.8" height="17.8" fill="none" stroke="#111" stroke-width="0.9"/>
<rect x="608" y="514.3" width="64" height="4" fill="#000"/>
<g clip-path="url(#cCL)"><rect x="400.5" y="524.2" width="129.5" height="189.4" filter="url(#fBG)"/>
<g filter="url(#fCell)"><g opacity="0.85"><polygon points="408.7,531.1 414.0,529.1 430.9,539.1 426.4,549.6 413.1,553.1 408.7,552.5 407.7,548.0" fill="#2E52A8"/><polygon points="429.5,509.9 430.5,509.9 435.6,532.6 433.7,536.3 431.7,537.5 415.0,527.6 418.9,514.4" fill="#26408C"/><polygon points="398.0,578.9 399.7,577.1 400.2,559.2 397.0,558.3 380.4,570.3" fill="#3A62B8"/><polygon points="401.8,559.0 408.3,554.8 412.4,555.4 417.3,571.7 413.2,576.3 401.3,576.4" fill="#5C7CC8"/><polygon points="433.2,560.1 427.1,550.7 413.5,554.3 418.8,572.0 429.9,570.7" fill="#26408C"/><polygon points="429.7,572.5 419.4,573.7 415.3,578.4 425.7,593.2 430.6,591.9 436.6,586.7" fill="#4A6EC0"/><polygon points="512.7,521.2 521.2,537.1 528.8,531.6 520.1,515.8" fill="#3A62B8"/><polygon points="431.9,614.4 438.9,609.4 431.0,594.0 426.1,595.3 420.4,600.4" fill="#3A62B8"/><polygon points="480.2,589.8 475.2,595.6 467.9,596.9 463.3,580.5 467.2,576.1 473.0,575.1" fill="#5C7CC8"/><polygon points="525.9,554.4 517.7,545.4 513.3,546.7 502.4,560.4 512.3,574.8 513.6,574.2" fill="#4A6EC0"/><polygon points="537.5,560.4 534.5,572.1 515.3,575.3 527.9,555.0" fill="#26408C"/><polygon points="430.6,632.5 426.6,626.4 416.9,622.1 400.1,638.1 400.3,638.3 402.4,639.8 424.2,640.5" fill="#2E52A8"/><polygon points="431.4,677.7 430.4,675.7 439.9,662.5 455.4,677.3 454.8,679.9 442.5,684.7" fill="#5C7CC8"/><polygon points="542.1,631.1 542.2,631.2 533.6,648.3 524.5,641.6 525.6,627.8" fill="#2E52A8"/><polygon points="406.0,726.0 401.3,721.8 409.9,707.3 421.5,707.6 416.3,722.9 410.7,726.6" fill="#5C7CC8"/><polygon points="452.9,705.3 455.8,711.0 462.7,714.1 471.6,711.8 476.0,696.7 464.1,692.7" fill="#3A62B8"/><polygon points="501.3,660.7 501.5,661.0 493.6,687.5 481.8,690.9 480.2,672.9 483.1,667.1 499.9,660.5" fill="#26408C"/></g><polygon points="395.4,516.5 402.5,528.6 390.0,534.3 383.8,535.0 382.2,524.2 385.2,519.5" fill="#6C1832"/><polygon points="404.8,507.9 416.8,514.1 413.0,526.8 407.9,528.8 404.8,527.7 397.5,515.4 401.1,509.4" fill="#6C1832"/><polygon points="380.1,545.1 397.0,556.1 400.1,557.0 406.8,552.7 405.8,548.3 390.5,536.9 384.2,537.6" fill="#983046"/><polygon points="404.2,530.0 391.9,535.6 406.4,546.5 407.3,531.0" fill="#5E1630"/><polygon points="432.5,510.1 432.5,510.1 437.2,531.1 450.5,524.7 453.4,522.0 449.1,513.0" fill="#862440"/><polygon points="457.7,501.4 474.6,511.9 473.9,515.2 460.9,522.1 456.4,521.4 452.0,512.3" fill="#8E2840"/><polygon points="447.3,560.6 450.3,559.5 454.0,549.6 435.0,539.3 433.2,540.4 429.1,550.3 434.6,558.9" fill="#9E364A"/><polygon points="455.6,548.8 434.8,537.5 436.8,533.7 451.7,526.4 456.1,548.6" fill="#6C1832"/><polygon points="460.4,546.6 456.7,547.7 452.5,526.6 455.7,523.7 460.5,524.5 466.0,538.7" fill="#8E2840"/><polygon points="482.4,537.1 485.8,531.2 475.7,516.6 461.9,523.9 467.4,538.3" fill="#8E2840"/><polygon points="499.1,519.9 493.6,528.5 486.8,529.6 477.1,515.6 477.8,512.2 479.9,509.7 494.5,503.2" fill="#983046"/><polygon points="391.0,595.0 402.6,610.0 396.0,616.9 382.5,605.7 384.2,597.9" fill="#8E2840"/><polygon points="393.1,594.9 397.7,590.2 416.9,600.4 412.6,608.2 404.0,609.0" fill="#76203C"/><polygon points="447.3,563.3 441.7,585.3 438.1,585.7 431.1,571.4 434.2,561.6" fill="#983046"/><polygon points="449.1,564.1 452.0,563.0 464.7,575.0 460.9,579.2 447.8,586.0 443.8,585.0" fill="#862440"/><polygon points="472.5,572.5 466.7,573.6 453.2,560.8 457.1,550.3 457.5,550.1 461.1,549.0 481.5,562.7 481.2,563.1" fill="#9E364A"/><polygon points="482.5,562.0 461.7,547.9 467.4,539.9 482.6,538.7 485.6,559.7" fill="#8E2840"/><polygon points="520.8,515.3 529.5,531.0 536.7,527.8 534.2,510.1 523.7,509.0" fill="#6C1832"/><polygon points="397.6,619.1 396.8,633.4 398.6,636.2 399.1,636.4 415.1,621.2 412.4,611.8 403.8,612.7" fill="#983046"/><polygon points="419.4,601.8 419.8,601.6 430.8,615.1 427.3,623.7 417.8,619.5 415.0,609.8" fill="#8E2840"/><polygon points="442.3,587.9 446.6,588.9 455.7,604.6 451.0,613.0 440.3,608.9 432.4,593.6 438.6,588.3" fill="#5E1630"/><polygon points="462.1,581.1 447.8,588.5 457.2,604.6 460.7,603.8 466.8,598.0" fill="#862440"/><polygon points="489.0,591.2 481.6,589.4 474.3,574.5 482.9,565.1 493.6,584.2" fill="#983046"/><polygon points="494.8,583.4 510.7,576.8 510.7,576.7 500.2,561.2 487.1,561.2 484.0,563.4 483.8,563.9" fill="#5E1630"/><polygon points="538.2,557.7 543.6,555.5 546.3,538.7 544.8,532.7 537.1,530.3 530.1,533.3 522.8,538.5 520.1,543.1 528.6,552.3" fill="#5E1630"/><polygon points="391.2,666.2 389.8,665.7 398.6,641.5 400.7,642.9 409.8,661.5 407.7,663.2" fill="#8E2840"/><polygon points="423.8,643.0 403.2,642.2 412.2,660.6 413.3,660.8 425.3,650.5" fill="#862440"/><polygon points="433.3,631.5 429.1,625.2 432.8,616.1 439.9,611.0 451.0,615.3 451.0,615.7 444.1,629.3 441.9,632.0" fill="#82203A"/><polygon points="446.2,629.6 470.5,631.8 471.9,629.0 452.9,616.5" fill="#862440"/><polygon points="480.6,622.7 472.8,627.9 453.7,615.3 453.6,614.9 458.3,606.5 461.6,605.8 481.6,618.6 482.4,619.5" fill="#82203A"/><polygon points="467.8,598.8 461.6,604.5 482.4,617.8 475.4,597.4" fill="#983046"/><polygon points="487.3,617.2 484.2,618.6 483.5,617.7 476.6,597.7 481.7,591.8 489.2,593.6 497.1,604.8" fill="#9E364A"/><polygon points="510.1,601.4 499.0,603.1 491.4,592.4 495.9,585.6 511.0,579.4 512.8,587.2 510.9,600.5" fill="#6C1832"/><polygon points="520.0,601.2 513.2,600.9 515.1,587.3 535.4,589.9 535.2,595.3" fill="#6C1832"/><polygon points="534.6,573.4 539.6,582.6 536.1,588.7 514.6,586.0 512.6,577.6 512.7,577.5 514.1,576.8" fill="#9E364A"/><polygon points="402.5,683.6 407.9,665.4 391.1,668.4" fill="#5E1630"/><polygon points="403.3,684.5 403.5,685.2 407.7,685.5 425.4,675.1 412.7,663.4 411.4,663.1 409.1,665.0" fill="#82203A"/><polygon points="428.7,674.2 426.8,673.7 414.9,662.8 427.4,652.0 438.3,660.7 438.2,661.0" fill="#76203C"/><polygon points="448.3,650.3 439.4,658.3 428.6,649.6 427.0,641.8 433.4,633.9 441.6,634.3 449.0,646.3" fill="#6C1832"/><polygon points="470.0,656.9 471.6,645.7 468.9,640.4 452.3,647.0 451.6,650.9 462.0,659.4" fill="#983046"/><polygon points="451.2,645.2 443.7,633.2 445.7,630.7 469.8,632.9 468.3,638.5" fill="#9E364A"/><polygon points="488.2,619.5 485.2,620.8 483.5,623.9 490.6,635.1 504.7,634.1 506.0,628.9" fill="#76203C"/><polygon points="510.0,604.6 499.2,606.3 490.0,617.9 507.4,627.2 516.1,622.2" fill="#862440"/><polygon points="519.5,602.8 512.6,602.5 511.7,603.4 518.2,622.2 522.9,624.0 531.7,611.1" fill="#6C1832"/><polygon points="543.4,607.2 533.1,610.7 520.6,602.1 536.6,596.0 543.4,607.2" fill="#5E1630"/><polygon points="388.1,700.0 392.7,698.2 408.3,706.4 399.9,720.6 390.7,716.8" fill="#9E364A"/><polygon points="421.4,700.3 407.7,686.9 403.4,686.6 393.3,697.1 409.8,705.8 422.0,706.0 422.5,705.6" fill="#8E2840"/><polygon points="422.0,699.0 408.7,686.1 426.2,675.7 428.2,676.2 429.4,678.3" fill="#6C1832"/><polygon points="423.1,699.9 430.1,680.2 441.0,687.2 440.6,700.1 429.7,705.5 424.2,704.8" fill="#983046"/><polygon points="456.5,675.7 458.4,673.5 460.5,661.4 450.0,652.7 441.1,660.7 441.1,661.1" fill="#9E364A"/><polygon points="478.6,672.2 460.8,673.9 463.0,661.7 471.2,659.0 481.3,666.9" fill="#6C1832"/><polygon points="491.2,651.4 474.8,646.7 473.3,657.7 482.9,665.2 497.7,659.3" fill="#82203A"/><polygon points="491.0,637.4 505.9,636.3 507.2,648.8 501.6,659.2 500.3,658.9 493.2,650.3" fill="#8E2840"/><polygon points="522.3,626.3 517.8,624.6 509.0,629.7 507.6,634.9 508.9,646.8 522.2,641.3 523.2,627.3" fill="#9E364A"/><polygon points="543.1,608.5 542.7,629.4 525.1,625.9 524.1,624.9 533.0,611.9" fill="#5E1630"/><polygon points="423.8,707.7 423.3,708.0 418.5,722.3 432.1,729.3 437.5,723.2 429.1,708.4" fill="#9E364A"/><polygon points="431.2,707.6 439.8,722.8 442.0,722.6 453.0,712.0 450.0,706.3 442.1,702.2" fill="#9E364A"/><polygon points="442.8,699.9 451.1,704.1 462.9,690.8 456.0,681.6 443.3,686.6" fill="#82203A"/><polygon points="457.1,680.6 464.4,690.3 477.6,694.8 478.9,694.1 480.8,691.5 479.2,673.5 459.9,675.3 457.8,677.7" fill="#862440"/><polygon points="498.0,688.2 512.4,683.7 503.7,663.5 502.0,662.5 494.7,687.0" fill="#82203A"/><polygon points="514.1,684.2 514.7,684.6 528.5,678.6 529.0,677.2 528.9,664.3 504.7,662.3" fill="#983046"/><polygon points="502.7,659.9 502.9,660.2 504.7,661.4 528.6,663.3 534.9,658.4 532.7,650.6 522.7,643.3 508.4,649.2" fill="#6C1832"/><polygon points="461.3,716.8 459.4,728.8 454.8,733.0 443.8,724.1 454.6,713.7" fill="#5E1630"/><polygon points="476.5,718.7 472.3,714.3 463.6,716.6 461.7,728.6 473.3,732.8" fill="#9E364A"/><polygon points="499.0,715.4 500.2,712.4 479.9,696.0 478.7,696.7 474.1,712.6 478.5,717.3 492.0,720.7" fill="#983046"/><polygon points="505.8,706.8 497.0,690.6 493.7,689.3 482.6,692.5 480.9,694.9 500.8,711.0" fill="#8E2840"/><polygon points="514.2,704.4 508.1,706.2 499.7,690.8 513.5,686.4 514.0,686.8 517.1,699.3 516.2,701.8" fill="#983046"/><polygon points="528.2,680.3 534.2,692.0 519.0,698.2 515.9,685.6" fill="#6C1832"/><polygon points="531.0,678.4 530.5,679.6 536.7,691.5 540.0,692.6 550.8,688.6 551.8,685.9 550.2,679.8" fill="#9E364A"/><polygon points="536.5,659.8 530.7,664.3 530.8,676.1 549.9,677.5 550.4,662.4" fill="#983046"/><polygon points="525.3,723.7 523.6,725.2 511.1,727.7 501.7,716.1 502.8,713.2 507.9,709.0 514.4,707.1" fill="#8E2840"/><polygon points="537.9,710.1 518.0,703.7 515.8,706.5 527.1,723.7 532.0,723.5 539.1,720.7 540.7,716.4" fill="#8E2840"/><polygon points="537.6,708.7 538.6,694.4 535.3,693.3 519.4,699.8 518.4,702.4" fill="#5E1630"/></g>
<ellipse cx="483.5" cy="674" rx="7.5" ry="6" fill="#4E6EC0" transform="rotate(30 483.5 674)"/><ellipse cx="483.5" cy="674" rx="3.6" ry="2.5" fill="#C99AB4" transform="rotate(30 483.5 674)"/><ellipse cx="483.8" cy="674" rx="1.4" ry="1" fill="#F2E8EE"/>
</g>
<g clip-path="url(#cCR)"><rect x="549.8" y="524.2" width="129" height="189.4" filter="url(#fCR)"/>
<ellipse cx="590" cy="685" rx="34" ry="22" fill="#2C48A8" opacity="0.35" filter="url(#blur4)"/>
<ellipse cx="575" cy="600" rx="18" ry="30" fill="#2C48A8" opacity="0.2" filter="url(#blur4)"/>
<ellipse cx="640" cy="560" rx="40" ry="25" fill="#B8C8F0" opacity="0.2" filter="url(#blur4)"/>
<path d="M592 627 L603 637" stroke="#D0407A" stroke-width="1.5" stroke-linecap="round"/>
<ellipse cx="606" cy="611" rx="3.5" ry="2.5" fill="#E4EAF6" opacity="0.9"/>
</g>
<rect x="591.8" y="706.6" width="83.2" height="3.3" fill="#fff"/>
<text transform="translate(1 797.7) scale(0.93 1)" font-size="15" font-weight="bold" fill="#000" stroke="#000" stroke-width="0.4">G</text>
<path d="M41.4 815V982.3H205.5" fill="none" stroke="#222" stroke-width="1"/>
<line x1="38.8" y1="974.3" x2="41.4" y2="974.3" stroke="#222" stroke-width="1"/>
<text x="36.4" y="977.8" font-size="9.7" text-anchor="end" fill="#000" >−10</text>
<line x1="38.8" y1="934.3" x2="41.4" y2="934.3" stroke="#222" stroke-width="1"/>
<text x="36.4" y="937.8" font-size="9.7" text-anchor="end" fill="#000" >−5</text>
<line x1="38.8" y1="894.3" x2="41.4" y2="894.3" stroke="#222" stroke-width="1"/>
<text x="36.4" y="897.8" font-size="9.7" text-anchor="end" fill="#000" >0</text>
<line x1="38.8" y1="854.3" x2="41.4" y2="854.3" stroke="#222" stroke-width="1"/>
<text x="36.4" y="857.8" font-size="9.7" text-anchor="end" fill="#000" >5</text>
<line x1="57.7" y1="982.3" x2="57.7" y2="984.9" stroke="#222" stroke-width="1"/>
<text x="57.7" y="995.1" font-size="9.7" text-anchor="middle" fill="#000" >−10</text>
<line x1="101.4" y1="982.3" x2="101.4" y2="984.9" stroke="#222" stroke-width="1"/>
<text x="101.4" y="995.1" font-size="9.7" text-anchor="middle" fill="#000" >−5</text>
<line x1="145.1" y1="982.3" x2="145.1" y2="984.9" stroke="#222" stroke-width="1"/>
<text x="145.1" y="995.1" font-size="9.7" text-anchor="middle" fill="#000" >0</text>
<line x1="188.8" y1="982.3" x2="188.8" y2="984.9" stroke="#222" stroke-width="1"/>
<text x="188.8" y="995.1" font-size="9.7" text-anchor="middle" fill="#000" >5</text>
<text x="124.7" y="806.2" font-size="11.5" text-anchor="middle" fill="#000" >IFNG Score</text>
<text transform="translate(20.8 898) rotate(-90)" font-size="11" text-anchor="middle" fill="#000" >UMAP_2</text>
<text x="123.6" y="1007.6" font-size="11" text-anchor="middle" fill="#000" >UMAP_1</text>
<path d="M143.8 886.1h0M73.5 908.8h0M141.6 865.1h0M169.0 924.4h0M69.0 907.0h0M169.3 929.5h0M140.8 894.5h0M162.9 931.5h0M168.8 870.9h0M174.0 916.2h0M164.4 927.1h0M126.0 857.1h0M185.9 880.5h0M166.5 945.1h0M178.2 899.7h0M126.9 896.0h0M148.3 884.4h0M113.5 862.8h0M141.9 830.7h0M137.8 893.1h0M180.5 890.5h0M141.8 837.9h0M137.4 866.9h0M158.9 919.0h0M137.0 896.7h0M130.0 896.6h0M128.0 889.2h0M111.9 858.9h0M65.3 909.9h0M168.6 838.1h0M186.8 879.5h0M188.7 887.9h0M119.2 897.9h0M160.3 938.5h0M55.3 913.1h0M176.8 899.2h0M102.7 861.1h0M135.8 895.7h0M175.2 909.2h0M113.5 891.9h0M159.6 883.9h0M175.1 883.1h0M166.5 912.1h0M190.5 887.4h0M149.4 918.9h0M114.0 864.3h0M159.2 908.7h0M128.1 853.9h0M116.9 855.1h0M125.7 882.8h0M161.8 838.0h0M150.4 838.8h0M157.9 934.0h0M123.3 889.5h0M97.9 907.2h0M184.1 891.2h0M145.3 837.2h0M142.7 827.1h0M160.3 926.9h0M167.7 924.0h0M155.9 956.8h0M162.1 916.7h0M161.9 911.4h0M112.8 864.1h0M180.3 911.9h0M153.6 854.3h0M154.4 953.1h0M175.8 926.2h0M175.3 932.1h0M135.5 887.5h0M108.8 861.4h0M186.5 894.0h0M177.1 894.9h0M142.7 866.3h0M119.2 874.0h0M165.4 909.8h0M179.9 868.9h0M175.8 925.9h0M166.4 878.1h0M148.2 895.3h0M112.4 886.5h0M116.5 875.8h0M161.5 919.6h0M175.7 882.6h0M155.0 835.2h0M144.2 831.5h0M182.7 894.3h0M121.9 884.5h0M95.1 905.9h0M175.0 930.3h0M159.7 947.4h0M162.4 920.2h0M173.5 917.8h0M162.9 882.7h0M191.3 882.8h0M54.7 909.6h0M171.9 924.9h0M189.2 874.5h0M114.5 907.9h0M155.1 911.6h0M141.9 838.4h0M55.4 910.0h0M148.2 926.9h0M171.1 919.3h0M183.8 903.1h0M151.1 949.7h0M142.8 893.9h0M153.5 949.6h0M186.4 880.5h0M124.7 894.3h0M180.4 894.4h0M107.5 862.1h0M54.3 911.0h0M181.5 899.2h0M146.6 832.7h0M150.0 837.4h0M167.1 909.2h0M114.1 892.4h0M184.7 874.6h0M183.6 869.7h0M134.8 876.3h0M103.8 860.1h0M177.1 874.9h0M177.8 922.0h0M169.8 908.4h0M166.9 879.4h0M126.5 893.4h0M161.9 937.9h0M126.8 902.6h0M142.4 963.0h0M182.7 884.1h0M167.5 919.2h0M153.0 877.1h0M61.3 911.1h0M146.0 964.4h0M185.9 894.0h0M114.8 859.7h0M167.2 905.3h0M180.3 876.5h0M176.8 868.3h0M125.3 855.5h0M158.1 934.0h0M164.4 873.7h0M141.6 869.5h0M176.1 931.1h0M167.6 834.0h0M131.3 878.5h0M165.0 911.5h0M117.4 852.1h0M168.6 889.2h0M173.3 874.9h0M149.3 918.7h0M149.2 877.4h0M168.6 900.4h0M141.9 862.5h0M143.2 833.7h0M152.1 835.1h0M164.1 913.2h0M123.2 887.7h0M191.2 879.5h0M175.7 900.7h0M179.6 911.8h0M124.4 897.0h0M162.0 952.9h0M153.0 854.0h0M163.8 896.3h0M155.3 952.8h0M105.5 861.3h0M181.0 885.5h0M112.1 892.5h0M174.7 934.8h0M118.3 876.7h0M130.3 852.9h0M147.3 879.5h0M123.3 890.2h0M137.3 859.1h0M149.9 950.5h0M56.5 914.2h0M147.9 832.0h0M185.5 877.0h0M113.3 898.4h0M56.0 909.8h0M125.8 891.8h0M144.0 896.7h0M120.0 893.2h0M117.4 888.6h0M166.8 833.4h0M110.0 887.8h0M136.3 873.1h0M134.7 874.5h0M162.4 927.0h0M161.9 953.1h0M107.4 897.8h0M126.4 861.8h0M163.5 910.4h0M158.9 941.8h0M119.6 855.4h0M113.9 860.8h0M161.2 904.4h0M143.0 964.4h0M137.7 866.0h0M178.2 895.7h0M124.5 862.4h0M180.9 890.8h0M113.1 897.8h0M145.6 862.5h0M167.4 943.8h0M105.2 858.9h0M176.4 873.3h0M147.2 836.6h0M131.4 849.8h0M111.7 860.2h0M106.8 859.3h0M144.9 829.1h0M170.1 917.4h0M184.4 897.9h0M58.6 910.6h0M111.0 867.6h0M136.4 893.0h0M132.7 848.8h0M136.8 855.6h0M108.7 899.0h0M156.0 920.2h0M119.1 888.7h0M125.9 862.7h0M168.0 835.9h0M180.2 887.2h0M140.3 896.1h0M159.4 944.4h0M57.2 905.6h0M106.5 861.8h0M114.7 868.0h0M158.0 885.7h0M127.6 894.1h0M165.2 895.3h0M174.3 872.8h0M127.4 884.6h0M167.9 831.8h0M153.3 938.5h0M128.7 851.8h0M65.1 911.2h0M153.1 958.4h0M158.9 894.9h0M153.4 934.6h0M158.4 890.9h0M166.3 832.9h0M164.3 941.2h0M173.5 878.9h0M188.1 880.0h0M140.5 894.3h0M68.3 910.4h0M167.5 937.0h0M147.5 876.8h0M162.6 902.4h0M181.3 895.4h0M150.6 831.4h0M118.7 852.6h0M176.0 897.7h0M155.9 926.5h0M167.7 906.3h0M164.0 905.5h0M131.0 878.6h0M125.5 859.7h0M135.2 845.0h0M163.2 914.5h0M176.6 922.8h0M95.7 907.4h0M170.5 837.4h0M119.9 879.5h0M170.0 938.4h0M144.7 834.6h0M172.0 937.7h0M129.6 879.8h0M152.0 932.2h0M56.0 911.3h0M113.8 895.8h0M172.9 880.4h0M142.6 850.6h0M114.6 855.2h0M109.9 866.1h0M143.0 836.1h0M129.5 899.7h0M165.9 941.3h0M137.5 900.4h0M158.1 935.8h0M120.2 901.2h0M105.0 896.3h0M147.3 832.1h0M167.2 936.5h0M148.5 878.8h0M159.0 928.8h0M160.5 923.1h0M180.1 880.9h0M124.4 900.0h0M140.3 830.9h0M164.0 928.7h0M184.8 901.6h0M125.6 893.9h0M163.3 877.4h0M183.1 878.2h0M168.1 912.3h0M172.0 836.0h0M125.4 896.2h0M147.2 903.9h0M162.2 921.6h0M177.1 892.3h0M114.8 875.3h0M120.2 856.7h0M165.0 907.1h0M127.7 850.6h0M163.3 935.9h0M166.9 912.4h0M176.1 883.2h0M147.7 887.0h0M164.1 843.5h0M112.8 870.3h0M133.2 893.5h0M96.4 906.7h0M168.6 925.7h0M169.3 921.0h0M104.3 861.1h0M173.4 891.9h0M151.5 868.7h0M167.6 927.3h0M125.8 894.9h0M113.8 891.4h0M177.2 873.6h0M173.2 873.7h0M110.0 860.7h0M162.2 920.5h0M172.6 919.4h0M135.0 890.9h0M182.8 907.8h0M131.8 879.8h0M124.3 892.1h0M186.2 901.2h0M178.7 898.6h0M147.5 837.6h0M178.2 875.1h0M119.1 887.2h0M63.7 911.9h0M135.7 887.8h0M123.4 889.8h0M106.8 860.9h0M144.8 850.6h0M141.2 895.3h0M184.5 896.4h0M125.6 857.8h0M168.9 937.9h0M166.6 889.8h0M143.5 955.9h0M121.3 852.1h0M143.6 862.5h0M159.8 922.0h0M119.1 880.5h0M141.6 834.7h0M169.9 887.3h0M114.4 862.7h0M181.9 908.7h0M162.8 948.1h0M181.0 896.5h0M110.4 862.3h0M163.9 872.9h0M117.0 893.8h0M155.1 907.3h0M169.0 909.4h0M106.1 865.4h0M115.3 851.1h0M154.3 954.2h0M144.6 953.9h0M155.7 934.5h0M142.1 828.7h0M142.9 894.0h0M160.5 911.2h0M147.4 874.7h0M111.2 894.0h0M145.4 833.4h0M140.2 961.1h0M176.4 893.1h0M168.4 835.4h0M134.4 848.7h0M187.1 871.2h0M126.1 860.7h0M161.1 951.4h0M166.2 940.3h0M153.7 894.5h0M179.1 895.1h0M177.6 904.9h0M180.6 907.1h0M182.2 881.7h0M117.6 891.4h0M181.7 893.1h0M187.0 884.1h0M120.0 884.2h0M160.4 911.3h0M134.0 889.7h0M101.9 910.4h0M162.6 943.4h0M177.7 894.6h0M156.6 920.2h0M113.5 872.2h0M127.6 903.2h0M149.1 845.1h0M174.3 900.6h0M155.0 910.1h0M174.1 876.9h0M132.0 851.8h0M149.3 958.2h0M161.2 927.6h0M190.7 874.4h0M119.9 870.9h0M159.2 927.0h0M142.3 839.8h0M120.3 856.0h0M159.9 945.6h0M148.3 960.8h0M58.7 911.3h0M111.5 861.6h0M113.9 880.5h0M124.4 897.9h0M161.5 943.5h0M157.7 936.4h0M109.0 898.7h0M154.6 964.4h0M171.7 887.0h0M128.4 848.9h0M104.7 865.1h0M122.8 883.5h0M110.7 884.2h0M113.9 889.6h0M177.9 894.0h0M186.1 888.6h0M150.4 831.6h0M130.8 899.9h0M151.0 896.1h0M171.5 890.1h0M181.4 878.8h0M120.7 853.5h0M147.9 832.7h0M159.1 942.5h0M152.1 920.5h0M180.5 899.6h0M178.1 895.0h0M118.2 881.6h0M167.6 911.4h0M149.7 907.7h0M171.9 874.6h0M134.0 845.7h0M139.4 892.6h0M114.0 850.3h0M107.4 857.6h0M182.1 882.4h0M142.4 841.1h0M116.2 857.1h0M109.3 861.4h0M154.4 904.9h0M146.8 956.4h0M168.0 878.4h0M157.0 918.9h0M181.7 882.8h0M134.8 865.6h0M164.1 943.5h0M166.9 840.3h0M130.6 891.9h0M180.4 915.4h0M164.7 930.4h0M131.3 853.3h0M184.9 898.4h0M132.3 850.9h0M150.2 856.2h0M68.4 910.2h0M176.1 869.3h0M159.1 934.1h0M155.0 946.9h0M175.9 883.2h0M129.0 852.1h0M163.2 842.1h0M148.0 835.2h0M165.8 921.7h0M168.3 935.9h0M152.8 938.7h0M134.4 872.8h0M107.9 856.5h0M70.8 912.3h0M144.0 881.8h0M168.2 925.7h0M161.0 913.2h0M140.7 831.0h0M115.7 863.1h0M155.9 832.1h0M170.2 919.5h0M159.3 917.8h0M166.8 912.3h0M97.1 908.3h0M166.3 874.2h0M145.7 829.7h0M136.0 879.7h0M133.7 889.8h0M148.2 890.7h0M126.0 890.6h0M150.4 946.2h0M111.3 858.4h0M139.0 889.9h0M163.0 881.6h0M134.4 847.1h0M163.3 836.1h0M156.3 935.2h0M72.5 913.6h0M157.6 913.0h0M59.5 913.0h0M179.9 889.3h0M175.5 928.9h0M118.9 860.0h0M145.0 944.5h0M124.5 900.1h0M169.2 837.0h0M158.4 960.6h0M168.2 944.6h0M137.2 857.7h0M57.6 903.6h0M57.6 912.2h0M148.6 836.7h0M154.8 895.7h0M166.7 942.5h0M110.4 906.0h0M164.0 933.1h0M112.7 882.1h0M159.3 949.0h0M143.1 827.3h0M134.0 895.0h0M119.6 893.3h0M179.8 892.3h0M112.3 863.6h0M131.2 896.8h0M111.2 897.8h0M56.7 904.0h0M174.4 877.8h0M144.7 959.2h0M126.9 899.3h0M121.9 878.4h0M120.7 859.8h0M95.0 906.8h0M181.8 882.6h0M116.4 859.3h0M101.3 907.0h0M112.3 856.6h0M109.0 888.5h0M129.2 889.5h0M166.7 914.9h0M117.2 882.9h0M184.1 909.2h0M171.6 881.9h0M186.0 883.6h0M176.2 869.7h0M167.9 830.9h0M152.4 925.1h0M161.2 932.4h0M182.7 895.9h0M182.1 883.1h0M156.4 914.2h0M181.2 895.2h0M106.6 866.4h0M147.6 918.8h0M161.3 907.2h0M144.5 836.5h0M167.0 897.4h0M108.3 906.8h0M164.0 928.0h0M166.2 837.0h0M55.4 908.4h0M107.4 899.2h0M145.9 837.6h0M170.8 874.6h0M158.9 926.7h0M154.4 834.7h0M147.5 949.4h0M107.8 856.3h0M183.9 907.0h0M149.9 956.8h0M167.8 908.5h0M135.3 865.9h0M167.4 909.1h0M149.4 896.3h0M126.4 858.4h0M122.1 896.7h0M154.7 958.5h0M112.8 864.2h0M120.8 901.0h0M169.1 904.4h0M117.1 862.3h0M177.3 882.6h0M159.2 926.7h0M153.0 922.0h0M119.8 869.6h0M145.8 858.2h0M160.3 882.3h0M130.5 850.6h0M117.9 858.4h0M142.3 827.0h0M162.0 948.7h0M108.2 861.8h0M159.6 899.7h0M152.3 895.6h0M177.7 884.6h0M114.6 903.5h0M130.6 848.2h0M118.6 895.7h0M158.3 898.3h0M170.1 938.5h0M145.2 951.1h0M103.5 858.1h0M157.6 881.8h0M148.4 948.6h0M56.9 913.8h0M113.1 888.3h0M148.4 839.9h0M186.1 889.6h0M108.4 858.1h0M62.3 910.4h0M138.8 865.3h0M63.1 911.9h0M146.8 840.6h0M120.6 890.5h0M140.1 829.4h0M132.9 896.5h0M71.0 910.3h0M138.5 866.4h0M178.7 889.2h0M161.2 935.2h0M142.0 831.7h0M174.7 886.2h0M152.3 914.0h0M112.8 859.8h0M127.4 856.7h0M145.7 943.4h0M130.5 849.4h0M113.8 884.3h0M159.7 934.6h0M160.4 944.2h0M187.3 878.1h0M162.2 919.5h0M173.1 925.9h0M169.1 888.2h0M112.6 890.9h0M158.3 937.8h0M175.5 882.4h0M175.6 906.5h0M153.8 899.6h0M150.1 857.6h0M109.7 862.5h0M181.1 887.8h0M117.2 903.8h0M141.0 864.3h0M130.4 877.3h0M181.4 872.6h0M169.4 836.7h0M144.5 836.8h0M181.0 892.8h0M158.5 940.0h0M161.1 901.6h0M151.3 953.2h0M142.1 836.6h0M153.2 948.6h0M165.5 900.8h0M126.2 892.0h0M117.5 873.8h0M162.6 941.1h0M155.9 906.1h0M149.8 923.8h0M177.8 887.1h0M164.6 903.9h0M182.0 888.1h0M132.3 883.0h0M171.5 923.5h0M128.1 885.8h0M109.3 885.7h0M119.5 881.9h0M107.8 859.2h0M122.3 882.1h0M141.3 884.7h0M151.7 949.6h0M150.0 958.6h0M160.1 938.9h0M136.8 891.2h0M142.7 854.4h0M159.8 923.2h0M147.7 845.7h0M161.9 835.2h0M162.1 940.0h0M124.1 878.7h0M142.9 832.7h0M147.7 839.2h0M124.2 887.4h0M162.8 949.4h0M162.7 945.9h0M139.5 824.9h0M181.8 883.4h0M174.0 914.0h0M108.9 868.6h0M127.8 888.4h0M142.9 834.1h0M124.9 896.9h0M142.8 881.7h0M139.6 864.0h0M149.6 877.3h0M131.9 850.3h0M151.0 874.7h0M143.8 861.5h0M185.8 870.0h0M165.7 901.6h0M147.8 882.3h0M172.7 878.2h0M114.6 894.2h0M178.6 906.3h0M107.4 864.2h0M169.6 837.1h0M119.1 855.6h0M137.4 863.3h0M152.5 920.1h0M161.3 942.9h0M159.2 911.5h0M169.2 836.9h0M163.4 880.3h0M153.8 830.9h0M161.4 901.3h0M165.7 940.9h0M146.2 834.3h0M153.2 954.0h0M151.4 920.9h0M183.4 878.0h0M150.2 832.9h0M139.6 900.3h0M149.4 956.0h0M164.4 939.7h0M171.9 909.3h0M164.7 880.4h0M170.3 876.4h0M129.6 852.4h0M133.7 882.4h0M124.5 890.2h0M178.1 872.8h0M139.0 870.9h0M119.9 880.4h0M121.1 902.9h0M185.2 878.5h0M157.1 943.6h0M180.2 894.9h0M145.6 830.1h0M167.7 881.3h0M163.2 903.7h0M157.8 924.4h0M157.2 910.7h0M171.6 936.3h0M131.4 851.1h0M181.4 913.4h0M148.9 923.6h0M156.1 849.1h0M120.3 873.0h0M62.6 907.8h0M146.5 834.3h0M131.8 851.5h0M135.3 865.6h0M104.4 896.1h0M184.9 900.2h0M109.2 860.5h0M147.0 837.4h0M111.1 862.9h0M125.6 893.4h0M135.2 847.1h0M162.3 874.6h0M173.6 874.1h0M171.2 910.6h0M142.8 883.9h0M173.0 895.2h0M159.6 952.0h0M182.6 897.6h0M137.3 896.1h0M150.6 916.5h0M188.7 882.8h0M154.0 908.8h0M179.1 881.8h0M119.0 886.6h0M177.3 893.2h0M174.0 876.8h0M175.8 892.7h0M165.4 832.7h0M172.0 926.0h0M168.9 923.1h0M147.1 863.2h0M139.3 882.3h0M150.5 955.6h0M113.9 857.1h0M159.9 889.9h0M136.7 882.6h0M113.5 852.0h0M163.6 939.5h0M184.1 890.8h0M133.6 882.8h0M157.4 931.3h0M165.9 841.7h0M168.8 923.4h0M158.9 904.4h0M160.9 925.4h0M135.6 889.7h0M182.7 875.4h0M98.2 905.6h0M177.4 880.4h0M140.6 862.0h0M179.7 885.9h0M172.9 887.2h0M175.1 905.8h0M179.4 891.2h0M96.1 905.2h0M136.8 857.5h0M108.9 864.4h0M184.9 880.1h0M179.7 894.6h0M166.8 837.8h0M147.1 836.5h0M163.0 919.0h0M122.9 894.0h0M185.6 874.9h0M179.0 873.8h0M117.9 888.2h0M148.9 901.2h0M151.4 934.3h0M144.8 830.2h0M64.8 908.3h0M113.7 900.1h0M170.7 930.9h0M167.2 923.5h0M174.6 909.6h0M189.2 883.8h0M157.5 937.0h0M173.2 907.2h0M164.5 919.6h0M165.2 838.5h0M154.7 958.7h0M162.1 944.1h0M130.4 892.1h0M152.7 961.3h0M185.5 889.7h0M146.8 950.6h0M179.0 900.3h0M106.8 862.5h0M167.9 930.0h0M113.4 889.8h0M170.7 872.5h0M125.4 862.7h0M152.4 887.1h0M181.2 901.4h0M163.9 930.0h0M154.0 935.1h0M133.4 879.8h0M132.0 888.7h0M158.7 890.3h0M174.0 881.7h0M152.5 883.0h0M132.7 847.5h0M180.6 905.8h0M145.0 851.4h0M165.1 837.1h0M151.6 914.4h0M126.1 887.0h0M128.5 851.2h0M158.2 916.3h0M117.4 891.2h0M180.4 922.1h0M146.2 950.8h0M159.3 945.7h0M129.9 892.2h0M164.1 914.9h0M174.3 914.1h0M180.2 896.6h0M164.8 888.7h0M170.9 921.8h0M133.1 849.9h0M178.4 918.1h0M181.2 883.7h0M163.8 936.1h0M177.0 887.0h0M145.4 855.3h0M128.6 853.3h0M180.1 882.8h0M164.7 907.4h0M179.0 899.5h0M142.4 837.0h0M183.8 875.6h0M175.7 876.2h0M136.8 900.6h0M166.3 939.8h0M157.0 939.9h0M184.8 883.1h0M162.2 951.3h0M146.7 962.2h0M136.1 892.6h0M108.5 864.2h0M161.6 912.8h0M54.2 910.2h0M166.8 913.0h0M163.2 916.2h0M113.2 859.4h0M174.4 910.8h0M174.6 919.3h0M167.0 937.3h0M180.9 885.8h0M133.8 849.8h0M111.1 857.8h0M168.1 832.1h0M175.0 895.4h0M172.6 931.9h0M176.9 895.1h0M133.4 894.5h0M182.4 884.1h0M145.5 963.8h0M119.2 870.5h0M123.9 887.3h0M126.0 863.0h0M133.9 896.8h0M141.3 955.4h0M158.8 921.4h0M118.6 889.2h0M116.8 847.2h0M132.9 896.6h0M61.4 910.2h0M172.8 871.5h0M149.7 851.8h0M176.8 911.1h0M159.2 953.3h0M128.6 856.2h0M178.5 870.5h0M171.4 878.3h0M126.6 855.9h0M130.6 850.9h0M65.5 911.9h0M184.8 907.9h0M157.3 905.7h0M175.7 916.7h0M113.9 857.2h0M182.4 898.7h0M109.3 863.1h0M141.2 873.5h0M169.0 878.0h0M187.0 891.7h0M118.7 887.3h0M162.8 893.9h0M163.1 941.2h0M106.3 861.2h0M177.7 917.9h0M188.4 894.4h0M155.0 885.2h0M170.8 835.4h0M116.6 867.8h0M177.2 878.4h0M153.8 921.2h0M181.2 891.8h0M102.1 909.0h0M111.0 858.4h0M106.6 863.6h0M165.2 915.9h0M147.2 880.3h0M180.9 903.4h0M144.0 892.0h0M132.4 886.4h0M182.3 896.6h0M143.7 828.9h0M165.1 901.2h0M173.5 907.6h0M152.8 882.9h0M167.4 887.7h0M185.8 896.2h0M153.0 956.8h0M132.0 851.0h0M129.1 877.4h0M170.6 872.9h0M159.6 941.6h0M107.2 860.6h0M97.7 907.6h0M141.0 834.7h0M111.5 889.6h0M181.0 876.6h0M181.0 879.2h0M168.6 934.9h0M112.7 888.6h0M145.3 834.6h0M175.4 914.2h0M159.2 943.8h0M170.4 922.1h0M169.9 833.7h0M110.6 862.9h0M152.7 937.0h0M121.2 889.7h0M174.1 890.0h0M162.7 887.5h0M165.8 929.4h0M181.2 896.2h0M112.2 864.9h0M156.8 894.1h0M148.6 887.5h0M118.0 876.3h0M180.8 896.7h0M133.8 900.8h0M113.2 884.9h0M116.8 868.1h0M176.0 888.3h0M108.3 897.5h0M147.7 913.8h0M57.9 910.2h0M130.2 901.3h0M152.2 895.6h0M159.0 943.8h0M182.4 896.3h0M115.4 856.3h0M172.2 932.8h0M166.6 834.0h0M140.2 831.8h0M149.2 923.2h0M161.3 952.2h0M122.3 888.5h0M154.3 906.5h0M128.6 898.9h0M159.9 935.7h0M108.0 889.6h0M177.9 880.8h0M143.5 839.8h0M164.6 941.5h0M135.9 845.8h0M119.1 896.1h0M167.6 923.3h0M153.8 852.8h0M125.6 861.4h0M160.1 932.5h0M163.3 909.7h0M115.3 860.5h0M135.2 898.6h0M153.0 833.2h0M146.5 833.6h0M144.8 942.2h0M144.9 954.4h0M177.8 873.4h0M169.3 940.7h0M152.3 898.6h0M141.4 826.6h0M183.3 870.9h0M179.5 922.9h0M139.6 903.5h0M122.0 903.2h0M124.4 887.5h0M171.3 914.0h0M145.7 957.4h0M183.9 878.2h0M132.9 848.1h0M165.3 930.4h0M120.4 890.5h0M163.2 918.7h0M160.3 923.3h0M160.0 891.0h0M164.1 936.7h0M164.7 883.8h0M160.9 904.8h0M121.9 899.0h0M140.8 892.5h0M166.7 928.8h0M143.7 900.6h0M161.5 884.0h0M160.0 946.6h0M142.8 863.9h0M182.7 870.4h0M183.0 891.0h0M165.5 911.6h0M148.1 966.8h0M148.1 839.5h0M161.7 878.2h0M111.1 861.3h0M136.7 891.6h0M173.0 922.8h0M166.1 836.7h0M97.9 908.5h0M158.5 909.9h0M114.5 885.1h0M163.8 875.0h0M175.4 882.1h0M174.7 910.5h0M159.5 925.2h0M125.6 857.7h0M170.1 919.3h0M128.8 886.1h0M129.3 888.8h0M156.9 934.7h0M104.2 893.9h0M174.7 921.8h0M178.0 924.2h0M156.1 958.5h0M163.8 891.5h0M155.7 880.1h0M155.1 936.5h0M120.8 885.5h0M139.2 854.9h0M158.0 944.2h0M119.4 873.2h0M119.6 882.1h0M170.4 911.8h0M161.3 930.3h0M174.4 882.9h0M116.6 896.8h0M108.4 895.1h0M119.5 890.7h0M68.9 910.2h0M180.0 882.8h0M141.4 897.1h0M170.9 913.9h0M160.2 953.3h0M172.8 883.1h0M180.3 880.4h0M130.6 848.4h0M56.7 908.7h0M183.5 875.3h0M67.2 911.1h0M144.4 877.3h0M117.5 888.4h0M139.1 856.0h0M121.2 888.4h0M125.2 890.6h0M176.7 887.5h0M138.4 853.4h0M133.0 880.3h0M181.3 896.4h0M166.0 933.7h0M175.5 899.0h0M107.4 859.3h0M142.6 834.2h0M175.0 908.2h0M165.1 934.0h0M147.3 892.4h0M184.9 878.2h0M131.9 879.1h0M164.7 833.9h0M185.7 883.0h0M181.3 907.6h0M157.7 933.6h0M145.6 832.8h0M120.1 850.7h0M145.0 944.7h0M133.8 898.7h0M152.0 949.6h0M143.1 957.7h0M182.1 870.6h0M60.7 909.8h0M134.8 887.9h0M167.0 834.0h0M164.1 904.5h0M141.7 886.5h0M111.3 861.7h0M165.4 877.6h0M121.6 895.9h0M162.0 925.1h0M180.2 896.7h0M174.5 896.0h0M144.6 835.1h0M165.6 931.7h0M164.7 911.2h0M180.4 866.9h0M148.7 956.2h0M188.8 894.6h0M150.1 956.0h0M123.4 893.7h0M154.1 885.0h0M115.8 896.2h0M111.4 899.2h0M185.6 883.9h0M136.8 902.5h0M125.3 892.2h0M111.2 893.1h0M155.5 893.3h0M187.9 878.5h0M135.7 847.8h0M177.1 926.0h0M130.8 848.9h0M127.4 885.0h0M140.2 845.8h0M177.8 888.3h0M60.7 908.9h0M120.0 887.8h0M160.5 876.6h0M138.8 890.3h0M160.0 938.4h0M167.4 915.0h0M58.2 909.8h0M145.7 829.4h0M107.6 865.3h0M174.6 885.2h0M134.4 894.7h0M149.4 964.5h0M132.7 848.8h0M56.9 913.6h0M133.3 896.2h0M163.3 950.4h0M143.5 841.0h0M167.5 874.0h0M182.6 902.6h0M167.8 871.2h0M171.1 892.5h0M166.5 888.2h0M188.4 882.4h0M144.8 834.1h0M167.3 833.5h0M155.9 893.4h0M158.3 925.0h0M157.6 940.4h0M166.3 919.7h0M109.0 859.7h0M135.8 869.4h0M140.8 862.2h0M170.0 942.5h0M170.0 924.2h0M72.5 909.6h0M133.3 846.2h0M180.5 891.6h0M159.6 890.7h0M132.1 852.0h0M180.8 896.7h0M126.3 860.5h0M185.9 880.6h0M147.5 855.7h0M172.6 913.2h0M142.3 833.1h0M161.6 950.0h0M168.1 835.3h0M183.2 880.3h0M150.6 959.2h0M139.8 850.5h0M126.9 888.3h0M117.6 847.0h0M135.2 894.8h0M154.6 959.1h0M150.5 962.6h0M146.0 944.3h0M153.3 898.7h0M116.4 874.2h0M179.0 877.5h0M115.6 864.3h0M164.8 888.5h0M184.3 888.8h0M145.5 898.7h0M162.1 899.0h0M151.1 877.1h0M160.9 939.0h0M145.2 901.4h0M169.6 837.3h0M164.0 930.5h0M144.4 834.7h0M156.7 950.7h0M142.3 856.6h0M178.5 892.4h0M157.8 935.2h0M164.8 938.3h0M145.1 945.0h0M159.9 894.8h0M119.6 887.9h0M145.9 841.3h0M135.2 876.8h0M146.9 833.8h0M160.7 909.8h0M182.4 899.8h0M114.9 906.4h0M171.1 894.0h0M171.6 911.8h0M177.0 908.6h0M144.8 832.4h0M175.8 886.7h0M157.1 949.5h0M165.6 916.6h0M162.4 933.0h0M114.4 859.6h0M176.4 895.2h0M62.3 910.5h0M138.3 856.1h0M119.2 872.7h0M170.8 939.0h0M159.4 942.4h0M149.5 888.8h0M161.7 941.1h0M182.9 893.8h0M171.7 917.9h0M160.5 933.1h0M114.9 853.8h0M167.3 927.0h0M144.0 886.3h0M145.2 831.3h0M173.4 913.3h0M133.4 849.6h0M124.0 899.9h0M178.6 895.4h0M158.7 938.8h0M146.8 828.7h0M157.6 947.0h0M124.8 886.6h0M171.2 836.1h0M129.6 891.8h0M149.9 859.2h0M121.0 893.9h0M109.2 857.2h0M123.4 891.7h0M115.9 894.5h0M147.5 896.7h0M147.1 942.2h0M166.6 911.0h0M177.2 887.7h0M117.9 892.1h0M120.3 892.6h0M145.9 900.7h0M161.1 945.8h0M174.4 925.8h0M127.7 850.7h0M106.9 886.2h0M149.1 956.5h0M144.3 943.8h0M119.3 889.4h0M178.4 881.1h0M176.2 870.7h0M163.5 907.7h0M66.6 910.5h0M172.2 893.1h0M156.1 921.2h0M185.5 897.6h0M156.3 854.1h0M182.6 871.3h0M158.7 959.0h0M166.5 834.8h0M149.6 952.5h0M158.5 953.1h0M123.2 888.1h0M155.5 911.2h0M178.7 895.3h0M177.9 875.5h0M169.3 934.5h0M170.5 892.0h0M165.3 904.3h0M159.6 940.1h0M130.2 887.2h0M168.7 911.6h0M151.0 914.2h0M147.4 942.9h0M147.7 839.3h0M115.0 863.8h0M142.3 904.7h0M170.9 886.7h0M150.0 921.1h0M144.5 880.2h0M166.9 881.8h0M55.5 909.7h0M112.4 865.0h0M188.5 883.9h0M119.4 884.8h0M141.7 890.7h0M162.7 941.4h0M181.6 913.5h0M132.5 898.7h0M160.9 917.4h0M169.4 929.6h0M176.4 920.1h0M185.6 881.6h0M165.1 918.1h0M113.8 864.1h0M156.8 883.9h0M143.3 964.5h0M166.3 835.9h0M140.4 833.4h0M179.7 896.8h0M174.9 886.8h0M186.9 875.4h0M182.8 907.0h0M162.2 941.6h0M65.4 908.6h0M74.4 909.3h0M154.0 928.3h0M144.5 839.2h0M168.1 833.8h0M166.2 911.7h0M132.1 849.6h0M170.9 888.9h0M181.1 895.6h0M109.8 859.3h0M98.0 904.5h0M125.0 903.1h0M168.0 834.4h0M168.6 873.2h0M130.1 896.2h0M127.5 858.8h0M176.3 910.2h0M170.0 909.5h0M128.2 881.4h0M177.5 892.9h0M139.9 869.7h0M115.5 866.1h0M169.3 872.4h0M128.1 850.8h0M174.2 928.5h0M126.8 887.0h0M141.3 954.4h0M185.4 880.6h0M182.4 895.5h0M139.9 959.7h0M176.7 913.5h0M177.7 875.0h0M166.7 836.1h0M104.0 861.1h0M56.4 910.2h0M165.6 924.7h0M127.1 858.6h0M185.1 891.7h0M149.2 904.7h0M159.4 907.2h0M160.4 933.9h0M165.2 914.6h0M172.3 880.9h0M175.2 880.8h0M166.9 833.8h0M183.9 898.5h0M108.2 864.2h0M155.3 927.5h0M165.5 935.9h0M187.4 871.5h0M170.6 916.3h0M186.0 900.3h0M121.2 903.8h0M145.7 911.1h0M183.2 888.0h0M131.6 880.0h0M107.4 890.5h0M162.1 841.2h0M116.5 892.6h0M165.8 906.5h0M159.2 935.3h0M180.0 883.4h0M154.2 860.6h0M147.5 943.3h0M164.2 841.2h0M188.3 873.4h0M114.3 871.5h0M167.9 837.9h0M147.4 856.5h0M145.3 850.6h0M148.6 887.0h0M163.3 932.8h0M174.6 904.1h0M166.0 926.3h0M169.1 837.1h0M179.7 870.0h0M147.9 844.8h0M151.6 930.7h0M184.1 881.4h0M119.4 857.5h0M180.5 879.6h0M162.4 922.0h0M152.2 913.9h0M161.1 927.0h0M125.2 894.5h0M163.5 932.1h0M159.6 907.0h0M182.3 886.7h0M151.4 935.9h0M145.7 837.0h0M183.3 874.2h0M120.2 856.3h0M163.9 921.0h0M117.5 887.2h0M160.0 935.4h0M55.4 913.2h0M179.3 874.9h0M132.7 902.2h0M149.0 895.0h0M162.1 941.6h0M164.2 943.9h0M113.6 866.3h0M184.3 880.7h0M111.4 860.2h0M142.4 889.8h0M151.0 953.5h0M132.8 877.2h0M160.2 926.6h0M168.2 892.2h0M160.2 932.9h0M178.9 898.5h0M150.2 888.9h0M170.0 885.4h0M155.7 852.3h0M179.1 924.9h0M103.8 859.7h0M160.0 937.3h0M161.8 920.0h0M187.6 885.6h0M170.8 920.1h0M160.2 941.0h0M172.4 886.4h0M146.9 832.6h0M95.8 906.4h0M157.8 892.7h0M170.6 925.4h0M142.5 890.3h0M168.4 880.5h0M125.2 855.6h0M145.3 833.2h0M180.5 906.2h0M137.2 890.0h0M148.6 833.4h0M163.1 943.5h0M149.2 926.5h0M121.6 900.3h0M180.9 882.5h0M153.2 958.2h0M153.8 920.7h0M109.4 887.2h0M156.4 937.6h0M134.0 848.2h0M186.1 874.1h0M111.3 903.1h0M135.9 891.1h0M154.1 894.0h0M177.2 891.7h0M146.7 876.5h0M162.0 918.6h0M153.8 916.4h0M147.2 875.1h0M145.8 890.1h0M174.2 881.5h0M172.0 914.0h0M170.2 940.7h0M135.8 866.2h0M134.1 848.5h0M162.6 920.7h0M145.5 834.7h0M178.5 885.8h0M167.7 835.6h0M104.9 855.1h0M175.5 924.4h0M134.2 901.0h0M187.0 878.0h0M159.4 937.8h0M178.9 893.8h0M161.1 943.5h0M130.3 848.7h0M161.1 925.5h0M167.8 896.5h0M162.7 914.8h0M104.9 860.9h0M106.3 859.4h0M134.4 847.0h0M179.2 891.8h0M161.1 898.8h0M166.4 934.7h0M119.7 849.2h0M168.4 916.6h0M188.8 879.7h0M152.5 931.2h0M115.9 894.0h0M136.3 847.1h0M151.2 923.4h0M172.0 874.9h0M110.9 855.7h0M133.3 846.4h0M113.7 861.9h0M113.8 857.5h0M145.7 897.7h0M191.6 881.1h0M161.0 883.9h0M161.1 923.9h0M125.0 878.2h0M127.2 898.0h0M114.4 867.9h0M173.6 874.3h0M118.1 875.8h0M162.3 907.2h0M135.4 896.7h0M145.7 865.4h0M106.0 856.7h0M167.2 935.7h0M161.8 942.7h0M156.5 887.9h0M107.3 856.4h0M133.0 849.6h0M163.7 938.0h0M174.2 913.4h0M68.5 908.0h0M182.8 872.4h0M181.2 876.2h0M107.3 864.1h0M59.0 911.5h0M109.9 891.2h0M153.6 909.6h0M112.7 855.6h0M108.1 895.6h0M124.3 863.0h0M110.3 867.9h0M169.2 835.3h0M152.9 858.8h0M154.8 833.4h0M181.2 907.8h0M110.0 858.7h0M163.2 938.6h0M111.3 865.6h0M177.6 919.1h0M103.7 907.5h0M189.2 884.4h0M157.5 939.6h0M116.2 848.0h0M109.5 864.8h0M164.9 943.7h0M138.9 873.8h0M125.6 884.6h0M172.7 939.0h0M173.6 890.1h0M164.8 878.3h0M107.6 857.3h0M109.0 895.5h0M178.5 888.4h0M168.2 832.6h0M126.5 852.7h0M107.3 856.4h0M127.5 859.8h0M145.4 831.9h0M182.3 902.3h0M129.9 852.8h0M94.4 905.6h0M169.3 834.8h0M176.3 930.4h0M153.0 898.3h0M171.5 938.3h0M142.0 957.4h0M172.1 872.6h0M131.0 878.3h0M168.7 840.8h0M184.0 882.6h0M105.0 857.1h0M147.7 837.0h0M152.6 963.3h0M162.5 888.6h0M177.9 928.6h0M150.8 924.3h0M186.7 888.3h0M175.2 894.7h0M175.4 881.0h0M179.1 872.9h0M119.3 895.5h0M174.0 882.3h0M96.8 906.1h0M173.9 897.7h0M183.2 875.5h0M177.3 902.1h0M155.6 928.8h0M107.3 858.4h0M149.4 965.5h0M162.9 915.5h0M61.7 910.4h0M153.6 913.3h0M188.0 876.2h0M166.8 910.9h0M146.5 835.8h0M92.0 909.7h0M167.9 910.0h0M110.3 888.9h0M185.6 872.3h0M131.0 849.6h0M132.7 894.7h0M107.7 858.4h0M155.5 930.4h0M169.8 879.1h0M124.5 904.6h0M108.8 865.7h0M130.1 900.3h0M108.6 886.0h0M183.8 876.9h0M141.7 835.9h0M111.5 865.8h0M162.5 920.8h0M153.9 849.7h0M153.0 918.1h0M107.1 859.0h0M56.5 908.7h0M118.3 858.4h0M183.3 876.5h0M190.4 885.1h0M124.8 855.7h0M170.4 934.9h0M144.4 839.1h0M169.0 835.4h0M114.9 864.6h0M166.7 837.8h0M179.4 869.0h0M158.5 934.6h0M55.6 909.8h0M126.8 856.3h0M156.2 948.4h0M105.8 856.6h0M62.9 911.6h0M169.4 901.1h0M146.6 838.5h0M164.5 938.4h0M113.3 900.2h0M111.2 860.1h0M179.6 897.2h0M148.8 845.6h0M183.5 869.3h0M117.0 847.4h0M164.5 897.6h0M148.1 833.8h0M162.1 935.2h0M158.7 950.3h0M144.4 943.8h0M169.9 924.0h0M140.1 868.7h0M132.5 891.1h0M140.6 832.9h0M138.3 866.0h0M167.1 938.7h0M182.9 885.7h0M169.6 840.8h0M121.5 888.4h0M149.0 962.5h0M124.9 891.6h0M124.2 896.4h0M155.3 926.4h0M106.6 857.9h0M160.0 915.8h0M72.6 913.4h0M151.9 937.0h0M166.6 877.8h0M104.4 857.1h0M126.6 885.1h0M191.0 883.7h0M177.3 869.4h0M129.6 856.3h0M161.5 943.6h0M180.3 908.2h0M141.8 954.7h0M59.6 912.4h0M175.4 869.3h0M157.7 939.0h0M180.0 898.9h0M115.6 905.3h0M187.9 875.5h0M110.8 857.5h0M173.6 911.4h0M173.5 900.0h0M123.5 895.6h0M111.7 887.2h0M154.4 958.2h0M179.8 906.7h0M129.2 884.9h0M172.6 914.3h0M142.5 861.8h0M103.9 858.9h0M183.9 898.5h0M149.9 954.2h0M142.4 881.5h0M159.3 881.7h0M163.1 844.6h0M65.7 910.8h0M150.8 837.0h0M121.2 893.0h0M180.7 889.0h0M126.0 855.9h0M117.1 896.5h0M56.6 911.2h0M161.3 877.1h0M148.3 829.7h0M171.0 933.5h0M126.0 885.1h0M153.8 916.0h0M146.2 840.0h0M111.8 860.2h0M111.2 864.3h0M143.6 847.5h0M163.2 912.5h0M117.7 869.6h0M172.8 921.5h0M149.7 847.1h0M148.4 831.9h0M105.6 861.9h0M162.1 918.8h0M144.2 829.8h0M172.6 909.4h0M139.0 888.5h0M148.3 950.3h0M113.1 894.5h0M143.9 867.4h0M185.5 898.4h0M114.6 863.3h0M161.1 906.1h0M58.5 913.1h0M144.4 960.3h0M140.0 834.5h0M184.6 887.6h0M116.5 870.8h0M183.3 878.9h0M155.6 899.3h0M108.2 860.9h0M174.3 917.4h0M107.7 893.1h0M185.9 875.5h0M143.9 830.7h0M115.3 852.9h0M155.1 939.9h0M157.7 914.5h0M55.9 911.1h0M184.4 869.7h0M113.1 862.5h0M163.0 892.3h0M149.7 957.4h0M174.4 909.8h0M165.8 887.8h0M130.0 896.8h0M125.0 881.3h0M137.2 844.7h0M153.9 936.4h0M160.2 923.2h0M133.9 889.6h0M141.4 832.4h0M160.8 932.7h0M171.1 890.9h0M174.0 892.0h0M174.7 898.4h0M119.7 857.8h0M61.8 907.9h0M152.4 951.1h0M105.9 858.8h0M131.0 877.6h0M112.3 888.8h0M116.7 856.8h0M124.2 862.7h0M166.7 903.2h0M156.8 943.0h0M136.7 864.5h0M153.4 925.7h0M144.9 841.5h0M128.0 899.7h0M168.5 937.1h0M57.0 910.0h0M184.2 870.5h0M141.0 845.6h0M175.6 884.4h0M176.4 922.7h0M104.3 858.1h0M168.6 913.7h0M147.2 830.2h0M141.7 840.1h0M131.7 850.2h0M136.3 869.1h0M143.6 828.2h0M125.2 880.2h0M177.3 924.9h0M182.3 880.9h0M153.4 958.6h0M172.9 915.9h0M103.9 862.1h0M175.0 874.5h0M155.3 916.9h0M129.8 853.9h0M187.6 874.0h0M155.3 852.5h0M148.7 831.1h0M156.8 938.7h0M158.9 934.6h0M121.2 883.2h0M174.4 911.9h0M108.6 864.5h0M158.1 908.2h0M110.4 859.7h0M188.4 874.6h0M182.3 897.7h0M159.4 944.2h0M181.1 904.4h0M110.5 908.9h0M170.5 921.0h0M155.5 925.2h0M104.8 861.0h0M121.7 879.2h0M145.9 943.2h0M132.5 849.6h0M156.7 894.7h0M55.7 905.7h0M157.6 937.5h0M128.8 881.3h0M175.7 916.1h0M158.2 945.6h0M179.0 898.4h0M135.7 882.4h0M181.4 897.4h0M161.4 906.2h0M158.4 930.0h0M65.7 912.0h0M188.3 882.8h0M183.7 881.0h0M129.5 853.0h0M164.6 935.1h0M177.9 891.8h0M157.8 896.2h0M175.9 886.3h0M121.3 903.6h0M158.1 954.2h0M164.9 889.4h0M170.3 882.6h0M183.5 877.6h0M122.9 896.1h0M137.0 884.9h0M107.2 864.2h0M135.8 888.4h0M116.1 864.7h0M114.7 851.1h0M114.8 856.7h0M143.8 866.0h0M181.8 910.7h0M170.1 927.4h0M168.9 927.1h0M175.9 871.1h0M152.2 895.3h0M157.3 938.9h0M155.8 929.1h0M108.3 860.8h0M59.0 910.5h0M111.6 885.2h0M162.8 901.0h0M104.2 857.8h0M168.6 831.1h0M186.7 878.5h0M114.0 873.0h0M114.1 899.6h0M177.6 886.8h0M154.8 879.3h0M143.4 862.4h0M173.9 930.2h0M116.5 889.2h0M148.0 838.5h0M148.6 949.2h0M148.0 952.0h0M117.0 867.4h0M181.1 881.7h0M179.6 880.1h0M163.0 944.6h0M174.6 886.0h0M63.0 910.6h0M156.2 956.7h0M126.3 904.1h0M117.7 880.7h0M159.4 910.5h0M171.3 888.5h0M160.9 914.4h0M171.9 926.1h0M180.7 892.6h0M177.5 886.0h0M96.4 906.0h0M132.8 888.7h0M162.8 876.3h0M147.7 890.7h0M148.5 837.2h0M155.1 938.9h0M144.3 962.4h0M124.2 863.6h0M159.6 933.8h0M149.5 830.9h0M181.2 868.1h0M109.2 862.7h0M179.0 903.5h0M131.7 882.7h0M144.6 838.0h0M128.6 883.7h0M164.6 931.5h0M58.1 913.6h0M134.4 848.2h0M180.6 875.0h0M132.4 895.2h0M163.6 885.6h0M153.3 906.7h0M174.2 927.4h0M108.4 856.6h0M109.4 860.3h0M130.7 894.5h0M119.1 872.9h0M160.4 895.9h0M160.4 887.5h0M154.6 832.5h0M132.6 848.8h0M178.8 887.4h0M178.2 901.7h0M57.2 913.1h0M149.6 856.1h0M155.0 911.1h0M188.2 892.9h0M170.6 925.4h0M146.5 855.1h0M163.0 908.3h0M164.2 918.8h0M156.0 950.5h0M147.8 893.3h0M134.8 846.0h0M111.1 853.6h0M152.9 886.5h0M58.7 914.3h0M170.2 892.9h0M126.8 860.1h0M62.8 909.5h0M119.2 898.4h0M158.5 911.9h0M129.3 892.2h0M167.4 910.8h0M156.0 942.6h0M182.9 868.7h0M150.5 958.6h0M93.6 910.4h0M104.3 859.3h0M73.7 908.7h0M146.3 840.8h0M162.0 945.4h0M180.8 877.1h0M115.5 857.4h0M158.6 903.6h0M116.5 891.2h0M108.9 861.6h0M112.2 854.9h0M154.1 941.6h0M124.6 889.3h0M172.4 882.6h0M64.4 911.2h0M133.3 891.2h0M160.5 953.5h0M58.1 904.2h0M157.2 929.7h0M181.7 902.8h0M149.8 836.1h0M98.6 905.0h0M166.8 921.7h0M106.4 864.6h0M167.4 915.5h0M148.3 838.4h0M183.3 892.5h0M65.9 907.7h0M178.9 916.5h0M110.1 860.7h0M164.0 902.0h0M160.4 911.8h0M142.9 829.2h0M188.1 886.7h0M107.7 857.7h0M161.9 915.2h0M155.7 942.5h0M164.9 896.7h0M106.4 866.8h0M117.8 861.6h0M126.7 854.4h0M182.7 877.9h0M154.9 931.5h0M143.0 897.1h0M142.2 837.5h0M143.7 826.8h0M66.0 912.5h0M174.2 929.2h0M97.5 906.2h0M181.3 904.5h0M155.2 833.0h0M157.2 899.7h0M144.6 835.1h0M154.7 913.7h0M121.3 889.0h0M110.7 861.3h0M145.6 840.0h0M161.7 886.0h0M162.9 948.1h0M153.4 954.3h0M144.4 837.3h0M170.4 913.9h0M141.6 893.8h0M152.7 933.2h0M106.1 861.1h0M173.3 877.8h0M182.3 910.9h0M137.6 858.1h0M158.8 927.4h0M148.4 892.1h0M170.6 907.8h0M62.6 907.4h0M163.9 935.4h0M95.5 907.2h0M179.8 877.1h0M183.6 884.7h0M106.1 891.7h0M127.7 898.6h0M139.9 900.8h0M171.7 912.5h0M177.2 884.4h0M155.6 947.7h0M151.3 930.8h0M118.3 856.5h0M110.0 857.9h0M131.1 884.7h0M119.0 861.7h0M158.5 940.1h0M110.8 859.9h0M169.1 909.8h0M147.2 829.1h0M167.3 909.2h0M162.7 923.9h0M150.0 963.4h0M162.9 929.8h0M164.3 873.9h0M114.1 889.5h0M124.1 889.6h0M135.9 891.7h0M121.9 894.7h0M178.7 897.3h0M171.8 877.0h0M148.3 921.5h0M141.5 956.2h0M167.8 837.4h0M177.9 912.9h0M145.8 957.7h0M57.0 906.4h0M140.9 846.4h0M176.9 923.8h0M118.6 856.3h0M115.0 882.3h0M59.6 913.5h0M165.4 934.8h0M163.0 924.5h0M176.7 868.7h0M110.8 865.5h0M162.4 836.0h0M123.6 859.0h0M129.7 854.7h0M189.1 879.0h0M114.9 865.8h0M149.3 920.5h0M160.0 915.0h0M176.5 930.7h0M106.4 857.8h0M120.2 895.8h0M174.0 868.1h0M169.1 874.4h0M179.1 915.2h0M118.2 856.9h0M172.0 905.0h0M162.5 923.0h0M150.2 829.5h0M174.5 890.8h0M128.0 885.7h0M182.3 906.4h0M150.3 895.6h0M176.8 912.0h0M178.3 881.8h0M140.8 831.1h0M163.7 918.2h0M168.6 913.2h0M166.1 938.8h0M153.0 832.9h0M119.9 856.0h0M145.6 832.1h0M137.1 901.5h0M64.2 910.7h0M149.9 923.9h0M131.4 849.9h0M136.6 886.7h0M132.5 849.6h0M141.7 869.4h0M163.6 941.7h0M110.8 855.3h0M167.0 938.6h0M76.0 908.6h0M156.9 948.8h0M142.6 836.8h0M181.5 892.7h0M152.9 882.9h0M56.7 911.4h0M118.2 880.2h0M157.3 940.2h0M160.0 953.3h0M146.8 830.6h0M161.5 915.3h0M178.4 893.8h0M126.0 908.5h0M134.0 881.0h0M150.2 856.4h0M127.1 876.8h0M181.0 911.5h0M165.3 927.1h0M125.1 855.5h0M182.6 876.9h0M173.9 898.5h0M180.5 896.0h0M179.7 909.4h0M165.6 906.3h0M173.6 880.7h0M165.3 936.9h0M136.5 866.8h0M180.6 879.0h0M165.9 879.6h0M147.0 952.4h0M149.1 837.6h0M161.1 921.6h0M185.9 902.6h0M127.0 892.7h0M157.4 937.8h0M163.9 941.4h0M125.0 887.9h0M138.0 872.2h0M55.5 905.3h0M163.1 952.2h0M147.0 835.6h0M166.1 918.0h0M97.6 906.5h0M164.3 943.1h0M161.2 913.8h0M117.4 889.6h0M155.6 948.7h0M156.0 955.5h0M157.4 932.4h0M161.6 909.5h0M136.8 890.7h0M130.6 848.9h0M105.6 895.6h0M163.4 946.1h0M180.2 891.4h0M176.7 894.7h0M171.9 870.8h0M176.5 886.0h0M170.6 838.1h0M155.9 853.9h0M155.9 938.7h0M185.5 902.2h0M167.1 908.4h0M163.8 837.7h0M138.6 958.1h0M109.1 858.5h0M176.6 899.8h0M163.8 933.1h0M123.7 897.1h0M151.5 931.5h0M141.7 854.1h0M164.5 912.7h0M180.0 892.1h0M142.3 834.6h0M174.0 912.9h0M146.6 902.4h0M173.0 924.2h0M145.3 887.3h0M130.1 899.4h0M183.0 882.1h0M179.6 912.2h0M140.5 905.4h0M66.0 910.0h0M151.9 947.8h0M153.2 915.3h0M114.2 862.2h0M177.8 920.8h0M115.0 859.2h0M161.0 841.4h0M180.3 895.6h0M174.2 891.7h0M150.1 846.4h0M176.4 870.8h0M159.0 909.2h0M154.5 930.1h0M179.6 870.0h0M112.1 858.6h0M163.2 931.6h0M111.8 892.5h0M134.2 891.1h0M144.5 913.1h0M174.8 931.4h0M153.2 854.9h0M143.9 854.0h0M165.3 922.7h0M155.3 933.8h0M58.6 909.0h0M118.7 875.2h0M149.5 833.4h0M179.7 883.0h0M144.1 836.8h0M180.5 888.4h0M150.5 916.6h0M114.6 866.3h0M169.3 870.6h0M162.5 906.8h0M175.0 915.0h0M166.8 837.3h0M117.0 891.3h0M113.6 853.9h0M124.6 884.5h0M183.9 884.3h0M158.9 955.1h0M166.9 839.3h0M156.7 954.5h0M180.7 895.2h0M129.6 858.0h0M131.0 892.5h0M145.6 903.0h0M181.8 882.3h0M148.2 959.0h0M181.6 905.1h0M155.5 918.4h0M115.5 891.9h0M165.6 910.4h0M148.5 961.1h0M168.0 836.5h0M148.3 957.2h0M153.3 934.5h0M124.5 906.6h0M120.1 898.9h0M179.3 906.6h0M175.9 931.9h0M185.2 898.8h0M161.8 923.4h0M139.6 957.5h0M146.7 828.7h0M57.6 909.6h0M106.7 858.9h0M169.0 933.0h0M149.6 835.1h0M142.2 888.0h0M174.6 898.4h0M56.0 910.7h0M180.5 875.7h0M170.3 903.6h0M174.0 917.6h0M180.2 884.7h0M111.1 858.9h0M116.2 887.8h0M178.4 875.4h0M54.2 911.0h0M144.4 829.0h0M155.8 886.4h0M153.0 834.8h0M119.1 889.0h0M132.5 845.5h0M174.5 905.8h0M128.3 878.1h0M165.6 941.7h0M118.6 860.7h0M151.3 834.3h0M112.9 887.0h0M178.4 885.3h0M161.3 954.7h0M127.0 857.1h0M128.9 883.0h0M161.1 840.1h0M166.8 837.1h0M111.7 864.8h0M180.4 893.0h0M153.5 853.5h0M163.8 904.6h0M186.2 877.3h0M93.8 906.6h0M184.3 875.5h0M111.3 862.3h0M122.1 885.8h0M154.6 894.1h0M147.9 907.8h0M180.3 882.4h0M184.4 897.4h0M116.8 873.8h0M173.2 905.7h0M175.6 919.5h0M173.4 911.0h0M182.8 877.5h0M132.2 898.5h0M135.2 896.0h0M170.4 873.2h0M181.7 909.9h0M64.5 910.6h0M160.1 888.7h0M175.2 879.2h0M144.4 833.2h0M132.5 895.1h0M185.9 880.9h0M130.6 850.9h0M182.2 871.6h0M154.9 925.4h0M109.1 909.1h0M136.5 871.4h0M177.8 878.0h0M118.9 872.3h0M164.1 881.2h0M163.6 914.8h0M185.5 879.4h0M132.2 847.4h0M134.6 889.2h0M161.0 886.2h0M160.3 925.0h0M180.1 904.7h0M163.2 937.4h0M160.0 922.8h0M125.7 885.0h0M160.2 948.5h0M153.0 924.0h0M147.8 956.8h0M117.0 863.5h0M168.0 920.5h0M137.6 887.5h0M155.6 934.7h0M182.7 900.4h0M130.7 887.7h0M126.9 890.1h0M122.2 899.0h0M164.6 882.5h0M172.5 925.1h0M163.6 902.1h0M151.5 922.8h0M182.0 892.5h0M135.1 896.6h0M170.8 873.0h0M145.7 839.0h0M118.0 850.2h0M143.2 835.7h0M188.2 877.5h0M173.5 919.9h0M182.1 888.5h0M128.8 882.6h0M165.0 913.1h0M96.0 906.0h0M163.3 944.9h0M154.4 929.7h0M158.2 938.1h0M176.0 896.9h0M117.5 867.9h0M129.8 891.5h0M179.0 900.3h0M126.4 856.9h0M166.4 834.2h0M133.5 887.7h0M181.2 893.2h0M132.5 852.4h0M111.5 861.2h0M138.4 861.7h0M162.0 904.1h0M108.3 889.8h0M155.7 931.3h0M169.4 874.0h0M163.9 839.8h0M152.7 925.0h0M141.5 891.9h0M166.2 933.3h0M155.6 929.8h0M159.6 942.9h0M143.1 834.9h0M160.4 926.9h0M141.3 833.6h0M154.7 948.7h0M129.8 850.5h0M166.8 837.3h0M141.8 836.1h0M171.9 836.2h0M132.1 884.4h0M172.8 933.4h0M130.1 880.2h0M151.7 831.9h0M179.0 906.2h0M165.2 915.2h0M177.2 867.8h0M165.3 936.7h0M147.1 850.4h0M115.1 853.9h0M147.3 945.4h0M157.1 950.3h0M109.0 886.4h0M166.0 831.1h0M148.8 833.9h0M152.3 915.2h0M108.8 858.8h0M135.8 862.3h0M107.2 859.0h0M185.2 884.4h0M155.5 951.6h0M159.5 919.5h0M109.1 858.1h0M181.9 882.8h0M163.9 908.2h0M155.0 922.8h0M178.3 893.0h0M117.4 881.0h0M167.4 880.7h0M168.2 897.7h0M147.0 943.3h0M120.1 873.6h0M151.9 905.3h0M174.6 922.4h0M176.1 892.2h0M181.9 869.2h0M165.8 926.7h0M182.9 895.3h0M177.6 872.0h0M138.9 859.4h0M108.2 891.2h0M172.1 932.7h0M167.3 929.4h0M176.6 891.5h0M165.5 914.6h0M104.4 861.2h0M174.4 908.2h0M59.6 908.9h0M184.5 885.0h0M120.3 853.9h0M110.6 857.0h0M148.3 832.4h0M116.0 855.9h0M160.4 953.5h0M144.6 834.3h0M109.3 854.7h0M167.2 889.9h0M108.9 861.5h0M151.6 961.4h0M166.1 890.7h0M111.1 861.5h0M116.5 890.6h0M117.0 847.5h0M105.3 855.7h0M114.8 862.8h0M186.6 884.6h0M181.1 913.5h0M119.6 893.3h0M117.4 861.2h0M123.0 895.0h0M57.8 914.2h0M165.7 836.7h0M159.5 956.5h0M113.1 861.3h0M122.6 898.1h0M116.0 873.1h0M160.3 953.5h0M153.4 946.2h0M186.6 877.6h0M157.8 944.1h0M156.5 925.7h0M150.8 836.0h0M165.8 917.3h0M157.4 879.5h0M117.6 860.7h0M118.7 863.1h0M139.1 832.7h0M116.9 856.9h0M144.1 829.7h0M149.5 847.8h0M160.2 906.6h0M153.6 920.1h0M178.6 924.9h0M106.4 863.0h0M142.6 897.3h0M116.5 871.4h0M74.9 913.0h0M152.7 883.7h0M187.0 886.4h0M148.1 947.8h0M137.1 867.6h0M182.3 880.2h0M107.4 862.7h0M113.2 902.8h0M127.6 896.5h0M180.7 901.4h0M157.7 908.3h0M180.1 885.0h0M114.1 874.1h0M184.8 903.2h0M179.9 906.5h0M161.5 943.3h0M126.6 891.5h0M116.4 868.0h0M175.9 920.9h0M120.8 897.5h0M111.4 861.0h0M133.2 847.6h0M107.5 862.2h0M187.6 888.6h0M188.2 894.7h0M163.3 903.5h0M73.0 912.1h0M151.5 917.9h0M163.8 887.7h0M142.9 833.9h0M145.7 885.2h0M110.5 855.3h0M154.6 904.8h0M110.1 870.2h0M180.4 891.0h0M167.6 886.3h0M185.7 902.8h0M177.9 919.0h0M119.3 868.4h0M148.0 829.2h0M138.1 828.7h0M150.6 961.5h0M121.2 889.5h0M187.2 886.1h0M146.1 829.6h0M149.4 954.5h0M147.3 842.1h0M155.9 946.0h0M168.9 908.5h0M115.1 856.5h0M164.0 835.6h0M134.2 846.9h0M149.6 833.3h0M144.3 830.3h0M142.1 857.6h0M146.5 833.3h0M155.3 950.4h0M56.6 912.5h0M166.3 836.8h0M141.5 881.0h0M114.6 891.4h0M143.0 838.7h0M162.8 920.9h0M182.3 880.5h0M147.9 840.4h0M151.7 853.2h0M161.6 930.3h0M152.4 830.9h0M158.2 922.6h0M180.4 887.8h0M65.9 912.0h0M160.6 932.7h0M125.4 895.7h0M172.7 897.8h0M165.1 834.3h0M112.7 865.0h0M160.4 916.1h0M131.3 848.4h0M156.8 938.3h0M139.3 881.7h0M157.1 932.8h0M156.2 883.0h0M118.1 889.0h0M172.0 909.4h0M160.3 905.6h0M150.9 921.3h0M176.1 919.4h0M170.7 914.6h0M168.0 926.2h0M155.6 890.7h0M176.8 892.8h0M180.0 881.3h0M144.8 845.3h0M173.7 908.2h0M125.7 892.7h0M113.4 886.4h0M117.8 875.7h0M132.0 878.9h0M166.3 924.0h0M161.8 947.7h0M171.1 836.1h0M155.0 934.1h0M108.2 861.3h0M181.9 893.8h0M184.3 872.8h0M175.1 907.5h0M181.1 878.7h0M171.7 916.2h0M179.9 910.9h0M155.5 912.0h0M157.5 957.8h0M158.3 923.8h0M151.9 874.1h0M118.2 889.2h0M103.4 862.5h0M183.2 909.6h0M149.9 830.4h0M160.7 931.3h0M184.8 879.7h0M153.1 860.9h0M182.7 893.8h0M96.2 907.9h0M170.0 871.5h0M108.3 857.5h0M155.0 955.7h0M165.9 932.4h0M114.4 857.6h0M108.3 893.1h0M166.5 894.4h0M170.4 923.9h0M155.4 935.7h0M147.9 901.6h0M181.9 873.3h0M135.5 892.3h0M143.1 832.3h0M113.9 873.3h0M174.5 876.3h0M103.9 861.5h0M151.8 833.6h0M106.5 857.2h0M173.1 892.4h0M113.6 859.4h0M135.5 862.5h0M185.7 885.6h0M126.0 892.3h0M163.7 880.4h0M167.0 935.2h0M105.9 860.5h0M169.2 916.1h0M147.9 890.7h0M99.2 908.3h0M165.6 903.1h0M129.3 883.9h0M136.0 893.0h0M127.9 899.0h0M156.5 933.0h0M125.7 898.5h0M142.6 884.4h0M152.5 879.2h0M180.9 887.7h0M185.7 884.2h0M117.9 862.5h0M184.0 883.0h0M161.9 908.9h0M173.9 875.0h0M109.7 865.8h0M183.3 879.9h0M175.6 895.9h0M179.1 905.6h0M178.0 883.4h0M185.0 902.9h0M185.3 896.5h0M114.8 873.0h0M138.6 860.1h0M127.9 856.8h0M147.1 957.6h0M173.1 889.9h0M181.8 910.2h0M169.2 909.8h0M141.0 887.4h0M185.8 877.6h0M166.2 840.7h0M119.2 888.3h0M146.7 836.0h0M153.1 893.0h0M176.3 878.0h0M177.7 915.7h0M157.3 927.1h0M150.2 906.7h0M150.7 935.0h0M145.3 854.9h0M165.0 875.5h0M114.6 856.7h0M173.2 876.7h0M175.0 925.3h0M72.9 909.0h0M145.2 898.2h0M118.1 896.4h0M146.5 944.9h0M174.3 875.9h0M182.3 899.6h0M155.1 858.8h0M165.4 923.7h0M169.4 835.7h0M145.9 832.6h0M171.6 872.4h0M123.8 899.9h0M179.6 880.6h0M128.6 894.2h0M133.4 851.1h0M115.5 892.0h0M150.3 958.9h0M143.4 830.8h0M175.7 887.2h0M187.1 875.7h0M103.7 862.6h0M155.8 888.1h0M161.0 912.6h0M174.2 889.5h0M56.9 908.2h0M135.4 888.1h0M165.1 917.7h0M141.6 904.3h0M182.7 876.8h0M105.6 895.2h0M111.3 853.8h0M60.5 907.3h0M174.5 905.1h0M147.3 842.1h0M108.6 858.8h0M160.7 916.3h0M170.1 940.5h0M56.8 909.2h0M176.0 879.6h0M157.0 854.2h0M173.2 916.8h0M159.6 952.0h0M161.7 894.0h0M167.1 938.0h0M177.5 912.0h0M132.4 851.1h0M183.0 878.1h0M143.8 883.1h0M185.3 897.4h0M190.6 878.4h0M115.2 865.9h0M177.1 889.9h0M167.8 931.9h0M58.3 905.6h0M168.1 834.4h0M159.3 935.3h0M185.7 873.8h0M189.3 875.4h0M118.8 885.1h0M189.6 886.8h0M66.2 910.4h0M159.5 953.4h0M140.7 903.3h0M140.8 826.7h0M159.7 933.0h0M140.4 892.3h0M175.1 881.3h0M171.4 904.2h0M116.7 850.2h0M149.9 952.5h0M125.1 895.5h0M125.7 860.0h0M164.2 945.5h0M114.2 857.3h0M134.1 849.1h0M96.0 906.8h0M186.4 878.9h0M153.0 925.2h0M107.3 858.8h0M145.6 878.2h0M143.5 830.9h0M147.0 832.0h0M162.1 897.9h0M106.6 860.4h0M182.9 885.6h0M108.3 860.1h0M160.8 912.8h0M114.4 863.5h0M165.2 921.6h0M167.2 912.9h0M127.5 896.5h0M160.3 947.4h0M165.0 839.7h0M144.5 829.9h0M147.3 836.9h0M60.9 907.2h0M113.7 857.9h0M175.7 877.6h0M156.1 948.5h0M121.1 849.6h0M150.8 961.9h0M152.1 910.8h0M152.8 953.7h0M161.7 924.5h0M161.2 889.4h0M135.7 891.1h0M153.5 890.2h0M169.9 931.0h0M153.3 912.5h0M167.0 941.5h0M114.9 892.6h0M133.8 848.3h0M180.1 898.3h0M96.0 906.2h0M132.3 847.2h0M174.7 882.2h0M162.1 908.8h0M127.3 854.4h0M177.3 913.3h0M186.2 886.4h0M131.9 848.8h0M115.6 886.8h0M105.9 892.6h0M159.9 900.1h0M160.5 935.2h0M180.5 868.4h0M117.4 886.7h0M165.9 915.8h0M184.7 889.5h0M186.7 891.2h0M144.9 942.1h0M67.6 910.2h0M109.2 902.0h0M143.3 952.3h0M117.5 859.1h0M125.7 861.0h0M111.8 898.2h0M123.3 896.1h0M174.5 873.6h0M177.8 893.5h0M171.2 893.0h0M155.5 857.9h0M142.9 846.1h0M159.6 948.7h0M170.8 874.0h0M176.1 870.7h0M172.7 882.8h0M109.6 892.3h0M130.8 897.5h0M159.9 941.8h0M136.5 887.0h0M125.7 881.5h0M125.7 863.0h0M153.4 906.5h0M123.7 894.6h0M150.4 832.6h0M183.5 881.0h0M167.3 918.1h0M179.7 875.0h0M153.2 851.6h0M120.8 885.1h0M167.0 921.0h0M140.7 889.3h0M176.0 914.4h0M125.2 905.2h0M143.5 865.1h0M177.9 923.4h0M140.0 866.1h0M156.9 921.8h0M173.3 890.4h0M111.9 886.4h0M111.5 861.4h0M166.4 835.2h0M129.0 848.8h0M118.2 858.1h0M141.9 900.0h0M177.2 910.9h0M181.6 898.7h0M111.5 864.0h0M162.8 947.9h0M106.9 864.9h0M164.2 835.0h0M143.8 905.6h0M164.8 941.7h0M124.2 898.9h0M161.5 938.5h0M127.1 899.5h0M112.9 862.0h0M114.9 905.1h0M187.5 872.2h0M152.2 838.5h0M182.1 883.4h0M158.2 924.5h0M153.6 881.4h0M181.8 900.1h0M140.4 898.8h0M162.4 941.7h0M144.4 829.1h0M110.8 864.3h0M166.6 929.6h0M167.4 933.4h0M127.2 890.9h0M183.1 886.5h0M133.4 892.5h0M117.1 891.1h0M142.7 849.0h0M116.3 856.0h0M157.3 936.1h0M157.5 917.7h0M183.1 893.6h0M175.8 887.1h0M152.6 896.9h0M179.4 915.8h0M167.7 942.7h0M164.8 928.7h0M164.7 923.4h0M154.6 924.1h0M129.8 891.9h0M106.9 859.8h0M171.9 894.3h0M154.3 848.7h0M106.8 859.7h0M182.1 879.6h0M128.2 879.0h0M130.6 847.6h0M174.9 923.1h0M142.0 833.6h0M157.8 941.6h0M110.1 858.9h0M148.9 911.4h0M133.7 850.1h0M166.0 927.4h0M129.7 886.7h0M138.9 858.5h0M160.8 933.9h0M153.3 832.1h0M168.7 909.7h0M179.9 890.6h0M169.0 939.7h0M179.3 877.3h0M120.2 861.1h0M152.5 958.1h0M169.3 927.9h0M147.6 829.9h0M115.8 861.3h0M154.0 889.2h0M146.4 959.1h0M156.3 917.3h0M182.0 877.1h0M114.3 866.0h0M175.1 877.8h0M163.0 942.6h0M140.1 889.5h0M184.6 873.1h0M131.5 888.2h0M184.2 876.6h0M56.6 903.7h0M152.9 922.3h0M148.2 837.2h0M164.0 945.3h0M54.9 908.2h0M118.0 877.1h0M143.9 828.2h0M160.3 879.7h0M147.1 851.3h0M183.4 896.3h0M149.3 924.6h0M142.8 891.9h0M121.1 889.0h0M112.6 895.2h0M110.6 894.6h0M154.3 854.9h0M155.2 949.5h0M144.5 836.3h0M166.9 910.8h0M138.6 871.8h0M158.4 956.2h0M113.0 900.6h0M142.2 826.1h0M175.7 883.7h0M164.9 933.3h0M158.0 894.1h0M140.5 831.2h0M167.0 935.6h0M158.2 884.1h0M144.7 835.5h0M110.5 859.9h0M150.5 878.0h0M166.4 920.8h0M144.7 838.0h0M113.1 898.6h0M162.6 935.3h0M160.4 890.7h0M107.0 861.0h0M161.6 935.7h0M182.0 885.4h0M173.4 912.5h0M187.2 898.2h0M178.0 868.6h0M164.6 929.0h0M113.1 869.5h0M144.4 957.4h0M181.1 915.8h0M142.3 883.8h0M167.3 927.4h0M108.4 855.6h0M182.3 890.0h0M154.5 903.2h0M189.6 889.9h0M164.5 841.2h0M151.5 957.4h0M148.5 829.7h0M161.7 928.1h0M188.1 882.6h0M156.9 933.8h0M166.6 876.3h0M178.6 874.8h0M133.4 851.0h0M152.2 961.7h0M128.1 892.6h0M151.6 908.2h0M158.4 919.2h0M180.1 867.9h0M60.3 909.7h0M127.7 858.2h0M165.8 933.9h0M165.2 839.8h0M137.9 894.5h0M134.3 899.4h0M117.3 901.9h0M178.3 893.2h0M162.5 937.0h0M177.1 900.1h0M175.3 912.2h0M113.6 870.5h0M158.3 917.5h0M114.1 902.1h0M133.4 896.9h0M180.8 883.2h0M117.4 852.6h0M127.0 891.3h0M128.2 895.0h0M169.4 922.0h0M143.5 830.2h0M107.1 899.1h0M165.4 916.8h0M158.5 903.6h0M125.8 862.6h0M143.1 892.3h0M166.1 937.7h0M103.2 859.3h0M165.1 929.7h0M174.4 912.1h0M155.3 951.5h0M111.7 895.0h0M154.8 955.9h0M165.8 932.2h0M181.3 911.0h0M155.9 897.4h0M146.0 961.3h0M156.4 848.7h0M110.7 857.2h0M148.4 909.4h0M167.3 907.0h0M185.5 883.5h0M141.5 893.2h0M160.2 929.7h0M137.1 875.1h0M183.0 902.6h0M131.3 846.7h0M165.3 908.9h0M134.6 898.7h0M155.5 936.6h0M168.8 872.6h0M158.7 895.6h0M156.9 925.0h0M130.2 882.0h0M131.7 898.3h0M143.1 959.2h0M169.6 921.8h0M165.8 837.0h0M148.9 947.9h0M119.4 902.2h0M159.5 919.2h0M155.1 832.9h0M170.4 927.9h0M117.0 896.9h0M163.0 908.2h0M148.0 836.0h0M177.3 888.8h0M165.9 914.4h0M160.8 884.1h0M145.7 827.3h0M146.4 908.7h0M167.1 870.3h0M57.4 909.9h0M142.0 836.2h0M146.0 832.7h0M144.8 831.4h0M152.5 959.1h0M136.2 895.1h0M151.7 919.8h0M158.0 935.4h0M112.6 860.0h0M160.7 947.3h0M157.5 953.6h0M126.2 886.5h0M177.4 899.6h0M140.4 860.0h0M148.4 869.0h0M167.8 831.1h0M181.8 879.7h0M175.4 924.7h0M162.8 918.1h0M113.7 893.5h0M122.3 880.2h0M150.1 899.5h0M161.1 913.0h0M168.6 914.1h0M170.9 838.4h0M172.2 905.6h0M183.4 875.6h0M145.0 850.4h0M164.4 936.9h0M154.6 859.6h0M111.6 887.2h0M108.6 897.9h0M167.8 918.0h0M157.3 929.2h0M162.1 905.2h0M155.7 913.3h0M161.8 890.9h0M165.6 902.5h0M160.1 942.2h0M180.3 890.2h0M169.6 834.2h0M155.2 953.1h0M185.3 903.1h0M161.7 920.8h0M166.5 911.3h0M141.6 837.7h0M145.2 832.7h0M147.4 834.1h0M108.5 857.4h0M140.2 879.9h0M187.3 891.0h0M169.6 915.1h0M118.6 885.1h0M175.6 877.5h0M173.7 897.2h0M127.5 894.2h0M166.3 910.7h0M144.9 866.3h0M112.6 863.1h0M126.0 892.6h0M180.3 880.0h0M163.4 833.8h0M143.9 832.4h0M113.1 895.7h0M159.0 920.6h0M158.8 907.3h0M106.1 891.1h0M188.9 891.8h0M169.3 913.5h0M175.7 931.9h0M114.5 898.9h0M176.6 910.3h0M61.7 913.3h0M129.3 894.6h0M153.2 964.6h0M182.0 878.4h0M148.8 955.8h0M56.8 910.3h0M126.1 853.4h0M161.4 918.3h0M175.7 925.3h0M165.5 911.5h0M162.7 916.0h0M144.8 838.0h0M173.8 898.8h0M143.4 847.8h0M153.7 927.1h0M190.7 876.6h0M96.4 906.4h0M153.8 886.0h0M158.5 932.9h0M145.0 944.4h0M162.6 914.1h0M185.1 875.5h0M117.8 880.6h0M106.5 890.6h0M138.7 829.5h0M117.1 856.1h0M104.6 861.3h0M166.7 833.0h0M132.2 849.0h0M150.9 882.0h0M106.2 856.7h0M182.0 879.5h0M156.1 923.7h0M111.0 887.8h0M71.0 911.0h0M174.0 921.9h0M185.1 873.2h0M119.2 883.2h0M159.5 952.5h0M110.9 888.3h0M164.0 888.1h0M175.0 888.8h0M98.6 908.3h0M170.6 921.8h0M154.5 898.2h0M164.4 888.7h0M121.0 883.4h0M126.7 899.8h0M182.5 901.0h0M117.5 874.9h0M55.7 911.2h0M155.7 853.7h0M157.2 952.2h0M156.8 933.7h0M129.9 883.2h0M176.9 912.9h0M157.2 912.5h0M141.3 883.9h0M172.7 892.4h0M182.4 898.2h0M133.9 901.0h0M152.7 933.1h0M171.7 914.5h0M105.0 858.8h0M151.3 947.3h0M168.4 831.8h0M163.9 834.0h0M148.0 952.8h0M145.1 832.5h0M68.0 909.7h0M184.1 884.6h0M150.8 931.9h0M58.0 909.9h0M161.0 948.0h0M144.5 956.4h0M119.5 903.8h0M148.2 835.8h0M174.1 899.4h0M189.5 877.8h0M110.8 863.2h0M129.5 883.3h0M164.2 906.7h0M185.7 886.8h0M147.9 833.8h0M131.7 852.0h0M171.8 894.1h0M169.5 887.8h0M149.8 865.0h0M165.9 923.4h0M147.6 862.7h0M180.2 885.8h0M154.6 930.2h0M129.7 882.1h0M172.1 929.3h0M118.2 856.1h0M138.5 888.2h0M155.4 960.5h0M185.9 880.6h0M156.5 913.0h0M179.1 888.5h0M117.9 892.8h0M168.6 933.3h0M54.7 912.3h0M139.7 849.5h0M120.1 894.6h0M108.5 863.0h0M117.0 857.0h0M128.6 898.7h0M144.2 837.0h0M173.9 915.2h0M176.6 879.4h0M145.2 943.1h0M166.9 837.3h0M144.4 945.4h0M163.8 920.4h0M176.7 874.5h0M131.0 851.5h0M170.8 926.0h0M60.2 913.4h0M143.1 943.4h0M121.5 889.5h0M112.4 854.7h0M153.7 894.2h0M161.2 953.4h0M147.4 833.9h0M162.3 887.5h0M122.5 901.0h0M170.6 917.1h0M157.0 916.2h0M179.8 902.6h0M147.9 854.4h0M114.0 909.9h0M168.2 831.3h0M151.7 857.7h0M161.5 946.3h0M134.3 849.8h0M132.1 851.8h0M184.2 888.5h0M168.6 941.0h0M179.0 894.6h0M141.2 852.2h0M172.4 914.2h0M160.0 913.1h0M160.7 881.4h0M105.7 860.0h0M122.0 885.2h0M141.9 963.2h0M146.7 886.2h0M148.0 961.5h0M112.9 897.7h0M108.5 861.0h0M144.3 888.8h0M160.4 909.6h0M164.3 936.1h0M108.6 891.8h0M187.0 878.9h0M167.8 925.4h0M106.8 905.8h0M178.7 870.6h0M160.2 939.8h0M131.8 884.6h0M169.5 883.2h0M140.9 956.9h0M110.9 891.1h0M176.0 875.0h0M151.1 889.0h0M151.9 918.4h0M93.8 905.8h0M106.5 866.5h0M143.1 834.8h0M143.7 866.8h0M132.2 893.8h0M181.3 884.3h0M176.8 869.9h0M177.6 877.4h0M153.2 937.7h0M179.7 875.1h0M127.7 851.1h0M159.3 926.3h0M114.7 886.8h0M176.2 870.0h0M176.2 922.3h0M178.0 895.4h0M136.9 887.9h0M125.2 885.5h0M159.5 899.2h0M180.4 885.0h0M140.2 847.2h0M61.3 911.3h0M165.5 894.8h0M112.0 867.9h0M106.3 857.7h0M148.7 848.0h0M188.5 876.6h0M143.3 880.6h0M186.5 889.3h0M139.0 870.7h0M168.0 890.5h0M142.9 846.7h0M109.4 860.1h0M141.5 891.2h0M169.5 832.5h0M129.4 878.1h0M154.0 886.8h0M148.7 879.5h0M147.8 965.4h0M148.1 840.2h0M183.8 882.9h0M169.1 832.3h0M158.4 954.9h0M166.8 879.0h0M120.0 871.8h0M129.4 892.3h0M157.7 921.9h0M113.2 909.2h0M134.7 898.6h0M142.7 897.1h0M129.1 889.4h0M138.1 893.1h0M158.9 912.3h0M160.4 940.4h0M137.3 846.0h0M181.8 888.3h0M166.7 912.7h0M175.7 895.4h0M170.3 916.7h0M109.2 863.6h0M148.2 890.1h0M128.9 892.4h0M166.3 920.4h0M143.2 833.9h0M121.7 899.6h0M108.2 900.4h0M125.6 856.0h0M154.8 920.6h0M184.2 876.3h0M174.3 882.5h0M168.0 836.6h0M174.4 933.4h0M184.8 876.3h0M178.9 918.6h0M180.9 869.9h0M174.6 921.6h0M180.1 894.0h0M151.9 891.7h0M156.3 930.7h0M144.5 879.7h0M173.2 924.9h0M160.5 916.4h0M129.2 856.6h0M178.9 907.8h0M110.9 862.1h0M127.3 880.7h0M131.8 851.2h0M119.3 886.6h0M133.3 888.5h0M116.9 885.7h0M182.5 872.1h0M105.6 888.2h0M118.1 905.0h0M174.6 918.3h0M160.7 953.1h0M164.2 840.3h0M157.6 936.0h0M181.9 892.1h0M182.2 896.2h0M142.0 833.4h0M159.7 951.4h0M157.1 924.8h0M144.2 833.2h0M144.2 957.9h0M124.4 902.1h0M154.2 912.7h0M156.3 935.2h0M169.5 917.1h0M152.4 835.7h0M159.4 941.5h0M115.2 888.6h0M133.6 851.6h0M149.6 927.8h0M176.1 909.9h0M169.7 913.9h0M151.7 868.3h0M134.0 846.4h0M179.0 890.8h0M148.5 891.6h0M160.1 906.2h0M146.6 829.1h0M145.3 944.6h0M161.2 919.5h0M167.8 911.9h0M159.2 939.6h0M134.7 849.4h0M118.4 906.4h0M137.2 899.9h0M155.0 892.8h0M178.0 885.0h0M154.3 955.5h0M172.5 876.3h0M177.1 925.5h0M160.6 917.2h0M164.4 936.9h0M109.0 863.6h0M130.8 848.3h0M106.8 863.9h0M162.8 929.0h0M111.4 856.0h0M134.4 873.1h0M125.9 855.0h0M180.2 876.4h0M110.0 869.9h0M155.4 937.4h0M141.0 829.8h0M133.1 876.9h0M182.7 903.7h0M170.2 914.3h0M171.4 889.8h0M153.3 920.7h0M156.1 925.7h0M146.1 897.7h0M116.7 889.8h0M132.3 850.7h0M153.9 836.4h0M163.3 942.9h0M145.0 966.7h0M182.7 869.2h0M118.0 891.3h0M167.5 834.9h0M159.0 939.0h0M149.8 894.2h0M155.0 932.6h0M107.5 856.8h0M111.1 864.2h0M104.5 894.0h0M113.7 860.0h0M179.2 924.4h0M171.3 907.9h0M62.4 913.0h0M121.3 853.8h0M184.1 868.8h0M157.1 913.2h0M114.8 880.9h0M165.3 887.0h0M141.0 872.5h0M73.7 911.5h0M148.9 890.0h0M117.0 870.8h0M185.8 901.0h0M160.7 939.5h0M154.0 856.2h0M123.9 886.0h0M112.9 891.2h0M181.3 898.7h0M135.3 885.2h0M149.6 966.1h0M168.7 835.7h0M179.5 917.6h0M147.7 839.2h0M179.3 870.7h0M135.0 893.4h0M175.1 894.5h0M165.4 840.3h0M164.2 920.2h0M183.0 893.1h0M173.2 895.4h0M118.5 897.6h0M167.7 834.8h0M151.5 915.8h0M162.3 945.1h0M146.0 847.0h0M131.9 878.1h0M112.6 854.5h0M111.0 891.2h0M145.2 829.2h0M188.9 875.9h0M161.7 933.0h0M168.8 887.9h0M166.4 942.0h0M119.6 851.6h0M108.2 888.0h0M107.0 856.6h0M162.1 841.6h0M116.3 892.7h0M125.5 855.2h0M155.5 891.8h0M118.6 876.5h0M164.8 832.6h0M177.7 874.0h0M109.2 886.3h0M163.6 928.3h0M155.9 936.9h0M134.3 883.9h0M152.5 961.9h0M175.2 915.8h0M162.8 932.4h0M118.6 874.5h0M129.8 880.6h0M166.8 905.4h0M169.6 913.3h0M111.7 892.0h0M128.2 902.6h0M143.1 832.0h0M171.0 924.2h0M55.9 910.4h0M136.0 895.1h0M150.7 832.0h0M169.8 921.0h0M174.7 918.8h0M152.7 898.2h0M149.7 876.6h0M154.1 860.3h0M159.4 942.5h0M174.8 901.1h0M117.6 872.3h0M169.0 840.4h0M179.0 885.6h0M182.6 898.5h0M157.5 916.6h0M116.9 901.5h0M182.7 876.7h0M166.9 935.7h0M175.1 900.6h0M165.0 874.2h0M161.9 841.6h0M116.7 889.4h0M176.6 919.4h0M130.0 849.4h0M153.5 848.9h0M158.9 915.8h0M145.8 849.4h0M136.8 888.3h0M114.1 864.2h0M124.7 900.9h0M177.7 878.0h0M164.9 878.4h0M110.7 862.2h0M114.5 858.4h0M59.1 912.8h0M142.4 831.8h0M171.4 835.8h0M110.2 857.8h0M127.3 850.7h0M150.9 955.5h0M117.5 874.9h0M146.1 867.8h0M145.1 959.7h0M168.3 928.4h0M115.2 858.7h0M110.9 859.7h0M179.1 894.3h0M54.7 910.6h0M140.7 888.1h0M106.9 860.5h0M71.9 910.9h0M147.8 955.5h0M153.2 959.2h0M147.4 877.3h0M165.6 835.3h0M128.9 893.6h0M166.3 911.0h0M163.3 930.8h0M160.4 900.9h0M142.8 835.5h0M132.1 849.1h0M147.2 857.5h0M166.7 836.4h0M175.4 930.3h0M119.1 848.3h0M143.9 836.0h0M189.8 882.6h0M180.5 875.5h0M171.1 918.8h0M179.7 907.1h0M167.6 885.1h0M118.3 865.9h0M158.9 935.2h0M130.3 853.0h0M118.2 898.7h0M140.2 956.0h0M130.4 847.7h0M157.8 958.0h0M125.9 858.9h0M74.8 909.0h0M184.0 875.9h0M128.7 901.2h0M132.7 849.9h0M154.0 919.5h0M56.5 911.2h0M142.3 961.8h0M168.6 940.7h0M158.5 929.9h0M125.4 857.5h0M189.8 875.6h0M186.0 894.8h0M110.9 884.4h0M109.5 859.6h0M109.7 865.9h0M151.2 962.1h0M155.9 923.7h0M185.3 897.7h0M106.0 862.1h0M160.2 930.8h0M105.8 864.0h0M165.9 882.9h0M134.2 847.7h0M133.3 886.4h0M152.1 832.9h0M123.5 894.8h0M142.7 839.4h0M177.0 868.3h0M188.8 891.5h0M134.0 881.0h0M181.2 896.3h0M169.1 833.3h0M128.1 879.9h0M156.0 912.5h0M171.6 917.9h0M168.6 925.1h0M178.1 883.8h0M169.3 834.0h0M160.9 885.9h0M166.6 922.4h0M174.9 908.1h0M116.2 886.8h0M148.8 920.1h0M154.0 834.0h0M158.0 921.0h0M94.2 905.8h0M160.6 906.4h0M157.4 911.2h0M153.4 925.3h0M185.1 894.5h0M176.4 871.8h0M147.0 828.4h0M158.2 933.7h0M155.1 917.5h0M165.5 920.3h0M152.2 857.3h0M168.5 836.3h0M172.5 873.2h0M180.8 895.5h0M111.5 860.1h0M180.4 884.5h0M108.3 860.9h0M171.1 835.9h0M147.4 908.3h0M174.8 868.7h0M168.5 903.1h0M159.8 882.8h0M184.1 882.3h0M187.1 878.9h0M129.2 894.8h0M170.1 939.6h0M132.2 847.3h0M110.9 896.3h0M173.3 923.5h0M54.6 909.9h0M107.8 856.8h0M152.6 877.3h0M148.2 889.5h0M176.1 911.2h0M150.7 832.8h0M126.5 905.3h0M122.3 882.5h0M158.2 919.2h0M178.6 867.7h0M176.4 892.5h0M155.8 906.1h0M139.8 890.0h0M152.7 897.8h0M120.0 865.0h0M142.7 862.3h0M157.6 957.2h0M158.7 935.1h0M162.1 922.0h0M131.7 849.6h0M143.6 832.2h0M124.7 893.1h0M142.5 889.0h0M112.0 908.7h0M182.5 868.8h0M181.7 888.7h0M180.0 881.6h0M145.1 896.4h0M152.6 882.3h0M147.1 920.8h0M164.9 833.9h0M164.9 840.1h0M142.9 830.6h0M104.7 907.2h0M146.8 921.5h0M161.9 948.4h0M155.4 936.7h0M159.0 917.0h0M111.4 862.0h0M159.0 957.7h0M177.1 898.5h0M153.3 902.2h0M180.7 874.9h0M164.3 917.5h0M182.8 886.0h0M119.4 849.5h0M166.7 898.1h0M113.7 888.9h0M146.9 888.7h0M111.5 863.1h0M153.8 951.3h0M181.6 910.5h0M175.4 932.2h0M173.2 922.3h0M154.1 942.1h0M150.0 957.2h0M167.1 932.5h0M108.9 858.9h0M158.2 892.6h0M162.2 920.6h0M156.3 917.7h0M173.6 929.1h0M168.1 887.5h0M149.1 836.4h0M162.6 910.1h0M154.2 951.4h0M132.5 881.2h0M143.9 857.1h0M120.2 858.0h0M129.5 899.4h0M61.1 911.9h0M105.1 858.3h0M175.1 877.3h0M165.3 872.9h0M113.2 861.9h0M127.4 858.8h0M162.4 930.7h0M185.8 883.4h0M152.7 854.9h0M106.3 897.3h0M174.5 932.7h0M170.0 926.8h0M184.1 884.5h0M128.5 877.1h0M97.1 906.2h0M176.6 901.6h0M165.9 836.0h0M167.5 884.7h0M123.4 890.0h0M106.4 865.9h0M125.8 885.3h0M158.0 898.1h0M180.7 871.6h0M168.6 836.0h0M167.7 881.3h0M178.2 891.6h0M176.8 921.8h0M129.1 853.6h0M167.5 834.5h0M180.0 885.8h0M169.5 836.8h0M143.1 839.7h0M158.1 925.8h0M178.0 904.0h0M169.6 834.1h0M153.0 908.8h0M107.2 860.8h0M161.2 844.3h0M131.4 878.3h0M125.6 896.6h0M130.2 884.1h0M158.3 886.0h0M157.6 958.7h0M126.4 854.1h0M181.7 891.8h0M156.7 948.6h0M152.6 953.0h0M190.0 885.6h0M118.0 885.2h0M165.8 835.2h0M178.5 879.3h0M112.9 865.4h0M124.2 887.7h0M118.7 885.9h0M58.7 913.3h0M180.7 896.1h0M169.2 836.1h0M154.0 835.0h0M164.4 925.6h0M175.1 924.2h0M168.3 911.2h0M182.2 880.1h0M155.3 921.1h0M175.9 920.6h0M95.6 906.1h0M184.3 870.5h0M126.8 882.4h0M107.8 859.1h0M133.5 882.3h0M175.1 923.0h0M150.0 896.7h0M178.5 895.1h0M161.9 904.7h0M174.6 933.8h0M62.6 909.9h0M172.4 919.8h0M153.9 831.4h0M136.1 847.3h0M125.5 880.7h0M184.0 883.7h0M120.0 884.7h0M153.9 916.8h0M169.6 834.9h0M179.4 871.5h0M168.8 934.9h0M138.1 855.0h0M176.8 925.1h0M164.2 934.6h0M123.1 892.1h0M189.2 878.0h0M177.3 884.5h0M137.0 855.3h0M187.6 870.1h0M171.5 940.7h0M170.0 836.5h0M177.2 892.5h0M115.4 860.2h0M150.5 836.4h0M127.6 853.8h0M172.7 930.0h0M138.9 893.1h0M185.4 873.4h0M178.3 920.9h0M149.7 896.0h0M147.4 831.1h0M173.9 879.5h0M176.5 890.9h0M170.6 940.2h0M106.0 893.8h0M118.3 864.9h0M108.1 865.1h0M135.7 887.2h0M154.5 853.7h0M180.1 869.5h0M150.5 914.8h0M177.1 913.1h0M182.7 880.5h0M123.6 893.5h0M142.8 956.6h0M165.3 919.7h0M163.2 924.6h0M104.8 863.4h0M140.1 872.0h0M155.8 921.4h0M170.2 878.3h0M159.7 954.9h0M180.6 897.4h0M119.3 898.0h0M153.6 898.5h0M174.4 890.4h0M141.5 892.1h0M146.0 885.5h0M179.2 890.6h0M159.2 914.5h0M147.8 862.2h0M184.7 874.9h0M149.2 869.8h0M161.5 953.8h0M105.7 858.1h0M170.6 885.6h0M118.8 865.9h0M172.3 936.0h0M107.8 865.6h0M154.4 947.3h0M110.8 857.3h0M188.0 872.6h0M173.0 876.5h0M149.1 957.6h0M151.8 918.6h0M132.3 894.8h0M131.3 892.3h0M179.9 883.4h0M111.2 859.0h0M165.0 873.7h0M158.1 925.2h0M184.0 882.2h0M183.6 882.8h0M174.9 888.0h0M141.4 864.2h0M163.7 843.3h0M179.8 907.2h0M158.1 886.8h0M117.7 892.5h0M150.0 866.2h0M146.2 831.4h0M129.1 851.0h0M116.2 881.8h0M116.7 892.5h0M114.1 869.6h0M110.5 894.4h0M130.2 885.1h0M55.4 913.8h0M164.3 833.9h0M147.7 833.2h0M164.0 922.1h0M116.0 857.0h0M147.0 831.1h0M107.7 865.1h0M172.9 926.4h0M163.2 884.9h0M156.8 922.5h0M110.6 863.4h0M156.3 855.6h0M150.6 924.2h0M163.7 845.0h0M161.8 835.6h0M158.2 905.7h0M174.5 894.1h0M129.2 854.3h0M180.5 911.8h0M146.1 892.1h0M158.8 950.9h0M164.9 914.8h0M188.0 877.6h0M114.8 870.0h0M183.6 899.9h0M134.3 845.7h0M162.0 933.3h0M127.9 889.8h0M159.6 955.2h0M187.5 886.9h0M181.5 889.2h0M165.2 940.7h0M142.6 847.2h0M147.2 898.9h0M180.2 884.3h0M177.3 879.9h0M181.3 897.9h0M158.8 947.4h0M164.9 906.7h0M167.7 839.3h0M160.9 928.4h0M130.6 897.3h0M147.0 877.6h0M146.2 835.0h0M132.4 900.9h0M142.9 859.9h0M141.4 888.4h0M164.5 888.7h0M63.2 910.2h0M183.0 877.3h0M120.7 887.0h0M124.2 899.0h0M130.6 883.6h0M180.2 891.8h0M116.9 869.6h0M161.6 931.4h0M167.2 883.4h0M107.5 859.1h0M121.0 891.8h0M114.9 882.3h0M143.5 893.2h0M145.5 839.5h0M160.2 935.7h0M128.4 852.6h0M158.7 929.0h0M139.3 890.4h0M113.9 882.3h0M183.9 891.7h0M110.3 899.9h0M119.1 891.1h0M118.9 855.1h0M184.4 872.1h0M125.6 857.2h0M120.8 890.3h0M161.6 921.7h0M114.8 854.4h0M118.1 897.1h0M180.2 886.6h0M110.2 891.7h0M162.8 929.2h0M181.4 883.5h0M146.4 838.8h0M151.1 949.6h0M172.5 908.7h0M188.5 873.2h0M106.4 862.6h0M184.1 892.5h0M155.8 903.8h0M107.0 856.6h0M162.5 873.5h0M173.1 910.5h0M190.1 883.9h0M170.0 928.8h0M158.6 932.7h0M132.6 894.5h0M133.3 891.6h0M112.7 871.8h0M183.0 887.8h0M95.9 905.9h0M144.1 827.1h0M166.8 934.7h0M167.9 902.0h0M140.1 888.6h0M110.5 863.0h0M109.1 865.4h0M150.5 838.4h0M180.6 881.8h0M56.7 907.1h0M166.3 937.8h0M188.5 880.1h0M174.7 895.9h0M163.4 945.1h0M111.6 890.5h0M158.9 898.5h0M151.1 959.5h0M174.3 914.6h0M175.6 870.1h0M155.8 848.9h0M112.3 865.0h0M152.7 929.0h0M138.8 903.1h0M130.5 880.3h0M182.8 876.5h0M170.5 929.5h0M183.4 885.4h0M155.5 933.2h0M165.7 925.6h0M126.2 887.2h0M114.1 856.5h0M161.1 899.3h0M112.7 861.5h0M152.6 956.1h0M156.1 935.8h0M179.1 898.6h0M134.1 889.7h0M104.4 862.2h0M190.6 881.8h0M138.7 890.6h0M165.1 944.4h0M150.9 908.5h0M107.8 857.2h0M157.9 929.1h0M184.5 885.0h0M160.8 945.2h0M145.5 834.0h0M162.9 910.8h0M152.9 895.0h0M186.8 884.0h0M170.8 885.2h0M114.1 906.7h0M106.8 861.6h0M157.7 958.7h0M167.0 834.0h0M154.4 851.8h0M120.3 852.6h0M182.9 883.3h0M57.0 913.6h0M173.3 922.2h0M117.6 881.1h0M148.2 844.3h0M167.7 834.3h0M183.5 878.5h0M174.8 893.5h0M160.9 902.8h0M139.9 831.9h0M182.5 876.3h0M153.9 917.9h0M132.0 850.2h0M154.5 911.9h0M166.6 927.5h0M157.4 905.1h0M180.8 872.1h0M114.7 857.4h0M111.7 862.3h0M151.7 832.4h0M156.9 899.5h0M143.3 844.7h0M138.0 899.0h0M179.2 919.0h0M146.5 829.1h0M177.6 883.3h0M149.7 902.8h0M144.2 887.2h0M143.1 885.9h0M170.1 837.1h0M121.5 891.2h0M161.7 907.8h0M113.2 893.9h0M164.7 937.0h0M134.9 846.0h0M122.1 881.6h0M180.8 912.7h0M113.0 887.3h0M161.7 896.9h0M169.6 922.9h0M157.1 923.9h0M125.0 888.8h0M113.6 859.4h0M176.9 879.1h0M180.4 875.6h0M148.0 842.1h0M176.6 918.9h0M146.6 836.0h0M163.5 940.0h0M152.8 917.1h0M172.1 915.7h0M174.3 888.9h0M109.5 900.6h0M167.4 893.5h0M129.6 847.5h0M176.2 885.4h0M118.0 883.7h0M121.5 884.3h0M112.7 863.4h0M158.5 916.2h0M111.1 868.9h0M181.3 874.5h0M137.0 886.7h0M152.5 915.2h0M161.4 840.7h0M181.4 891.3h0M115.6 861.5h0M176.7 892.2h0M159.4 921.0h0M172.0 921.4h0M106.4 860.0h0M159.6 941.3h0M168.5 931.6h0M170.1 911.3h0M150.4 893.9h0M183.5 874.9h0M162.7 952.3h0M177.9 906.0h0M144.5 895.9h0M160.5 884.6h0M172.2 919.6h0M142.1 961.1h0M107.6 860.2h0M182.3 882.0h0M106.9 857.3h0M178.5 898.2h0M175.7 898.7h0M108.8 867.7h0M126.6 898.8h0M117.3 874.3h0M136.2 892.1h0M149.2 954.4h0M149.1 962.9h0M152.4 834.3h0M162.4 928.0h0M188.3 893.9h0M167.1 904.8h0M181.7 876.2h0M120.3 854.7h0M120.2 894.7h0M105.7 860.4h0M181.7 876.3h0M183.4 879.9h0M153.4 926.3h0M124.7 882.3h0M175.8 911.5h0M179.7 891.7h0M153.2 929.8h0M142.5 829.8h0M180.0 907.1h0M140.9 836.5h0M156.5 962.0h0M111.3 868.0h0M169.2 927.4h0M111.8 898.3h0M58.5 911.5h0M189.8 877.0h0M144.3 901.6h0M117.7 879.5h0M172.1 875.3h0M166.5 838.3h0M183.0 882.0h0M174.7 934.4h0M123.3 880.7h0M161.3 837.7h0M150.9 896.5h0M156.0 914.5h0M122.8 887.9h0M141.1 881.3h0M151.5 907.5h0M165.4 832.8h0M146.0 833.7h0M163.4 837.6h0M171.0 935.7h0M172.6 923.0h0M173.3 924.2h0M116.1 857.7h0M176.9 894.9h0M164.0 912.4h0M139.0 824.8h0M64.4 911.3h0M147.3 958.1h0M139.1 856.4h0M105.4 858.9h0M170.7 919.0h0M164.0 915.7h0M173.9 891.0h0M130.8 883.8h0M174.9 915.7h0M133.3 897.2h0M140.6 896.5h0M164.5 907.6h0M119.7 884.8h0M157.2 944.4h0M160.6 927.5h0M127.2 880.7h0M177.8 897.8h0M176.3 871.6h0M178.6 879.7h0M168.4 905.3h0M134.6 866.4h0M146.9 951.5h0M186.6 878.9h0M172.2 925.3h0M165.2 925.0h0M55.5 909.1h0M131.7 845.5h0M149.2 836.6h0M142.3 886.8h0M142.6 839.6h0M171.8 909.4h0M171.8 887.7h0M184.8 888.6h0M175.7 892.4h0M56.4 906.6h0M121.5 889.6h0M142.7 865.9h0M187.5 892.3h0M148.5 926.5h0M120.0 861.5h0M69.0 910.2h0M111.6 900.9h0M116.5 891.0h0M180.7 876.9h0M182.6 876.5h0M56.5 910.5h0M162.6 936.6h0M117.0 899.5h0M155.5 849.4h0M133.8 890.2h0M162.4 892.4h0M118.1 881.9h0M165.1 916.3h0M149.7 838.6h0M113.5 890.1h0M109.7 858.9h0M121.5 897.0h0M143.8 942.1h0M125.0 861.3h0M179.9 871.2h0M142.0 955.7h0M175.9 927.4h0M121.0 895.3h0M156.6 957.6h0M166.2 840.2h0M114.4 898.7h0M113.5 859.5h0M126.5 854.7h0M172.8 909.1h0M169.4 916.8h0M179.7 902.7h0M110.0 862.7h0M155.2 851.4h0M174.8 888.9h0M76.0 909.9h0M185.9 895.0h0M188.4 877.8h0M57.5 905.7h0M122.7 889.1h0M184.5 882.9h0M154.9 918.6h0" stroke="#E3E3E3" stroke-width="1.25" stroke-linecap="round" fill="none"/>
<path d="M142.1 959.1h0M120.4 879.7h0M170.1 925.2h0M155.6 932.9h0M116.0 895.1h0M146.4 852.0h0M149.5 852.9h0M177.3 921.7h0M116.9 894.6h0M152.1 961.8h0M166.8 893.1h0M138.2 902.5h0M144.1 961.0h0M165.7 893.2h0M156.5 960.1h0M147.9 967.4h0M138.1 892.2h0M176.3 929.9h0M156.7 960.9h0M114.5 890.2h0M155.3 889.6h0M114.8 889.7h0M139.2 883.5h0M137.9 886.0h0M157.9 913.7h0M182.0 876.2h0M142.9 909.4h0M133.9 879.7h0M123.6 900.6h0M147.8 964.3h0M159.9 941.4h0M147.7 903.8h0M159.8 909.9h0M146.5 950.4h0M145.5 960.3h0M153.3 961.4h0M111.0 909.9h0M71.0 912.5h0M167.1 916.1h0M117.4 885.5h0M110.9 861.5h0M122.1 887.9h0M150.9 949.4h0M146.0 901.7h0M154.2 856.4h0M154.4 913.3h0M142.8 963.2h0M140.6 892.7h0M129.5 900.3h0M142.2 884.1h0M144.0 962.6h0M140.5 903.7h0M152.9 953.9h0M145.0 895.6h0M151.8 951.8h0M187.2 876.9h0M178.9 895.6h0M157.0 880.2h0M139.4 894.4h0M113.2 887.3h0M121.0 892.9h0M156.5 954.4h0M160.5 883.3h0M154.7 959.4h0M151.3 852.8h0M147.8 960.2h0M114.5 897.2h0M130.8 900.6h0M154.2 963.4h0M70.1 910.1h0M72.5 914.5h0M129.8 896.3h0M152.3 964.8h0M148.9 964.2h0M145.6 961.8h0M156.4 925.5h0M144.0 962.4h0M120.7 882.2h0M113.7 868.3h0M153.6 956.4h0M159.2 946.5h0M142.2 851.9h0M138.6 893.0h0M116.6 868.8h0M182.1 903.3h0M153.0 960.8h0M154.5 954.8h0M155.6 955.8h0M118.0 883.4h0M121.4 900.7h0M162.8 946.8h0M116.1 902.7h0M147.7 964.9h0M121.8 897.5h0M131.9 898.3h0M128.2 902.4h0M116.7 901.1h0M152.0 950.8h0M145.3 847.0h0M147.1 964.8h0M167.4 934.2h0M121.6 890.9h0M161.6 928.1h0M157.0 912.7h0M111.7 888.8h0M127.1 902.3h0M132.0 904.3h0M185.5 887.8h0M142.9 953.7h0M154.6 948.4h0M163.4 936.4h0M150.9 955.8h0M118.9 900.7h0M148.9 951.3h0M169.4 936.3h0M160.2 932.0h0M143.9 953.4h0M156.2 946.6h0M184.7 887.8h0M172.9 930.1h0M132.4 880.3h0M116.0 886.5h0M142.4 896.7h0M143.0 961.5h0M134.1 868.9h0M156.0 961.5h0M165.2 896.2h0M139.2 888.8h0M153.8 964.7h0M149.2 959.7h0M149.6 962.1h0M154.2 948.1h0M144.1 866.9h0M117.5 891.0h0M153.8 854.2h0M120.7 892.1h0M151.1 961.5h0M187.4 891.9h0M143.3 959.8h0M76.8 910.7h0M107.3 890.5h0M146.7 964.0h0M121.8 899.7h0M136.5 896.7h0M162.2 916.7h0M187.2 879.6h0M115.3 884.0h0M153.9 858.1h0M186.4 884.2h0M132.7 898.0h0M175.4 907.4h0M151.1 964.1h0M158.4 930.7h0M179.8 904.3h0M131.4 901.6h0M149.4 955.3h0M148.3 965.6h0M136.3 895.7h0M146.6 963.2h0M126.9 891.7h0M157.7 918.6h0M125.4 890.5h0M154.7 913.0h0M141.4 905.1h0M173.1 917.8h0M130.2 885.6h0M135.5 893.0h0M116.3 890.9h0M160.4 936.1h0M134.5 885.1h0M182.2 890.7h0M157.4 954.9h0M153.5 856.5h0M159.9 950.9h0M151.6 958.4h0M153.1 956.6h0M159.1 952.2h0M151.2 959.2h0M74.7 911.2h0M165.3 928.5h0M157.3 946.2h0M131.7 890.6h0M149.7 852.5h0M153.8 858.1h0M142.9 883.2h0M131.7 878.2h0M170.6 938.6h0M143.8 911.4h0M156.8 914.8h0M144.4 962.4h0M155.4 956.8h0M153.2 887.4h0M127.2 906.5h0M162.4 928.4h0M151.3 960.0h0M152.0 964.5h0M126.8 898.7h0M155.9 956.0h0M184.1 908.9h0M169.3 905.3h0M143.5 909.3h0M124.8 890.9h0M132.8 890.2h0M146.2 893.9h0M132.5 888.6h0M188.1 876.1h0M170.6 938.1h0M155.7 953.2h0M156.8 892.6h0M137.9 897.7h0M145.0 960.4h0M152.3 891.6h0M149.5 961.7h0M118.9 880.5h0M161.7 898.9h0M157.8 899.9h0M135.4 892.8h0M159.4 952.4h0M151.0 948.7h0M149.2 876.9h0M122.9 898.0h0M153.9 956.7h0M156.7 951.5h0M170.8 911.0h0M177.9 912.3h0M149.0 878.3h0M119.1 889.4h0M150.4 906.1h0M142.8 962.3h0M150.3 965.7h0M69.3 911.8h0M115.7 893.5h0M107.3 907.8h0M151.7 964.7h0M116.3 888.3h0M154.0 916.6h0M127.4 903.4h0M72.7 911.5h0M112.9 883.3h0M133.9 901.3h0M152.5 946.7h0M144.0 961.4h0M151.5 936.5h0M164.1 932.6h0M107.0 909.3h0M149.6 953.0h0M152.1 891.3h0M163.3 936.3h0M127.8 900.1h0M150.7 962.4h0M119.1 884.0h0M142.2 851.2h0M154.3 956.0h0M135.7 902.8h0M127.2 895.6h0M180.8 889.6h0M141.8 955.8h0M160.6 918.0h0M166.3 889.7h0M142.3 891.9h0M146.4 966.0h0M154.6 850.5h0M167.8 876.0h0M122.3 902.7h0M107.7 889.5h0M161.2 905.3h0M147.5 956.7h0M159.6 910.1h0M154.1 919.6h0M162.3 948.1h0M146.8 960.6h0M126.6 880.3h0M124.5 897.7h0M142.6 881.1h0M175.5 872.0h0M150.7 961.1h0M158.9 943.7h0M122.2 888.7h0M146.3 967.1h0M72.2 907.7h0M159.4 936.2h0M147.6 900.6h0M115.3 861.9h0M167.5 901.0h0M141.4 846.4h0M145.4 963.4h0M109.3 909.7h0M116.5 882.6h0M144.5 879.3h0M137.0 888.4h0M151.2 963.1h0M145.8 900.2h0M160.5 898.6h0M163.1 908.2h0M154.9 901.7h0M148.6 901.1h0M120.0 884.6h0M150.1 960.4h0M153.0 859.1h0M75.6 909.4h0M186.2 890.8h0M127.7 882.8h0M147.2 846.8h0M154.0 963.8h0M130.4 906.1h0M178.4 879.0h0M149.3 886.3h0M149.3 908.0h0M144.9 950.5h0M138.7 848.0h0M152.9 962.2h0M73.0 911.2h0M187.1 872.9h0" stroke="#E5CAC2" stroke-width="0.95" stroke-linecap="round" fill="none"/>
<path d="M113.5 910.7h0M144.2 879.0h0M163.9 948.3h0M154.2 852.5h0M137.0 894.1h0M163.7 937.1h0M152.2 963.9h0M123.9 905.5h0M150.8 861.7h0M119.2 886.0h0M150.5 884.8h0M123.4 895.1h0M123.6 900.8h0M108.9 909.6h0M153.3 850.5h0M170.4 926.0h0M143.7 964.0h0M139.7 854.3h0M120.1 884.3h0M142.7 960.6h0M148.8 956.8h0M74.8 908.2h0M127.4 905.2h0M110.9 896.7h0M108.2 907.9h0M145.6 964.4h0M155.7 890.2h0M153.7 954.7h0M148.7 964.9h0M152.1 964.9h0M147.7 960.4h0M137.5 895.4h0M144.3 898.7h0M137.4 896.7h0M116.9 893.1h0M155.3 955.6h0M127.3 891.4h0M120.6 896.6h0M149.6 962.3h0M147.4 960.4h0M73.5 910.2h0M118.2 901.4h0M169.5 891.2h0M116.0 905.6h0M142.5 895.6h0M148.3 960.8h0M113.2 890.9h0M146.8 960.0h0M152.4 950.5h0M149.7 894.0h0M104.9 888.7h0M139.9 960.6h0M150.8 960.8h0M143.0 961.8h0M144.6 962.7h0M73.5 912.8h0M131.4 878.4h0M148.3 967.1h0M151.3 856.5h0M123.3 907.1h0M161.6 923.4h0M143.1 853.0h0M146.0 868.1h0M146.6 963.7h0M154.9 958.7h0M120.4 900.8h0M144.3 959.8h0M125.8 904.9h0M172.8 916.8h0M108.9 907.4h0M168.3 910.5h0M121.1 882.8h0M117.0 898.9h0M148.2 867.2h0M126.9 897.1h0M111.0 908.3h0M131.5 906.3h0M144.0 959.4h0M144.9 964.9h0M150.1 963.0h0M162.4 926.9h0M161.5 900.0h0M159.3 908.6h0M149.9 961.0h0M154.4 965.9h0M113.3 902.9h0M123.7 899.3h0M146.2 960.0h0M163.2 892.7h0M156.1 913.2h0M147.6 906.0h0M157.1 897.7h0M133.2 889.2h0M120.4 889.8h0M156.0 898.3h0M161.1 952.2h0M73.1 912.4h0M73.1 911.6h0M144.1 963.2h0M147.1 879.2h0M167.3 889.3h0M158.7 954.8h0M149.7 868.2h0M134.8 901.9h0M70.5 911.4h0M118.2 889.4h0M119.8 904.3h0M154.6 950.6h0M173.4 920.8h0M160.2 954.3h0M166.6 932.4h0M138.8 893.7h0M137.2 893.5h0M138.1 875.7h0M69.3 910.8h0M106.7 895.0h0M146.3 961.4h0M152.5 866.7h0M152.4 962.1h0M130.9 901.3h0M146.5 961.4h0M125.8 900.5h0M150.8 961.9h0M160.6 883.0h0M158.0 932.5h0M142.2 962.4h0M154.0 851.7h0M147.1 963.7h0M128.0 893.8h0M136.1 883.5h0M144.3 897.3h0M167.0 902.7h0M113.8 884.3h0M125.1 903.4h0M150.7 885.6h0M142.4 960.9h0M118.5 904.4h0M146.5 881.3h0M120.2 905.5h0M134.7 897.0h0M127.4 880.5h0M131.4 895.2h0M145.1 965.0h0M154.6 857.6h0M106.0 890.1h0M151.5 865.3h0M164.6 896.1h0M114.2 888.4h0M133.7 872.0h0M111.6 910.9h0M150.5 961.6h0M143.5 864.5h0M146.9 845.3h0M115.6 894.1h0M147.1 961.2h0M153.4 852.6h0M156.1 960.3h0M149.5 963.0h0M116.1 893.1h0M137.2 889.7h0M148.6 963.8h0M145.4 959.5h0M143.3 864.1h0M135.5 903.4h0M155.0 885.8h0M142.2 885.5h0M111.7 892.8h0M157.2 897.8h0M71.5 912.2h0M132.1 897.8h0M135.6 887.9h0M141.6 961.2h0M70.7 908.1h0M162.3 895.3h0M157.2 954.8h0M144.8 902.6h0M75.8 913.2h0M139.1 852.0h0M152.9 857.2h0M142.3 891.8h0M146.9 866.9h0M138.9 856.5h0M120.0 891.0h0M123.8 886.2h0M155.9 954.5h0M136.0 872.2h0M164.1 939.3h0M164.9 893.5h0M125.5 890.1h0M150.2 960.6h0M147.0 962.2h0M152.0 963.7h0M146.5 949.1h0M152.0 949.9h0M156.0 897.4h0M147.3 961.7h0M110.1 907.9h0M69.3 909.4h0M148.9 898.4h0M137.5 891.7h0M107.5 889.9h0M143.8 964.8h0M129.0 907.6h0M141.0 955.7h0M154.1 950.9h0M137.5 889.1h0M148.7 910.5h0M143.6 964.0h0M74.1 912.1h0M149.4 961.4h0M140.5 962.2h0M144.6 959.9h0M158.2 933.2h0M141.2 848.1h0M148.0 903.0h0M150.3 963.0h0M144.5 963.5h0M149.6 960.3h0M124.8 893.7h0M148.9 866.7h0M148.4 963.0h0M127.1 882.2h0M75.1 909.9h0M151.0 880.8h0M150.4 959.5h0M149.2 868.2h0M147.9 965.6h0M109.8 898.8h0M136.1 867.4h0M150.2 904.1h0M142.7 964.3h0" stroke="#EDBFB2" stroke-width="0.95" stroke-linecap="round" fill="none"/>
<path d="M151.5 963.6h0M151.1 865.5h0M155.1 850.8h0M153.9 963.2h0M143.5 963.9h0M148.3 962.9h0M156.8 850.6h0M149.8 868.5h0M155.6 851.3h0M146.7 902.2h0M153.0 861.6h0M154.4 960.5h0M76.5 909.6h0M154.1 963.1h0M144.7 963.9h0M144.2 900.4h0M155.6 961.5h0M149.7 961.4h0M150.3 906.6h0M147.2 967.5h0M71.7 908.9h0M115.4 901.9h0M146.4 962.7h0M124.7 901.4h0M155.7 963.5h0M155.1 960.4h0M143.2 962.6h0M146.2 909.4h0M122.1 904.8h0M148.3 963.6h0M146.5 964.2h0M143.6 961.0h0M148.5 866.9h0M118.6 903.8h0M154.2 963.7h0M75.1 908.0h0M155.4 959.8h0M148.8 966.1h0M145.5 961.5h0M153.6 858.9h0M150.7 966.1h0M115.2 901.1h0M73.2 911.2h0M134.3 900.3h0M144.6 965.8h0M145.8 961.3h0M72.8 913.2h0M111.8 906.7h0M151.5 852.3h0M150.2 959.6h0M151.2 964.6h0M127.6 905.6h0M143.8 959.4h0M152.2 866.7h0M156.5 959.6h0M148.4 901.7h0M142.1 963.5h0M123.3 905.7h0M145.4 962.9h0M146.7 959.6h0M147.9 910.7h0M147.8 964.1h0M155.0 853.4h0M141.1 901.6h0M70.0 912.1h0M145.0 964.5h0M69.1 911.2h0M143.4 960.9h0M142.4 908.4h0M109.9 908.8h0M125.4 901.9h0M146.5 960.5h0M116.6 906.7h0M149.0 868.5h0M128.3 902.5h0M144.8 961.3h0M148.0 962.7h0M149.9 959.8h0M149.7 963.4h0M154.4 964.9h0M109.2 907.7h0M152.6 852.1h0M154.0 847.5h0M148.7 867.7h0M153.4 960.3h0M71.3 909.9h0M153.2 852.9h0M149.7 868.5h0M109.3 907.1h0M124.0 903.9h0M149.1 963.0h0M150.5 867.0h0M139.3 962.0h0M153.3 853.2h0M154.7 961.5h0M122.4 907.4h0" stroke="#F0B09F" stroke-width="0.95" stroke-linecap="round" fill="none"/>
<path d="M146.5 963.5h0M111.3 908.4h0M156.7 960.8h0M143.1 901.2h0M74.8 913.5h0M111.0 908.0h0M135.1 901.9h0M150.6 960.1h0M132.8 901.6h0M124.8 900.9h0M150.0 868.8h0M123.2 905.7h0M149.8 902.4h0M129.7 902.1h0M144.1 903.5h0M155.6 856.2h0M131.8 902.3h0M153.3 866.1h0M150.7 959.6h0M116.8 902.1h0M149.1 901.0h0M107.8 906.4h0M151.0 961.7h0M155.2 854.6h0M152.6 853.7h0M107.8 907.6h0M73.3 912.9h0M149.9 901.9h0M155.7 854.0h0M129.0 907.2h0M71.6 914.4h0M152.2 962.3h0M155.0 962.0h0M140.7 905.8h0M151.2 908.5h0M154.4 850.2h0M110.7 909.1h0M143.2 961.5h0M151.0 869.2h0M70.0 914.0h0M117.0 902.8h0M122.8 903.6h0M150.8 868.8h0M143.2 959.6h0M114.7 904.5h0M152.6 857.3h0M72.0 908.4h0M70.1 909.0h0M151.6 850.5h0M152.8 962.1h0M146.9 961.8h0M72.4 912.0h0M149.2 965.3h0M149.4 962.5h0M104.8 908.8h0M143.6 904.0h0M134.8 904.3h0M123.6 905.4h0M152.4 960.9h0M73.6 913.5h0M69.6 909.7h0M146.2 902.2h0M70.6 910.7h0M151.7 865.4h0M113.1 901.1h0M140.4 905.5h0M154.9 857.4h0M75.1 910.5h0M128.4 903.1h0M148.7 900.8h0M123.7 905.7h0M150.0 867.4h0M129.6 906.8h0M108.0 906.9h0M140.7 905.5h0M151.1 963.1h0M142.1 907.7h0M150.0 962.0h0M141.6 961.3h0M141.8 966.5h0M147.4 962.6h0M146.5 901.6h0M152.0 962.3h0M123.0 907.3h0M145.3 906.0h0" stroke="#F3A08B" stroke-width="0.95" stroke-linecap="round" fill="none"/>
<path d="M73.7 910.8h0M73.4 909.1h0M75.1 913.4h0M71.1 909.7h0M76.2 912.4h0M72.3 911.4h0M69.8 912.8h0M128.4 900.6h0M70.8 910.8h0M153.2 868.1h0M129.2 900.3h0M140.6 903.8h0M109.9 910.2h0M77.4 910.1h0M150.1 866.1h0M72.8 911.2h0M69.3 909.3h0M115.1 903.3h0M150.3 866.0h0M77.1 909.5h0M74.5 911.0h0M74.0 911.5h0M129.4 902.1h0M121.6 901.3h0M112.9 908.5h0M149.2 869.3h0M140.3 901.2h0M150.1 866.4h0M148.5 867.5h0M73.5 914.2h0M73.2 912.0h0M149.7 900.8h0M113.5 910.2h0M128.5 905.0h0M73.7 911.3h0M122.0 907.3h0" stroke="#F69078" stroke-width="0.95" stroke-linecap="round" fill="none"/>
<path d="M149.1 866.1h0M150.5 869.9h0M147.3 868.7h0" stroke="#F57862" stroke-width="0.95" stroke-linecap="round" fill="none"/>
<path d="M152.8 864.5h0M149.7 866.8h0M147.7 867.0h0" stroke="#F3604B" stroke-width="0.95" stroke-linecap="round" fill="none"/>
<circle cx="145.3" cy="907.6" r="0.65" fill="#F02210"/>
<circle cx="150.6" cy="908.2" r="0.65" fill="#F3523D"/>
<circle cx="113.5" cy="910.3" r="0.65" fill="#F5826B"/>
<circle cx="149.5" cy="867.5" r="0.65" fill="#F46A54"/>
<circle cx="150.8" cy="864.5" r="0.65" fill="#F5826B"/>
<rect x="135.1" y="843.7" width="35.2" height="29.2" fill="none" stroke="#111" stroke-width="0.9"/>
<line x1="135.1" y1="843.7" x2="206.6" y2="808.6" stroke="#111" stroke-width="0.8"/>
<line x1="170.3" y1="872.9" x2="206.6" y2="912.6" stroke="#111" stroke-width="0.8"/>
<rect x="206.6" y="808.6" width="123.8" height="104" fill="#fff" stroke="#111" stroke-width="0.9"/>
<clipPath id="insetclip"><rect x="207" y="809" width="123" height="103.2"/></clipPath>
<g clip-path="url(#insetclip)">
<g fill="#DCDCDC" fill-opacity="0.75"><circle cx="210.0" cy="814.0" r="2.25"/><circle cx="214.0" cy="813.0" r="2.25"/><circle cx="217.0" cy="815.0" r="2.25"/><circle cx="223.0" cy="813.6" r="2.25"/><circle cx="230.0" cy="819.0" r="2.25"/><circle cx="210.0" cy="825.0" r="2.25"/><circle cx="226.0" cy="827.0" r="2.25"/><circle cx="222.0" cy="832.0" r="2.25"/><circle cx="228.0" cy="833.0" r="2.25"/><circle cx="232.0" cy="830.0" r="2.25"/><circle cx="236.0" cy="825.0" r="2.25"/><circle cx="239.0" cy="822.0" r="2.25"/><circle cx="241.0" cy="816.0" r="2.25"/><circle cx="245.0" cy="824.0" r="2.25"/><circle cx="251.0" cy="818.0" r="2.25"/><circle cx="240.0" cy="829.0" r="2.25"/><circle cx="243.0" cy="834.0" r="2.25"/><circle cx="238.0" cy="842.0" r="2.25"/><circle cx="243.0" cy="838.0" r="2.25"/><circle cx="247.0" cy="843.0" r="2.25"/><circle cx="215.0" cy="843.0" r="2.25"/><circle cx="225.0" cy="841.0" r="2.25"/><circle cx="228.0" cy="845.0" r="2.25"/><circle cx="231.0" cy="848.0" r="2.25"/><circle cx="221.0" cy="849.0" r="2.25"/><circle cx="218.0" cy="853.0" r="2.25"/><circle cx="215.0" cy="857.0" r="2.25"/><circle cx="220.0" cy="857.0" r="2.25"/><circle cx="210.0" cy="861.0" r="2.25"/><circle cx="213.0" cy="866.0" r="2.25"/><circle cx="219.0" cy="869.0" r="2.25"/><circle cx="235.0" cy="859.0" r="2.25"/><circle cx="253.0" cy="848.0" r="2.25"/><circle cx="263.0" cy="853.0" r="2.25"/><circle cx="271.0" cy="858.0" r="2.25"/><circle cx="275.0" cy="858.0" r="2.25"/><circle cx="275.0" cy="861.0" r="2.25"/><circle cx="265.0" cy="815.0" r="2.25"/><circle cx="268.0" cy="819.0" r="2.25"/><circle cx="270.0" cy="822.0" r="2.25"/><circle cx="273.0" cy="825.0" r="2.25"/><circle cx="276.0" cy="827.0" r="2.25"/><circle cx="274.0" cy="830.0" r="2.25"/><circle cx="271.0" cy="832.0" r="2.25"/><circle cx="269.0" cy="834.0" r="2.25"/><circle cx="275.0" cy="834.0" r="2.25"/><circle cx="280.0" cy="832.0" r="2.25"/><circle cx="274.0" cy="847.0" r="2.25"/><circle cx="275.0" cy="850.0" r="2.25"/><circle cx="280.0" cy="875.0" r="2.25"/><circle cx="274.0" cy="879.0" r="2.25"/><circle cx="273.0" cy="886.0" r="2.25"/><circle cx="306.0" cy="824.0" r="2.25"/><circle cx="309.0" cy="826.0" r="2.25"/><circle cx="241.0" cy="899.6" r="2.25"/><circle cx="225.0" cy="886.0" r="2.25"/><circle cx="222.0" cy="893.0" r="2.25"/><circle cx="220.0" cy="898.0" r="2.25"/><circle cx="226.0" cy="908.0" r="2.25"/><circle cx="213.0" cy="902.0" r="2.25"/><circle cx="208.0" cy="908.0" r="2.25"/><circle cx="241.0" cy="909.0" r="2.25"/><circle cx="322.0" cy="895.0" r="2.25"/><circle cx="324.0" cy="898.0" r="2.25"/><circle cx="326.0" cy="901.0" r="2.25"/><circle cx="327.0" cy="904.0" r="2.25"/><circle cx="318.0" cy="904.0" r="2.25"/><circle cx="311.0" cy="908.0" r="2.25"/><circle cx="307.0" cy="909.0" r="2.25"/><circle cx="324.0" cy="909.6" r="2.25"/><circle cx="249.0" cy="846.0" r="2.25"/><circle cx="233.0" cy="836.0" r="2.25"/><circle cx="224.0" cy="836.0" r="2.25"/><circle cx="234.0" cy="853.0" r="2.25"/><circle cx="212.0" cy="850.0" r="2.25"/><circle cx="246.0" cy="830.0" r="2.25"/><circle cx="237.0" cy="832.0" r="2.25"/><circle cx="267.0" cy="824.0" r="2.25"/><circle cx="272.0" cy="828.0" r="2.25"/><circle cx="277.0" cy="831.0" r="2.25"/><circle cx="278.0" cy="840.0" r="2.25"/><circle cx="245.0" cy="840.0" r="2.25"/><circle cx="230.0" cy="841.0" r="2.25"/><circle cx="219.0" cy="888.0" r="2.25"/><circle cx="211.0" cy="912.0" r="2.25"/><circle cx="215.0" cy="909.6" r="2.25"/></g>
<circle cx="284" cy="847" r="2.25" fill="#CFE0EE" fill-opacity="0.8"/>
<circle cx="303.0" cy="812.0" r="2.25" fill="#E8C6BC" fill-opacity="0.8"/>
<circle cx="222.0" cy="880.0" r="2.25" fill="#E8C6BC" fill-opacity="0.8"/>
<circle cx="298.0" cy="813.6" r="2.25" fill="#ECC1B5" fill-opacity="0.8"/>
<circle cx="279.0" cy="838.0" r="2.25" fill="#ECC1B5" fill-opacity="0.8"/>
<circle cx="267.0" cy="836.0" r="2.25" fill="#ECC1B5" fill-opacity="0.8"/>
<circle cx="246.0" cy="855.0" r="2.25" fill="#ECC1B5" fill-opacity="0.8"/>
<circle cx="231.0" cy="866.0" r="2.25" fill="#ECC1B5" fill-opacity="0.8"/>
<circle cx="230.0" cy="871.0" r="2.25" fill="#ECC1B5" fill-opacity="0.8"/>
<circle cx="220.0" cy="902.0" r="2.25" fill="#ECC1B5" fill-opacity="0.8"/>
<circle cx="220.0" cy="884.0" r="2.25" fill="#ECC1B5" fill-opacity="0.8"/>
<circle cx="265.0" cy="866.0" r="2.25" fill="#ECC1B5" fill-opacity="0.8"/>
<circle cx="282.0" cy="833.0" r="2.25" fill="#EEBCAE" fill-opacity="0.8"/>
<circle cx="243.0" cy="854.4" r="2.25" fill="#EEBCAE" fill-opacity="0.8"/>
<circle cx="215.0" cy="892.0" r="2.25" fill="#EEBCAE" fill-opacity="0.8"/>
<circle cx="209.0" cy="900.0" r="2.25" fill="#EEBCAE" fill-opacity="0.8"/>
<circle cx="210.0" cy="904.0" r="2.25" fill="#EEBCAE" fill-opacity="0.8"/>
<circle cx="225.0" cy="877.0" r="2.25" fill="#EEBCAE" fill-opacity="0.8"/>
<circle cx="277.0" cy="843.0" r="2.25" fill="#EFB5A5" fill-opacity="0.8"/>
<circle cx="227.0" cy="854.0" r="2.25" fill="#EFB5A5" fill-opacity="0.8"/>
<circle cx="275.0" cy="893.0" r="2.25" fill="#EFB5A5" fill-opacity="0.8"/>
<circle cx="212.0" cy="894.0" r="2.25" fill="#EFB5A5" fill-opacity="0.8"/>
<circle cx="226.0" cy="893.6" r="2.25" fill="#EFB5A5" fill-opacity="0.8"/>
<circle cx="265.0" cy="910.6" r="2.25" fill="#EFB5A5" fill-opacity="0.8"/>
<circle cx="287.0" cy="811.6" r="2.25" fill="#F1AE9D" fill-opacity="0.8"/>
<circle cx="270.0" cy="875.0" r="2.25" fill="#F1AE9D" fill-opacity="0.8"/>
<circle cx="247.0" cy="892.6" r="2.25" fill="#F1AE9D" fill-opacity="0.8"/>
<circle cx="272.0" cy="873.0" r="2.25" fill="#F2A895" fill-opacity="0.8"/>
<circle cx="250.0" cy="893.6" r="2.25" fill="#F2A895" fill-opacity="0.8"/>
<circle cx="253.0" cy="892.4" r="2.25" fill="#F2A895" fill-opacity="0.8"/>
<circle cx="269.6" cy="882.0" r="2.25" fill="#F3A18D" fill-opacity="0.8"/>
<circle cx="255.0" cy="896.0" r="2.25" fill="#F3A18D" fill-opacity="0.8"/>
<circle cx="281.0" cy="820.6" r="2.25" fill="#F49A84" fill-opacity="0.8"/>
<circle cx="254.0" cy="861.0" r="2.25" fill="#F49A84" fill-opacity="0.8"/>
<circle cx="267.0" cy="880.0" r="2.25" fill="#F49A84" fill-opacity="0.8"/>
<circle cx="258.0" cy="884.0" r="2.25" fill="#F49A84" fill-opacity="0.8"/>
<circle cx="260.0" cy="892.0" r="2.25" fill="#F49A84" fill-opacity="0.8"/>
<circle cx="257.0" cy="893.6" r="2.25" fill="#F49A84" fill-opacity="0.8"/>
<circle cx="258.0" cy="897.0" r="2.25" fill="#F49A84" fill-opacity="0.8"/>
<circle cx="264.4" cy="877.0" r="2.25" fill="#F5937C" fill-opacity="0.8"/>
<circle cx="261.0" cy="886.4" r="2.25" fill="#F5937C" fill-opacity="0.8"/>
<circle cx="255.0" cy="899.0" r="2.25" fill="#F5937C" fill-opacity="0.8"/>
<circle cx="216.0" cy="897.0" r="2.25" fill="#F5937C" fill-opacity="0.8"/>
<circle cx="248.0" cy="858.6" r="2.25" fill="#F68C74" fill-opacity="0.8"/>
<circle cx="273.6" cy="869.0" r="2.25" fill="#F68C74" fill-opacity="0.8"/>
<circle cx="263.6" cy="891.0" r="2.25" fill="#F68C74" fill-opacity="0.8"/>
<circle cx="253.0" cy="907.4" r="2.25" fill="#F68C74" fill-opacity="0.8"/>
<circle cx="255.0" cy="865.6" r="2.25" fill="#F5816A" fill-opacity="0.8"/>
<circle cx="263.6" cy="883.0" r="2.25" fill="#F57760" fill-opacity="0.8"/>
<circle cx="267.0" cy="893.6" r="2.25" fill="#F57760" fill-opacity="0.8"/>
<circle cx="265.0" cy="887.4" r="2.25" fill="#F4634D" fill-opacity="0.8"/>
<circle cx="265.6" cy="843.0" r="2.25" fill="#F35944" fill-opacity="0.8"/>
<circle cx="268.0" cy="888.4" r="2.25" fill="#F24430" fill-opacity="0.8"/>
</g>
<defs><linearGradient id="cb" x1="0" y1="1" x2="0" y2="0"><stop offset="0" stop-color="#DADADA"/><stop offset="0.12" stop-color="#E8C8C0"/><stop offset="0.5" stop-color="#F58A78"/><stop offset="1" stop-color="#F2210F"/></linearGradient></defs>
<rect x="217" y="929.4" width="12.3" height="62.2" fill="url(#cb)"/>
<text x="235" y="936.2" font-size="9.5" text-anchor="start" fill="#000" >0.4</text>
<text x="235" y="951" font-size="9.5" text-anchor="start" fill="#000" >0.3</text>
<text x="235" y="965.8" font-size="9.5" text-anchor="start" fill="#000" >0.2</text>
<text x="235" y="980.6" font-size="9.5" text-anchor="start" fill="#000" >0.1</text>
<text x="235" y="995.4" font-size="9.5" text-anchor="start" fill="#000" >0.0</text>
</svg>
</body></html>
